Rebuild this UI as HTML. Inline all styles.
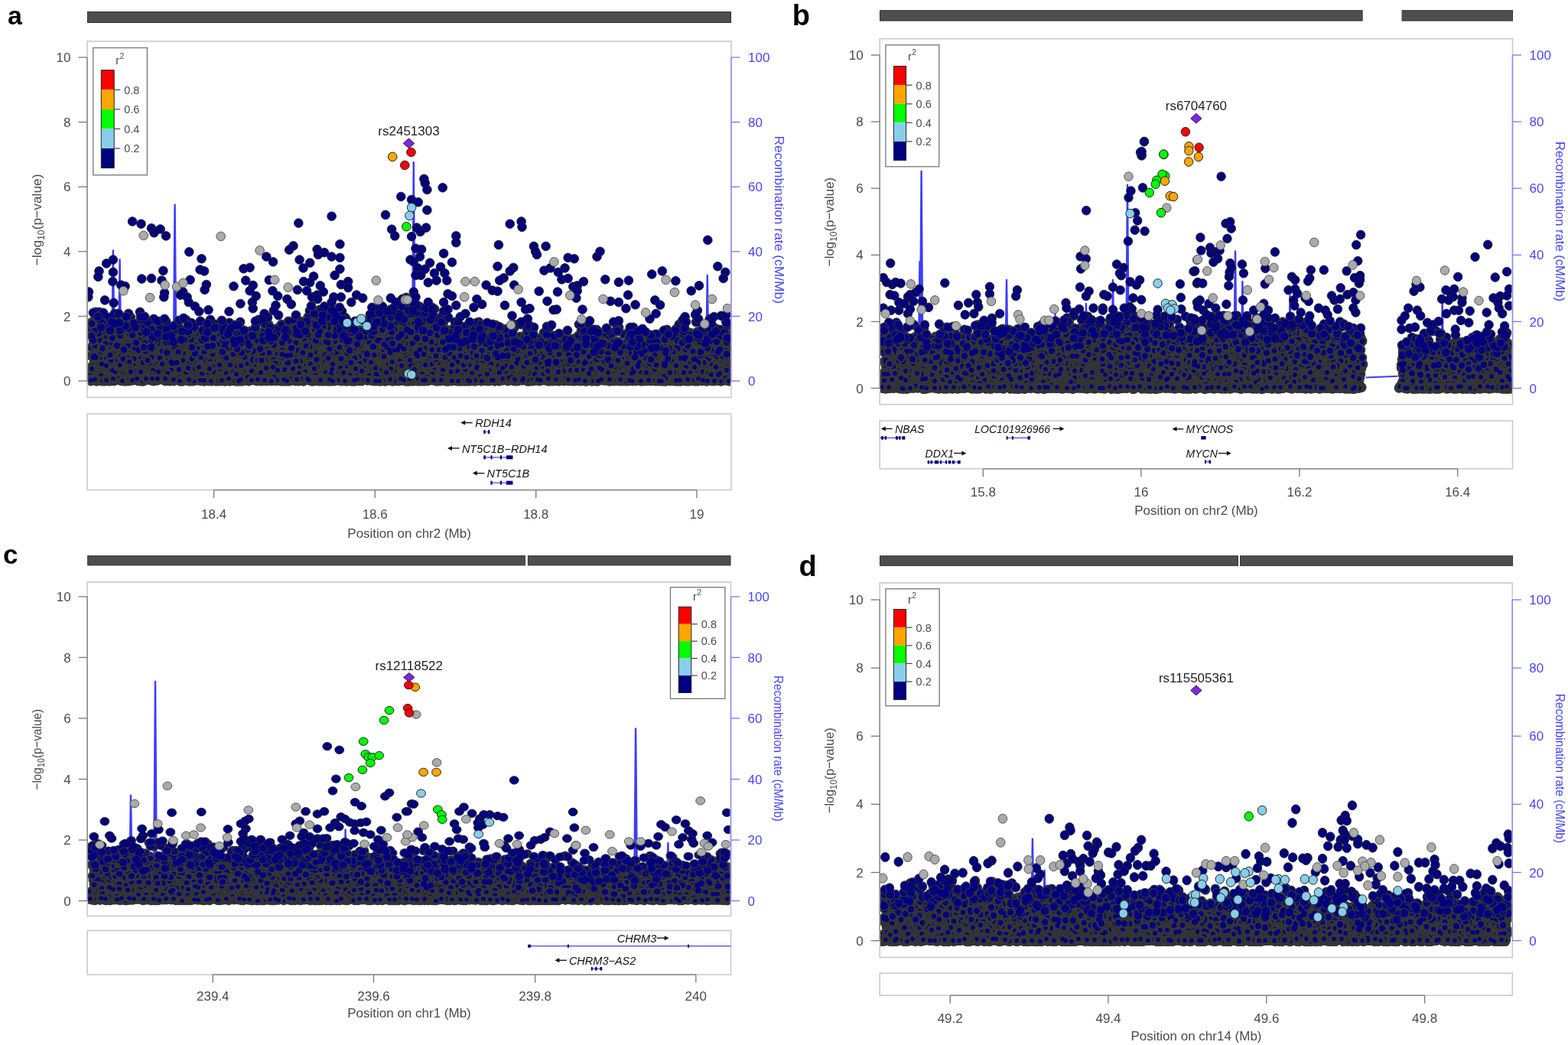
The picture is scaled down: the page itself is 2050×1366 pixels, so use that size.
<!DOCTYPE html><html><head><meta charset="utf-8"><title>Regional association plots</title><style>
html,body{margin:0;padding:0;background:#fff;width:2050px;height:1366px;overflow:hidden}
svg{display:block}
text{font-family:'Liberation Sans', Arial, Helvetica, sans-serif}
.tk{font-size:17px;fill:#4a4a4a}
.rt{font-size:17px;fill:#4646ff}
.gn{font-size:14.5px;fill:#111;font-style:italic}
.lg{font-size:14.5px;fill:#4a4a4a}
.pl{font-size:38px;font-weight:bold;fill:#000}
circle{r:5.6px}
</style></head><body>
<svg width="2050" height="1366" viewBox="0 0 2050 1366">
<rect width="2050" height="1366" fill="#fff"/><defs><path id="La0" d="M119 430h0m6-7h0m4 3h0m19 0h0m3 15h0m9-15h0m5-2h0m3 19h0m2-5h0m37 4h0m24-9h0m1 14h0m4-12h0m10 14h0m13-12h0m18-7h0m17 2h0m33 12h0m7 8h0m3 0h0m5-9h0m8 0h0m6 5h0m28-7h0m3-1h0m28-12h0m4 4h0m10 8h0m6-12h0m4 6h0m15 8h0m4 4h0m17-7h0m13-6h0m29 1h0m11-10h0m37 12h0m7-14h0m0 12h0m1-10h0m3 4h0m14 21h0m4-8h0m7 9h0m14-12h0m8 7h0m24 6h0m0-16h0m5 10h0m1 9h0m17-11h0m10-3h0m1 16h0m49 1h0m22-5h0m24 4h0m13-10h0m12 2h0m5-2h0m17 3h0m2 3h0m21 10h0m5-10h0m0-5h0m14-6h0m17 11h0m3-2h0m1-7h0m15 4h0m22-14h0m9 20h0m12-2h0"/><path id="La1" d="M129 467h0m10-4h0m6 2h0m7 3h0m14-20h0m14 6h0m14 10h0m16-11h0m3 18h0m9-12h0m56-6h0m13 22h0m3-11h0m5-3h0m1 0h0m10 9h0m3-6h0m9 7h0m4-5h0m2 4h0m7 4h0m2-14h0m2 12h0m29-18h0m17 9h0m1-15h0m28 3h0m4-6h0m5 18h0m27-8h0m7 6h0m6 1h0m27-5h0m12 12h0m1-3h0m32-12h0m24 0h0m14 16h0m51-4h0m9 3h0m15-10h0m8 4h0m10 0h0m1 6h0m0-11h0m1 11h0m2-8h0m1 13h0m19-11h0m0 14h0m6 0h0m2-3h0m1-10h0m5 7h0m3 7h0m22-3h0m7 2h0m0-12h0m9 0h0m3 4h0m22 8h0m6-7h0m0-2h0m4-6h0m10 9h0m3-4h0m47-1h0m2 11h0m4-9h0m33 0h0m13 8h0m5-16h0m8-4h0m1 14h0m1-9h0m1 9h0m1-15h0m15 21h0m14-9h0"/><path id="La2" d="M121 495h0m3-19h0m4 1h0m16 4h0m21-7h0m2 22h0m13-11h0m19-11h0m23 23h0m1-9h0m17 4h0m1-8h0m7 12h0m1-16h0m42 6h0m6-5h0m46 5h0m4-7h0m2 7h0m6 6h0m22 3h0m1-21h0m20 19h0m6-12h0m48-2h0m8 10h0m13-13h0m10 2h0m11 15h0m4-3h0m9-17h0m7 10h0m16 4h0m6-4h0m1 6h0m1-1h0m6-4h0m48 7h0m25-12h0m3 14h0m3-10h0m16 7h0m9-5h0m4 13h0m16-6h0m2-5h0m28 10h0m3 0h0m2-4h0m16-2h0m8-2h0m6 5h0m6 2h0m1-15h0m2 8h0m17 8h0m12-1h0m8 0h0m7-6h0m3 1h0m47-9h0m25 8h0m19 7h0m3-4h0m9-4h0m1-2h0m12 6h0"/><path id="La3" d="M122 496h0m4 2h0m18 0h0m10-3h0m7 2h0m5 1h0m14-1h0m6-2h0m11 2h0m10-1h0m14 2h0m6 0h0m12 0h0m12 0h0m5-3h0m14 2h0m8-1h0m14 0h0m8 2h0m14-1h0m8-2h0m7 0h0m10 2h0m14 0h0m3 0h0m13-1h0m9 1h0m11 1h0m8 0h0m14-2h0m10 1h0m3 1h0m15-2h0m14-1h0m6 0h0m14 3h0m11-1h0m2 0h0m9-2h0m19 2h0m4 0h0m10 0h0m6 0h0m15-1h0m12-1h0m9 1h0m7-1h0m10 2h0m13 0h0m9 1h0m6-1h0m10 0h0m18-1h0m3 1h0m12 0h0m14 1h0m5 0h0m10-2h0m14 0h0m6 0h0m14 0h0m9 2h0m11-1h0m8 0h0m9-1h0m14 1h0m6-2h0m12 0h0m6 1h0m18-1h0m7 2h0m11 0h0m7-2h0m7 1h0m14-1h0m13 1h0m8 1h0m8 1h0m7 0h0m14-2h0m8 2h0m11-3h0m11 1h0m8 1h0"/><path id="La4" d="M157 432h0m17 11h0m17 6h0m5-20h0m5 1h0m16 14h0m19-8h0m7 17h0m4 0h0m0-17h0m17-2h0m11 1h0m11 0h0m6 0h0m10 5h0m12 1h0m23 13h0m1-17h0m20 5h0m2-5h0m7 8h0m1-18h0m16 11h0m10 7h0m11-17h0m7-5h0m18 9h0m13-15h0m0 14h0m7-6h0m11 29h0m10-6h0m33-21h0m9 7h0m10-5h0m3-5h0m8-15h0m9 15h0m2 10h0m12-1h0m8 5h0m8-7h0m1 8h0m2 2h0m8-10h0m20 16h0m14 3h0m53 0h0m27 2h0m3 7h0m18-14h0m20 2h0m6 2h0m7-6h0m3 5h0m2-1h0m4 10h0m8-7h0m23-2h0m38 2h0m10 1h0m18-2h0m22-7h0m6 10h0m11-11h0m17 2h0m34 10h0m2-1h0m1-2h0"/><path id="La5" d="M125 446h0m20 8h0m10 7h0m6 9h0m21-2h0m2-14h0m2 4h0m3 14h0m11-15h0m4 9h0m17 2h0m6-14h0m29 8h0m18 10h0m8-1h0m15-17h0m2 9h0m12 0h0m14 8h0m1-15h0m12 9h0m4 4h0m7-5h0m3 1h0m12 8h0m1-19h0m7 11h0m12 3h0m2-15h0m3 2h0m9-4h0m3 10h0m1 9h0m41-25h0m1 11h0m19 9h0m10 2h0m28-2h0m16-7h0m11 3h0m12-14h0m8 20h0m16 1h0m10-20h0m21 17h0m1-3h0m37 7h0m1 0h0m26 2h0m6-10h0m5 7h0m16-4h0m10 11h0m18 3h0m3-5h0m8-9h0m6 9h0m4-11h0m16 4h0m17-3h0m22 15h0m9-5h0m20 4h0m20 3h0m8-16h0m18 12h0m13-8h0m4-2h0m1 12h0m11-4h0m4-12h0m4-5h0m3 6h0m19 0h0m7 8h0"/><path id="La6" d="M135 497h0m6-23h0m8 6h0m12 16h0m14 1h0m21-15h0m5 12h0m5 2h0m16-20h0m9 2h0m26 10h0m22-12h0m3 15h0m32-14h0m6 5h0m1-3h0m11 2h0m35-4h0m0 16h0m9-12h0m8 14h0m0-3h0m16-16h0m18 14h0m40-2h0m23-13h0m7 10h0m9-1h0m33-2h0m3 16h0m0-29h0m6 15h0m6-7h0m4 10h0m1 7h0m28-3h0m1-12h0m7-2h0m18 11h0m0 6h0m9 4h0m5-19h0m4 18h0m3-11h0m2-6h0m16 11h0m25-2h0m21 8h0m15-3h0m1 1h0m13-9h0m2 10h0m19-10h0m16-5h0m8-1h0m16 5h0m7-1h0m10 12h0m20-13h0m33 13h0m16-7h0m3 3h0m10-1h0m2-1h0m0-8h0m9 0h0m0 6h0m4-7h0m17 17h0m5-18h0m13-2h0m2 3h0m3 0h0m19-3h0"/><path id="La7" d="M122 495h0m11 3h0m1-1h0m14 0h0m9 0h0m13 0h0m10-2h0m10 1h0m12 0h0m4 1h0m16 0h0m9-1h0m12-1h0m4 1h0m13 0h0m7 2h0m13-3h0m14 1h0m4 1h0m13-2h0m5 3h0m9 0h0m18 0h0m2-2h0m10 0h0m16 2h0m8-1h0m14-1h0m4 2h0m9-1h0m9-2h0m17 2h0m9 0h0m5 1h0m16-2h0m4 1h0m14-1h0m14 2h0m10 0h0m6-1h0m10 1h0m7-2h0m9 2h0m13-3h0m6 3h0m14-2h0m14 0h0m3 2h0m11 0h0m10 0h0m11-1h0m15 0h0m7 0h0m13 1h0m6-3h0m14 2h0m7-1h0m11 0h0m4 1h0m19-2h0m4 0h0m8 2h0m17 1h0m1-3h0m12 1h0m17 2h0m8 0h0m7-1h0m15 1h0m11-2h0m5 1h0m8-1h0m12 0h0m6 2h0m19-3h0m7 3h0m8-1h0m15-1h0m4-1h0m10 3h0m10-2h0m13 0h0m11 2h0m7-2h0"/><path id="La8" d="M135 425h0m43 19h0m0-7h0m28 13h0m14-9h0m27 12h0m9-10h0m6-7h0m5 11h0m9-4h0m9-14h0m15 19h0m9-11h0m32 17h0m0-19h0m1 9h0m0 7h0m2-9h0m19-5h0m35-17h0m4 9h0m3-9h0m12 17h0m5-7h0m42 3h0m6 8h0m2-1h0m6 3h0m10-6h0m9-12h0m0 14h0m31-20h0m2-4h0m3-1h0m9 7h0m10 18h0m5-6h0m2 4h0m8-17h0m21 27h0m16-12h0m16 9h0m17-8h0m3 13h0m16 4h0m24 0h0m12-11h0m7 10h0m17-9h0m1 13h0m41-15h0m7 8h0m3 7h0m1-10h0m11-3h0m1 17h0m10 1h0m3-10h0m2-6h0m1 11h0m0-3h0m17 6h0m33-14h0m2 8h0m3 7h0m10-9h0m7 8h0m2-6h0m4 3h0m3-16h0m4 16h0m8-15h0m6-4h0m6-2h0m5 5h0m6 12h0m11-19h0m23 9h0m4-5h0"/><path id="La9" d="M122 451h0m2 1h0m2 2h0m4 15h0m20-19h0m5 19h0m5-20h0m5 8h0m12-1h0m4 15h0m3 0h0m11 1h0m4-20h0m21 16h0m2 6h0m8 2h0m10-19h0m8 10h0m5-12h0m15 15h0m2-15h0m7 9h0m4 6h0m8-4h0m10 6h0m26-15h0m12-1h0m6 6h0m17 11h0m6-19h0m17-5h0m8 20h0m25-21h0m33 17h0m4-11h0m23 18h0m8-3h0m17-11h0m22-16h0m17 15h0m25-12h0m0 19h0m5-4h0m3 6h0m19 2h0m38 5h0m35-1h0m10-10h0m7-1h0m6 15h0m4-5h0m1 6h0m3 2h0m1-3h0m1-4h0m29 2h0m2 5h0m3-9h0m3 2h0m9-5h0m4 10h0m1-8h0m12-7h0m5 7h0m4-1h0m30-4h0m4 0h0m7 11h0m7-5h0m11 8h0m18-4h0m17-12h0m0 13h0m11-5h0m1 8h0m2-3h0m3-15h0m6 5h0m16 12h0m0-11h0m18 9h0m9 0h0m1 1h0m19-6h0"/><path id="La10" d="M126 495h0m15 3h0m8-22h0m36 2h0m12 15h0m2-14h0m8-3h0m7 8h0m23 14h0m15-12h0m39 11h0m1-2h0m3 3h0m9-15h0m6-5h0m8 18h0m11-18h0m52-1h0m9 13h0m3 3h0m24-21h0m19 10h0m12 4h0m25 0h0m4-1h0m14 6h0m14-16h0m35 4h0m26 2h0m1-2h0m4-1h0m21 4h0m12 6h0m3 2h0m8-12h0m22 20h0m32-16h0m33 4h0m18 8h0m12 2h0m31-7h0m18-8h0m3 3h0m14 10h0m22-1h0m1-5h0m4 4h0m6-10h0m33 5h0m3-2h0m12 3h0m28-11h0m21 0h0m5 19h0m8-19h0"/><path id="La11" d="M119 497h0m8 1h0m10 0h0m10-1h0m12-1h0m10 2h0m10-1h0m8 1h0m10-1h0m15-2h0m11 0h0m1 2h0m16 0h0m7-1h0m10-1h0m11 2h0m12-1h0m13 1h0m2 1h0m14 0h0m13-2h0m8 0h0m5-1h0m17 2h0m3-1h0m18 2h0m8-1h0m8-1h0m15-1h0m9 1h0m2 1h0m17 0h0m3-1h0m14-1h0m12 3h0m4 0h0m12-2h0m13 0h0m13 2h0m10 0h0m1-1h0m20-1h0m6 0h0m9 0h0m6 0h0m18 0h0m2 1h0m18-1h0m8 2h0m9-3h0m11 0h0m12 1h0m1 1h0m12 0h0m8 0h0m14-1h0m9-1h0m13 3h0m6 0h0m18-1h0m4-1h0m9 1h0m10-1h0m17 1h0m5 0h0m15-1h0m6-1h0m12 1h0m6 1h0m14 1h0m12-3h0m9 1h0m8 1h0m8-2h0m14 2h0m2-1h0m11 2h0m12 0h0m16-2h0m10 0h0m5 0h0m6-1h0m17 3h0m11-3h0"/><path id="La12" d="M134 436h0m7-14h0m1 8h0m5-2h0m12 3h0m26 3h0m2 6h0m12-7h0m7 9h0m12-3h0m3 9h0m5-2h0m11 8h0m10-5h0m18-4h0m8 5h0m60-12h0m5 12h0m16-2h0m3-9h0m28 7h0m1-14h0m23 9h0m20-5h0m7-2h0m20 1h0m51 0h0m9-13h0m36-3h0m33 16h0m13 4h0m9 8h0m34-12h0m1 7h0m0 1h0m37 4h0m10-7h0m5 1h0m10 9h0m11 4h0m3-2h0m1-5h0m12 4h0m12-9h0m2 2h0m19 7h0m2 0h0m17 9h0m3 0h0m0-6h0m6-4h0m7 6h0m8-1h0m52 2h0m6-3h0m10-7h0m1 4h0m5-10h0m3 14h0m2-17h0m2 3h0m5 14h0m4-16h0m0 6h0m13-10h0m19 5h0"/><path id="La13" d="M141 472h0m14-11h0m23-7h0m3 17h0m0-9h0m13 11h0m5-17h0m13 19h0m6-13h0m7-4h0m8 3h0m6 1h0m36 12h0m2-10h0m30 10h0m10-6h0m19-12h0m2 9h0m4-10h0m59-3h0m8-9h0m22 21h0m13-15h0m3-2h0m5 9h0m2 14h0m6-8h0m12 6h0m18-17h0m12 13h0m26-12h0m14 14h0m18-18h0m4 16h0m4-6h0m2 0h0m1-8h0m19 19h0m2-12h0m2-2h0m5 17h0m6-4h0m13-2h0m7-6h0m2-3h0m19 8h0m5-4h0m4 9h0m40-7h0m28 5h0m20 3h0m4-5h0m13 4h0m46 9h0m6 0h0m5-8h0m34 9h0m20-10h0m7-4h0m1-3h0m8 10h0m4-8h0m6 10h0m8-7h0m10-1h0m12-11h0m3 8h0m4-1h0m12 2h0m3 10h0m1-20h0"/><path id="La14" d="M121 488h0m5-14h0m3 11h0m17-10h0m0 7h0m26 6h0m12-10h0m8-2h0m21 7h0m5 14h0m18-17h0m6 14h0m13-2h0m24-14h0m6 9h0m13-8h0m37-1h0m28 11h0m7-3h0m2-8h0m5 10h0m4-12h0m25 12h0m5-4h0m9-4h0m26-4h0m3 17h0m10-1h0m11-13h0m9 14h0m5-16h0m19 9h0m5-10h0m0 11h0m24-8h0m1 9h0m2-8h0m4-10h0m0 9h0m8 19h0m1-22h0m18-2h0m1 8h0m15-6h0m2 22h0m3-15h0m0 15h0m10-5h0m15-7h0m9 12h0m29-2h0m3-14h0m39 5h0m26 4h0m8-8h0m12 10h0m5-1h0m1-3h0m2 8h0m18-15h0m16 15h0m17-2h0m4-5h0m0-4h0m27-2h0m1 6h0m5-8h0m4 1h0m14 8h0m17 0h0m3-9h0m4 2h0m1 8h0m1-11h0m12 15h0m15-12h0m9 9h0m10 5h0m3-6h0m16-7h0m3 6h0"/><path id="La15" d="M120 495h0m9 1h0m6 1h0m14 1h0m14 0h0m1-1h0m19-2h0m3 1h0m9 0h0m13 0h0m11 1h0m14-1h0m5 2h0m14-1h0m10 0h0m5 1h0m8-3h0m15 2h0m9-2h0m6 1h0m18 0h0m5 0h0m13 1h0m6 0h0m13-1h0m7 2h0m13-3h0m11 1h0m8 1h0m12 0h0m4 0h0m17 0h0m2 0h0m13 1h0m11 0h0m6-3h0m16 2h0m7 0h0m11 1h0m9-3h0m8 1h0m16 1h0m9 0h0m13 0h0m10 0h0m1-1h0m20 2h0m6-2h0m11 2h0m8-2h0m10 0h0m14 1h0m9-2h0m5 3h0m12-2h0m5 2h0m11 0h0m15 0h0m10-1h0m14-2h0m3 3h0m14-2h0m11-1h0m10 3h0m8 0h0m8-1h0m7-1h0m11 0h0m9 0h0m13-1h0m13 1h0m4 0h0m17 0h0m12 1h0m1-2h0m15 3h0m11 0h0m10 0h0m11 0h0m5-1h0m8-1h0m10 0h0m11 1h0m17 1h0"/><path id="La16" d="M119 422h0m17 13h0m14-11h0m10 7h0m11 8h0m3-12h0m4 19h0m28-13h0m3 16h0m7-6h0m18 1h0m2 6h0m13-18h0m0 14h0m11-10h0m10 2h0m15 0h0m7 12h0m1-6h0m13-8h0m42 8h0m22-3h0m5 3h0m5 2h0m32-14h0m26 9h0m12 0h0m10 1h0m4-10h0m21 2h0m2 1h0m21-5h0m8 5h0m7-23h0m9-3h0m2 7h0m10 23h0m9-22h0m14 4h0m4-3h0m3 25h0m7-2h0m27 2h0m2 6h0m26-16h0m9 10h0m4 10h0m1-15h0m3 12h0m24 2h0m8-11h0m4 1h0m6 16h0m7-13h0m4 11h0m21-10h0m14 8h0m2-3h0m6 3h0m3 6h0m1-14h0m9-4h0m37 5h0m3 13h0m14-8h0m10-5h0m4 13h0m16-6h0m9 6h0m13-2h0m15-5h0m12-10h0m7 3h0m10-4h0m2 11h0m26 0h0"/><path id="La17" d="M119 454h0m6-3h0m50 9h0m6-8h0m0 13h0m17-14h0m27 8h0m52 9h0m3 5h0m0-15h0m6 5h0m24-4h0m10 8h0m4-9h0m0 4h0m16 3h0m11-2h0m2 11h0m35-11h0m3-10h0m4 18h0m6-17h0m1-2h0m7 12h0m1-7h0m12-12h0m38 12h0m4 0h0m5 3h0m33 8h0m7-19h0m42 3h0m3 11h0m4-11h0m11 9h0m3 5h0m21 0h0m15 6h0m21-10h0m19 13h0m1-1h0m29-2h0m22-6h0m24 1h0m5 6h0m17 3h0m4-13h0m2 11h0m11-3h0m6-7h0m0 5h0m5 6h0m4-6h0m2 2h0m18 5h0m2-1h0m3 5h0m16-16h0m1 5h0m10-3h0m16 7h0m5 5h0m1-8h0m14-7h0m5 1h0m10 8h0m11-7h0m7 7h0m24 0h0"/><path id="La18" d="M123 479h0m9 3h0m29 8h0m8 0h0m11-13h0m2 18h0m2-6h0m6-3h0m13 4h0m7 1h0m12-9h0m29 2h0m56 1h0m2 0h0m9 1h0m23-5h0m11 13h0m5-14h0m18 9h0m11-5h0m5 5h0m25-9h0m6-10h0m4 26h0m17-11h0m5 11h0m10-9h0m12 7h0m25-4h0m4-4h0m20-8h0m4-6h0m20 4h0m4 12h0m28 1h0m23-6h0m21 7h0m15 3h0m4-5h0m4 3h0m12-11h0m5-1h0m2 0h0m21 11h0m9 4h0m2-7h0m25 3h0m2-1h0m11 7h0m5-1h0m15-12h0m0 10h0m6-6h0m1 4h0m1 6h0m4-9h0m7-2h0m1-1h0m30 9h0m3-5h0m15 1h0m17-6h0m18 3h0m9-2h0m3 13h0m4-1h0m15-9h0m15 2h0m12-13h0m16 0h0m9 20h0m3-3h0m0-2h0"/><path id="La19" d="M120 496h0m10 0h0m7 1h0m14-1h0m4 0h0m19 0h0m7 0h0m7 0h0m13 2h0m13-2h0m4 0h0m8 0h0m9 2h0m16-2h0m5 1h0m17 1h0m7-1h0m9 1h0m7-2h0m16 2h0m12-2h0m8 1h0m6-2h0m12 1h0m9-1h0m11 3h0m14-2h0m2 2h0m13-2h0m9 2h0m6-1h0m14-1h0m7-1h0m13 1h0m14 1h0m11-1h0m11 1h0m2 0h0m18 0h0m10-1h0m9 1h0m8 1h0m8 0h0m11 0h0m7-1h0m8-1h0m18 0h0m3-1h0m14 2h0m11 0h0m9-1h0m6-1h0m9 1h0m12 2h0m12-2h0m8-1h0m16 0h0m8 3h0m7-1h0m10 0h0m14 1h0m9-1h0m7 0h0m9 1h0m13-1h0m14 0h0m3-1h0m8 0h0m14 2h0m9-2h0m6 2h0m18-3h0m11 2h0m8 1h0m5 0h0m14 0h0m12-3h0m3 1h0m11 0h0m16 2h0m7-1h0m5 1h0m17-2h0m5 1h0"/><path id="La20" d="M128 443h0m4-16h0m20 11h0m37 0h0m11 1h0m5-9h0m2 17h0m5 4h0m41-4h0m18-2h0m3 5h0m26 2h0m2-18h0m6 14h0m37-15h0m4 2h0m3 6h0m1 8h0m14-9h0m54-15h0m15 9h0m2-10h0m10 13h0m2 6h0m10 0h0m21-16h0m1 5h0m35-5h0m20 9h0m6-25h0m3 7h0m4 19h0m2-21h0m1 13h0m8 2h0m4-4h0m12 10h0m23 4h0m13 5h0m2 2h0m8-10h0m24 6h0m2 5h0m19-3h0m24-2h0m8 13h0m27 3h0m16-15h0m7-2h0m15 14h0m6 0h0m23-11h0m7 11h0m3 4h0m1-7h0m16 4h0m27 1h0m4 2h0m1-14h0m5 1h0m55 1h0m1 2h0m3 3h0m5-15h0m19-1h0m5-7h0m3 6h0"/><path id="La21" d="M134 458h0m21-9h0m1 8h0m4 7h0m0-13h0m11 11h0m2-6h0m1 2h0m0-7h0m5 7h0m5 12h0m27-10h0m49-7h0m13 6h0m1-6h0m20 6h0m6-3h0m3 15h0m7-13h0m9 16h0m15-16h0m2 5h0m19 6h0m17-8h0m20-1h0m0 12h0m1-24h0m5 15h0m2-13h0m6 1h0m7-5h0m5 23h0m3-5h0m12-2h0m0-13h0m18 5h0m4 3h0m22 14h0m1-1h0m38-18h0m14 7h0m14 8h0m18 0h0m22-3h0m16 4h0m2-7h0m7 15h0m1-15h0m0 12h0m0-5h0m4 4h0m6-17h0m3 14h0m29-9h0m1 6h0m5 6h0m11 5h0m17 0h0m17-12h0m7 3h0m2 10h0m15-9h0m32-3h0m1 3h0m1 6h0m16-10h0m3 7h0m31 2h0m5 0h0m19-2h0m21-7h0m33-4h0m27-6h0m4 15h0m3-1h0m5 2h0m13-11h0m4 3h0m4 8h0m0-3h0"/><path id="La22" d="M121 478h0m25 5h0m4 4h0m8 8h0m23-14h0m12-2h0m8-2h0m14 0h0m11 18h0m17-10h0m0-7h0m2 1h0m0 10h0m18 4h0m9-8h0m0-6h0m15 8h0m26 1h0m25-4h0m27-8h0m9 7h0m9-6h0m35 5h0m6 2h0m21-3h0m17-2h0m12 16h0m41-11h0m6 4h0m5-5h0m2 0h0m2 12h0m29-15h0m6 9h0m3-15h0m7 19h0m0-1h0m7-14h0m8 3h0m2 10h0m7-13h0m17 14h0m7-11h0m1-3h0m3 9h0m36-8h0m7 12h0m2 1h0m4-3h0m13 9h0m7-11h0m7 3h0m10 5h0m27-8h0m0-2h0m1 11h0m21-13h0m29 7h0m3 0h0m13 2h0m48-10h0m1 9h0m18-6h0m9 9h0m1-6h0m2 9h0m5-12h0m8 9h0m22-8h0m2-9h0m23 11h0"/><path id="La23" d="M117 497h0m10 0h0m13-1h0m10 0h0m8-1h0m16 1h0m6 1h0m8-1h0m11 1h0m13-1h0m5 0h0m9-1h0m14 2h0m14 0h0m6-2h0m14 2h0m9 1h0m3 0h0m11-2h0m16 0h0m9 1h0m3-1h0m11 2h0m13 0h0m12 0h0m5-2h0m12 2h0m14-1h0m5-2h0m14 2h0m12 0h0m6 1h0m5-2h0m19-1h0m10 1h0m1 2h0m11-2h0m17 1h0m6-1h0m13 1h0m10-1h0m9 0h0m5 0h0m10 2h0m9 0h0m17-2h0m8-1h0m13 1h0m12 1h0m9-1h0m7 2h0m9 0h0m6-1h0m12 1h0m8-3h0m10 2h0m18-1h0m5-1h0m12 2h0m8-2h0m16 2h0m1-2h0m15 2h0m12 0h0m12 1h0m0-3h0m15 2h0m10-1h0m13-1h0m7 3h0m11-3h0m5 2h0m16 1h0m10-2h0m4 0h0m14 1h0m5-1h0m11 2h0m18-3h0m1 1h0m18 2h0m9-2h0m5 1h0m11 0h0"/><path id="La24" d="M133 422h0m11 25h0m25-14h0m10-6h0m6 22h0m12-15h0m16 11h0m5 6h0m7-10h0m26-3h0m33 11h0m23-2h0m33-2h0m9-6h0m62-17h0m22-5h0m1 5h0m1 18h0m23-2h0m3 9h0m0-4h0m9 0h0m9 2h0m12-20h0m26-2h0m2 17h0m9-6h0m20 3h0m0-23h0m9 13h0m36 2h0m15 16h0m12-9h0m5 4h0m2 1h0m1 1h0m10 0h0m2-6h0m14 8h0m3 4h0m3 6h0m13-7h0m9 3h0m14 1h0m3-10h0m16 2h0m15 10h0m7 3h0m2 1h0m5-1h0m4 2h0m12-5h0m1-2h0m4 4h0m23-12h0m6 2h0m2 2h0m2 7h0m23 0h0m1 5h0m5 3h0m22-3h0m5-2h0m0-14h0m9 1h0m3 7h0m18-10h0m12 7h0m0-10h0m23 15h0m2-15h0m28 3h0m2-9h0"/><path id="La25" d="M119 465h0m13-5h0m46 12h0m47 2h0m8 0h0m4 1h0m10-5h0m9-1h0m0 0h0m0-4h0m33 2h0m2-3h0m3 8h0m36-1h0m1-2h0m17-9h0m15 3h0m22 0h0m2 9h0m1-20h0m12 1h0m19 15h0m1 2h0m0-23h0m25 14h0m18 0h0m3 1h0m43-1h0m4-15h0m14 5h0m10 15h0m1-19h0m3 17h0m17-18h0m7 15h0m0 0h0m17 10h0m19-15h0m11 5h0m1 16h0m13-11h0m0 5h0m16 5h0m14-13h0m13 4h0m8 4h0m4-6h0m4 9h0m7 1h0m3-14h0m5 7h0m3-3h0m1-1h0m2 10h0m2-10h0m1 12h0m6-6h0m12 9h0m12-6h0m9-6h0m14-4h0m2 12h0m2-2h0m1-2h0m24 5h0m20-11h0m5 12h0m4-2h0m1-4h0m4-5h0m14-1h0m12-1h0m1 2h0m2 4h0m18 7h0m12-17h0m33 11h0m16-17h0m19 0h0"/><path id="La26" d="M119 490h0m7-9h0m15-3h0m32 0h0m10 7h0m5 8h0m4-4h0m16 1h0m28 3h0m6-13h0m17 3h0m6 10h0m1-1h0m8 1h0m15 2h0m3-9h0m1-2h0m7 0h0m4 1h0m2-8h0m35 8h0m17-9h0m25 13h0m6-5h0m1 4h0m3 5h0m8-9h0m8 11h0m4-19h0m3 9h0m1-4h0m9 6h0m38 10h0m19-19h0m26 8h0m16 3h0m17-5h0m16-11h0m20 20h0m8-2h0m22-8h0m24 12h0m9-12h0m31 3h0m15 10h0m14-5h0m5 5h0m1-1h0m2 2h0m6-18h0m7 2h0m7 2h0m23 4h0m6 8h0m8 1h0m10-11h0m11 2h0m4 5h0m31 6h0m8-17h0m12 9h0m6-3h0m16 1h0m6 3h0m1 2h0m79-1h0"/><path id="La27" d="M120 497h0m5-1h0m16 0h0m3 2h0m13-1h0m11-1h0m16 2h0m5-2h0m10-1h0m7 2h0m11 0h0m8-1h0m18 0h0m8-1h0m6 2h0m12 0h0m11-1h0m14 1h0m3 0h0m15-2h0m2 3h0m17-2h0m4 1h0m12-1h0m9 0h0m11 2h0m12 0h0m12 0h0m12-3h0m9 0h0m12 0h0m7 3h0m12-1h0m10 1h0m7 0h0m5-1h0m9-1h0m14 2h0m14 0h0m10-1h0m10 1h0m6-1h0m13 1h0m8 0h0m10-3h0m14 3h0m7-1h0m7-1h0m8 0h0m13 0h0m14 2h0m10-1h0m9-1h0m9 1h0m7-1h0m17 0h0m2 1h0m15-2h0m12 1h0m2 1h0m11 1h0m15-2h0m12 0h0m1 0h0m14 2h0m9-1h0m11-1h0m13 1h0m3 0h0m16-2h0m13 2h0m10 0h0m2 0h0m18-1h0m10 0h0m7 2h0m8-3h0m14 2h0m6 1h0m9 0h0m15-1h0m4-1h0m12 1h0m7 0h0"/><path id="La28" d="M122 442h0m5 3h0m3-1h0m2-15h0m25-3h0m25 19h0m18-5h0m7 8h0m14-5h0m7-9h0m11 18h0m11-8h0m17-12h0m10 10h0m6-7h0m7 2h0m8-7h0m0 11h0m1-1h0m4 8h0m17-1h0m5-4h0m30-3h0m11 8h0m13-24h0m17 18h0m16 0h0m1-27h0m0 4h0m5 12h0m5 7h0m1-20h0m5 4h0m0 6h0m5 11h0m6-2h0m37-2h0m17 3h0m11-14h0m3 2h0m8 7h0m15-14h0m1 5h0m17 6h0m3-9h0m23-1h0m13 17h0m8 3h0m22 14h0m1-16h0m12 11h0m5-9h0m8-7h0m5 16h0m4-8h0m6-4h0m25 19h0m1-3h0m11 3h0m9-2h0m2-4h0m3-5h0m5-1h0m41-1h0m27 3h0m10 4h0m4 7h0m20 1h0m13-11h0m26 9h0m20-9h0m25 4h0m20-18h0m0 10h0m3 11h0m7-20h0m4 3h0m7 8h0m9 6h0"/><path id="La29" d="M141 470h0m9-6h0m21 2h0m2 0h0m6-15h0m2 14h0m10-2h0m17 11h0m5-17h0m21 3h0m17 7h0m16-9h0m8 15h0m14-3h0m7-2h0m52 0h0m4 2h0m14 3h0m2-5h0m5-3h0m2-7h0m3 1h0m29-14h0m30 10h0m25 10h0m2 7h0m0-13h0m1 2h0m5 14h0m6-14h0m17 3h0m9-6h0m20-7h0m48 12h0m3-4h0m33 18h0m10-18h0m21 4h0m1-7h0m14 15h0m1 3h0m4-2h0m8-3h0m22 2h0m12-1h0m23-6h0m72-1h0m3 16h0m6-7h0m19 8h0m2-17h0m16 17h0m1-13h0m7 11h0m0-10h0m43 1h0m15-11h0m5 11h0m9 5h0m16-6h0m12 0h0"/><path id="La30" d="M130 488h0m11 8h0m6-2h0m24-12h0m4-7h0m6 23h0m6 0h0m8-23h0m9 22h0m14-5h0m11-12h0m0 0h0m13 1h0m11-5h0m9 20h0m9-9h0m1 0h0m3 2h0m16 8h0m1-7h0m8 8h0m18-21h0m23 10h0m12-1h0m0-1h0m2-4h0m6-1h0m14-4h0m2-2h0m1 18h0m2-7h0m9 3h0m2-7h0m8 5h0m13 2h0m25-16h0m0 23h0m23-4h0m4-1h0m4-9h0m17-7h0m26 8h0m17-2h0m8 9h0m21-9h0m7-4h0m9-2h0m4 7h0m4 4h0m2 3h0m21 10h0m3-2h0m26-5h0m19 0h0m14-5h0m2-1h0m35 2h0m35 4h0m33 6h0m7-12h0m0 12h0m20 0h0m2-1h0m8 0h0m7 0h0m1-9h0m16 4h0m3 0h0m11 5h0m42-10h0m2-2h0m3-5h0m5 18h0m12-13h0m2-4h0m15 15h0m9-17h0m6 4h0"/><path id="La31" d="M120 496h0m9 0h0m14 1h0m10-1h0m4 1h0m15-1h0m12-1h0m1 1h0m13 0h0m6-1h0m11 1h0m13 0h0m11 2h0m10-2h0m8 0h0m7 1h0m12 0h0m10-1h0m12 1h0m14-2h0m3 1h0m19 1h0m7 1h0m6-1h0m10-1h0m11 1h0m10 0h0m11-1h0m12-1h0m8 3h0m13 0h0m6-1h0m8 0h0m10 0h0m11-2h0m13 3h0m10-1h0m9 0h0m13-1h0m3 2h0m16-2h0m10 2h0m3-1h0m18 0h0m10-2h0m7 1h0m11 0h0m7 2h0m17 0h0m5 0h0m9-2h0m12 0h0m6 0h0m15 0h0m9 0h0m7 0h0m15 0h0m10 2h0m9-2h0m11 1h0m6 0h0m13 0h0m11-2h0m11 2h0m11 0h0m3 0h0m8 1h0m14-1h0m8 1h0m12-1h0m9-2h0m14 2h0m10 0h0m5 0h0m16 0h0m11-1h0m4-1h0m12 2h0m5-1h0m15 1h0m7 0h0m14 1h0m12 0h0m7-1h0"/><path id="La32" d="M140 441h0m31-10h0m6-7h0m1 1h0m9 7h0m7 16h0m0-17h0m1-2h0m0 15h0m7 2h0m13 5h0m26-2h0m9-16h0m6 19h0m9-1h0m27-7h0m1 3h0m2 5h0m16-9h0m3-5h0m12 0h0m2 4h0m33 5h0m18-18h0m5 9h0m9-18h0m22 17h0m8-10h0m1 10h0m14 0h0m4 3h0m13-2h0m5-5h0m1 11h0m1-6h0m12 7h0m20-15h0m11 12h0m0-19h0m11 8h0m10-19h0m2 5h0m7 21h0m9-11h0m27 12h0m16 10h0m8-14h0m6 7h0m7-6h0m11 10h0m43 3h0m9-6h0m15 12h0m4-7h0m16 1h0m14-6h0m6 14h0m15-14h0m8 8h0m51 3h0m6 8h0m3-11h0m0-1h0m5 3h0m4-4h0m8-3h0m7 15h0m13-7h0m1-1h0m25-6h0m9 3h0m15-2h0m0-11h0m23 5h0"/><path id="La33" d="M140 471h0m0-3h0m5-11h0m7 3h0m1 11h0m3-20h0m6 15h0m6 2h0m30-1h0m16-6h0m7-4h0m4 0h0m14 14h0m20-15h0m8 6h0m11 1h0m27 2h0m9-7h0m15-3h0m8 6h0m10 0h0m3-4h0m5 11h0m13-11h0m1-3h0m3 7h0m15-13h0m3 10h0m21 2h0m9 7h0m4-23h0m16 21h0m11-5h0m7 10h0m0-15h0m5 0h0m6 11h0m19-6h0m25-17h0m42 12h0m22-1h0m1 11h0m1-11h0m7 16h0m0-16h0m4 6h0m18 3h0m2 7h0m21-9h0m19-4h0m13 16h0m4-13h0m8 15h0m2-6h0m14 8h0m20-9h0m1-1h0m10 10h0m8-16h0m7 17h0m53-11h0m1-4h0m8-1h0m11 2h0m4 6h0m29-4h0m10 4h0m8-4h0m11 9h0m15-15h0m6 16h0m27-19h0"/><path id="La34" d="M120 482h0m10-3h0m4-3h0m9-2h0m22 0h0m15 19h0m44-10h0m7 0h0m12 4h0m6 11h0m6-16h0m9 7h0m12-11h0m12 1h0m13 19h0m4-12h0m13 12h0m10-12h0m17-5h0m6 2h0m21 0h0m11 3h0m8 2h0m5 4h0m10-16h0m19-5h0m8 26h0m24-7h0m19-8h0m3 6h0m24 1h0m5 1h0m17-12h0m10 11h0m17 0h0m2 1h0m23-6h0m40 4h0m10 2h0m12 7h0m2 0h0m6-2h0m5-17h0m3 17h0m10-10h0m28-5h0m4 6h0m12 1h0m2 9h0m13-15h0m16 13h0m27-4h0m1 6h0m8-4h0m15 5h0m2-11h0m12 9h0m9-5h0m6 7h0m1-15h0m8 4h0m9 1h0m2 0h0m5-4h0m8 5h0m26-1h0m15 1h0m8-1h0m17-1h0m12-9h0m20 11h0m1 0h0"/><path id="La35" d="M119 498h0m14-1h0m4 1h0m17-3h0m4 0h0m6 3h0m18-3h0m3 2h0m15-1h0m6-1h0m12 2h0m10 0h0m12-2h0m14 2h0m5 0h0m8 1h0m17-1h0m10 1h0m7-2h0m4-1h0m11 1h0m11 1h0m16-2h0m11 1h0m2 0h0m18-1h0m1 3h0m10-2h0m11 2h0m15 0h0m7 0h0m13-2h0m6 2h0m17 0h0m10-3h0m6 1h0m8 0h0m10 0h0m13 1h0m7-2h0m11 1h0m14 2h0m10-3h0m8 0h0m9 1h0m10 2h0m5-1h0m11-1h0m9 0h0m13 0h0m9 2h0m16-1h0m4 0h0m14-2h0m10 1h0m7 1h0m12 0h0m13 1h0m10-1h0m4 0h0m14-1h0m10 2h0m6 0h0m16-2h0m1 0h0m13 2h0m11 0h0m15-1h0m2-2h0m10 2h0m16 0h0m9-1h0m8 2h0m10-3h0m8 2h0m18-1h0m9 2h0m3 0h0m14 0h0m13 0h0m6-2h0m6 0h0m17 1h0m5-1h0"/><path id="La36" d="M122 427h0m34 1h0m10-2h0m16 7h0m45 20h0m13-6h0m6-11h0m18-3h0m1 3h0m9-5h0m2 9h0m1-3h0m1 3h0m9 0h0m15-6h0m19-1h0m18 21h0m30-21h0m11-7h0m13 9h0m36 5h0m13-3h0m4 7h0m5-14h0m11 19h0m6-14h0m6-3h0m10 11h0m9 0h0m10-18h0m1 3h0m2 14h0m33-21h0m0 12h0m33 2h0m28 10h0m14 8h0m6-2h0m12 3h0m10-15h0m11 14h0m7-5h0m3-9h0m8 0h0m3 10h0m5 5h0m20-1h0m5-7h0m2-4h0m2 3h0m26-1h0m19 6h0m7 9h0m3-17h0m3 3h0m2 3h0m13 9h0m11 4h0m7-2h0m13-7h0m11 3h0m7 5h0m3-9h0m11-1h0m17-4h0m21-2h0m1-2h0m4-3h0m3 5h0m1 11h0m2 0h0m0-12h0m0-4h0m1 12h0m8-14h0m4 5h0m14 2h0m10 9h0m1-16h0m10 16h0m9-1h0"/><path id="La37" d="M124 451h0m14-2h0m4 13h0m3 9h0m1-23h0m21 4h0m5 0h0m3 17h0m6-9h0m4 8h0m5-8h0m2-7h0m30 3h0m9 15h0m17 4h0m18-14h0m22 0h0m14-6h0m13 21h0m5-6h0m10-10h0m2-2h0m9 4h0m28-4h0m30-13h0m9 9h0m6 16h0m20-16h0m1 9h0m3-17h0m2 14h0m6 9h0m43-5h0m38-15h0m4 6h0m1 11h0m5 2h0m3-26h0m4 17h0m26 11h0m7-13h0m22 10h0m32 4h0m49-12h0m9 6h0m7 12h0m1-3h0m9-11h0m4 4h0m33-4h0m2 3h0m1-6h0m2 10h0m2 9h0m24-15h0m6 6h0m7-4h0m3 6h0m9-1h0m19 7h0m0-3h0m4-6h0m5 5h0m4 0h0m25-5h0m2-3h0m10 10h0m19 0h0m19-17h0m23 3h0m5-3h0m1 4h0m2 3h0m11-8h0"/><path id="La38" d="M130 477h0m2 14h0m32 3h0m5-21h0m8 12h0m8 5h0m1-9h0m1 15h0m2-5h0m57-10h0m37 3h0m4-2h0m1 14h0m9 1h0m13-18h0m1-1h0m3 3h0m3 13h0m0-2h0m10 5h0m9-8h0m11 7h0m12-17h0m24 3h0m31 15h0m1-17h0m29 14h0m5-7h0m14-9h0m35 9h0m7 0h0m2 9h0m18 1h0m13-9h0m40-1h0m4 11h0m2-14h0m3 12h0m7-15h0m29 13h0m6-2h0m4 0h0m3 5h0m4-12h0m22-4h0m0 6h0m35-4h0m5 0h0m3 15h0m6-17h0m9-1h0m6 17h0m1-13h0m10 1h0m33 3h0m3-6h0m0 12h0m22-7h0m9 7h0m12 2h0m69-14h0m33 13h0m8-7h0"/><path id="La39" d="M122 495h0m4 1h0m10 1h0m10 0h0m17 0h0m1-1h0m16-1h0m10 2h0m14 0h0m8-2h0m11 3h0m2-2h0m13 1h0m8 1h0m15-1h0m10 0h0m6-2h0m15 3h0m4-1h0m13 1h0m6-2h0m10 2h0m17-2h0m4 1h0m13 0h0m9 0h0m12-1h0m4 0h0m17 0h0m9 0h0m6 2h0m11 0h0m7-3h0m10 1h0m19 0h0m11-1h0m9 0h0m7 2h0m11-2h0m10 2h0m6 0h0m13 1h0m5 0h0m18-2h0m4 0h0m14 2h0m5 0h0m11-2h0m15-1h0m11 0h0m4 2h0m14 0h0m9 1h0m5-2h0m9 1h0m18 0h0m5 0h0m9-1h0m11 0h0m11 0h0m10 0h0m9 1h0m17-2h0m6 3h0m12-1h0m5 0h0m13 1h0m14-1h0m10-1h0m3-1h0m12 3h0m12 0h0m10-2h0m12-1h0m2 1h0m19-1h0m7 2h0m6-2h0m15 0h0m12 2h0m1-1h0m14 0h0m9 0h0m16 0h0"/><path id="La40" d="M129 436h0m16 1h0m37-13h0m7 6h0m1 18h0m2-21h0m14 10h0m0-4h0m9-3h0m14 18h0m0 6h0m8-15h0m9-1h0m40 11h0m10 2h0m10-11h0m9 1h0m0 7h0m1-14h0m11-1h0m10 13h0m17 0h0m9-17h0m20 3h0m11 2h0m16-11h0m47 26h0m9-16h0m5-1h0m3 9h0m9 6h0m9-14h0m2 12h0m3 0h0m14-28h0m21 5h0m8-8h0m4 17h0m11-1h0m32 12h0m12 5h0m28 7h0m0-6h0m16 2h0m1-12h0m26 16h0m10 0h0m10-15h0m7 4h0m9 7h0m10 5h0m1-6h0m24-3h0m7 2h0m1 8h0m3-14h0m7 4h0m6-4h0m37 13h0m9 6h0m4-8h0m11-8h0m1 14h0m8-3h0m28 1h0m8-5h0m4 3h0m9-12h0m1 11h0m1 2h0m6-16h0m23 7h0"/><path id="La41" d="M150 458h0m8 8h0m18-11h0m2-4h0m1 2h0m2 5h0m6 16h0m3-5h0m19-1h0m8-11h0m16 3h0m18 9h0m6-6h0m6 4h0m13-11h0m12 18h0m34-15h0m0 16h0m3-18h0m12 14h0m6-9h0m9-1h0m6 9h0m45-20h0m2 3h0m20 11h0m2-21h0m3 3h0m2 15h0m32 7h0m38-2h0m27-6h0m5-10h0m10 12h0m2 3h0m3-8h0m5 6h0m11-6h0m21 5h0m8 5h0m4 6h0m20-6h0m0-6h0m12-3h0m1 8h0m22-5h0m7-4h0m3 6h0m15-3h0m22 4h0m2 1h0m13 8h0m1 4h0m1 0h0m1-5h0m14 1h0m13 0h0m4 3h0m14-16h0m7 6h0m14-1h0m8 0h0m5-2h0m2 15h0m9-7h0m30-7h0m18 0h0m21 7h0m3-11h0m20 16h0m26-18h0m4 0h0m15 8h0"/><path id="La42" d="M157 477h0m12 18h0m2-9h0m14 7h0m3 5h0m12-14h0m7 2h0m5-10h0m22 7h0m17 12h0m27-16h0m1 7h0m8-9h0m9 11h0m5-11h0m14 1h0m1 20h0m32-9h0m16-14h0m103 16h0m16 0h0m4-9h0m7 14h0m2-13h0m2 15h0m25-6h0m13-21h0m1 7h0m3 0h0m16-1h0m3 16h0m20-9h0m11 2h0m6-2h0m32 8h0m25-5h0m4-6h0m6-3h0m7 9h0m4 6h0m11-14h0m9 12h0m1-4h0m6-5h0m9 8h0m2-2h0m7 10h0m0-1h0m2-3h0m6-3h0m2 3h0m1-8h0m9 10h0m7-12h0m11 13h0m69-9h0m2-6h0m1-1h0m0 5h0m16 1h0m11-4h0m11 6h0m8 0h0m6-2h0m3-9h0m13 2h0m2 17h0m14-19h0m4 17h0m13-5h0m9 7h0m2-10h0m5-1h0"/><path id="La43" d="M115 496h0m11 2h0m8 0h0m12-1h0m9-2h0m18 1h0m2 0h0m11 2h0m15-3h0m11 1h0m4 2h0m10-1h0m17-1h0m5 2h0m15 0h0m10-2h0m9 2h0m9-1h0m5 0h0m11 1h0m10-2h0m12 0h0m9 1h0m13-2h0m4 1h0m17 1h0m8-2h0m6 1h0m8-1h0m13 3h0m13 0h0m12 0h0m10-1h0m12-1h0m7 2h0m8-2h0m7 0h0m11 0h0m14 1h0m11 1h0m4 0h0m11-1h0m12-2h0m8 0h0m12 3h0m7-1h0m9-1h0m15 1h0m13-1h0m9 2h0m9-1h0m12-1h0m8 0h0m5 0h0m12 1h0m13-2h0m13 1h0m5 1h0m8-2h0m8 1h0m11 1h0m11-2h0m7 1h0m17 0h0m12 1h0m4 1h0m7 0h0m16-3h0m6 3h0m11-1h0m11 1h0m11-2h0m8-1h0m16 2h0m6 1h0m8 0h0m14-1h0m9 1h0m10-3h0m8 2h0m12-2h0m5 2h0m18 1h0m1-1h0"/><path id="La44" d="M120 439h0m4-7h0m8-5h0m15 15h0m10-3h0m12-3h0m15-1h0m4-9h0m4 6h0m19-4h0m6 20h0m5-17h0m15 5h0m0 8h0m0-12h0m66 12h0m38 9h0m14-9h0m3 7h0m11-3h0m2-7h0m14-12h0m45-15h0m1 2h0m24 35h0m13-1h0m2 2h0m13-23h0m4 2h0m3-3h0m10 3h0m8-8h0m1 14h0m19-23h0m4 10h0m5-12h0m5 26h0m1-4h0m17 1h0m12 3h0m7 9h0m26-10h0m14 6h0m4 1h0m7-4h0m1 3h0m19 10h0m0-4h0m3 1h0m1-15h0m2 15h0m34-5h0m3 11h0m4-5h0m1 9h0m2-13h0m5 3h0m13-3h0m12 0h0m56 13h0m8-14h0m1 16h0m4-14h0m1 1h0m30 9h0m3 4h0m32-12h0m2 0h0m9-11h0m58 8h0m15-15h0m1 16h0"/><path id="La45" d="M122 467h0m1-2h0m1-13h0m1 15h0m9-11h0m0-1h0m10 9h0m8-10h0m2 1h0m7 14h0m32 2h0m19-12h0m12 14h0m1 2h0m6-1h0m36-14h0m38 3h0m15 4h0m22 4h0m18 4h0m9-12h0m6 2h0m5-1h0m16-3h0m4-9h0m6 12h0m20-17h0m3 1h0m0 20h0m2-12h0m13-2h0m10 8h0m5 12h0m43-24h0m4 4h0m1-10h0m2 7h0m0 4h0m1 6h0m2-18h0m4 14h0m4 0h0m3-5h0m5 4h0m2-16h0m9 9h0m3-3h0m22 1h0m6 18h0m4-8h0m8 10h0m20-2h0m8 2h0m13-2h0m35 0h0m4-6h0m1-1h0m7 3h0m1 1h0m3-1h0m0-3h0m15 16h0m4-12h0m26-1h0m10 16h0m2-14h0m13 12h0m10-7h0m1 4h0m65 3h0m7-7h0m2-3h0m5 14h0m1-6h0m10-5h0m13 9h0m32-9h0m5 1h0m1-12h0m0 10h0m11 3h0m4-2h0m2 6h0m11-16h0"/><path id="La46" d="M133 476h0m6 2h0m45 8h0m15 5h0m20-3h0m34 10h0m7-18h0m14 2h0m3 16h0m32-9h0m5 6h0m10-2h0m5-8h0m12 2h0m6 7h0m1-13h0m9-1h0m1 13h0m4 4h0m1-13h0m48-2h0m22 7h0m1-6h0m0 11h0m1-18h0m30 6h0m8 3h0m18-4h0m1 8h0m3 4h0m18-20h0m23 22h0m6-12h0m36 9h0m13-15h0m7 8h0m39 4h0m26 5h0m6-1h0m0-13h0m14 17h0m16-8h0m17-4h0m9 13h0m14-3h0m15-11h0m13 14h0m17-17h0m1 13h0m2-11h0m81 9h0m2 3h0m6-8h0m18 0h0m14-7h0m7 16h0m21-16h0m3 10h0m2-2h0m8 6h0m1-10h0m0 12h0"/><path id="La47" d="M119 497h0m5-1h0m15 1h0m9-2h0m12 3h0m13-1h0m6-2h0m12 0h0m8 0h0m7 0h0m10 0h0m11 1h0m8 2h0m12-2h0m15 1h0m5 0h0m9 1h0m14-1h0m9-2h0m13 3h0m3-2h0m14 1h0m8-1h0m9 1h0m9 1h0m16-2h0m4 2h0m13-2h0m14-1h0m2 2h0m15 0h0m12-1h0m4 2h0m16 0h0m12-1h0m4-1h0m14 1h0m10 1h0m5 0h0m14-2h0m14-1h0m4 2h0m8-2h0m17 2h0m3 0h0m11 0h0m10 0h0m14 1h0m8 0h0m13-1h0m2 1h0m16 0h0m13-1h0m2 0h0m12-2h0m16 1h0m10 1h0m1-2h0m19 1h0m4 1h0m10-2h0m10 1h0m16 0h0m9 1h0m5-1h0m8 2h0m17 0h0m4-2h0m11 0h0m14 0h0m12 1h0m4 1h0m11 0h0m10-1h0m14 1h0m3 0h0m19-1h0m5 0h0m10-1h0m14-1h0m6 2h0m6 1h0m9 0h0m19 0h0"/><path id="La48" d="M120 439h0m2-19h0m0 25h0m17-24h0m14 31h0m4-24h0m5 29h0m9-42h0m2 23h0m5 10h0m5-27h0m5 33h0m9 0h0m1-10h0m0 11h0m0-2h0m1-24h0m40 6h0m2 9h0m14 18h0m21-8h0m3-12h0m1-11h0m6-5h0m5 18h0m2 10h0m2-6h0m0 8h0m2-28h0m8 0h0m4 9h0m0 18h0m7 6h0m8-22h0m5-1h0m11 18h0m14-10h0m11-9h0m12-17h0m4 35h0m3-19h0m0-17h0m18 18h0m0-13h0m11 21h0m16-7h0m9 1h0m2-7h0m1-4h0m5 8h0m8-4h0m4 14h0m3-11h0m17 5h0m2-2h0m7-18h0m2 11h0m4-17h0m10 8h0m5-8h0m4 20h0m1 15h0m13-37h0m19 30h0m18-22h0m4-1h0m3 3h0m9 12h0m1-17h0m1 15h0m6 29h0m18-30h0m3 11h0m10-12h0m30 32h0m2-25h0m0 0h0m0 2h0m1 28h0m6-2h0m7 0h0m11-7h0m25 12h0m11-35h0m16 38h0m0 1h0m21-3h0m12-26h0m5-6h0m11 2h0m0 18h0m19 11h0m4-23h0m16-10h0m11 24h0m1 4h0m0-5h0m20-20h0m4 30h0m1-28h0m12 15h0m1-6h0m3-7h0m1 3h0m4 15h0m2-6h0m11-11h0m13 7h0m13-18h0m4 30h0m3-31h0m5 6h0m0 8h0m16-2h0m4-6h0m6-13h0m0 37h0"/><path id="La49" d="M120 423h0m20 6h0m28 1h0m13-2h0m13-5h0m7 14h0m6-13h0m11 37h0m16-33h0m13 1h0m0 0h0m4 25h0m3-24h0m10 15h0m7 8h0m7-1h0m12-23h0m1 31h0m2-20h0m4-11h0m13 27h0m14-8h0m2 4h0m20-28h0m0 20h0m5-20h0m10 6h0m1 7h0m6-13h0m1 7h0m8 3h0m26-20h0m3-5h0m10-2h0m0 31h0m2-5h0m16-20h0m13 15h0m10 30h0m6-29h0m4 21h0m13 13h0m6-24h0m2 14h0m5-31h0m18-7h0m10 26h0m4-4h0m3-38h0m0 24h0m4 8h0m5 3h0m12-19h0m3 6h0m4 22h0m6-8h0m1-22h0m1-2h0m7 7h0m6-4h0m3 7h0m0-4h0m2 40h0m5-3h0m6-9h0m0 9h0m5-19h0m22 18h0m17 15h0m4-14h0m31 2h0m12-3h0m5-19h0m8 2h0m11 15h0m13-7h0m9 4h0m4-10h0m12 33h0m8-7h0m2-25h0m5 3h0m5-10h0m9 19h0m16-15h0m5 3h0m0 13h0m11-3h0m15-8h0m2 3h0m6 23h0m2-8h0m7 3h0m4-4h0m5-18h0m3 1h0m7 13h0m5 1h0m6-11h0m0 33h0m0-1h0m1-15h0m0-20h0m1 17h0m2 11h0m11-39h0m8 18h0m24 12h0m8-33h0m1 28h0m1-29h0m2 20h0m7-17h0m2 18h0m2 13h0m2-3h0m1-17h0"/><path id="La50" d="M125 408h0m5 0h0m1 10h0m23 2h0m3 12h0m18-9h0m2 5h0m12 3h0m11-12h0m5 19h0m5-10h0m13 18h0m4-14h0m7-13h0m34 23h0m10-13h0m4-5h0m2 4h0m16-6h0m13 5h0m1-6h0m6 18h0m24 1h0m11-7h0m18-2h0m0 10h0m16-14h0m12-7h0m11-13h0m6-2h0m11 0h0m2 10h0m20 0h0m1 1h0m0 21h0m11-15h0m4-2h0m12 12h0m1-2h0m23-20h0m7 16h0m13-9h0m4 3h0m17-11h0m0-11h0m9 12h0m5 6h0m4-11h0m24 10h0m1 27h0m4-7h0m4-14h0m12 24h0m1-18h0m10 11h0m3-7h0m0-7h0m1 9h0m4-12h0m3 6h0m15-2h0m9 17h0m9-12h0m8-5h0m2 4h0m2 17h0m14-19h0m2 1h0m2 18h0m1-20h0m5 2h0m8 19h0m9 4h0m5-13h0m8 14h0m12-8h0m1 0h0m3 0h0m16-11h0m6-9h0m4 4h0m1 9h0m2 2h0m6-2h0m0 1h0m30-10h0m14 4h0m9 3h0m7 15h0m2-15h0m16 2h0m2 0h0m13-6h0m16-7h0m10 20h0m12-23h0m3 20h0m4-9h0m11-15h0m2 16h0m11-2h0"/><path id="La51" d="M122 409h0m13 0h0m0 2h0m8 4h0m7-5h0m18 0h0m22 15h0m8 6h0m3-14h0m5 24h0m1-21h0m11 14h0m0-7h0m9-1h0m20-4h0m4 1h0m11-3h0m13-2h0m14 8h0m3-1h0m0 8h0m18 9h0m6-7h0m89-29h0m8 5h0m1 14h0m3-17h0m10-5h0m12 3h0m4 17h0m2 9h0m1-1h0m1-24h0m1 26h0m10-4h0m6 3h0m7-14h0m28-4h0m3 9h0m8-18h0m6 1h0m7 5h0m5 6h0m3-22h0m0-6h0m6 21h0m10 10h0m0 8h0m9-19h0m2-7h0m6 0h0m1 0h0m6 26h0m9-21h0m30 28h0m2 8h0m11-21h0m2 2h0m2 15h0m9 9h0m3-6h0m9-17h0m6 3h0m22-4h0m14 1h0m7 13h0m18-1h0m10 2h0m15 16h0m17-31h0m4 7h0m3 9h0m7-3h0m7 7h0m0-13h0m2 0h0m3 3h0m16 2h0m3-2h0m5-4h0m17-2h0m4 0h0m5 25h0m1-17h0m2 7h0m15 1h0m7 3h0m10-15h0m15 3h0m9-15h0m2 13h0m17-12h0m0 15h0m3 2h0m8 11h0m3-6h0m6-8h0m1 2h0m9 0h0m3 2h0m3-4h0"/><path id="La52" d="M128 414h0m36 12h0m1-12h0m18-6h0m1 10h0m9 3h0m6 18h0m2 2h0m16-21h0m0 20h0m7-1h0m3 8h0m11-14h0m5-15h0m3 15h0m4-11h0m4 5h0m8-7h0m3 12h0m11-3h0m5-1h0m9-9h0m8 18h0m3-7h0m6-5h0m4 0h0m4 22h0m4-15h0m15-4h0m3-8h0m1-2h0m2 0h0m4 27h0m6-30h0m3 13h0m35 8h0m0-7h0m4 8h0m2-12h0m17-15h0m38 29h0m4-13h0m1 19h0m1 0h0m9-25h0m16 1h0m3 8h0m1-18h0m4-1h0m0 23h0m25-26h0m1-4h0m11-3h0m9 6h0m6-2h0m0-9h0m9 6h0m4 31h0m5-29h0m5 15h0m3-6h0m2-8h0m13 28h0m17 3h0m1-13h0m1 24h0m14-25h0m14 4h0m1 19h0m1-6h0m11 8h0m2-7h0m9-12h0m13 21h0m5-24h0m11 0h0m8 20h0m14 5h0m12-22h0m3 1h0m0 27h0m3-3h0m10-16h0m11-4h0m22 1h0m13 0h0m12 16h0m6-17h0m9 22h0m3-6h0m2 0h0m0-16h0m15 21h0m27-15h0m28 1h0m4-7h0m18 11h0m26-14h0m1-11h0m21 2h0m1 21h0"/><path id="La53" d="M132 428h0m12 4h0m2-11h0m3 2h0m6-13h0m1 12h0m28-8h0m5 0h0m2 20h0m15 2h0m9-19h0m22 27h0m3-28h0m6 9h0m25-2h0m0 11h0m35 11h0m1 4h0m7-5h0m16-5h0m4-19h0m17 14h0m0 8h0m7-1h0m6-29h0m23 0h0m6 12h0m6 9h0m8-33h0m14 20h0m1-8h0m12-6h0m2 1h0m1 13h0m3-7h0m4-11h0m4 16h0m1 3h0m4-2h0m17 21h0m4-22h0m14 9h0m5-6h0m3-19h0m0 7h0m6-3h0m24-15h0m8 0h0m5 5h0m6 3h0m21 4h0m11 18h0m10 22h0m9-4h0m0 4h0m3-12h0m4 17h0m6-2h0m9-3h0m1-5h0m8-8h0m10-8h0m7 2h0m1 15h0m25-4h0m3 12h0m6 2h0m26 2h0m16-26h0m5 27h0m15 1h0m2-3h0m3-5h0m9 9h0m4-31h0m7 27h0m0-7h0m7-10h0m3-2h0m1 29h0m4-7h0m1-18h0m5 14h0m6-20h0m14 4h0m18 4h0m2 10h0m7-14h0m6-3h0m4 4h0m8 21h0m6-1h0m16-17h0m19-19h0m2 11h0m18-12h0m17 6h0m1 14h0m5-4h0m14-11h0m1 20h0"/><path id="Lb0" d="M1161 456h0m17-16h0m3 2h0m2 15h0m18-2h0m2-3h0m3-8h0m7 11h0m10-14h0m36 9h0m5 13h0m14-10h0m2 1h0m3 9h0m35-20h0m0 20h0m28-11h0m1-8h0m16-4h0m1 5h0m11 7h0m4-14h0m24-5h0m10 1h0m8 19h0m11-23h0m4 8h0m28-4h0m22 2h0m12 9h0m7 0h0m10 1h0m3-8h0m14-3h0m9 2h0m12 8h0m1-7h0m3 2h0m17-9h0m4 2h0m8 12h0m6 8h0m14-9h0m3-4h0m2-10h0m6 12h0m1 13h0m40-8h0m14 5h0m16 4h0m3 1h0m6-24h0m3 14h0m6-13h0m12 22h0m13 2h0m16 0h0m2-11h0m5-3h0m11 4h0m0 1h0m1-6h0m7 4h0m66 21h0m2-8h0m0 1h0m16 2h0m3 2h0m6-6h0m3-1h0m4 0h0m12 0h0m17 0h0m2-2h0m47 7h0m4-6h0m2 6h0m5-15h0m12 3h0"/><path id="Lb1" d="M1158 477h0m5 2h0m38 0h0m29 0h0m13-12h0m16-1h0m3 8h0m0 9h0m13-10h0m27-2h0m0-4h0m5 8h0m18 1h0m24 3h0m0 4h0m19-16h0m3 5h0m7-3h0m27-3h0m4 12h0m19-16h0m1-1h0m14 11h0m27 8h0m7-6h0m13-7h0m7 3h0m3-6h0m6 16h0m1-14h0m2-7h0m57 22h0m4-24h0m9 14h0m0-4h0m13 7h0m42-9h0m5 14h0m21-16h0m12 19h0m33-22h0m7-1h0m20 23h0m6-7h0m10 4h0m15-12h0m3 8h0m5-11h0m7 19h0m55-3h0m3 9h0m12-7h0m13 2h0m1-9h0m1 2h0m0-1h0m21-5h0m5 2h0m27 10h0m3 0h0m6-7h0m23-3h0m6 6h0"/><path id="Lb2" d="M1156 491h0m1-5h0m23 17h0m35 2h0m2-16h0m3 2h0m17-3h0m4 8h0m4-9h0m1 1h0m3 3h0m4 2h0m4 4h0m5 4h0m5 2h0m14 2h0m0-14h0m16-4h0m9 18h0m8-6h0m25-11h0m27 18h0m3-16h0m7-5h0m39 8h0m3 9h0m23 3h0m1-11h0m11 14h0m3-23h0m1 22h0m2-15h0m29 5h0m5 9h0m7-10h0m19-4h0m18 14h0m21-3h0m17-3h0m13-2h0m14-1h0m19-5h0m4 13h0m4 2h0m2-10h0m9 2h0m28 0h0m3-4h0m8-2h0m2-4h0m2 3h0m39 12h0m26-14h0m87 15h0m9-7h0m11-7h0m53 2h0m4 14h0m8-3h0m12-9h0m13 1h0m15-2h0"/><path id="Lb3" d="M1155 507h0m14 0h0m6 0h0m11 1h0m14-3h0m5 0h0m14 1h0m5-1h0m7 2h0m9 0h0m20-1h0m2 1h0m17 0h0m5-2h0m6 0h0m16 2h0m10-1h0m11-1h0m6 3h0m17-2h0m5 1h0m11 1h0m7-3h0m11 2h0m9 0h0m9-2h0m14 2h0m11-1h0m3-1h0m10 1h0m19 2h0m8-2h0m5-1h0m9 1h0m15 1h0m7 1h0m8 0h0m14-2h0m15 0h0m9 1h0m9 0h0m3-1h0m15 0h0m11 1h0m6 0h0m12-2h0m13 1h0m4-1h0m16 3h0m11-3h0m7 2h0m12-2h0m10 2h0m4-1h0m13 1h0m6-1h0m13 2h0m13-1h0m10 0h0m11-1h0m10 1h0m2-2h0m15 0h0m61 0h0m4 1h0m9 2h0m13 0h0m13-3h0m9 2h0m10-2h0m8 2h0m14-1h0m12 1h0m7 1h0m6-3h0m14 1h0m4 0h0m11 2h0"/><path id="Lb4" d="M1163 455h0m7 3h0m26 3h0m18-11h0m7 12h0m1-4h0m9-6h0m4-4h0m10 0h0m3 4h0m5 8h0m0-8h0m5-7h0m59 15h0m20-12h0m10 6h0m4-15h0m2 10h0m17-10h0m13 13h0m3-6h0m3 7h0m2-21h0m1 7h0m1 4h0m8 12h0m11-25h0m3 20h0m7-16h0m0-6h0m5 20h0m2-19h0m1 17h0m30-3h0m5-13h0m27 0h0m15 17h0m17-13h0m6 3h0m1-4h0m1 13h0m7-1h0m12 4h0m15-2h0m6-13h0m27 4h0m8 16h0m7-21h0m14 21h0m63-10h0m16 3h0m1-7h0m5-1h0m9-5h0m20 26h0m4-20h0m1 20h0m2-12h0m30-6h0m55 15h0m13 10h0m9 5h0m7-4h0m33-3h0m3-4h0m3 6h0m1-15h0m5 6h0m19 10h0m3-13h0m20-4h0m15-2h0m4 11h0m1-8h0m2 7h0"/><path id="Lb5" d="M1183 463h0m13 19h0m7-11h0m2 8h0m21 3h0m2-4h0m4-5h0m2 9h0m3-3h0m17-6h0m5 1h0m5 9h0m2 1h0m19-19h0m1 5h0m18 11h0m24-9h0m10-2h0m9 3h0m5-12h0m26 7h0m26 13h0m5-16h0m8 2h0m14-8h0m0-3h0m6-2h0m17 18h0m1-7h0m10 4h0m19-13h0m3 22h0m24-8h0m5-12h0m19 8h0m1 15h0m10 0h0m3-22h0m2 12h0m11-15h0m1 20h0m77-19h0m24 10h0m17-2h0m6 4h0m32 7h0m12-17h0m8 15h0m2-11h0m7 20h0m10-20h0m20 4h0m56 18h0m10-3h0m11-4h0m31 3h0m10-5h0m2-1h0m12 0h0m4-3h0m33 1h0m12 11h0"/><path id="Lb6" d="M1159 501h0m3-5h0m14 1h0m2 8h0m7-12h0m1 6h0m4-5h0m18-2h0m15 7h0m11 1h0m2 6h0m20 0h0m38-15h0m8 15h0m8-2h0m17-9h0m2 8h0m4-7h0m18 0h0m3-6h0m5 11h0m4 3h0m23-12h0m10-8h0m1 9h0m21 8h0m5-13h0m2-1h0m10 0h0m4 2h0m4 1h0m1-5h0m22 12h0m3-7h0m14 6h0m33 7h0m47 5h0m5-1h0m15-7h0m31-14h0m8-1h0m15 8h0m32-3h0m30-2h0m6 17h0m13-20h0m10 2h0m2 17h0m27-6h0m1-5h0m6 12h0m13-16h0m1 5h0m2 12h0m53-5h0m16 4h0m14-5h0m20-7h0m1-1h0m5 13h0m8-4h0m12-1h0m8 4h0m17-9h0m3 12h0m6-18h0m17 6h0"/><path id="Lb7" d="M1154 507h0m6 0h0m17-1h0m9 1h0m9 0h0m6-1h0m13 0h0m13 2h0m7 0h0m9-1h0m10-1h0m12 0h0m8 0h0m15 0h0m10-1h0m4 2h0m9-1h0m10 2h0m17-3h0m10 0h0m5 1h0m15 0h0m7 1h0m11-1h0m12-1h0m3 2h0m13 0h0m15-1h0m10 1h0m7 0h0m12-2h0m5 3h0m11-3h0m8 3h0m14-2h0m9 1h0m14-1h0m11-1h0m2 1h0m14-1h0m8 3h0m11-3h0m10 2h0m6 0h0m12-1h0m9 1h0m15 0h0m8-2h0m14 2h0m11-1h0m10-1h0m3 0h0m17 1h0m5 1h0m12-2h0m6 2h0m17-1h0m9-1h0m8 1h0m11 0h0m6 0h0m8-1h0m18 1h0m54-1h0m6 0h0m9 0h0m15 0h0m10 2h0m7 0h0m14 0h0m9-1h0m4 1h0m11-2h0m9 2h0m14 0h0m8 0h0m15-1h0m6 2h0"/><path id="Lb8" d="M1158 438h0m10 21h0m5-13h0m1-2h0m8-1h0m6 6h0m9-8h0m13 7h0m12 0h0m5 12h0m42-5h0m5 2h0m4 1h0m9-4h0m21 8h0m48-3h0m30-2h0m4-18h0m8 16h0m3-20h0m6 16h0m17-9h0m5-2h0m2 7h0m27-10h0m2 14h0m8-1h0m17-19h0m43 20h0m19 4h0m35-4h0m9-8h0m3 7h0m3-17h0m12 7h0m45-1h0m3-1h0m19 10h0m20 1h0m9-16h0m24 20h0m4-1h0m25-4h0m11-3h0m6-5h0m2 14h0m56 16h0m12-2h0m1-2h0m23-10h0m7 4h0m35-2h0m17 7h0m0-11h0m6 11h0m10 3h0"/><path id="Lb9" d="M1175 478h0m10-9h0m2 3h0m2-1h0m3-2h0m2 13h0m16-18h0m30 20h0m8-14h0m3 1h0m1-6h0m5 5h0m4 6h0m16 9h0m7-9h0m3-7h0m8 16h0m9-9h0m1-7h0m1 15h0m1-3h0m8 2h0m8-6h0m55-7h0m3 2h0m8-7h0m16 2h0m12 3h0m15-1h0m23-2h0m6 6h0m14-11h0m4-6h0m4 1h0m7 10h0m2 9h0m5-10h0m10 10h0m2-3h0m25 4h0m5-2h0m21 7h0m2-16h0m8 5h0m14 1h0m3 0h0m1 2h0m37-5h0m8-3h0m21-2h0m36 14h0m1-7h0m5 6h0m17-17h0m10 14h0m2-2h0m21 4h0m28 6h0m65 0h0m1-3h0m4 5h0m11 4h0m34-11h0m7 8h0m11-13h0m34 5h0m7 5h0m16 6h0m9-3h0"/><path id="Lb10" d="M1167 492h0m28 9h0m3-10h0m1-3h0m1-1h0m9 11h0m23 2h0m0-2h0m4 7h0m34-15h0m14-3h0m25 5h0m15 8h0m3 5h0m10-15h0m2 10h0m35-13h0m9 18h0m13-12h0m5 13h0m1-4h0m1-7h0m3 0h0m18-2h0m1 10h0m4-10h0m6 12h0m10-17h0m2 4h0m8 2h0m13 2h0m2 9h0m15 0h0m3-15h0m17 16h0m3-4h0m9-16h0m1 18h0m18-18h0m11 22h0m1-13h0m19 9h0m2 1h0m5-7h0m2 10h0m17-25h0m20 15h0m1 0h0m5 2h0m5-18h0m3 6h0m39 9h0m15-14h0m5 10h0m1-7h0m11 16h0m10-4h0m4 5h0m1-4h0m55-10h0m8 2h0m63 14h0m2-5h0m1-2h0m7-6h0m8 2h0m16-5h0m25 3h0m1 5h0m15-4h0m3 11h0m2-5h0m8 6h0m4 0h0m0-11h0m2-4h0m3 14h0m9-11h0m6 9h0"/><path id="Lb11" d="M1153 507h0m9-2h0m15 1h0m7-1h0m12 1h0m11 2h0m9-1h0m12 0h0m10 1h0m2-1h0m13-1h0m15-1h0m11 1h0m3 1h0m14-1h0m12 1h0m6-1h0m16 2h0m5-3h0m12 0h0m6 1h0m14-1h0m13 2h0m2-1h0m15 1h0m5-2h0m12 0h0m6 2h0m18-2h0m8 0h0m14 1h0m10-1h0m6 0h0m6 2h0m10-2h0m15 1h0m9 1h0m8-2h0m8 1h0m17 1h0m2-1h0m19-1h0m3 2h0m15-2h0m6 1h0m12 1h0m6-1h0m18-1h0m3 2h0m16 1h0m8-3h0m11 0h0m9 2h0m10-1h0m9 0h0m4 1h0m17-2h0m9 0h0m11 1h0m9 0h0m5 1h0m17 1h0m2-2h0m61-1h0m15 0h0m7 1h0m12 0h0m12 1h0m5-2h0m13 1h0m8 0h0m9 2h0m7 0h0m12-2h0m14-1h0m12 1h0m3-1h0m15 3h0"/><path id="Lb12" d="M1155 459h0m3-19h0m1 18h0m5-4h0m24-3h0m2 4h0m13 0h0m10-6h0m8-4h0m45 2h0m2 11h0m24-2h0m16-9h0m26 15h0m10-20h0m12 4h0m1 6h0m8 2h0m33-20h0m25 5h0m0 13h0m18-2h0m8 1h0m8-9h0m16-13h0m39 2h0m3 3h0m0 4h0m8-6h0m3 7h0m5 4h0m9-6h0m8 12h0m49-17h0m1 23h0m23-19h0m33 10h0m8-3h0m15-8h0m16 6h0m5 4h0m21-4h0m3-1h0m30 18h0m4-2h0m6-9h0m17-5h0m1 4h0m62 15h0m28 8h0m27-17h0m1-2h0m4 4h0m39 10h0m7-8h0m22 4h0"/><path id="Lb13" d="M1161 476h0m10 8h0m11-19h0m9-3h0m5 22h0m14-3h0m27-5h0m2 4h0m4-16h0m19 7h0m8-7h0m7 14h0m4-4h0m6 7h0m3-15h0m17 1h0m19-3h0m3 11h0m9 2h0m6 0h0m5 5h0m2-17h0m5 0h0m18 13h0m7-19h0m7 22h0m0-21h0m2-3h0m19 4h0m14 6h0m0-5h0m2-1h0m1-5h0m26 3h0m12 14h0m18 0h0m1 0h0m40-15h0m16-1h0m3 19h0m14-2h0m1-12h0m30 15h0m2-7h0m21-7h0m12-4h0m6 15h0m17-2h0m4-14h0m1-1h0m19 9h0m11-3h0m16 13h0m6-12h0m3 3h0m13-6h0m7 13h0m13-11h0m30 11h0m14 3h0m50 4h0m7 1h0m34 7h0m29-4h0m25 2h0m5-13h0m2 0h0m3 13h0m19 1h0"/><path id="Lb14" d="M1158 508h0m1-4h0m25-19h0m28 20h0m9 1h0m5-9h0m1-4h0m3 12h0m11-12h0m1 6h0m9-1h0m30 8h0m6-2h0m5-17h0m32 0h0m2 14h0m24-10h0m0 9h0m3-9h0m4 12h0m34-13h0m10 10h0m21 4h0m2 0h0m21-10h0m23-2h0m2 3h0m2-7h0m4 17h0m8-15h0m11 8h0m13-4h0m6 13h0m49-8h0m3-6h0m4 6h0m8 5h0m0-20h0m19 10h0m0 13h0m9-17h0m1 15h0m2-7h0m5-3h0m19-1h0m5 12h0m13-22h0m11 17h0m7-11h0m4 18h0m1-6h0m20-10h0m31 4h0m4-9h0m27 2h0m2 15h0m22 2h0m58-4h0m2-8h0m13 13h0m2-3h0m2 3h0m0-11h0m3 2h0m1-5h0m10 10h0m5 5h0m1-9h0m2 3h0m3-12h0m0 11h0m25 6h0m12-12h0m13 8h0m0-9h0m1 0h0m14 6h0m16-2h0m5-9h0"/><path id="Lb15" d="M1157 507h0m11 0h0m9-2h0m8 3h0m6-2h0m11 0h0m8-1h0m13 2h0m11 0h0m14-1h0m6 0h0m14 1h0m10 0h0m8-1h0m8 2h0m16-1h0m2 1h0m12-1h0m15-2h0m11 1h0m4 1h0m16-2h0m6 2h0m8-2h0m13 1h0m6 2h0m10-3h0m15 2h0m11-1h0m9-1h0m12 2h0m7-2h0m6 0h0m15 1h0m12 1h0m1 0h0m10 1h0m13-1h0m14-1h0m7 1h0m6 1h0m16-3h0m11 2h0m11-2h0m1 2h0m16 0h0m5-2h0m11 3h0m14-2h0m12-1h0m11 2h0m11-2h0m8 2h0m7-1h0m10-1h0m7 1h0m17 1h0m8-1h0m7 1h0m13-1h0m4 0h0m11 0h0m12 0h0m60 0h0m7 0h0m17 0h0m2 1h0m10 1h0m13-3h0m10 2h0m11 1h0m5-2h0m15 2h0m6-2h0m14 1h0m11-2h0m4 0h0m11 0h0"/><path id="Lb16" d="M1155 444h0m18 13h0m2-6h0m2 5h0m10-1h0m4 1h0m7 4h0m27-13h0m24 7h0m29-9h0m0 18h0m5-7h0m15 4h0m5-15h0m22 10h0m17 5h0m23-8h0m17-10h0m12-4h0m1-2h0m3-4h0m13 4h0m0 5h0m8 11h0m2 1h0m18-7h0m23 4h0m3-20h0m3 0h0m11 16h0m10-14h0m12 10h0m5 4h0m7 10h0m4 0h0m9-17h0m19-3h0m15 0h0m2 4h0m3-7h0m7-3h0m15 22h0m5-18h0m14 6h0m16-8h0m2-2h0m55 12h0m3 13h0m20 0h0m15 2h0m3-6h0m10-14h0m2 12h0m18-11h0m25 1h0m0 2h0m2 4h0m58 15h0m30 11h0m30-5h0m8-15h0m6 16h0m12 1h0m2-7h0m6 0h0m1-3h0m19-6h0m22 2h0"/><path id="Lb17" d="M1165 465h0m10 7h0m5 1h0m23 10h0m17 1h0m9 0h0m10-16h0m10-2h0m15 0h0m14 10h0m1 7h0m25 1h0m20-14h0m6 8h0m6 7h0m12-12h0m2-12h0m29 0h0m6 7h0m46-6h0m9 11h0m4-8h0m8-1h0m3-7h0m6 20h0m1-1h0m3-18h0m8-4h0m1 11h0m2-3h0m15 11h0m18-14h0m9 23h0m11-18h0m0 18h0m25-22h0m4 20h0m13-3h0m12 4h0m5-6h0m3 3h0m3-11h0m38 1h0m5 5h0m6-9h0m5 12h0m14 6h0m4-19h0m2 9h0m13 10h0m8-19h0m2 5h0m10-5h0m36 17h0m10-6h0m1 2h0m2-12h0m3 7h0m88 6h0m24 10h0m9-10h0m18-6h0m1 4h0m13 2h0m7 10h0m7-13h0m4 15h0m11 0h0m17-5h0m13-13h0"/><path id="Lb18" d="M1157 497h0m5-10h0m3 4h0m23 6h0m1-8h0m7 13h0m15-10h0m30 11h0m4-15h0m13-1h0m2 3h0m37 10h0m27-11h0m19 0h0m23 15h0m2-6h0m6-13h0m15 23h0m7-15h0m8-4h0m11 11h0m5-9h0m17-1h0m20 0h0m16 0h0m34 17h0m5-13h0m8-10h0m22 11h0m23-6h0m17-5h0m7 20h0m7-6h0m1 4h0m8-12h0m19 13h0m7-19h0m23 9h0m0 1h0m5-11h0m1 9h0m16 13h0m3-11h0m16 8h0m35-4h0m21 9h0m0-11h0m7 1h0m19 8h0m2-16h0m64 16h0m16-9h0m2-5h0m16 1h0m24 1h0m15 13h0m0-3h0m18-5h0m6 6h0m4 2h0m1-9h0m7 10h0m8-7h0m5-9h0m2 16h0m0 1h0"/><path id="Lb19" d="M1157 506h0m3-1h0m16 0h0m11 2h0m5-2h0m17 1h0m3 0h0m16-1h0m5 2h0m10 0h0m16-2h0m1 0h0m16 3h0m6-2h0m18 0h0m6-1h0m11 0h0m13 2h0m1-1h0m12-1h0m10 1h0m15-1h0m3 2h0m14-1h0m15-1h0m8 0h0m7 0h0m7 0h0m13 0h0m9 2h0m9 1h0m15-1h0m11-1h0m1 0h0m20-1h0m8 1h0m2 2h0m16-1h0m9-1h0m11 1h0m10 1h0m7-3h0m11 1h0m12-1h0m12 2h0m6-1h0m8 1h0m11 1h0m12-2h0m6-1h0m18 0h0m6 1h0m12 1h0m6-2h0m10 0h0m9 2h0m15-1h0m3 1h0m20 0h0m2 0h0m11-1h0m13-1h0m12 0h0m59 0h0m8 1h0m12 0h0m10-1h0m5 1h0m8 0h0m10 1h0m12-1h0m15 2h0m9 0h0m5-3h0m15 1h0m11 0h0m7 1h0m12 0h0"/><path id="Lb20" d="M1163 441h0m3 13h0m18-3h0m33 10h0m3-9h0m13-9h0m16 5h0m25-3h0m8 12h0m13-4h0m16 1h0m7 4h0m7 3h0m0-18h0m3 12h0m4 1h0m8-15h0m14 17h0m3-4h0m7 0h0m22-22h0m17-1h0m28 4h0m4-4h0m16 17h0m16-1h0m24-14h0m14 10h0m3-12h0m3 17h0m3-1h0m6-4h0m6-1h0m14 12h0m7-14h0m11-4h0m29 5h0m4 14h0m20-20h0m10-5h0m4 0h0m7 9h0m11 12h0m4-2h0m17 3h0m20-11h0m3-7h0m8 2h0m44 23h0m6-17h0m18 10h0m5 8h0m7-8h0m3 4h0m89 4h0m1 0h0m18-10h0m3 9h0m2 4h0m3-13h0m14 5h0m8 6h0m12-2h0m3-4h0m13 11h0m6-4h0m12-6h0m0 1h0"/><path id="Lb21" d="M1156 473h0m2 5h0m22-15h0m11 13h0m28-10h0m1 5h0m10 14h0m20-21h0m1 19h0m10-16h0m19 13h0m25-13h0m1 19h0m10-21h0m1 3h0m7 2h0m11 8h0m2 2h0m29-16h0m4 15h0m24-11h0m8-2h0m1 12h0m0 2h0m5-14h0m7 13h0m4-8h0m13-14h0m7 15h0m5-14h0m2 18h0m7 2h0m13 0h0m21-11h0m11 7h0m34-14h0m24 14h0m5-14h0m13 6h0m2 11h0m7 2h0m1-3h0m5-1h0m3-8h0m4 2h0m1 8h0m14-3h0m3 3h0m60-17h0m4 0h0m26 3h0m7 18h0m32-3h0m3-7h0m1 9h0m11-7h0m12 10h0m2-14h0m60 12h0m6 5h0m22 0h0m9-14h0m23 15h0m9-7h0m16-9h0m29 14h0m20-10h0"/><path id="Lb22" d="M1162 485h0m23 6h0m8 3h0m13-3h0m0 16h0m5-19h0m5 13h0m30-3h0m52 2h0m7 1h0m18-1h0m1 4h0m18-16h0m9-2h0m28 2h0m7-5h0m11 9h0m14 13h0m7-2h0m21-13h0m19-6h0m19 12h0m3 9h0m12-5h0m10-4h0m4-8h0m9 12h0m8-13h0m10 17h0m4-15h0m2 9h0m12-6h0m7 0h0m6-4h0m3 13h0m4-8h0m31-8h0m1 13h0m7 0h0m20 9h0m24-14h0m9-2h0m24 2h0m2 7h0m4-4h0m2 7h0m12-5h0m12-1h0m1 0h0m7 7h0m15 4h0m22-2h0m6-3h0m72 3h0m6-8h0m2 9h0m31-2h0m18-14h0m1 8h0m6 3h0m8 2h0m16-4h0m2-8h0m7 8h0m13 6h0m10-12h0m2 2h0m5-2h0m3 7h0"/><path id="Lb23" d="M1160 507h0m0-1h0m14 1h0m15-2h0m9 0h0m2 2h0m11 1h0m9-3h0m15 1h0m9 0h0m8 0h0m13 0h0m7 0h0m10 1h0m12-2h0m15 1h0m1 0h0m15 0h0m7 1h0m10-1h0m13 1h0m13-1h0m3 1h0m11-2h0m18 1h0m3 1h0m15-1h0m10-1h0m8 0h0m12 0h0m9 0h0m9 2h0m9-2h0m13 0h0m5 1h0m12 1h0m6-1h0m9 0h0m10 1h0m19-1h0m8 1h0m7 0h0m10 1h0m12-1h0m9-1h0m12-1h0m7 0h0m15 2h0m10-2h0m3 1h0m10 0h0m11 2h0m7 0h0m15-2h0m9-1h0m13 2h0m6 0h0m14 0h0m7 0h0m16 0h0m4 0h0m13 0h0m4 1h0m58-1h0m14-1h0m8-1h0m17 0h0m0 0h0m13 2h0m9 0h0m9 0h0m14-1h0m11 1h0m11 0h0m12 0h0m11 0h0m6 1h0m6-3h0"/><path id="Lb24" d="M1155 455h0m1-5h0m12 0h0m0 11h0m2-12h0m0 7h0m10-16h0m0 16h0m2-17h0m8 5h0m15 2h0m1 12h0m6-8h0m2 7h0m5-14h0m18 14h0m6-9h0m16 13h0m1-19h0m13 4h0m19-1h0m8 11h0m42-10h0m7 13h0m1-14h0m23 10h0m14-11h0m15 5h0m8-12h0m12-3h0m0 18h0m2-8h0m18-15h0m17 21h0m15-9h0m19 11h0m19-20h0m41 15h0m12-3h0m0-4h0m11 11h0m17 1h0m1-13h0m3 14h0m3-4h0m28-17h0m36 21h0m9-3h0m6-5h0m0 5h0m7-5h0m12 11h0m66-3h0m14 7h0m76 12h0m5-1h0m8-9h0m6-4h0m4-2h0m12 10h0m14-4h0m26 5h0m1-1h0m8-6h0m4-9h0m5 11h0m12-1h0m14 6h0"/><path id="Lb25" d="M1172 483h0m11-3h0m9 5h0m0-17h0m2 7h0m13 3h0m2-1h0m44-6h0m1 11h0m1 1h0m2-6h0m29 7h0m16-19h0m8 13h0m14-2h0m4-12h0m51 14h0m4-17h0m10 14h0m41-17h0m14 3h0m1 6h0m0 5h0m38 6h0m29-20h0m5 9h0m10-3h0m45-1h0m20 13h0m2-10h0m12-1h0m9 1h0m23 10h0m7-20h0m0 5h0m5 10h0m9 7h0m13 2h0m0-19h0m4 9h0m11 13h0m11-6h0m1 0h0m15-6h0m2 11h0m11-20h0m8 18h0m4-7h0m8-10h0m21 21h0m8-2h0m55-6h0m10 4h0m2 2h0m22-3h0m7-4h0m7-4h0m2 10h0m10 6h0m7 1h0m7-2h0m4-7h0m6-3h0m7-5h0m14 14h0m16-14h0m11-2h0"/><path id="Lb26" d="M1163 507h0m2-7h0m10 0h0m3 4h0m17-3h0m9-7h0m2 3h0m2 11h0m11-18h0m14 6h0m3-5h0m4-2h0m12 15h0m7-14h0m13 16h0m7-12h0m18 13h0m3-15h0m1 12h0m6-2h0m9-1h0m8-3h0m11-3h0m5 11h0m24-10h0m4 9h0m0-19h0m3 13h0m3-14h0m3 4h0m1-5h0m26 20h0m5-16h0m2 14h0m2-18h0m4 20h0m2 1h0m30-8h0m1-7h0m2-7h0m2 6h0m11 11h0m6-6h0m6 12h0m52-10h0m6-11h0m1 5h0m12-3h0m32 20h0m21-18h0m3 10h0m13-5h0m51-6h0m28 7h0m1-5h0m10 17h0m15-6h0m32 0h0m15 6h0m1-20h0m63 14h0m6-4h0m50 1h0m9 6h0m12 0h0m17-7h0m11 9h0m3-16h0m2 8h0"/><path id="Lb27" d="M1155 507h0m14-1h0m6 0h0m12 0h0m12-1h0m8 3h0m9-2h0m5-1h0m13 1h0m11 2h0m7 0h0m15-2h0m12 1h0m10-2h0m7 0h0m8 1h0m7-1h0m12 0h0m17 2h0m8 0h0m8-2h0m9 3h0m14-1h0m3 0h0m15-1h0m5 2h0m13-2h0m10-1h0m7 0h0m9 2h0m13-2h0m9 1h0m10 1h0m10 1h0m16-1h0m8-2h0m6 3h0m14-2h0m7 0h0m7 1h0m15 0h0m10-2h0m12 1h0m7 0h0m7-1h0m9 2h0m15-2h0m11 1h0m12 0h0m4 2h0m14-1h0m8 0h0m5-1h0m19 2h0m9-1h0m7-1h0m11-1h0m12 2h0m10-2h0m3 1h0m15 0h0m7 2h0m7-3h0m63 1h0m10-1h0m14 2h0m3-2h0m10 0h0m11 3h0m17-3h0m9 2h0m8 0h0m13 1h0m2-1h0m13-2h0m13 0h0m4 1h0m12-1h0"/><path id="Lb28" d="M1161 445h0m14 5h0m22 10h0m3-14h0m4 10h0m22-8h0m9 7h0m2-8h0m31 2h0m4-4h0m15 18h0m7-15h0m16 7h0m14 6h0m1 0h0m12 1h0m9-11h0m3-9h0m9 10h0m10-2h0m9 6h0m2-6h0m34-15h0m13-3h0m14 17h0m16-9h0m12 0h0m3 1h0m6-2h0m5-11h0m3 17h0m4 2h0m33-10h0m6 14h0m21-18h0m11 16h0m1-7h0m7 2h0m21-4h0m10-1h0m6-1h0m6 2h0m12-1h0m11 16h0m6-3h0m24-7h0m3 12h0m9-21h0m5 19h0m9-19h0m17 13h0m14-11h0m1 9h0m12 6h0m17-5h0m0 3h0m30-5h0m55 25h0m11-4h0m23-10h0m23-3h0m37 0h0m7 11h0m12-14h0m9 3h0m1 10h0m11-16h0"/><path id="Lb29" d="M1158 473h0m0-2h0m9 8h0m15-17h0m41 4h0m1 15h0m12 1h0m7 1h0m6-19h0m11 6h0m37 10h0m1-2h0m12-12h0m11 19h0m20-20h0m9 16h0m4-20h0m14 8h0m17-4h0m22 13h0m35-8h0m1-10h0m0 7h0m30-8h0m30 20h0m25-8h0m8 0h0m0 10h0m25-17h0m27 2h0m6 10h0m1 2h0m26-8h0m7-11h0m6-2h0m0 0h0m3 4h0m0 1h0m38 2h0m1 12h0m19-7h0m21-1h0m39-7h0m97 20h0m24 3h0m12-1h0m2-2h0m3 7h0m11-14h0m11 0h0m8 4h0m30 0h0m16 0h0"/><path id="Lb30" d="M1187 503h0m2-9h0m9 10h0m10-10h0m1-5h0m15 7h0m15-5h0m5 16h0m1-6h0m6-5h0m3-8h0m4 3h0m5 14h0m5-3h0m3 6h0m8-6h0m7-12h0m1 1h0m20 15h0m3-9h0m4-10h0m9 8h0m15-5h0m51 14h0m5 0h0m6-14h0m3 13h0m3-21h0m3 15h0m31-9h0m7 12h0m2 4h0m4-4h0m15-14h0m5 7h0m6-5h0m3 3h0m9 10h0m1-11h0m1 7h0m23-3h0m4 8h0m5 1h0m9 4h0m1-23h0m26 1h0m10 21h0m7-21h0m20 6h0m9-1h0m14 5h0m1 3h0m3-9h0m10-2h0m16 11h0m25 9h0m17-13h0m9 3h0m11-2h0m7 9h0m12-12h0m5 11h0m12-3h0m8-4h0m20-1h0m60 8h0m8-3h0m0-9h0m7 5h0m28 0h0m1 6h0m9 4h0m2-5h0m10-5h0m4 7h0m5 4h0m1-8h0m1 9h0m10-7h0m12-10h0m9 12h0m13-4h0m1-10h0m2 4h0"/><path id="Lb31" d="M1153 505h0m13 0h0m9 2h0m10-2h0m15 1h0m7-1h0m10 1h0m4 0h0m19 0h0m0 0h0m18 1h0m6-1h0m6-1h0m18 2h0m2 0h0m13 0h0m14-1h0m8 0h0m5 2h0m15-3h0m6 1h0m13 2h0m9-1h0m8 0h0m11-1h0m9-1h0m11 2h0m16 0h0m5-1h0m13-1h0m14 1h0m1 2h0m13-2h0m7 2h0m18-3h0m6 3h0m12-1h0m6 0h0m15-2h0m11 1h0m3-1h0m17 0h0m6 1h0m9 1h0m13 1h0m11 0h0m3-3h0m17 0h0m11 0h0m5 2h0m7 1h0m13-2h0m11 0h0m6-1h0m12 0h0m10 0h0m8 2h0m14 1h0m13-1h0m8-1h0m13 2h0m5-1h0m6 0h0m67 0h0m3 1h0m10 0h0m9 0h0m9-1h0m16-1h0m5 0h0m12 2h0m12-1h0m12-2h0m5 1h0m16-1h0m11 0h0m11 2h0m4-1h0"/><path id="Lb32" d="M1183 445h0m82 10h0m7-7h0m9 13h0m21-11h0m10-6h0m12 5h0m8-4h0m6-5h0m7 4h0m1 17h0m13-25h0m25 5h0m16-8h0m5 1h0m5-2h0m48 8h0m5 0h0m3 13h0m15-1h0m19-10h0m4 3h0m6-14h0m0 2h0m2 16h0m4-8h0m3 0h0m4-7h0m6 18h0m8 1h0m9 2h0m11-7h0m3 0h0m1-2h0m2 2h0m1-8h0m3-10h0m8 24h0m7-17h0m65 11h0m9-13h0m12 21h0m7-14h0m12 11h0m5-4h0m15 5h0m0-14h0m46 6h0m6 9h0m78 8h0m4 1h0m21 7h0m1-4h0m13 2h0m7-8h0m12 0h0m1 7h0m5 1h0m14-2h0m22-2h0m19-11h0m7-5h0"/><path id="Lb33" d="M1188 485h0m10-14h0m19 2h0m30 10h0m23-8h0m1-11h0m0 9h0m38-7h0m3 17h0m6-5h0m48-5h0m12 0h0m19-16h0m11-2h0m43 24h0m15-11h0m8-1h0m13 11h0m9-21h0m25 14h0m1-8h0m0 12h0m1-7h0m0 13h0m4-14h0m31-1h0m10 14h0m4-6h0m2-17h0m2 19h0m1-6h0m4-6h0m1 6h0m32 6h0m12-5h0m1-6h0m14 14h0m13 0h0m2-14h0m1-2h0m13 5h0m19-3h0m26-1h0m1-4h0m1 15h0m29-11h0m7 8h0m12 8h0m12-7h0m2 7h0m69-3h0m10 6h0m5-1h0m6 5h0m26-4h0m45-1h0m1 5h0m9-1h0m7-1h0m1-6h0"/><path id="Lb34" d="M1168 493h0m10-2h0m1 10h0m22 2h0m2-13h0m2-1h0m1 7h0m4-1h0m28-4h0m12 15h0m9-12h0m2-6h0m3 0h0m8 12h0m9 1h0m6-5h0m16-9h0m7 20h0m11-18h0m13-3h0m5 22h0m18-21h0m9 1h0m3 10h0m4-9h0m12 13h0m2 4h0m11-9h0m6-11h0m1 18h0m4-11h0m22-5h0m12 12h0m7 0h0m9-2h0m0-4h0m5 2h0m1 8h0m63-4h0m10 7h0m12-22h0m2 9h0m3-2h0m0 1h0m5 11h0m32-15h0m16 13h0m9 1h0m5-20h0m19 10h0m1 12h0m5-6h0m2 9h0m9-3h0m4-1h0m32-20h0m12 9h0m8 3h0m20 0h0m1 1h0m3 9h0m0-10h0m2-12h0m9 19h0m20-11h0m2-7h0m63 5h0m0 8h0m20 10h0m7-7h0m2-3h0m7-4h0m1 6h0m39 2h0m4-12h0m11 4h0m2-5h0m12 4h0m11 10h0m5-3h0m8-3h0m2-3h0"/><path id="Lb35" d="M1154 505h0m8 2h0m15-1h0m4-1h0m16 1h0m7 0h0m13-1h0m13 1h0m10 0h0m4 1h0m11 0h0m10-2h0m9 0h0m15 3h0m2-1h0m14-1h0m10 0h0m11 2h0m6-1h0m13 0h0m8 0h0m8 0h0m17-1h0m6 1h0m14 0h0m4-2h0m11 1h0m14 1h0m4 1h0m19-2h0m7 1h0m12-1h0m10 0h0m4 1h0m16-2h0m5 1h0m10 0h0m11-1h0m11 3h0m11-1h0m10-2h0m9 0h0m5 0h0m10 1h0m10 0h0m12 0h0m9 0h0m11-1h0m14 2h0m3-2h0m16 1h0m13-1h0m5 2h0m15-2h0m7 2h0m11 1h0m6-2h0m17-1h0m8 1h0m9 1h0m6 0h0m12-2h0m13 0h0m58 2h0m11 1h0m10-1h0m9-2h0m10 1h0m3 2h0m12-2h0m15 0h0m11 1h0m4 0h0m13-1h0m5 1h0m13-2h0m13 0h0m10 0h0"/><path id="Lb36" d="M1156 447h0m1 9h0m1-18h0m49 17h0m14-6h0m1 1h0m1 9h0m3-5h0m29 8h0m6-12h0m3 3h0m24 10h0m6 0h0m24-5h0m15 2h0m12-3h0m2-15h0m3 14h0m7-4h0m13-6h0m5 12h0m40-8h0m0-13h0m3 6h0m2 1h0m10 1h0m12-2h0m8-6h0m14 12h0m2-18h0m2 14h0m7-16h0m13 25h0m15-9h0m7 4h0m12-16h0m15 3h0m2 15h0m6-4h0m9 2h0m9-14h0m5 9h0m4-11h0m6 21h0m10-15h0m6 6h0m36-9h0m4 8h0m5 8h0m26-10h0m9-5h0m10 10h0m23 10h0m25-19h0m15 19h0m3-2h0m9-14h0m7 0h0m15 6h0m53 14h0m6 5h0m3-1h0m15 3h0m11-7h0m3 6h0m13-13h0m1-4h0m1 18h0m10-5h0m5-7h0m35 4h0m14-3h0m12 4h0m3-11h0m7 2h0"/><path id="Lb37" d="M1168 480h0m21-14h0m1-3h0m18 11h0m40 9h0m4-11h0m4-7h0m0-1h0m29 2h0m6 12h0m8-2h0m1-2h0m16 0h0m5 7h0m5-4h0m7-2h0m3-4h0m2-2h0m20-5h0m6 16h0m11-20h0m11 16h0m56-8h0m0 9h0m13-13h0m14-9h0m24 2h0m24 15h0m66-14h0m4 24h0m2-13h0m6 11h0m14-11h0m9-11h0m7 13h0m18-8h0m3 12h0m4-1h0m2 2h0m6-4h0m4-1h0m0 11h0m12-25h0m13 3h0m6 13h0m13-9h0m41 16h0m1-2h0m2-15h0m32 13h0m54 2h0m28 2h0m2 5h0m12 0h0m4-8h0m9 1h0m44-6h0m12 13h0m6-7h0m3 4h0"/><path id="Lb38" d="M1165 501h0m2-1h0m11-11h0m18 4h0m52 13h0m2-8h0m31-11h0m12 20h0m16-1h0m2-3h0m8-12h0m3 5h0m11-2h0m3-1h0m1 11h0m15-17h0m1-1h0m4 22h0m26-23h0m2 9h0m4-11h0m12 15h0m5-9h0m13 2h0m2 17h0m7-21h0m13 17h0m1-18h0m2 19h0m2-9h0m15-1h0m6-4h0m14-2h0m85 16h0m6-23h0m2 6h0m3-4h0m2 22h0m0-8h0m4 7h0m4 3h0m10-5h0m41 4h0m0-15h0m3 11h0m1-4h0m2-7h0m1 3h0m11-6h0m1-3h0m6 8h0m6 9h0m1-4h0m13 6h0m11-22h0m19 4h0m139 12h0m20 7h0m2-5h0m3-10h0m15 17h0m10-14h0m22 0h0m16 2h0m2 4h0m10-7h0m9 3h0m4-3h0m7 3h0"/><path id="Lb39" d="M1155 505h0m10 2h0m14 0h0m7-2h0m8 1h0m13 0h0m9 0h0m8-1h0m15 1h0m9 1h0m10 0h0m3 0h0m9-2h0m10 2h0m11 0h0m12 0h0m11-2h0m7 2h0m10-2h0m18 1h0m10 0h0m9 1h0m6-2h0m12 1h0m7 0h0m16 1h0m8 0h0m6-1h0m15-1h0m6 3h0m7-2h0m11 0h0m12 1h0m10-2h0m9 3h0m15-3h0m8 2h0m7-1h0m10 1h0m9 0h0m9 0h0m9-1h0m16 1h0m13 0h0m3 0h0m10 0h0m17-1h0m10 1h0m1-1h0m19-1h0m9 0h0m8 0h0m9 2h0m6-2h0m9 0h0m13 0h0m9 0h0m12 0h0m10 2h0m12 0h0m6 0h0m12 0h0m12 0h0m60-2h0m4 0h0m9 0h0m18 3h0m2 0h0m15-1h0m5-1h0m19 1h0m5 0h0m11-1h0m9 1h0m15 0h0m5-2h0m12 0h0m9 2h0"/><path id="Lb40" d="M1160 441h0m25 19h0m7-1h0m18-1h0m3-7h0m6 9h0m1-12h0m8 8h0m5-7h0m12-5h0m2 16h0m4-5h0m2 5h0m12-8h0m1 1h0m4 7h0m6-3h0m1 3h0m29-5h0m4 5h0m17-3h0m0-1h0m5-9h0m3 15h0m61-12h0m9-7h0m4-7h0m14 12h0m8-11h0m8 0h0m44 17h0m11-10h0m6-13h0m24 25h0m6-18h0m10 10h0m17 2h0m1-2h0m10-15h0m3 4h0m16-1h0m15 18h0m6-24h0m4 21h0m3-19h0m1-3h0m1 10h0m8 12h0m2 3h0m1-17h0m1 16h0m6 1h0m6-1h0m16-20h0m13 2h0m7 13h0m3 9h0m5-19h0m4 9h0m14 4h0m5-15h0m11 12h0m34-3h0m3 6h0m3 6h0m3-13h0m1 10h0m10-2h0m70 14h0m5 3h0m7-10h0m1 0h0m5 10h0m53-8h0m6-5h0m15 12h0m26-8h0m1 4h0m8-9h0"/><path id="Lb41" d="M1199 464h0m10 5h0m14-1h0m0 15h0m3-16h0m40 11h0m4 6h0m10-3h0m11-17h0m8 21h0m5-14h0m9-6h0m15 19h0m3-21h0m37-3h0m0 14h0m20 0h0m2-6h0m33-4h0m18 6h0m83 12h0m3-22h0m5-1h0m8 17h0m19-17h0m8 16h0m3-4h0m4 9h0m8-20h0m10 20h0m12-2h0m3-7h0m20-6h0m0 12h0m10-9h0m2 10h0m1-10h0m17-8h0m4-2h0m6 12h0m1 11h0m37-8h0m4 0h0m5-4h0m9 14h0m17-17h0m19-1h0m16 16h0m63-2h0m4 3h0m58 3h0m13-10h0m0 0h0m3-3h0m5 12h0m2-14h0m3 10h0m3-8h0m15 6h0m0 3h0m1-9h0m5 3h0m1 4h0m16-10h0"/><path id="Lb42" d="M1156 498h0m1-4h0m9 2h0m4-8h0m12-2h0m16 5h0m24 7h0m23-11h0m7 6h0m4 3h0m24 12h0m4-19h0m12 19h0m31-4h0m15-3h0m1-14h0m9 6h0m6 11h0m6-5h0m9 6h0m13-13h0m19 2h0m30 13h0m18-12h0m6-5h0m19-6h0m0 14h0m13 5h0m39 3h0m2-13h0m2-2h0m10-4h0m20 16h0m13-1h0m39-3h0m3-12h0m7-4h0m15 8h0m11-5h0m9 8h0m9 9h0m19-10h0m8 5h0m23 8h0m14-12h0m8 4h0m1 4h0m16-17h0m7 20h0m88-7h0m13-7h0m3 6h0m9 5h0m22-1h0m14-4h0m4 9h0m2-12h0m15-1h0m3 14h0m8-5h0m0 6h0"/><path id="Lb43" d="M1160 505h0m1 2h0m17 1h0m7-3h0m8 2h0m16-2h0m8 1h0m11 1h0m7 0h0m6-1h0m14 0h0m12-1h0m6 1h0m13 0h0m11-1h0m11 1h0m4 1h0m12-2h0m7 0h0m9 3h0m20-1h0m9-1h0m11-1h0m5 0h0m9 1h0m11 1h0m14-1h0m8-1h0m12 1h0m4-1h0m8 0h0m17 2h0m4 0h0m9 1h0m18 0h0m2-1h0m11 0h0m16-2h0m2 2h0m15-2h0m8 2h0m15-2h0m8 3h0m5-2h0m12-1h0m12 0h0m8 0h0m7 2h0m13 0h0m14-2h0m4 0h0m14 1h0m5-1h0m14 0h0m8 0h0m14 0h0m13 0h0m2 1h0m12 1h0m12-1h0m12-1h0m12 3h0m8-1h0m53-2h0m12 1h0m15 1h0m6-1h0m14-1h0m4 1h0m9 0h0m10 0h0m17 0h0m7 1h0m4 1h0m17-2h0m11 1h0m2-2h0m11 0h0"/><path id="Lb44" d="M1155 441h0m4 18h0m6-20h0m6 2h0m3 9h0m11-8h0m29 8h0m20 8h0m6-3h0m6-12h0m2 1h0m13 18h0m15-1h0m7-13h0m9 1h0m2 14h0m3-19h0m10 8h0m1-5h0m2 13h0m7-3h0m0-1h0m1 0h0m5-3h0m3 2h0m4 1h0m1-1h0m7-10h0m4 9h0m6-4h0m3-5h0m16 6h0m4-11h0m23-2h0m1-3h0m9-5h0m10 18h0m39-9h0m6 12h0m21-1h0m29-18h0m18 23h0m1-6h0m19-1h0m19-8h0m25 5h0m20-13h0m15 12h0m18 0h0m4-3h0m1-5h0m3 8h0m8-2h0m23 13h0m25-20h0m1-1h0m19 2h0m2 16h0m2 7h0m10-7h0m30 3h0m70 5h0m6-3h0m13 10h0m3-3h0m9-3h0m33-4h0m12 0h0m12 3h0m22 8h0m0-6h0m9-2h0"/><path id="Lb45" d="M1163 476h0m0-13h0m16 2h0m2 8h0m13-3h0m4 15h0m11-14h0m13 10h0m16 3h0m3-16h0m9 14h0m77-6h0m1-8h0m15 12h0m6-8h0m12-11h0m1 19h0m4-17h0m18 16h0m2-8h0m21-15h0m0 1h0m9 2h0m34 5h0m3 4h0m23-12h0m8 15h0m0-9h0m4 1h0m4 5h0m4 2h0m2-6h0m20 12h0m3-14h0m4 11h0m7 2h0m7-10h0m16 0h0m6 12h0m1-4h0m3-14h0m1 20h0m6-23h0m22 3h0m2 22h0m7-14h0m4 7h0m20-9h0m11 15h0m6-6h0m22-15h0m58 21h0m6-18h0m4-2h0m9 20h0m114 9h0m27-16h0m15 4h0m0 3h0m2 1h0m19-5h0m17-4h0m11 4h0m8 7h0m5 4h0m6-18h0m5 7h0"/><path id="Lb46" d="M1156 489h0m5 0h0m17 5h0m6 3h0m0-12h0m13 19h0m2-16h0m43 11h0m100-8h0m1 15h0m6-18h0m0 8h0m18-13h0m7 20h0m6-12h0m5-2h0m2-6h0m13 16h0m5-14h0m1 17h0m18 5h0m17-22h0m4 5h0m7 5h0m20-7h0m6 7h0m2-7h0m28-5h0m9 10h0m1 11h0m3-17h0m4 9h0m2-1h0m5-6h0m7 6h0m9-5h0m46 12h0m7-13h0m6 0h0m9-4h0m7 2h0m11 17h0m5-16h0m5-3h0m39 15h0m9-1h0m1-9h0m24 7h0m18-10h0m112 11h0m2 6h0m9-5h0m19 2h0m12-8h0m3 13h0m3 0h0m11-3h0m14-10h0m3 12h0m3-13h0m20 10h0m4-10h0m14 6h0m7-6h0m3 4h0"/><path id="Lb47" d="M1153 506h0m9 0h0m17 1h0m2 1h0m9-1h0m15-1h0m6 1h0m11 0h0m15-1h0m10 0h0m13-1h0m1 1h0m13 0h0m7 1h0m11-2h0m15 1h0m6-1h0m16 0h0m7 1h0m12 1h0m11-1h0m7 0h0m4 0h0m12 0h0m13 1h0m9 0h0m6-2h0m17 0h0m11 2h0m4 0h0m16 0h0m7-2h0m9 0h0m8 1h0m8-1h0m13 1h0m15 1h0m8-2h0m8 2h0m14-1h0m4 1h0m10-1h0m16 1h0m6-1h0m9 0h0m9 2h0m12-3h0m13 0h0m8 0h0m15 3h0m6-2h0m10 0h0m8 0h0m13-1h0m12 1h0m9-1h0m5 1h0m14 1h0m3 0h0m17-1h0m12-1h0m10 3h0m2-2h0m66 1h0m3 0h0m12 0h0m7 0h0m19-1h0m2 0h0m17 1h0m10-2h0m3 0h0m12 2h0m13-2h0m10 0h0m6 1h0m13 0h0m6-1h0"/><path id="Lb48" d="M1155 439h0m1 22h0m2-20h0m14 2h0m11 7h0m4-4h0m6 24h0m38-32h0m6 22h0m4-8h0m2 18h0m0-8h0m18 4h0m6-24h0m4 20h0m4-2h0m11 1h0m4-30h0m15 31h0m3-22h0m0 18h0m2 4h0m0-6h0m0 12h0m13-3h0m1 7h0m6-10h0m1-4h0m9-19h0m5 31h0m1-23h0m2-1h0m10 8h0m4 14h0m15-37h0m13 1h0m8-5h0m8 19h0m5 5h0m6-21h0m17 1h0m1-9h0m5 16h0m9-9h0m6 3h0m8 14h0m0-20h0m4 21h0m1-18h0m6 16h0m8-14h0m3-3h0m3 27h0m10 4h0m10-24h0m11-8h0m1 24h0m3-13h0m5-8h0m6 22h0m7 8h0m0-24h0m0-5h0m12 14h0m19 20h0m12-26h0m3-17h0m8 16h0m4 3h0m16 5h0m1 3h0m16 9h0m11-36h0m1 37h0m12 3h0m6-25h0m9-8h0m4 16h0m8-16h0m5 3h0m19-4h0m0 4h0m3 1h0m6 22h0m13-3h0m10 7h0m6-15h0m21 17h0m13-3h0m53 19h0m2 7h0m1-8h0m4-16h0m3-1h0m4 29h0m11-8h0m0 10h0m10-45h0m5 9h0m17 7h0m6 9h0m9 1h0m7-23h0m1 16h0m14-7h0m6 3h0m1 22h0m7-5h0m13-14h0m10-3h0"/><path id="Lb49" d="M1157 445h0m4 15h0m1-19h0m16 27h0m0-23h0m2-4h0m15 11h0m10 9h0m0-17h0m0-1h0m5 16h0m12-6h0m14-3h0m5-2h0m8-8h0m10 10h0m15-8h0m44 33h0m5-24h0m8 6h0m3 11h0m5-28h0m2 35h0m2-29h0m15 6h0m4-1h0m0 15h0m13-7h0m7-20h0m2 8h0m2 2h0m6-17h0m5 23h0m1-34h0m8 33h0m5-5h0m1-4h0m1-12h0m0 20h0m4-31h0m8 15h0m10-8h0m7 24h0m16-22h0m4-2h0m4 4h0m5-7h0m13 1h0m13 39h0m3-9h0m27-30h0m2-2h0m3 31h0m9 2h0m2-27h0m27 8h0m2-8h0m1 17h0m26-4h0m11-4h0m6-12h0m3 29h0m0-19h0m1-10h0m3 11h0m14 19h0m7-32h0m3 5h0m0 9h0m4-11h0m5 5h0m1-10h0m1 27h0m8-8h0m0-5h0m11-16h0m5 3h0m14 40h0m1-38h0m5 0h0m2 27h0m9 13h0m9-8h0m7-12h0m19-5h0m5 20h0m11-2h0m5 8h0m12 0h0m62-3h0m4-14h0m8 28h0m1-3h0m0-12h0m8-21h0m1 8h0m10 27h0m6-1h0m2-32h0m10 7h0m15-3h0m3 29h0m6-25h0m1 5h0m2 25h0m16-28h0m14-9h0m6 8h0m5-10h0m6 8h0"/><path id="Lb50" d="M1154 447h0m7-18h0m1-6h0m2 20h0m3-13h0m2 5h0m3-12h0m6 9h0m12 11h0m14-1h0m4-11h0m3 16h0m1 7h0m15-2h0m16-11h0m18-9h0m17 4h0m0-10h0m3 0h0m2 4h0m7 14h0m11 9h0m8-18h0m10-3h0m10 5h0m10 20h0m1-5h0m3 4h0m3-1h0m2-19h0m15-11h0m6 17h0m4 1h0m2-13h0m2-5h0m3-4h0m2 14h0m6-10h0m7-8h0m11 14h0m13-4h0m9-2h0m23-5h0m1 2h0m1 12h0m6-2h0m15-11h0m18-2h0m30-4h0m2 9h0m15-5h0m6 23h0m2-7h0m8-4h0m2 13h0m7-19h0m19 11h0m17-18h0m14 17h0m22 8h0m4-10h0m2 1h0m10 6h0m2 2h0m2-7h0m18-9h0m13-5h0m1 0h0m1 8h0m42-4h0m1 8h0m4 0h0m9-4h0m3 8h0m7-9h0m2 15h0m76 9h0m1 13h0m12-23h0m4 25h0m10-25h0m1 9h0m17-17h0m4 20h0m9-12h0m19 8h0m1 2h0m14-10h0m4-2h0m16 15h0m2-10h0m1-4h0m9 21h0m9-8h0"/><path id="Lb51" d="M1156 429h0m6 20h0m12-23h0m5 6h0m16-6h0m32 19h0m7-13h0m3-3h0m6 21h0m9-10h0m23-13h0m10-4h0m4 6h0m7-3h0m6 8h0m0 10h0m2-6h0m2-1h0m13 2h0m3 18h0m9-26h0m0 12h0m2-9h0m1 4h0m9 5h0m19-7h0m3-8h0m31-6h0m16 21h0m3-23h0m0 14h0m7-19h0m10 18h0m6-9h0m11 7h0m11 7h0m37 0h0m2-9h0m2-8h0m22 6h0m4 9h0m5-20h0m11 18h0m19-2h0m9-5h0m20 6h0m1-9h0m2 1h0m4 0h0m2 11h0m1-8h0m6 3h0m5-12h0m1 21h0m1-23h0m3-3h0m11 34h0m1-14h0m3-12h0m9 5h0m30 8h0m5 1h0m11-21h0m11 8h0m5 3h0m5-4h0m7 15h0m11 3h0m1-10h0m7 11h0m12-13h0m6-6h0m7 19h0m7 8h0m3-19h0m7 26h0m63-8h0m12-4h0m3 9h0m2-8h0m0 12h0m6-7h0m0-13h0m6 10h0m16-10h0m3 14h0m32 3h0m14 4h0m1 9h0m13-24h0m2-5h0m3 13h0m12-9h0m6-6h0"/><path id="Lb52" d="M1156 434h0m15 5h0m12 3h0m3-13h0m3-2h0m12 5h0m34 9h0m7-11h0m7 0h0m2 11h0m13 13h0m1-21h0m23 5h0m23-7h0m6 1h0m8 2h0m26 15h0m6-21h0m2 16h0m3-18h0m10 19h0m1 5h0m32-15h0m1 3h0m10-2h0m4-17h0m8 14h0m3 6h0m13-2h0m15-23h0m7 14h0m7-14h0m11 1h0m1 14h0m1-11h0m13 2h0m13 8h0m0-14h0m30 15h0m5 6h0m3-20h0m6 5h0m1 0h0m0 5h0m4 9h0m12-4h0m10-5h0m1-10h0m2 4h0m14 16h0m0-21h0m1 2h0m2 6h0m1 17h0m8-1h0m4-12h0m11 5h0m4-10h0m12-4h0m6 10h0m2-9h0m5 1h0m1 23h0m0-19h0m4 4h0m2 7h0m12-1h0m2 5h0m10-12h0m11-7h0m33 19h0m8-17h0m18 4h0m8 8h0m13 4h0m1-7h0m77 14h0m11 15h0m1-8h0m3-18h0m1 1h0m4 20h0m6-17h0m2 14h0m19-12h0m17 18h0m4-4h0m6-13h0m7 18h0m16-5h0m5 2h0m6-20h0m2 9h0m3-5h0"/><path id="Lb53" d="M1156 433h0m16 12h0m5-2h0m0-3h0m32-14h0m2 12h0m17-13h0m1 13h0m10-9h0m0 21h0m7-22h0m32 9h0m22-3h0m5 21h0m2-17h0m2-6h0m3 4h0m4-4h0m3 28h0m9-6h0m5-14h0m2 0h0m5-11h0m14 16h0m3 1h0m2-16h0m0 4h0m6-1h0m3-8h0m5 0h0m1 18h0m7-5h0m10-18h0m13-6h0m0 29h0m10-24h0m38-2h0m4 1h0m3-3h0m2 11h0m2-9h0m1-2h0m18 3h0m15 30h0m15-10h0m5-10h0m8 11h0m9 1h0m10-4h0m10-5h0m3-14h0m4 1h0m4 29h0m6-2h0m16-27h0m4 9h0m3-13h0m7 6h0m3-2h0m3-1h0m9 9h0m4 1h0m5-7h0m2 3h0m4 4h0m12 5h0m1-8h0m8 9h0m5 12h0m1-28h0m21 24h0m7-14h0m25-6h0m4 6h0m48 1h0m12 11h0m67 24h0m13-13h0m0-1h0m2-5h0m4 8h0m3 7h0m6-25h0m18 15h0m2 12h0m28-15h0m8-2h0m3 0h0m2 6h0m0-11h0m6 2h0m2 7h0m5-13h0m18 14h0"/><path id="Lc0" d="M129 1123h0m2 2h0m5 6h0m3-9h0m21 3h0m34-9h0m1 11h0m34-6h0m13 12h0m45-2h0m6-10h0m4-7h0m42-3h0m11-2h0m1 8h0m8-4h0m17 16h0m11-15h0m14 11h0m15-17h0m21 17h0m9-3h0m32-1h0m10-7h0m3 9h0m1-5h0m3-2h0m13 2h0m36 18h0m10-3h0m18 1h0m3-8h0m1-3h0m36 9h0m2-11h0m0 18h0m37-8h0m56 12h0m2-11h0m23 7h0m1-2h0m11 8h0m17-7h0m16 7h0m2-11h0m1 14h0m16-8h0m9-4h0m1 6h0m31 0h0m11-5h0m6 0h0m36 7h0m23-1h0m7-16h0m2 14h0m7-3h0m2 4h0m0-1h0m6 1h0m15-5h0"/><path id="Lc1" d="M127 1146h0m4 10h0m15-5h0m4-1h0m19-12h0m15 15h0m29-20h0m6 7h0m1 4h0m25-6h0m18 14h0m21-12h0m14 1h0m8-1h0m5 6h0m21-13h0m4 17h0m5 3h0m9-17h0m7 18h0m17-22h0m4 9h0m2-8h0m4 20h0m5-15h0m16 2h0m10 6h0m30 2h0m6-11h0m8 12h0m30-7h0m6 6h0m5-2h0m25 5h0m6-6h0m30 10h0m3-14h0m19 6h0m17 9h0m6-6h0m16 1h0m12 6h0m3-7h0m12-10h0m1 9h0m23 9h0m7-14h0m9 8h0m12 2h0m5 2h0m26 0h0m9 5h0m2-3h0m4 3h0m12 0h0m1-3h0m37-1h0m3-4h0m23 5h0m5-1h0m2-9h0m0 0h0m4 7h0m38 2h0m20 2h0m15-11h0m14-4h0m9 13h0m4 3h0m12-7h0m3-10h0"/><path id="Lc2" d="M127 1174h0m19-18h0m2 15h0m2-3h0m15-11h0m4 12h0m1 0h0m7-1h0m65-8h0m2 0h0m6 16h0m7-11h0m7-4h0m1 1h0m19 5h0m7 3h0m3 4h0m2-2h0m16-14h0m11 13h0m1-4h0m41 2h0m2 4h0m32-13h0m24 5h0m3-1h0m2 3h0m7-2h0m1-9h0m17 1h0m38 16h0m2-4h0m1-4h0m7 4h0m36-1h0m1-8h0m3 13h0m8-7h0m5 4h0m11 8h0m20-19h0m2 16h0m24-16h0m6 3h0m31 6h0m2-5h0m18 2h0m28 4h0m2-7h0m2 16h0m2-2h0m0-5h0m3-5h0m11 8h0m0 2h0m15-8h0m27 3h0m8 0h0m9 3h0m1 2h0m1-9h0m3 8h0m15-6h0m1 9h0m10-15h0m7 3h0m4 1h0m10 8h0m13-9h0m9 1h0m1 2h0m30 0h0m7 5h0m4-3h0m18-5h0m0 9h0m1-11h0m6 0h0m14 13h0m0-2h0m0-13h0m8 6h0m6-5h0m5 2h0m0-5h0m1 18h0"/><path id="Lc3" d="M118 1175h0m7 0h0m16 2h0m5-1h0m17 0h0m2 0h0m14-2h0m10 3h0m7-1h0m15 1h0m12-2h0m3-1h0m16 3h0m7 0h0m13 0h0m11-2h0m9 0h0m4 0h0m17 1h0m9 1h0m3-2h0m10 2h0m16 1h0m5-1h0m18-2h0m7 1h0m4 0h0m10 2h0m12-3h0m17 0h0m3 3h0m10-3h0m14 0h0m11 0h0m2 0h0m14 2h0m8-2h0m16 0h0m6 2h0m8-2h0m17 0h0m6 3h0m11-3h0m13 2h0m1 0h0m12-1h0m13 0h0m11 0h0m5 2h0m11 0h0m16-1h0m6-1h0m7-1h0m10 3h0m12 0h0m13 0h0m9-1h0m14 1h0m7-1h0m8 1h0m15-2h0m8 0h0m7-1h0m7 1h0m15 0h0m7-2h0m16 3h0m6 0h0m6-3h0m13 1h0m9 2h0m16-2h0m3 0h0m18-1h0m7 1h0m10 2h0m6-3h0m16 2h0m8-1h0m12 2h0m3 0h0m13 0h0m9 0h0m12 1h0"/><path id="Lc4" d="M121 1126h0m4 5h0m4-16h0m2-3h0m1 14h0m5-1h0m38 1h0m10 0h0m4 7h0m5-14h0m7 6h0m13-13h0m30 19h0m12-6h0m13 8h0m1-1h0m4-4h0m4-1h0m1 4h0m1-7h0m46 6h0m2-3h0m6-9h0m6 1h0m6 9h0m12-16h0m21 11h0m5 7h0m14-18h0m36 5h0m11 2h0m13-5h0m1 14h0m21-3h0m2 1h0m3-12h0m3 8h0m7 7h0m42 1h0m13-3h0m12 1h0m14-2h0m6-2h0m1-2h0m25 8h0m4-9h0m8 17h0m17-1h0m23-2h0m12-7h0m16 10h0m16-4h0m13 7h0m6-2h0m4 4h0m1-2h0m5-8h0m32 0h0m30 2h0m4 7h0m8-7h0m5-1h0m12 1h0m25-2h0m3 5h0m8 3h0m22-8h0m10 9h0m16-14h0m5-1h0m24 3h0m6-6h0m3 7h0"/><path id="Lc5" d="M123 1151h0m6-8h0m3 5h0m3-13h0m2 1h0m6 2h0m42 17h0m12-1h0m15 1h0m10-10h0m14-5h0m36 10h0m11-15h0m5 2h0m21 1h0m4 2h0m48 15h0m2-5h0m12-3h0m6 5h0m6-3h0m31-12h0m2-4h0m29 22h0m4-15h0m1 2h0m1-9h0m17 3h0m6 2h0m4 1h0m43-2h0m10 18h0m9-8h0m6 4h0m3-10h0m19 12h0m23 0h0m3 1h0m28-9h0m8-3h0m7 14h0m3-13h0m17 5h0m9-4h0m44 15h0m2-1h0m6-12h0m14 7h0m5-1h0m22 2h0m7-3h0m12 4h0m22 6h0m19-6h0m3-3h0m26-1h0m10 10h0m17-8h0m5 6h0m15-6h0m4-7h0m5-1h0m4-1h0m0 11h0m6-6h0m6 9h0m14 0h0m1-5h0m4 3h0m2-9h0"/><path id="Lc6" d="M128 1167h0m33 10h0m12-14h0m5 8h0m34 0h0m12 3h0m10-6h0m1-9h0m0 5h0m2 10h0m5-6h0m2 7h0m1-19h0m2 7h0m2 7h0m5-11h0m10 12h0m3 2h0m1-12h0m12-3h0m5 8h0m4 9h0m28-7h0m43 0h0m8-7h0m4-1h0m7 17h0m32-17h0m51-4h0m20 12h0m10-1h0m0 9h0m6-7h0m10-1h0m24 2h0m3-9h0m2 3h0m0 5h0m12-2h0m1-5h0m2 8h0m2-7h0m3 1h0m1 5h0m5 6h0m14 1h0m24 1h0m9-11h0m26 0h0m42-5h0m2 2h0m2 0h0m2-1h0m1 3h0m14 1h0m35 10h0m1-12h0m22 4h0m4 1h0m16-3h0m17-2h0m30 0h0m2 8h0m11 0h0m34 0h0m9-6h0m13 10h0m3-11h0m5 8h0m14-10h0m10 1h0m1 7h0m2 3h0m1-13h0m1 9h0"/><path id="Lc7" d="M116 1175h0m15 2h0m8 1h0m12-3h0m11 1h0m7 1h0m9-1h0m15 0h0m11 1h0m3 0h0m16-2h0m10 0h0m4 1h0m12 2h0m11-1h0m4-2h0m11 0h0m14 0h0m12 0h0m4 0h0m18 1h0m6 1h0m6 0h0m16 0h0m5-2h0m14 0h0m9 1h0m6 0h0m18 1h0m6 0h0m10-1h0m5 0h0m18-1h0m12 0h0m7 1h0m11 0h0m9 2h0m6-1h0m8 0h0m18 1h0m9-3h0m5 0h0m16 1h0m4-2h0m13 4h0m5-4h0m10 3h0m14-1h0m6 1h0m12 0h0m13-1h0m9 2h0m7 0h0m12-3h0m6 0h0m15 2h0m11 0h0m13-2h0m6 1h0m7 1h0m11-1h0m15 0h0m7-2h0m7 3h0m15-1h0m5 0h0m9-1h0m13 0h0m12 2h0m9 1h0m6 0h0m11-3h0m11 1h0m16 1h0m4-2h0m12 1h0m13 1h0m10-3h0m8 3h0m11-2h0m12 1h0m11 1h0m7 0h0m7 0h0"/><path id="Lc8" d="M123 1131h0m10 0h0m1-7h0m13 4h0m7-14h0m7 12h0m2-8h0m32-7h0m15 15h0m8-1h0m2-14h0m12 0h0m33 5h0m0-4h0m5 8h0m9-2h0m5 10h0m14-6h0m11 12h0m12-13h0m27 7h0m5-18h0m8 2h0m25 3h0m0-6h0m2 11h0m2 0h0m4-5h0m8-8h0m17 23h0m7-5h0m5 5h0m6-1h0m17 1h0m11-8h0m2-8h0m17 19h0m2-10h0m7-9h0m8 12h0m2-3h0m4-4h0m9 10h0m7-3h0m30-7h0m0 19h0m1-15h0m6 12h0m0 1h0m5 0h0m13-16h0m4 9h0m5 6h0m9-3h0m18 6h0m2-2h0m11-7h0m8-1h0m14 11h0m3-17h0m7-1h0m5 19h0m1-15h0m3 0h0m18 6h0m7 11h0m7-5h0m1-1h0m19-2h0m15 11h0m8-3h0m18-1h0m2 1h0m11-4h0m14 4h0m23-2h0m1 5h0m31-1h0m63-8h0m7-8h0m11 0h0m9 8h0m15-8h0"/><path id="Lc9" d="M123 1137h0m14 15h0m2 2h0m22-9h0m8-9h0m34 14h0m28-9h0m11-6h0m11 1h0m1 10h0m17-2h0m29-3h0m1 9h0m13-14h0m23 14h0m19-3h0m55 6h0m17-12h0m7-1h0m0 8h0m16 2h0m18-11h0m23 6h0m15 3h0m15 7h0m9-14h0m4 9h0m21-3h0m9 0h0m30-4h0m32 12h0m9-9h0m36 0h0m22 0h0m17 10h0m3 3h0m3-5h0m5-1h0m7-2h0m10 5h0m4-3h0m21-4h0m15 1h0m1 11h0m25-13h0m2 0h0m13 2h0m4 8h0m0-2h0m1 5h0m3-10h0m4-4h0m5 0h0m14 6h0m29 5h0m0-10h0m31 4h0m9 5h0m4-5h0m7-7h0m3 2h0m10-1h0m3 4h0m3 6h0"/><path id="Lc10" d="M137 1156h0m4 21h0m6-3h0m9-3h0m10 7h0m0-4h0m5-9h0m8-2h0m2 4h0m23 4h0m7-9h0m3 11h0m33-12h0m1 3h0m7-1h0m0-2h0m21-5h0m42 22h0m1-7h0m8-8h0m25 14h0m7-21h0m7 10h0m3-6h0m6 12h0m6-15h0m2-1h0m1 1h0m7 14h0m0-14h0m15 14h0m0 7h0m3-3h0m27-18h0m1 8h0m9 1h0m22 7h0m21-14h0m10 6h0m11-6h0m17 17h0m4-2h0m1-5h0m5 8h0m1-2h0m6-8h0m16-1h0m49 7h0m0 5h0m14-3h0m1-12h0m28 10h0m4-5h0m32 1h0m31 1h0m3 2h0m3 5h0m20-10h0m1 0h0m2-1h0m11 7h0m4-2h0m8 2h0m39-7h0m5 11h0m17-4h0m24-5h0m14 9h0m23-11h0m5 1h0m26 11h0"/><path id="Lc11" d="M118 1176h0m15 0h0m2 0h0m11 1h0m18 1h0m7-1h0m3 0h0m19 0h0m5-2h0m14-1h0m2 3h0m16 1h0m10-1h0m6 1h0m17-1h0m7-2h0m10 0h0m5 3h0m9-2h0m14 0h0m9 1h0m13 1h0m6 0h0m15-1h0m6 1h0m11-2h0m10 0h0m14 0h0m9-1h0m7-1h0m15 1h0m9 3h0m11-3h0m11 3h0m7-3h0m7 0h0m14 1h0m5-1h0m9 0h0m17 1h0m6 1h0m14-1h0m8-1h0m9 2h0m11-2h0m8-1h0m8 2h0m8 2h0m13-3h0m7 1h0m17 1h0m5-1h0m9 2h0m16-2h0m7-1h0m8 2h0m10-1h0m14 1h0m9 0h0m5-3h0m19 2h0m1 2h0m9-2h0m17 1h0m5 1h0m14-1h0m9 0h0m12-2h0m12 0h0m5 1h0m6 1h0m11-2h0m18 2h0m9-2h0m4 2h0m11-3h0m15 2h0m3 0h0m17 0h0m5 1h0m11-2h0m14 2h0m8-2h0m6 1h0"/><path id="Lc12" d="M129 1119h0m22 14h0m8-12h0m9-4h0m28-2h0m23 15h0m1 1h0m16-8h0m1 2h0m29-13h0m21 9h0m6-5h0m4 6h0m21-8h0m16 16h0m1-5h0m0-14h0m5 1h0m5 7h0m1 2h0m3-12h0m9 5h0m16-3h0m10 4h0m10-4h0m2 19h0m18-10h0m1 5h0m11 4h0m6-13h0m3 1h0m33-3h0m11 3h0m2 7h0m5 2h0m6 8h0m6-19h0m48 22h0m3-11h0m7 0h0m7 5h0m7-10h0m20 7h0m10-5h0m2 12h0m1-2h0m19-6h0m1 7h0m1-5h0m22 8h0m5-13h0m28 15h0m1-4h0m1 6h0m5-2h0m21-4h0m21 8h0m2 1h0m9-9h0m41 7h0m5-5h0m9-3h0m3 5h0m28 0h0m7-6h0m1 12h0m2-6h0m2-9h0m2 6h0m17 8h0m1-1h0m4-5h0m32-7h0m29 7h0m5-1h0m21-9h0m0 2h0"/><path id="Lc13" d="M199 1145h0m22-9h0m5 4h0m21-1h0m1 6h0m9-10h0m12 6h0m0 6h0m17 4h0m7-10h0m7-5h0m19 16h0m19-17h0m1 1h0m2 19h0m11-2h0m8-1h0m6-10h0m9 8h0m12-17h0m21 5h0m28 8h0m16 2h0m2-11h0m10 12h0m23 2h0m28-12h0m4 8h0m9 0h0m6 0h0m6 9h0m9-7h0m5 4h0m2-13h0m23 11h0m6-12h0m5 9h0m3-1h0m6 8h0m14-4h0m4-3h0m1-2h0m16-5h0m69 7h0m2 8h0m8-1h0m2-5h0m5 10h0m10-1h0m11-5h0m5 6h0m1 1h0m12-9h0m14 10h0m5-11h0m55 7h0m13-6h0m8-6h0m2 2h0m5 10h0m5-6h0m1 5h0m26-12h0m13 9h0m11-3h0m2-5h0m18 9h0m9 3h0"/><path id="Lc14" d="M118 1164h0m9-2h0m23 7h0m7 6h0m3-2h0m5-7h0m9-5h0m11-5h0m3 2h0m14 6h0m1-6h0m31 10h0m3 7h0m5-18h0m2 16h0m36-1h0m9 4h0m35-15h0m21 3h0m23 3h0m9-5h0m23 4h0m4 8h0m8 3h0m16-4h0m10-9h0m1-8h0m2 10h0m17 0h0m1-5h0m20-3h0m3 19h0m6-10h0m3 1h0m3 10h0m7-1h0m2-17h0m10 13h0m4-14h0m13 6h0m2 6h0m1-5h0m5-7h0m37 9h0m34 4h0m23-4h0m14 9h0m9-15h0m42 7h0m6 0h0m3 8h0m11-3h0m4-4h0m19-1h0m5-4h0m7 9h0m26 1h0m2-11h0m6 13h0m28-4h0m10-6h0m12 4h0m3 0h0m25 4h0m34 2h0m1-11h0m5-4h0m7 7h0m4-8h0m4 6h0m20 4h0m1-8h0m6 5h0"/><path id="Lc15" d="M124 1178h0m7-3h0m11 1h0m7-1h0m8 0h0m12 1h0m5-2h0m16 2h0m8 2h0m16-4h0m10 3h0m6 0h0m13 1h0m9-3h0m3 1h0m12 2h0m7 0h0m17-1h0m7-1h0m12-2h0m6 2h0m10 0h0m17 0h0m5 0h0m11 0h0m9 0h0m7-1h0m18 0h0m3 1h0m15 0h0m6 0h0m14 1h0m8-1h0m14 1h0m5-1h0m15 0h0m3-1h0m13 2h0m6-2h0m15 1h0m9 2h0m10 0h0m15-4h0m0 2h0m11-2h0m10 3h0m15-1h0m7 0h0m16 1h0m2-2h0m13 1h0m15 1h0m5-2h0m8 1h0m10-2h0m11 2h0m14 1h0m11-2h0m3 1h0m19-2h0m6 0h0m11 2h0m9 1h0m8 0h0m10 0h0m11 0h0m14-2h0m8 3h0m10-1h0m8 1h0m6-3h0m15 0h0m12 1h0m7-1h0m14 0h0m4 2h0m11-2h0m11 0h0m8 1h0m10-1h0m11 2h0m16 0h0m7 0h0m12-3h0"/><path id="Lc16" d="M125 1121h0m16 11h0m8 0h0m6 1h0m2-10h0m14-10h0m3 9h0m46 1h0m4-4h0m17-3h0m27 8h0m37-9h0m3 2h0m5 3h0m2 9h0m15-13h0m22-3h0m2 11h0m2 3h0m7 3h0m5-20h0m7 3h0m7-2h0m2 5h0m4 12h0m12-6h0m4-1h0m2-5h0m3-6h0m1 13h0m9-13h0m6 10h0m2 2h0m17-9h0m19 10h0m1-1h0m32-2h0m9 2h0m8-3h0m11 17h0m9-9h0m3-4h0m42 1h0m18 0h0m35 13h0m8-7h0m10 0h0m8-7h0m2 1h0m20 15h0m6-5h0m3 9h0m9-5h0m13 5h0m9-9h0m10 11h0m3-8h0m11-2h0m39 9h0m11-5h0m8-5h0m3 5h0m4-1h0m13 5h0m4-12h0m26 3h0m2 1h0m7-6h0m12 9h0m6-5h0m28 2h0m2-7h0m3 5h0m2 7h0m23-10h0m2-5h0m0 2h0m5 11h0m5-9h0"/><path id="Lc17" d="M122 1147h0m2-4h0m11 1h0m34 4h0m2 3h0m34-5h0m0-7h0m13 10h0m27-9h0m56 7h0m65-3h0m25 8h0m2-2h0m10 2h0m16-4h0m19 2h0m12-15h0m4 14h0m9-15h0m15 9h0m1 11h0m5-18h0m11 14h0m7-2h0m4 7h0m11-13h0m8 8h0m8-10h0m1 9h0m1-5h0m63-2h0m31 6h0m12 10h0m20-14h0m22 10h0m0-5h0m19 10h0m22 0h0m4-7h0m1-3h0m24 14h0m3-7h0m45-6h0m3 5h0m5-8h0m12 5h0m5 9h0m2-5h0m16-2h0m14 6h0m3-9h0m11 5h0m13-7h0m7 6h0m3-4h0m11 2h0m32 1h0m2-7h0m11-2h0"/><path id="Lc18" d="M144 1178h0m16-15h0m16 4h0m25-5h0m4 16h0m10-3h0m0-17h0m2 9h0m18 6h0m0 5h0m12-8h0m15-1h0m2-7h0m2 16h0m14-6h0m15 4h0m0-19h0m9 2h0m2 0h0m3 17h0m13-20h0m21 19h0m4-10h0m5-7h0m3 3h0m1 7h0m13-10h0m1 16h0m11-16h0m4 12h0m2 4h0m6-15h0m2-3h0m60 1h0m25 3h0m3 12h0m4-9h0m1-2h0m6 2h0m6 14h0m34 0h0m1-8h0m12-5h0m8 3h0m30-8h0m21 5h0m6 12h0m2-8h0m22 4h0m3-11h0m2 16h0m4-15h0m10 12h0m4 3h0m2-7h0m12 7h0m2-5h0m9-5h0m8 6h0m12-9h0m8 4h0m4 10h0m4-10h0m25 6h0m24-3h0m64 4h0m3-2h0m0-4h0m7 7h0m17-14h0m3 16h0m17-14h0m14 11h0m7-10h0m12-4h0m2 12h0m6-1h0m1-6h0m24-2h0m3 1h0"/><path id="Lc19" d="M123 1175h0m7-1h0m8 4h0m15-3h0m5 0h0m9 0h0m10 0h0m13 2h0m13-3h0m1 1h0m14 2h0m11-1h0m11 1h0m10-2h0m10 1h0m8 0h0m12 0h0m10-1h0m9 2h0m7-2h0m14 2h0m7 0h0m7 0h0m12-1h0m17 1h0m10-2h0m4 2h0m14 0h0m6 0h0m10-2h0m12 1h0m5-1h0m20 3h0m8 0h0m9-3h0m7 3h0m10-3h0m13 0h0m9 3h0m10-1h0m14-1h0m4 2h0m11-2h0m10 1h0m10-1h0m14-2h0m9 1h0m10 1h0m2 1h0m10-1h0m13 0h0m9-1h0m17 1h0m6 0h0m7 1h0m9-2h0m17 2h0m10 1h0m10-2h0m11 0h0m4-2h0m8 1h0m16 0h0m11 1h0m10 1h0m2 1h0m14-1h0m7-1h0m14 0h0m15 1h0m7 0h0m7 0h0m9-1h0m10 0h0m12-2h0m7 4h0m9-1h0m14 1h0m14-2h0m8-1h0m9 1h0m11 0h0m6 0h0m12 0h0"/><path id="Lc20" d="M133 1127h0m9 1h0m4-4h0m3-1h0m16 9h0m4-13h0m2-1h0m5-7h0m2 7h0m9-7h0m4 10h0m24 8h0m5-2h0m6-16h0m10 9h0m16-5h0m9 10h0m24 1h0m7-10h0m3 7h0m18-10h0m1 3h0m39-4h0m20 18h0m2-3h0m5-1h0m5-18h0m13 6h0m2-3h0m6 2h0m33-4h0m5 10h0m0 1h0m19 6h0m10-11h0m15 1h0m15 3h0m2 10h0m6-7h0m1 13h0m21-17h0m14 18h0m5-17h0m4 2h0m0 9h0m17 1h0m20-6h0m2 6h0m11-1h0m4-2h0m23-7h0m1 9h0m12-4h0m5 1h0m30-2h0m1 1h0m15 13h0m2-1h0m7 1h0m9 1h0m8 3h0m12-1h0m0-9h0m11 4h0m9 7h0m19-8h0m11-1h0m4 9h0m0-7h0m3 5h0m10-2h0m14 5h0m18-11h0m2 8h0m1 0h0m6-1h0m8 1h0m11-10h0m0 9h0m0-9h0m27 11h0m11-14h0m5 11h0m4-4h0m11-5h0m0-4h0m1 6h0m27-3h0"/><path id="Lc21" d="M129 1140h0m5 12h0m39-3h0m34-6h0m6 1h0m3-1h0m6-8h0m29 11h0m61-1h0m1-3h0m2-7h0m9 11h0m5 9h0m1-14h0m5-1h0m7-5h0m2 15h0m2-11h0m2-4h0m6 14h0m2-14h0m12 19h0m18-7h0m17-1h0m8 6h0m17-4h0m12-9h0m2 2h0m7 0h0m30 10h0m6-8h0m4 1h0m8-4h0m3 2h0m32 2h0m22 13h0m16 0h0m1-3h0m15 3h0m6-12h0m2 10h0m0-12h0m14 0h0m10-2h0m7 13h0m105-5h0m33 2h0m13 3h0m7 2h0m8 5h0m12-7h0m6 5h0m10-6h0m17 3h0m3 1h0m3-8h0m9 8h0m3 0h0m13 4h0m3-8h0m48 1h0m2-5h0m8 11h0"/><path id="Lc22" d="M125 1164h0m6 13h0m54-14h0m16 3h0m21 0h0m13-7h0m38 7h0m5 4h0m49 4h0m26-11h0m13 6h0m18 4h0m10-6h0m14 2h0m3 0h0m8 1h0m10 0h0m15 5h0m4 1h0m15-6h0m4-8h0m2-1h0m7 9h0m4 5h0m4-12h0m3 8h0m2-9h0m14-1h0m7 17h0m10-10h0m5 0h0m2-3h0m13 3h0m11-2h0m24-6h0m3 5h0m1 11h0m11-10h0m1-3h0m33 6h0m15 4h0m11-10h0m13 12h0m4-11h0m19 1h0m11 5h0m6-8h0m20 10h0m30-7h0m15 2h0m15 3h0m20 2h0m6 6h0m2-7h0m11-9h0m4 2h0m7 1h0m2 8h0m1-3h0m6 8h0m12-13h0m3 3h0m9 0h0m30-6h0m3 4h0m34-3h0m14 1h0"/><path id="Lc23" d="M116 1175h0m15 2h0m5-1h0m13 1h0m8 1h0m15-4h0m9 2h0m10 0h0m6 1h0m7-2h0m18 0h0m11 1h0m8-1h0m3 1h0m13-1h0m16-1h0m5 1h0m11-1h0m8 2h0m13-1h0m10-1h0m6 2h0m11 2h0m8 0h0m18-4h0m5 2h0m16-1h0m9 3h0m5-2h0m11-1h0m7 3h0m9-1h0m10-1h0m16-1h0m8 1h0m9-1h0m6-1h0m20 0h0m5 2h0m14-2h0m3 4h0m15-1h0m5-1h0m13 1h0m13-3h0m4 2h0m18-1h0m8 0h0m9 0h0m10 1h0m10 1h0m11-1h0m8 0h0m9 1h0m15 0h0m10-1h0m8 0h0m8 0h0m9-2h0m10 1h0m12 3h0m7-3h0m12 0h0m9 2h0m10-1h0m5 1h0m12-2h0m8 0h0m10 3h0m19-2h0m6 1h0m14 0h0m8-1h0m9 1h0m4 0h0m12-2h0m16 2h0m9 0h0m9 0h0m7-2h0m15 1h0m7-1h0m11 2h0m5 1h0"/><path id="Lc24" d="M136 1124h0m10 2h0m14-4h0m33 9h0m12-4h0m1 3h0m7-3h0m1 0h0m16-5h0m1 6h0m3-15h0m9 5h0m32 11h0m20-5h0m6 0h0m16 9h0m4-17h0m5 6h0m10 6h0m9-4h0m11 1h0m0-11h0m50 0h0m12 8h0m17 3h0m21 7h0m0-8h0m1 7h0m4-10h0m3 2h0m17 5h0m4-8h0m2-3h0m15 14h0m12-10h0m14 9h0m6 4h0m36-7h0m10 5h0m1-10h0m4 10h0m2-8h0m17 10h0m3-6h0m7-1h0m9-1h0m7-4h0m6 17h0m10-7h0m11 7h0m13 1h0m7-10h0m15 5h0m63 4h0m1 0h0m10 5h0m28-10h0m5 12h0m27-12h0m5 12h0m7-10h0m7-4h0m13 4h0m5 4h0m1-11h0m2 7h0m23-5h0m9 12h0m33-15h0m9-2h0"/><path id="Lc25" d="M124 1145h0m4 1h0m0 8h0m7-6h0m5 7h0m6-7h0m14-1h0m2 6h0m1-5h0m0-8h0m5-1h0m3-5h0m7 16h0m9-11h0m12 9h0m41-1h0m5 1h0m4-11h0m16 6h0m26 9h0m16-13h0m10 9h0m6 6h0m35-20h0m8-3h0m5 13h0m13 6h0m2-19h0m3 11h0m16 4h0m9-3h0m7-9h0m12 15h0m12 2h0m9-2h0m2-5h0m10 5h0m4-7h0m9 10h0m8-17h0m7 12h0m2 6h0m3 1h0m3-9h0m3 10h0m13 1h0m3-9h0m14 10h0m3-13h0m3 9h0m1-10h0m10 10h0m2-8h0m12 10h0m1-6h0m20-5h0m15-2h0m2-1h0m20 7h0m6 8h0m4-16h0m19 5h0m7 6h0m4 4h0m13-12h0m11 2h0m5 0h0m14 4h0m8 2h0m8 5h0m7 2h0m2-2h0m2-3h0m21 3h0m0 3h0m48-7h0m7 6h0m8-4h0m5 2h0m6 6h0m6-15h0m1 8h0m60-5h0m3 2h0m5-4h0m10 3h0m3 1h0"/><path id="Lc26" d="M126 1159h0m6-3h0m25 15h0m5-6h0m3 8h0m4-11h0m25 13h0m38-17h0m32 0h0m2 17h0m1-9h0m1 8h0m4-5h0m14 0h0m21 3h0m3-12h0m0 6h0m8-7h0m8 12h0m2 3h0m1 0h0m20-7h0m18-12h0m29 4h0m14 15h0m8-5h0m2-8h0m3 2h0m8-1h0m9 5h0m12-6h0m19 5h0m22-9h0m18 3h0m0 14h0m35 2h0m21-5h0m17 6h0m10-11h0m1 4h0m16 5h0m8-11h0m7 5h0m11-6h0m19 12h0m7-8h0m0-4h0m3 6h0m6-3h0m23 7h0m3-5h0m11 6h0m6-10h0m42 10h0m2-7h0m44 6h0m26 2h0m5 1h0m51-1h0m34 2h0m9-14h0"/><path id="Lc27" d="M117 1174h0m14 3h0m8-2h0m6 0h0m16 1h0m10 1h0m12-1h0m4 2h0m11-2h0m13-1h0m13 1h0m6 0h0m11 0h0m11 1h0m7-2h0m13 2h0m10-2h0m10 0h0m4 1h0m16-1h0m4 3h0m13 0h0m15-4h0m6 1h0m12 0h0m3-1h0m16 0h0m9 1h0m9-1h0m13 4h0m8 0h0m10-1h0m13 0h0m9 0h0m12 1h0m6-1h0m4-3h0m19 1h0m2 0h0m19 0h0m7-1h0m10 2h0m11 1h0m11-1h0m3 1h0m12 0h0m10-3h0m8 1h0m16 1h0m4 0h0m18 0h0m7-2h0m5 4h0m11-1h0m13-1h0m13 0h0m6 0h0m5 2h0m10-2h0m14 0h0m16 0h0m3 0h0m12 0h0m14-2h0m5 2h0m15 2h0m8-1h0m7-2h0m7 1h0m10 0h0m12-1h0m15 3h0m4-2h0m13 1h0m9-2h0m6 0h0m13 1h0m15 2h0m9-3h0m7-1h0m15 3h0m8-1h0m11-2h0m12 1h0"/><path id="Lc28" d="M127 1113h0m4 3h0m2 1h0m17 1h0m17 10h0m7 0h0m11-15h0m4 2h0m1-3h0m21 10h0m5-7h0m5-1h0m11 3h0m21 16h0m29-19h0m17 10h0m1 3h0m1 2h0m5-6h0m15-4h0m0 8h0m2-11h0m3 1h0m14 2h0m21 4h0m2 1h0m7-14h0m58 6h0m1-1h0m7 4h0m6-9h0m13 8h0m2 8h0m20-1h0m11-8h0m10-2h0m10 3h0m0 4h0m3-2h0m2-1h0m25 10h0m7 7h0m29-3h0m9-6h0m11 1h0m16 4h0m21 7h0m9 1h0m21-10h0m2-4h0m6 8h0m1 5h0m14-7h0m9-1h0m19-1h0m10 14h0m9-10h0m3 10h0m3-11h0m1 4h0m5-3h0m5 0h0m0 7h0m4 2h0m6 1h0m1 4h0m1-8h0m5-5h0m1 6h0m6-4h0m14 1h0m15 6h0m9 1h0m45-11h0m10-5h0m19 3h0m13-3h0m6 7h0m26 2h0m0-1h0"/><path id="Lc29" d="M136 1138h0m1 4h0m13-1h0m9 12h0m12-4h0m8-7h0m5 10h0m3-3h0m23 1h0m14-6h0m10-2h0m14 12h0m22-1h0m8-4h0m33 6h0m13-18h0m3 18h0m8-2h0m21-10h0m14-1h0m6 8h0m6 1h0m5-11h0m49-1h0m2 7h0m13-12h0m5 9h0m40 6h0m26-10h0m8 7h0m7 2h0m5-8h0m7 10h0m11 7h0m1-16h0m0 12h0m12-10h0m0-2h0m13 11h0m18 4h0m5 2h0m3-6h0m7 3h0m4-10h0m1 12h0m8-10h0m9 4h0m13 4h0m1-1h0m18 4h0m20-3h0m18 6h0m42-2h0m6 2h0m6-11h0m1 9h0m14 2h0m44-1h0m31-7h0m1 3h0m13-11h0m10 3h0m4 13h0m4-6h0m7-8h0m10 10h0m17-5h0m6-5h0m13 6h0"/><path id="Lc30" d="M134 1157h0m11 13h0m14-2h0m2-7h0m6 4h0m10 10h0m6-14h0m24-5h0m30 16h0m9-15h0m25 18h0m1-12h0m6 4h0m0-1h0m21 7h0m8 3h0m4-20h0m11 0h0m6 3h0m15 8h0m9-2h0m25 2h0m3 10h0m8-9h0m5-7h0m20 15h0m8 1h0m27 0h0m3-4h0m11 1h0m21-6h0m32-11h0m7 17h0m0-12h0m20 15h0m19-12h0m14 9h0m4-12h0m12 8h0m8-4h0m4 11h0m9-14h0m7 13h0m3-5h0m28-11h0m11 1h0m20 16h0m1-16h0m20 3h0m1 14h0m29-13h0m16 9h0m16 3h0m9-6h0m22 4h0m7 2h0m5-4h0m0-2h0m8-3h0m19 9h0m21-10h0m17-1h0m12 1h0m13 2h0m17-3h0m6-5h0m19 12h0m8-4h0m4 3h0"/><path id="Lc31" d="M116 1176h0m13 0h0m12-1h0m8 0h0m8 2h0m14-2h0m10 1h0m6-2h0m11 4h0m8 0h0m14-3h0m8 1h0m7-1h0m16 1h0m6-1h0m12 0h0m14-1h0m5 4h0m16-2h0m8-1h0m8 0h0m7-1h0m8 2h0m16 0h0m4 2h0m14-3h0m13 1h0m6 1h0m10-2h0m13 0h0m9 1h0m5 0h0m9 2h0m20-2h0m5 0h0m14 1h0m6-3h0m13 3h0m4-2h0m14 0h0m5 0h0m19 0h0m8 1h0m6-1h0m16 0h0m5 3h0m13-1h0m10-1h0m2 2h0m10-3h0m16 2h0m12 0h0m9 0h0m4 1h0m18-1h0m4 0h0m7-2h0m17 1h0m10 1h0m4-1h0m15-1h0m9 2h0m10 0h0m12-1h0m9-1h0m6 0h0m16 3h0m8-1h0m7-2h0m16 1h0m4-1h0m15 0h0m9 2h0m9-1h0m13-1h0m5 1h0m12 0h0m6 1h0m9-2h0m10 0h0m17 0h0m10 2h0m11-1h0m1 1h0"/><path id="Lc32" d="M128 1116h0m12 11h0m16-9h0m23-5h0m12 0h0m54 5h0m6-1h0m6 4h0m3 10h0m9-2h0m7-4h0m7-6h0m0-1h0m4 8h0m9-11h0m3 6h0m2-7h0m2 20h0m0-3h0m5-11h0m21 0h0m18-11h0m24 2h0m6 5h0m2-3h0m11 5h0m27-9h0m35 6h0m2 2h0m2-1h0m19-1h0m2 16h0m5-18h0m16 18h0m7-12h0m32-1h0m1 1h0m14 18h0m27 0h0m10-7h0m6 8h0m5-6h0m3-3h0m2 4h0m11-9h0m9-4h0m13 4h0m3-3h0m3 18h0m45 2h0m8-7h0m9 2h0m40 7h0m7-3h0m19 0h0m23-7h0m2 0h0m5 13h0m15-2h0m11-2h0m10-12h0m5 16h0m16-12h0m15-5h0m8 15h0m7-16h0m21 2h0m5-3h0m2 0h0m13 12h0m21-12h0"/><path id="Lc33" d="M124 1155h0m4-19h0m5 1h0m32 18h0m3-4h0m11-10h0m7 7h0m7-6h0m17-4h0m31 11h0m5-2h0m1-5h0m11 7h0m32 5h0m6-20h0m1 3h0m29 18h0m3-10h0m13 10h0m4-12h0m8-7h0m0 17h0m23 0h0m2-20h0m2 16h0m15-11h0m4 9h0m9-12h0m1 12h0m28-9h0m2-5h0m3 10h0m9-9h0m8 12h0m2-8h0m2-3h0m11 1h0m5 2h0m17 11h0m26 4h0m6-8h0m5 6h0m7 2h0m26-3h0m5-1h0m2 0h0m19 9h0m7-7h0m0 5h0m32-16h0m3 16h0m2-1h0m14 3h0m1 0h0m1-1h0m17-4h0m15-6h0m5-3h0m5 12h0m32-7h0m4-1h0m16 7h0m10 5h0m13-3h0m3 4h0m9-13h0m4 5h0m4 2h0m37 3h0m1 0h0m28-2h0m15-2h0m12 1h0m15 3h0m6-3h0m23-2h0"/><path id="Lc34" d="M133 1159h0m14 5h0m2 10h0m3-13h0m6 4h0m18 3h0m5-2h0m23-4h0m2 11h0m20 3h0m1-6h0m13 3h0m6-4h0m19-13h0m2 11h0m5-10h0m7 11h0m11 5h0m14-3h0m12 0h0m9-10h0m37 14h0m14-7h0m3-6h0m19 10h0m14 1h0m10 1h0m1-10h0m8-4h0m11 1h0m10 12h0m6-7h0m3 2h0m9-8h0m3 8h0m1-3h0m9 14h0m22-19h0m2 4h0m8 15h0m4-6h0m27-9h0m23 15h0m35-3h0m17-3h0m18-8h0m8-2h0m26 15h0m3-8h0m17-6h0m9 9h0m8-3h0m1 8h0m20-8h0m33-1h0m1 8h0m0-7h0m7 1h0m4 1h0m1-1h0m1 2h0m11 0h0m6-9h0m6 7h0m14-2h0m10 0h0m16 3h0m22 0h0m12 0h0m22-3h0m52 5h0"/><path id="Lc35" d="M121 1177h0m9 0h0m10-1h0m10 0h0m4 0h0m19-2h0m8 2h0m12-1h0m10 0h0m3 2h0m12-1h0m14 1h0m4-3h0m15 2h0m6 0h0m11-2h0m14 2h0m11 1h0m5-1h0m6-2h0m20 3h0m1-2h0m19 3h0m0-3h0m18 2h0m8-1h0m13-1h0m6 0h0m6-1h0m9 3h0m12 0h0m16 0h0m7 0h0m11-1h0m8-1h0m8 1h0m15-2h0m4 2h0m9-1h0m14 2h0m10-1h0m9 1h0m15-2h0m8 3h0m5 0h0m16-1h0m9 0h0m11-1h0m9 1h0m9-1h0m5 1h0m17 0h0m13 1h0m3-2h0m7 1h0m20-1h0m2 0h0m10 0h0m12 0h0m14 1h0m3-1h0m10 0h0m18-1h0m3-1h0m12 2h0m7 2h0m9-2h0m15-1h0m10 2h0m5 1h0m16-3h0m6 1h0m11 1h0m13-2h0m7 0h0m13 0h0m9 0h0m6 0h0m15 1h0m4-1h0m13 2h0m7-2h0m13 2h0m15-2h0"/><path id="Lc36" d="M121 1123h0m32-12h0m11 18h0m24-13h0m9 13h0m20-16h0m10 18h0m47-7h0m14-10h0m17 7h0m4-3h0m10 8h0m5 2h0m4-6h0m3-5h0m31 11h0m30-15h0m4 13h0m1-9h0m0-10h0m14 4h0m7-4h0m10 1h0m3 8h0m11-6h0m54 24h0m6 1h0m6-10h0m13 2h0m3-3h0m5-2h0m10 1h0m6 14h0m3-18h0m1 10h0m24 3h0m9-1h0m8 4h0m3 1h0m1-12h0m39 13h0m12-16h0m5 8h0m9-5h0m7 12h0m16 5h0m5-10h0m6 10h0m3-11h0m7 1h0m11 3h0m9 11h0m10-14h0m12 4h0m4-2h0m22 5h0m10-5h0m5 2h0m1 12h0m1-4h0m11-6h0m1-1h0m5 11h0m25-15h0m1 2h0m5-2h0m4 0h0m14-3h0m20 12h0m12-7h0m15 6h0m7-7h0m0 0h0"/><path id="Lc37" d="M123 1154h0m11-19h0m9 12h0m15-7h0m6 4h0m38 6h0m2-7h0m17-4h0m5 12h0m7-15h0m5 1h0m16 13h0m52-4h0m15-9h0m4 17h0m1-12h0m22 8h0m2 5h0m32-14h0m1-5h0m9 14h0m5 3h0m4-14h0m3 6h0m4-9h0m7-6h0m31 22h0m5-10h0m4 6h0m9-2h0m18 3h0m1-4h0m1-10h0m30 5h0m55 5h0m20 13h0m4-9h0m6 7h0m45-15h0m14 2h0m6 16h0m3-17h0m0 7h0m11 1h0m1 1h0m42 3h0m10 7h0m13-4h0m7-3h0m1 8h0m2 0h0m0-7h0m20 2h0m18-7h0m15 8h0m1 3h0m3-10h0m12-3h0m18 13h0m2-11h0m8-1h0m4 2h0m1 2h0m0 0h0m18 2h0m0-3h0m18-6h0m4 13h0m18-4h0m11-6h0m14 2h0m7-7h0"/><path id="Lc38" d="M120 1177h0m25-14h0m23 11h0m4-12h0m30 16h0m6-1h0m10-14h0m1-3h0m10 0h0m5 16h0m4-17h0m20 13h0m3-2h0m4-12h0m12 4h0m13-5h0m9 4h0m5 11h0m6-13h0m6 8h0m6-11h0m6 15h0m3-13h0m13-1h0m4 14h0m13-15h0m10 16h0m1-14h0m14 8h0m0 11h0m1-8h0m16-6h0m6 13h0m0 0h0m24-21h0m7 11h0m40-6h0m9 7h0m23 7h0m0-7h0m4-7h0m23 2h0m41-2h0m7 7h0m15 7h0m1-12h0m0 15h0m29 1h0m5-16h0m4 10h0m11 1h0m6 3h0m14-12h0m17 8h0m1 1h0m0-8h0m1 3h0m24 9h0m11-4h0m2-7h0m0-2h0m35 0h0m21 0h0m1 1h0m1 9h0m4 3h0m37-5h0m23 5h0m39-3h0m20-13h0m3 14h0m8-6h0m32-5h0"/><path id="Lc39" d="M118 1176h0m10-1h0m13 2h0m11 0h0m11 0h0m11 0h0m5-1h0m14-1h0m5 2h0m9-1h0m13 0h0m14 0h0m1 0h0m14-1h0m8 2h0m14-2h0m11 1h0m7-1h0m7 0h0m10 2h0m13-1h0m11 2h0m7-1h0m9 0h0m13 1h0m6-1h0m17-2h0m8 2h0m12-2h0m10 3h0m12-1h0m9-1h0m9 1h0m6-2h0m9 2h0m14-1h0m5 1h0m17 0h0m6 0h0m7 0h0m15 1h0m12-3h0m8 2h0m6 1h0m12-1h0m11-1h0m7 0h0m11 2h0m11-4h0m8 3h0m11 0h0m10-1h0m10-2h0m7 3h0m12-1h0m9 1h0m18-3h0m3 1h0m8-1h0m11 2h0m14-1h0m5 2h0m14 0h0m15-2h0m7 0h0m5-1h0m16 1h0m7 1h0m14 0h0m10-1h0m5 3h0m6-3h0m19 1h0m11 2h0m10-2h0m5 2h0m11-3h0m7-1h0m9 2h0m13-2h0m9 2h0m11 0h0m13 0h0m9 2h0"/><path id="Lc40" d="M162 1129h0m14 2h0m4-20h0m16 1h0m7 4h0m3 3h0m8-5h0m1 12h0m7-2h0m14 7h0m12-5h0m13-11h0m6 7h0m0-7h0m16 3h0m8-1h0m6 1h0m4-4h0m14 15h0m13-7h0m31 1h0m6-4h0m16-11h0m1 21h0m6-7h0m6-8h0m13 3h0m3-4h0m11 15h0m6-7h0m4 7h0m0-18h0m1 14h0m16-6h0m4-2h0m9 13h0m8-6h0m18-10h0m1 18h0m47-6h0m5 5h0m14 2h0m3-7h0m10-2h0m8-4h0m73 14h0m19-10h0m22 12h0m11 8h0m1-9h0m10 11h0m20-8h0m2 9h0m1-10h0m2-3h0m31 6h0m1-1h0m51 7h0m11-14h0m38 10h0m2-8h0m8-4h0m9 12h0m20-2h0m15 0h0m6-4h0m5-2h0m4 8h0m13-12h0"/><path id="Lc41" d="M121 1141h0m19-3h0m6 5h0m26 7h0m16-8h0m6 9h0m20 1h0m0-6h0m13-8h0m33 2h0m4 8h0m28-3h0m9 10h0m8-6h0m1-13h0m29 12h0m13-10h0m0-2h0m3-3h0m3-1h0m14 13h0m19-1h0m16-7h0m1 14h0m26 1h0m1-1h0m9-10h0m0 10h0m3-17h0m7 15h0m6-10h0m20-4h0m1 9h0m34-5h0m8 9h0m37-6h0m3 11h0m4-7h0m5 10h0m3-11h0m25-1h0m4 4h0m2 7h0m13-15h0m3 10h0m9-4h0m1 12h0m30-2h0m2-9h0m9 3h0m0 6h0m3-11h0m3 1h0m4 4h0m6-3h0m5 7h0m11 7h0m10-6h0m22 1h0m6 2h0m4 3h0m32-10h0m10 4h0m6 5h0m24-2h0m1-8h0m10 7h0m8 0h0m0 2h0m8-3h0m3-1h0m21-9h0m12 1h0m18 12h0m18-13h0"/><path id="Lc42" d="M124 1172h0m10-5h0m33-5h0m3 13h0m4 0h0m14-1h0m3-5h0m12 5h0m21-5h0m1-12h0m6 2h0m4 8h0m11-6h0m6 12h0m3-17h0m2 12h0m2-10h0m4 7h0m8 12h0m5-17h0m8 17h0m26-18h0m18 12h0m14 6h0m7-11h0m1-6h0m12 7h0m17-2h0m2 13h0m4-6h0m20-5h0m8 6h0m2 2h0m11-5h0m37-8h0m7-5h0m2 3h0m9 5h0m8 5h0m4-13h0m20 3h0m2 8h0m9 3h0m14 2h0m24-4h0m20 4h0m2-2h0m6-2h0m42 2h0m15-2h0m8 8h0m9-9h0m21 3h0m7-7h0m3 2h0m18 10h0m2-10h0m3 5h0m22 0h0m5 3h0m17-10h0m4 9h0m7 0h0m12-7h0m20 2h0m2 9h0m44-10h0m2 7h0m16-6h0m13-3h0m7 4h0m31 5h0m7-7h0m24 9h0"/><path id="Lc43" d="M123 1175h0m8 0h0m4 0h0m18 0h0m11 3h0m1-4h0m17 1h0m11 1h0m6 0h0m8 1h0m16-2h0m2 1h0m13 1h0m13 0h0m11-3h0m10 1h0m3 1h0m14 0h0m10 2h0m14-2h0m6-1h0m8 0h0m7 0h0m14 2h0m12-1h0m11 2h0m10-3h0m13 1h0m5 1h0m14 0h0m3-2h0m11 3h0m14-3h0m8 2h0m9-2h0m10 2h0m11-2h0m6 3h0m10-1h0m12-2h0m14-1h0m7 2h0m16-1h0m2 0h0m13 1h0m13 1h0m12-2h0m3 0h0m16 1h0m4 1h0m7 0h0m18-2h0m11 1h0m10 0h0m9-1h0m4 1h0m13 0h0m12 2h0m12-2h0m1 1h0m13-2h0m13 3h0m10-3h0m9 2h0m10-2h0m9 1h0m11 1h0m9-2h0m10 2h0m10-3h0m10 2h0m11 0h0m6-1h0m10 0h0m15 2h0m6-1h0m13 1h0m8-2h0m11 0h0m12-1h0m8 1h0m8 3h0m11-1h0m17-3h0"/><path id="Lc44" d="M131 1118h0m50-4h0m16 1h0m8 11h0m23-1h0m34-4h0m6-7h0m1 17h0m10-11h0m27 9h0m12-13h0m13-3h0m17 3h0m7 15h0m20-6h0m4-1h0m41 1h0m12-8h0m1-7h0m11 21h0m12-10h0m16 11h0m0-12h0m7 0h0m14-3h0m9 14h0m10 0h0m15-9h0m2 11h0m3-2h0m0-11h0m12-2h0m9 19h0m44-12h0m28 13h0m11-14h0m50 9h0m23 3h0m1-7h0m15 16h0m2-3h0m2-10h0m9 11h0m1-10h0m2 3h0m5 3h0m8 5h0m1-8h0m10 8h0m1 3h0m5 0h0m15-11h0m1 1h0m27-4h0m10 1h0m25 7h0m8-9h0m4 6h0m2 3h0m3 2h0m5-7h0m25-5h0m9 2h0m1 2h0m6 4h0m22-4h0m0-3h0m2-5h0"/><path id="Lc45" d="M151 1142h0m5 11h0m14-10h0m7-9h0m5 16h0m24 2h0m16-3h0m22 2h0m18-2h0m10 4h0m5-10h0m6 1h0m1 4h0m11-6h0m0 8h0m12-2h0m34 0h0m8 4h0m28-14h0m3 8h0m12-10h0m16-4h0m1-2h0m3 3h0m8-1h0m0 0h0m7 7h0m19 11h0m23 3h0m4-15h0m7 16h0m0-9h0m11 10h0m4-19h0m18 6h0m32 13h0m14 0h0m0-8h0m13-2h0m4 13h0m5-10h0m2 3h0m0-11h0m30 2h0m22 1h0m30 7h0m1-4h0m14-1h0m20 14h0m3-10h0m3 6h0m14 3h0m14-9h0m58 14h0m11-6h0m36 3h0m4-9h0m9-2h0m22 10h0m1-8h0m7-3h0m3 7h0m5-4h0m6-7h0m4 14h0m26-9h0m2 3h0m17-7h0"/><path id="Lc46" d="M142 1172h0m1-14h0m5 3h0m5 10h0m3-11h0m4 11h0m5 2h0m16-4h0m32 0h0m2 7h0m8-12h0m3 6h0m0-8h0m8 6h0m32-3h0m10-7h0m27 1h0m8-2h0m1 18h0m4-4h0m5 3h0m14-16h0m22 10h0m1-5h0m11-1h0m13 1h0m6 12h0m1-21h0m21 21h0m82-13h0m1 13h0m6-12h0m7 7h0m2 1h0m8-2h0m25 9h0m14-7h0m10-8h0m3 12h0m9-12h0m10 3h0m22 8h0m3-9h0m2 4h0m10-5h0m2 6h0m0-8h0m10 3h0m25 8h0m2 4h0m20-4h0m12 5h0m18 0h0m11-4h0m3 4h0m3 0h0m10-7h0m3-6h0m5 9h0m1-8h0m4 6h0m23 3h0m2-2h0m11-6h0m4 8h0m5 2h0m10-2h0m7-4h0m1 6h0m7-10h0m21 1h0m3-3h0m17 9h0m4 2h0m7-11h0m32 8h0m8 2h0m3-11h0m5 1h0m9 3h0m5 0h0m1 0h0"/><path id="Lc47" d="M118 1175h0m14-1h0m6 1h0m15 1h0m6-2h0m10 0h0m6 1h0m13 0h0m13 0h0m7 2h0m9-2h0m10 0h0m11 3h0m16-2h0m5 1h0m11-1h0m4-1h0m11 2h0m11-2h0m17 0h0m6 1h0m7 0h0m11 2h0m16-2h0m7-1h0m4 2h0m14-3h0m6 1h0m13 1h0m9-1h0m9 0h0m14 0h0m11 3h0m6-3h0m16 2h0m8-2h0m9 0h0m11 2h0m7-1h0m12 0h0m7 0h0m15-1h0m8 0h0m6 1h0m10-1h0m15 3h0m7-3h0m14 1h0m11 0h0m8 0h0m13 1h0m9-2h0m9 1h0m9 1h0m7-2h0m7 2h0m19 0h0m6-1h0m9-1h0m7 2h0m18-1h0m4 0h0m10-1h0m13 2h0m10-1h0m12 2h0m3-2h0m18-1h0m8 1h0m8 1h0m14-1h0m3 1h0m18 0h0m7-2h0m8 1h0m8 2h0m17-3h0m4 3h0m6-4h0m15 4h0m9-1h0m7-1h0m13 1h0m13-2h0"/><path id="Lc48" d="M132 1108h0m6 23h0m15-24h0m3 31h0m5-32h0m5 13h0m6 22h0m13-10h0m2 4h0m5-3h0m9-34h0m20 10h0m2 35h0m5-30h0m15-11h0m10 22h0m2-20h0m6 36h0m3-27h0m10-12h0m2 14h0m12 29h0m2-16h0m3 16h0m11-22h0m7-8h0m6-2h0m2 29h0m4 5h0m14-11h0m2-27h0m5 32h0m8-40h0m28 27h0m10 1h0m2-3h0m8-1h0m0-2h0m5 5h0m4-12h0m2 12h0m8-31h0m24 11h0m4-4h0m5 8h0m1 31h0m1-34h0m18 42h0m16-30h0m5 7h0m9 13h0m18-10h0m11-2h0m23 25h0m1-25h0m1 17h0m0-1h0m2-12h0m0 26h0m5-3h0m7-28h0m7 16h0m19-22h0m6-1h0m1 8h0m11-2h0m10-1h0m19 2h0m9 10h0m27 13h0m2-19h0m7-2h0m2 7h0m10 6h0m0-19h0m0 2h0m4 36h0m9-44h0m2 9h0m4 38h0m6-37h0m3 12h0m15 1h0m10-6h0m3 24h0m5-27h0m6 1h0m5 8h0m2 19h0m6-20h0m11 26h0m2-35h0m5-3h0m5 41h0m4-33h0m16-6h0m4 17h0m4-16h0m8 5h0m1 29h0m9-13h0m3 1h0m3-9h0m2 13h0m5-3h0m14 4h0m12-31h0m4 29h0m0-21h0m9 3h0m11 17h0m2-21h0m26-15h0m0-1h0m8 12h0m3 12h0m1 16h0"/><path id="Lc49" d="M125 1131h0m7-16h0m11-1h0m1 1h0m43 2h0m1 1h0m2-11h0m25 13h0m0 22h0m13-37h0m23 23h0m15-4h0m8 19h0m17 7h0m13-47h0m3 21h0m0-1h0m4 15h0m5-16h0m2-4h0m6 9h0m32-23h0m3 5h0m15-3h0m5 6h0m4 1h0m3 25h0m5-5h0m1-27h0m8 33h0m3-24h0m10 6h0m6-10h0m1 8h0m5-5h0m2 16h0m4-35h0m7 37h0m7-20h0m16 6h0m1 7h0m2-16h0m3 30h0m3-18h0m9 6h0m14-8h0m6 14h0m8 19h0m12-10h0m10-22h0m7 28h0m3-22h0m7-4h0m44-5h0m14 33h0m5-24h0m0 10h0m1-19h0m2-8h0m2 14h0m20 27h0m6 0h0m2-35h0m7 2h0m9 26h0m2-27h0m0 29h0m0-23h0m4 12h0m3-15h0m1 16h0m10 0h0m0 23h0m16-36h0m2 41h0m7-16h0m10 0h0m17 5h0m1-17h0m5 14h0m17 9h0m3 5h0m21-3h0m29-26h0m2-7h0m3 28h0m7 5h0m0-32h0m10 21h0m1 7h0m1-12h0m12 21h0m2-27h0m8 17h0m2-29h0m1 1h0m0 3h0m1 22h0m1-8h0m1 2h0m1 18h0m0-35h0m3 12h0m18-20h0m3-1h0m2 39h0m21-20h0m2-8h0m4 24h0m1 8h0m3-30h0m1 19h0m5-25h0m3 2h0m1-8h0m4-4h0m9 39h0"/><path id="Lc50" d="M126 1092h0m4 10h0m5 18h0m26 1h0m7-21h0m27-8h0m13 19h0m6 3h0m0-16h0m12-7h0m11 23h0m10-2h0m4-16h0m4 27h0m8-23h0m4 2h0m4-9h0m1 13h0m11 9h0m16 1h0m1-3h0m3-7h0m11 10h0m3-6h0m3-9h0m1 17h0m4 6h0m10 1h0m3-13h0m8-16h0m1 14h0m1 13h0m0-22h0m8-2h0m0 5h0m2 15h0m7 9h0m2-29h0m4 4h0m5-9h0m6 6h0m4 14h0m11 7h0m4-17h0m3-5h0m28 18h0m4-22h0m8 10h0m1 16h0m7-4h0m4-20h0m53 26h0m17 6h0m3-22h0m4 14h0m3-5h0m18-12h0m9 18h0m1 12h0m13-22h0m4 12h0m1 8h0m24-25h0m10 7h0m22 7h0m1 5h0m0 10h0m35-20h0m1 13h0m14-21h0m5 18h0m24 8h0m21-23h0m4 21h0m16 10h0m1 4h0m4 2h0m5-4h0m1-27h0m5 7h0m1 26h0m24-10h0m24-15h0m2 18h0m5-25h0m18 15h0m1-22h0m8 6h0m1 19h0m1-17h0m8 6h0m12-2h0m20-11h0m11 12h0m1 6h0m2-20h0m10 2h0m12 29h0m6-33h0m0 7h0m4 10h0"/><path id="Lc51" d="M119 1103h0m1 10h0m3-8h0m2 4h0m0-1h0m3-15h0m14 11h0m9 8h0m14-18h0m14 6h0m6 7h0m12-10h0m19 34h0m5-31h0m11 22h0m3-1h0m3-9h0m6-19h0m4 4h0m2 13h0m4 1h0m2-10h0m0 12h0m13-20h0m21 7h0m2-1h0m17 4h0m2 10h0m7-17h0m8-1h0m1 23h0m1-21h0m2 3h0m3-6h0m7 7h0m4 15h0m1 0h0m19-1h0m2-12h0m4 13h0m8-15h0m2 22h0m5-1h0m23-29h0m24 9h0m29 17h0m10-15h0m1 10h0m4-10h0m14 8h0m4-7h0m16-2h0m3 4h0m6 26h0m3-5h0m4 6h0m7 4h0m2-15h0m19-5h0m3-1h0m3-10h0m0 12h0m32-15h0m7 14h0m1 7h0m3-15h0m21 27h0m40-14h0m38-8h0m8-5h0m9 3h0m17-1h0m12 9h0m4 3h0m0 15h0m2-10h0m2-2h0m17 11h0m5-11h0m5 22h0m0-29h0m10 26h0m14-24h0m11-7h0m2 15h0m6-6h0m4-6h0m10 9h0m10-9h0m2 13h0m1-18h0m3 24h0m8-1h0m15-23h0m5 18h0m0-11h0m11 7h0m20 10h0m6-25h0m12 16h0m16-19h0"/><path id="Lc52" d="M121 1096h0m12 10h0m0-10h0m22 6h0m7-8h0m1 14h0m10-6h0m3 25h0m5-16h0m2-6h0m27-9h0m21 26h0m7-5h0m14-6h0m7-19h0m5 6h0m5-4h0m7 7h0m3-3h0m14 16h0m4 0h0m14-10h0m2 5h0m0-2h0m18 3h0m6-11h0m1-3h0m2 14h0m10 4h0m5 4h0m10 0h0m8-16h0m4 20h0m0 1h0m13-14h0m9-5h0m0-4h0m11 9h0m14-2h0m3-22h0m10 18h0m1 19h0m2 6h0m1-26h0m4 22h0m8-32h0m1 27h0m25 10h0m6 5h0m8-19h0m4 10h0m8-20h0m1 10h0m8 1h0m21 10h0m6-20h0m26 18h0m0-14h0m11-9h0m2 11h0m2 6h0m5-14h0m5 28h0m7-12h0m15-22h0m2 2h0m0 31h0m1-5h0m18-2h0m2-8h0m9 1h0m8 12h0m11-14h0m16-3h0m6-3h0m3 29h0m3-7h0m5-19h0m13 23h0m8-24h0m7 6h0m4 26h0m2-16h0m1 7h0m9-21h0m8 10h0m11 13h0m18 0h0m12-11h0m1-10h0m11 32h0m15-29h0m2 0h0m5 4h0m5 26h0m63-23h0m23-14h0m3 12h0m6 10h0m19-27h0m3 9h0"/><path id="Lc53" d="M124 1125h0m1-26h0m16 17h0m8-13h0m13 2h0m16 12h0m3 7h0m16-33h0m11 0h0m8 39h0m2-26h0m20-4h0m5-6h0m5 16h0m1 15h0m0-28h0m9-3h0m5-4h0m5 0h0m5 31h0m1 4h0m5-19h0m5-5h0m0 9h0m4-7h0m1 9h0m19 0h0m4 4h0m13-23h0m9 12h0m10 12h0m0-17h0m9-9h0m7 26h0m2-4h0m4-3h0m14-2h0m6-8h0m9 25h0m5-22h0m2-2h0m25-2h0m19 13h0m2 13h0m2-24h0m24 4h0m4 19h0m3-1h0m14-5h0m1-15h0m8 1h0m2 9h0m14 8h0m7 10h0m2-6h0m0-18h0m5 3h0m2 24h0m7-30h0m3 13h0m13 8h0m2-19h0m11 31h0m18-17h0m9-7h0m3 6h0m6-7h0m41 0h0m21-5h0m5 11h0m2 4h0m1-5h0m1 25h0m2-33h0m5 0h0m25 13h0m1 3h0m11 17h0m9-29h0m24 17h0m8-12h0m27 15h0m10-12h0m9-9h0m3-1h0m1 19h0m20 0h0m8-16h0m9 8h0m1 9h0m0-12h0m6 27h0m4-27h0m9 19h0m6-27h0m9 11h0m11 4h0m11-3h0m11-3h0m28-14h0m2 1h0"/><path id="Ld0" d="M1266 1179h0m22 1h0m5-9h0m1 13h0m15 5h0m17-8h0m5 9h0m1-7h0m19 9h0m2-12h0m1 12h0m1-13h0m23 11h0m23 3h0m13-12h0m7 6h0m8 0h0m1-8h0m15 14h0m25-7h0m16-1h0m5 11h0m11-12h0m2 14h0m6-12h0m1 5h0m2-9h0m5 12h0m4-3h0m10 5h0m3-15h0m5 16h0m9-12h0m35 8h0m38-8h0m5 9h0m5-10h0m9 0h0m6 14h0m25-17h0m19 13h0m16-8h0m22-4h0m0 6h0m2 9h0m7-10h0m6-2h0m0 3h0m6 2h0m30-2h0m3 5h0m6 4h0m5 0h0m1-9h0m37 10h0m2-7h0m3-5h0m6 9h0m1-8h0m8 8h0m2 0h0m8-7h0m4 10h0m5-13h0m4 7h0m4 3h0m2 0h0m6-4h0m0 1h0m33-4h0m3-4h0m19 6h0m28 3h0"/><path id="Ld1" d="M1172 1204h0m28-6h0m1 6h0m11 7h0m15-21h0m2 7h0m15-5h0m6 14h0m4-4h0m10-11h0m18 7h0m2-6h0m3 8h0m12-1h0m0-3h0m6-2h0m1-2h0m2 7h0m5 6h0m2-8h0m9 10h0m7-6h0m12 3h0m12-8h0m35 3h0m0-1h0m8 2h0m4-4h0m15 1h0m20 3h0m5-1h0m0 12h0m2-13h0m7 1h0m1 9h0m6-11h0m2 14h0m3 0h0m5-2h0m16 4h0m35-6h0m7-5h0m21 6h0m10-2h0m13-6h0m5 2h0m25 10h0m12-8h0m3-6h0m25 7h0m66 5h0m3-2h0m10-9h0m13 0h0m4 15h0m36-6h0m7 2h0m9-2h0m32-4h0m16-1h0m0-2h0m8 5h0m25 2h0m20 4h0m11-12h0m5 8h0m10 5h0m13-13h0m3 8h0"/><path id="Ld2" d="M1154 1222h0m7-1h0m2-5h0m5 3h0m2-7h0m13 17h0m31-8h0m15-4h0m18 5h0m35 7h0m2-9h0m11-1h0m24 2h0m30-8h0m11 6h0m36 9h0m24-12h0m15 3h0m0-3h0m27 6h0m9-1h0m10-2h0m7 9h0m5-6h0m15-5h0m28 12h0m4-4h0m2-11h0m6 0h0m10 9h0m4 0h0m17-4h0m6 5h0m6-1h0m4 3h0m6-1h0m8-10h0m0 1h0m27 10h0m1 4h0m11-15h0m2 12h0m1-7h0m9 3h0m11 1h0m52-1h0m4 1h0m22-6h0m28-2h0m3-1h0m5 11h0m11-4h0m2 0h0m5-1h0m20-1h0m3-4h0m17 7h0m6 7h0m11-3h0m8-6h0m19-4h0m10 13h0m1-7h0m13 5h0m1-9h0m3 8h0m14-8h0m3 5h0m8-8h0m2 12h0m11-13h0m8 4h0m12-1h0"/><path id="Ld3" d="M1155 1230h0m9 0h0m8 0h0m12-1h0m6-1h0m10-1h0m17 2h0m13-1h0m10 2h0m0-1h0m19-1h0m7 0h0m11 1h0m10 1h0m5-2h0m14-1h0m11 0h0m10 0h0m9 0h0m7 0h0m9 3h0m11-3h0m13 3h0m13-1h0m3-1h0m16 1h0m5 0h0m12 1h0m14-2h0m8 1h0m5-1h0m8 0h0m17 0h0m7 1h0m7 1h0m19-1h0m2 1h0m11-1h0m12 0h0m10 0h0m12-1h0m12-1h0m6 0h0m14 3h0m8-3h0m6 1h0m17 2h0m8-3h0m6 3h0m13-3h0m11 1h0m3 1h0m16 0h0m6-1h0m16-1h0m7 3h0m14-3h0m4 1h0m8 0h0m9 2h0m12-2h0m17 1h0m8-2h0m5 2h0m9-1h0m14-1h0m8 2h0m12 0h0m7-1h0m11 1h0m10-1h0m10 1h0m8-1h0m13 1h0m5-2h0m12 2h0m17 0h0m8-1h0m11 1h0m5 1h0m10-3h0m10 3h0"/><path id="Ld4" d="M1154 1175h0m13 7h0m7 1h0m3 9h0m19-7h0m27 4h0m4-18h0m7-2h0m10-1h0m20 11h0m14 5h0m11-12h0m0 3h0m26 12h0m24-10h0m38 1h0m20 16h0m26-9h0m24 8h0m3-13h0m2 8h0m12 7h0m9-9h0m14 4h0m7 7h0m3-4h0m2 1h0m3-2h0m14-5h0m1 3h0m8-7h0m19-2h0m31 11h0m16-8h0m9 8h0m6-5h0m2 2h0m2 4h0m2-5h0m5 2h0m1-5h0m59 6h0m1-2h0m14 4h0m24-7h0m7 9h0m11-6h0m4 7h0m18-5h0m7 5h0m7-3h0m15 6h0m6 0h0m1-6h0m8-4h0m1 0h0m7 9h0m7 0h0m1-9h0m6 1h0m8 2h0m2 7h0m0-8h0m3-5h0m8 13h0m29 0h0m19-1h0m2-11h0m16 2h0m23 6h0m7-8h0m27-2h0m0 10h0"/><path id="Ld5" d="M1175 1210h0m3-13h0m8 0h0m8 13h0m3-3h0m22 3h0m16-16h0m5 9h0m16 0h0m27 2h0m18-9h0m10-1h0m9-1h0m3 9h0m10-10h0m3 3h0m4 13h0m37-8h0m22-3h0m42 7h0m9-6h0m31 3h0m1 10h0m3-2h0m35-7h0m24 6h0m15-2h0m7-7h0m40-3h0m2 12h0m11 2h0m11-10h0m10 5h0m8 3h0m12-9h0m8 8h0m1-2h0m5 0h0m1-7h0m5 2h0m6-4h0m9 13h0m4-11h0m2 13h0m21-13h0m1 8h0m8 5h0m11-13h0m16 6h0m20 5h0m5-7h0m1 1h0m0 9h0m5-3h0m6 4h0m9-9h0m28 2h0m5-5h0m0 7h0m1 4h0m18-3h0m0 4h0m24-7h0m2-1h0m1 7h0m15-3h0m5-8h0m2 4h0m9 3h0m19 1h0m9-2h0"/><path id="Ld6" d="M1160 1219h0m32-3h0m43 14h0m10-11h0m11 1h0m9 0h0m7 8h0m5-11h0m1 13h0m25-17h0m6 9h0m5 5h0m0-9h0m6 7h0m25-12h0m21 9h0m23 4h0m1-2h0m9-6h0m2 0h0m14-5h0m1 6h0m4 10h0m1-6h0m7-1h0m20-8h0m2 16h0m18-16h0m6 1h0m0 1h0m13 1h0m0 12h0m0-7h0m1-3h0m9-3h0m12 2h0m23 6h0m15-9h0m7 7h0m1 6h0m5 0h0m1-12h0m24 13h0m55-11h0m10 7h0m7 2h0m1-2h0m3-2h0m36-8h0m10 1h0m0 6h0m3 7h0m2-13h0m7 11h0m14-6h0m3 2h0m8 5h0m4-13h0m12 12h0m10-1h0m1-4h0m6 0h0m16 7h0m26-12h0m22 6h0m1-6h0m15 1h0m17 2h0m22-2h0m22 9h0m12 0h0"/><path id="Ld7" d="M1151 1229h0m18-1h0m7 0h0m10-1h0m9 1h0m8 0h0m9 0h0m11-1h0m12 1h0m6-1h0m12 0h0m15 3h0m11-3h0m3 0h0m9 2h0m16 0h0m7 0h0m11-1h0m10 1h0m6 1h0m14-2h0m13-1h0m2 3h0m20-1h0m9 0h0m2-1h0m14 1h0m14 1h0m4-3h0m10 1h0m8 0h0m17 1h0m10-1h0m7 2h0m13-1h0m2-2h0m13 1h0m8-1h0m18 0h0m2 0h0m13 2h0m6-1h0m13-1h0m12 1h0m15-1h0m7 2h0m12-1h0m2-1h0m11 2h0m11-2h0m14 2h0m4-2h0m9 1h0m12 1h0m14 0h0m10 0h0m14 1h0m9-2h0m5 1h0m10-1h0m14 1h0m5 0h0m8-1h0m9 1h0m18-2h0m3 2h0m11 1h0m10-1h0m14 0h0m13-2h0m8 1h0m13 1h0m1 1h0m12-2h0m11 1h0m9-2h0m14 2h0m6-1h0m16 0h0m11 1h0m9 0h0m5-1h0"/><path id="Ld8" d="M1161 1187h0m20-11h0m12 16h0m28-13h0m0 7h0m0-5h0m5 8h0m21-4h0m53-11h0m6 16h0m22-9h0m19 6h0m12 5h0m1 1h0m21-12h0m3 2h0m1 3h0m12 9h0m3-10h0m4 0h0m9 4h0m16 0h0m7-9h0m0 2h0m5 10h0m4-2h0m14 4h0m19-12h0m14 5h0m22 1h0m14 5h0m6-3h0m13 5h0m21-2h0m1 1h0m1 1h0m10 0h0m18-15h0m1 15h0m3-2h0m1 1h0m13-11h0m2 9h0m1-8h0m13-2h0m3 15h0m48-13h0m12-1h0m2-4h0m18 12h0m1-9h0m12 0h0m4 10h0m34 1h0m4-4h0m10 3h0m7 5h0m6-4h0m0 2h0m20 3h0m9-3h0m10-6h0m1 11h0m20-11h0m13 5h0m17 0h0m1 3h0m13-6h0m8-6h0m39-1h0m1 6h0m11 4h0m2-6h0m5-4h0m4-2h0m5 12h0"/><path id="Ld9" d="M1159 1200h0m7 9h0m28-15h0m2 16h0m5-9h0m30 7h0m59-10h0m8-4h0m11 13h0m29 2h0m20-11h0m3-1h0m5 3h0m7-3h0m24 7h0m10-2h0m1 7h0m2 0h0m11-2h0m1-6h0m2 6h0m5-1h0m4-2h0m3 1h0m17-4h0m2 4h0m4 5h0m4-9h0m8 4h0m14 5h0m3-10h0m2 6h0m0-7h0m1 11h0m7-11h0m24 3h0m15 7h0m4-5h0m2-3h0m34-5h0m28 11h0m6 4h0m3-10h0m5-2h0m22 0h0m30 6h0m4-8h0m6 2h0m45 0h0m11 14h0m2-8h0m5 5h0m5 3h0m23-7h0m13 1h0m4 7h0m6-12h0m7 4h0m3 4h0m1-5h0m16 3h0m7-5h0m11 9h0m6-4h0m15-4h0m37 5h0m17 2h0m1-11h0m55-3h0"/><path id="Ld10" d="M1174 1214h0m10 11h0m4-6h0m1 3h0m5-7h0m0 6h0m5-1h0m8-1h0m5 6h0m7-1h0m14-8h0m8-2h0m13 10h0m5-3h0m1-9h0m12 16h0m34-14h0m27 10h0m10-7h0m14 12h0m7-9h0m33 5h0m1-4h0m30-6h0m2 8h0m2 4h0m4-8h0m42 3h0m18 5h0m7-2h0m4-2h0m5 4h0m6-11h0m19 1h0m1 9h0m3-7h0m3 8h0m12 1h0m5-9h0m8-2h0m12 7h0m27 6h0m4-15h0m9 13h0m8 0h0m2-3h0m20-8h0m21 8h0m8-3h0m50 7h0m20-11h0m10 2h0m15 10h0m6-6h0m14-4h0m7-2h0m2 11h0m0-8h0m13 5h0m5-10h0m13 13h0m23-3h0m5-4h0m2-3h0m1 7h0m10-5h0m17-3h0m2 1h0m46 6h0m3-6h0"/><path id="Ld11" d="M1151 1228h0m17 2h0m4-2h0m10-1h0m16 2h0m3 0h0m14 0h0m5-1h0m16 2h0m9-2h0m11 1h0m7 0h0m13 0h0m8-2h0m14 2h0m5 0h0m12-1h0m12-1h0m11 2h0m8 0h0m12-1h0m9-1h0m11 1h0m10 1h0m7-1h0m5 2h0m14-2h0m12 1h0m8 1h0m13 0h0m12-3h0m11 3h0m7-2h0m12 1h0m8 0h0m11-1h0m2 0h0m15-1h0m12 2h0m5-2h0m12 0h0m11 1h0m11 1h0m8 0h0m15 0h0m8 0h0m4-1h0m13 0h0m6 0h0m17 2h0m5-3h0m8 1h0m17 0h0m5 0h0m11 1h0m17 1h0m2-2h0m14 0h0m13-1h0m2 1h0m13-1h0m9 0h0m13 1h0m6 2h0m9-1h0m18-1h0m3 2h0m10-1h0m14 0h0m5-1h0m18 2h0m8-2h0m5 0h0m17 2h0m1-2h0m13-1h0m9 0h0m9 2h0m15-1h0m12 0h0m9 1h0m6-1h0"/><path id="Ld12" d="M1158 1184h0m12-6h0m2 2h0m1 1h0m4 12h0m0-4h0m21 2h0m3-3h0m17-13h0m1 15h0m4-11h0m2-4h0m14-4h0m2 0h0m19 9h0m7-5h0m44 7h0m2-6h0m1-3h0m6 8h0m7-3h0m3-2h0m0 2h0m3 14h0m6-14h0m2 10h0m6 6h0m3-8h0m10 0h0m35-7h0m22 11h0m33-5h0m26 9h0m2-5h0m10 2h0m5-7h0m10 3h0m20-5h0m10 11h0m21-10h0m0 2h0m6-4h0m14 5h0m3 5h0m4-6h0m10 9h0m27-6h0m15 0h0m1-2h0m5 9h0m19 1h0m13-9h0m1 7h0m12-5h0m30 0h0m6-5h0m13-2h0m3 10h0m46 8h0m16-2h0m3 2h0m0-2h0m1-9h0m1 1h0m15 2h0m21 7h0m13-7h0m1 0h0m17-2h0m14-4h0m11 5h0m31-4h0m1 6h0m11-9h0m4 0h0m1 5h0m8-5h0m9 3h0m13-1h0"/><path id="Ld13" d="M1165 1211h0m2-17h0m24 3h0m19 7h0m15-4h0m3-5h0m6-6h0m11 8h0m7-7h0m6 12h0m3 4h0m5-5h0m14-4h0m7 3h0m10-5h0m21 9h0m34-6h0m0-3h0m12 6h0m16 7h0m25-8h0m16 2h0m29-4h0m2 3h0m11 4h0m11-2h0m2 7h0m19 3h0m21-7h0m8-3h0m12 5h0m38 3h0m2-9h0m3 0h0m13-2h0m30-3h0m23 16h0m35-6h0m29 3h0m16-11h0m4 13h0m9-9h0m14 10h0m35 2h0m4-1h0m16-1h0m20 1h0m5-12h0m11 13h0m2-11h0m11 9h0m22-4h0m32-7h0m25 5h0m1 5h0m4-6h0m20 6h0m0-2h0m1-4h0"/><path id="Ld14" d="M1165 1212h0m3 11h0m37 0h0m18-5h0m12-3h0m1 9h0m13-15h0m3 20h0m14-4h0m10-15h0m3 4h0m6 10h0m20-1h0m1-11h0m8-1h0m6 6h0m2 7h0m8-9h0m8 0h0m10 12h0m2-5h0m4-5h0m2 9h0m1-1h0m3-1h0m29-5h0m2 4h0m45-1h0m13-2h0m12-5h0m9 1h0m6 11h0m3-2h0m28 0h0m5-2h0m3 7h0m7-2h0m6-7h0m3 5h0m3-7h0m16-4h0m9 6h0m30-1h0m8 6h0m6-1h0m7-4h0m11-2h0m2 5h0m9-4h0m7-2h0m14 0h0m3 11h0m12-6h0m18 7h0m10-10h0m10 4h0m23 2h0m3-10h0m11 5h0m24 2h0m34-3h0m1-1h0m3 8h0m11 3h0m12-4h0m23 2h0m7 0h0m1-1h0m24-11h0m16 4h0m6-5h0m25 2h0m6-2h0m1 1h0m8-1h0m9 5h0m17 0h0"/><path id="Ld15" d="M1152 1229h0m10 0h0m14 0h0m11-1h0m10 2h0m10-3h0m12 0h0m6 3h0m11 0h0m5-3h0m18 1h0m8 1h0m10-2h0m5 1h0m13 1h0m10 0h0m13-2h0m5 0h0m13 0h0m10 3h0m12-3h0m3 0h0m17 2h0m5 0h0m13 1h0m14-1h0m2 0h0m15 0h0m10-1h0m10-1h0m8 1h0m8 1h0m14-1h0m11 2h0m6 0h0m16-3h0m2 2h0m16 1h0m11-3h0m8 3h0m8 0h0m14 0h0m5 0h0m14-1h0m5 0h0m7 1h0m18 0h0m7 0h0m6-2h0m11-1h0m12 2h0m13 0h0m9 1h0m12-1h0m10-2h0m6 1h0m6 2h0m11-3h0m17 1h0m7 0h0m10 1h0m7-2h0m18 0h0m1 0h0m19 1h0m2 0h0m10 0h0m8 1h0m13-1h0m12 1h0m7-1h0m12 0h0m11 0h0m13-1h0m7 1h0m6 0h0m13 0h0m12 1h0m10 0h0m10 0h0m6-1h0m14-1h0"/><path id="Ld16" d="M1156 1188h0m3-5h0m0-7h0m19 2h0m15 12h0m10-1h0m2-2h0m6 3h0m18-6h0m1 2h0m9-17h0m32 1h0m5 7h0m9 12h0m10-8h0m0-5h0m6 3h0m37 12h0m8-7h0m6 1h0m4-3h0m3 1h0m7 6h0m4-11h0m38 5h0m7 12h0m0 0h0m6-11h0m15 9h0m3-11h0m7 7h0m13 5h0m24-3h0m2 4h0m0-8h0m4 7h0m26 2h0m2-5h0m15 6h0m2-2h0m5-11h0m16 2h0m14 2h0m21 4h0m12 3h0m11-13h0m11 9h0m17 0h0m13-4h0m17 9h0m28-7h0m12 0h0m2-9h0m20 14h0m6-7h0m2 7h0m29-7h0m3 2h0m7-3h0m14 13h0m1-5h0m11 0h0m3-4h0m0 1h0m6-4h0m37 13h0m6-3h0m3-11h0m18 11h0m10-5h0m12 6h0m9-5h0m0-2h0m24-7h0m20 10h0m2-1h0m10-11h0m7 12h0"/><path id="Ld17" d="M1157 1207h0m4-3h0m2 0h0m11 5h0m2 0h0m28-11h0m7 13h0m29-12h0m20 3h0m0 3h0m13 0h0m8 1h0m8 2h0m8-6h0m8-1h0m0-10h0m5 2h0m8 13h0m18 0h0m23-4h0m2 3h0m3-3h0m13 8h0m0-12h0m17 7h0m12-5h0m5 8h0m2 2h0m25 1h0m1-7h0m9 3h0m5-4h0m9 3h0m3-3h0m34 1h0m1 3h0m30-10h0m2 7h0m9-3h0m18-4h0m0 7h0m14-6h0m13 9h0m0 3h0m15-6h0m2 0h0m4 2h0m7-5h0m4 11h0m3-4h0m8-7h0m2 11h0m8-3h0m2 0h0m10-5h0m13-6h0m2 1h0m9 9h0m1-3h0m5 7h0m10-10h0m47 7h0m0-8h0m0 7h0m31 3h0m7-5h0m2 2h0m15 0h0m3 2h0m5 5h0m5-13h0m24-1h0m24 12h0m12-12h0m11 6h0m24 3h0m26-6h0m35-2h0m1 2h0"/><path id="Ld18" d="M1173 1216h0m11 4h0m1-2h0m5 11h0m9-12h0m29 6h0m1 6h0m6 1h0m28-1h0m7-9h0m6-1h0m51 0h0m2 11h0m9-4h0m2-9h0m12 3h0m13 3h0m9-10h0m14 9h0m12-3h0m4-1h0m6-4h0m9 14h0m15-7h0m32-3h0m2-2h0m8 13h0m39 0h0m15-1h0m8-2h0m4 1h0m12-11h0m2 1h0m4 8h0m3 2h0m9-12h0m24 0h0m3 13h0m4-12h0m16-2h0m5 10h0m38 1h0m64-3h0m38-2h0m10 1h0m9 3h0m6-1h0m56 7h0m4-8h0m6-4h0m11 5h0m17-8h0m29 6h0m10 0h0m11 3h0m6 3h0m10-9h0m19 2h0"/><path id="Ld19" d="M1155 1227h0m9 0h0m6 2h0m12 1h0m11-3h0m14 0h0m6 0h0m10 0h0m17 3h0m5-3h0m9 2h0m14 0h0m7-1h0m7-1h0m13 2h0m13 1h0m2-3h0m19 0h0m8 2h0m9-2h0m9 3h0m13-1h0m4-1h0m17 2h0m10-1h0m7 1h0m12-2h0m9 0h0m7 1h0m13 0h0m9 0h0m13 0h0m6-1h0m9 0h0m11-1h0m14 1h0m7 1h0m9 0h0m10 0h0m7 0h0m16-1h0m8 2h0m12-1h0m6 0h0m12-1h0m10 2h0m5-2h0m14-1h0m13 0h0m11 2h0m3 0h0m13 0h0m11 1h0m9-1h0m10-1h0m13 1h0m11-1h0m2 1h0m18 0h0m5-2h0m12 2h0m12 1h0m4-1h0m10-1h0m15 0h0m11 1h0m6-1h0m14-1h0m10 3h0m8-2h0m9 1h0m11-2h0m8 2h0m15-2h0m10 2h0m6 0h0m12 1h0m8-1h0m10-1h0m11 2h0m11-1h0m9-2h0"/><path id="Ld20" d="M1175 1179h0m4-1h0m7 8h0m14-5h0m18-3h0m8 12h0m5-7h0m19-8h0m19 3h0m1-7h0m5 11h0m3-11h0m21 14h0m2-2h0m3-5h0m5 2h0m1 10h0m1-10h0m1-7h0m8 1h0m2 15h0m14 2h0m27-5h0m14 0h0m3 5h0m9-4h0m21-2h0m2 6h0m7-9h0m10 2h0m24 11h0m11 1h0m5-13h0m3 11h0m13-1h0m2-3h0m33-7h0m12 12h0m10-9h0m1 10h0m5-4h0m10-10h0m3 2h0m82 4h0m1-5h0m3 10h0m20-1h0m29-2h0m7-2h0m17-3h0m6-2h0m3-2h0m43 9h0m19 8h0m3-12h0m1 3h0m9 5h0m11 3h0m13-2h0m3-2h0m1 2h0m2 4h0m8-2h0m1-3h0m2-5h0m1 1h0m10 0h0m7 2h0m4-1h0m21 2h0m15-4h0m5 9h0m22-9h0m43-4h0"/><path id="Ld21" d="M1157 1200h0m13 8h0m1 2h0m28-10h0m19 10h0m15-8h0m6-9h0m4-1h0m6 10h0m17-4h0m19 8h0m3 3h0m13-16h0m1 9h0m23 7h0m1-9h0m4 0h0m19 5h0m1-10h0m9 5h0m11-1h0m3 12h0m24-4h0m16-2h0m71 1h0m4 2h0m47 3h0m19-9h0m4 4h0m1 6h0m8-9h0m27-2h0m2-3h0m12 2h0m17 2h0m3-3h0m11 14h0m1-3h0m5 1h0m2 1h0m17 0h0m1-6h0m2-4h0m12 6h0m9 4h0m14-2h0m4-7h0m10 6h0m14-6h0m0 8h0m27 2h0m8-6h0m1-6h0m18 6h0m5-2h0m20 8h0m10-10h0m14 11h0m21-9h0m9 7h0m1-3h0m1-9h0m5 11h0m2-10h0m9-1h0m46 9h0m18-2h0m12 0h0m14-5h0"/><path id="Ld22" d="M1167 1223h0m12-10h0m2 2h0m7-3h0m6 4h0m20-5h0m0 4h0m27 3h0m11-3h0m5-4h0m0 11h0m14-8h0m21-4h0m8 9h0m60-5h0m0 7h0m2 6h0m21-13h0m1 5h0m3-1h0m2 12h0m1-9h0m27 3h0m23 2h0m24-4h0m1 2h0m18 2h0m9-6h0m6-1h0m6 2h0m4 4h0m12-9h0m6 6h0m6 1h0m17-6h0m14 4h0m36 3h0m0-2h0m5 1h0m6 6h0m21-3h0m2-1h0m0-3h0m11 4h0m2 2h0m1-10h0m2 8h0m13-6h0m9-5h0m6 14h0m49 1h0m10-8h0m11-6h0m2 3h0m8 1h0m1 6h0m52-2h0m17 6h0m7-8h0m15-3h0m32 0h0m9 4h0m0 5h0m5-5h0m13-2h0m6-5h0m2 3h0m16 10h0m20-11h0m7 9h0m1-3h0m3 3h0"/><path id="Ld23" d="M1151 1230h0m15-1h0m9-1h0m7 0h0m16 1h0m8 0h0m13-1h0m2 0h0m17 2h0m9-3h0m4 2h0m14 1h0m5-1h0m15-2h0m9 1h0m12 2h0m5-1h0m9 1h0m19-1h0m6 1h0m9-1h0m6-1h0m17 1h0m11 0h0m6 0h0m7 1h0m12-3h0m11 1h0m11 0h0m5 2h0m13-2h0m17-1h0m4 1h0m9 0h0m12-1h0m14 0h0m10 3h0m4-2h0m7 0h0m19-1h0m8 3h0m4-2h0m13 0h0m14 2h0m4-2h0m9 0h0m11 0h0m12 2h0m9-3h0m9 0h0m11 1h0m14 2h0m4-2h0m13 0h0m13 0h0m12 1h0m11 1h0m7-2h0m10-1h0m9 2h0m10 1h0m11-2h0m8 1h0m10-2h0m12 3h0m12-1h0m4 0h0m13 0h0m12 0h0m6 0h0m7-1h0m10 1h0m11-1h0m9 0h0m16 1h0m7 1h0m10-3h0m8 3h0m12 0h0m7-3h0m19 1h0m8 1h0"/><path id="Ld24" d="M1160 1186h0m32-2h0m26-9h0m4 1h0m1 1h0m1 8h0m5-5h0m24 6h0m3-9h0m9 11h0m22-1h0m2-10h0m1 6h0m12 3h0m7-4h0m1-6h0m1 9h0m49 1h0m6 4h0m6-11h0m3 6h0m15 3h0m28 6h0m14-12h0m28 6h0m0 2h0m26 2h0m6 2h0m1-6h0m13 8h0m13-12h0m4 13h0m11-15h0m46 8h0m1 2h0m4 2h0m5-3h0m12-9h0m20 5h0m24 9h0m1-4h0m2 0h0m39-9h0m3 2h0m16-2h0m22 8h0m15-1h0m23-2h0m0 9h0m4-7h0m22-1h0m8 9h0m3-5h0m4 2h0m1 1h0m17-5h0m10-1h0m33 7h0m25-3h0m14 4h0m11-1h0m38-12h0m8-2h0"/><path id="Ld25" d="M1164 1209h0m52-10h0m20 3h0m3-10h0m21-2h0m3 18h0m10-8h0m6-5h0m6-3h0m6 0h0m4 16h0m3-7h0m8 4h0m15-6h0m10-5h0m29 16h0m1-5h0m4 0h0m2-4h0m20-4h0m11 15h0m3-2h0m2 0h0m16-7h0m13 3h0m14 6h0m14 1h0m5-5h0m17-4h0m14 3h0m3-8h0m9 14h0m16-1h0m47-1h0m1-2h0m8-7h0m3 1h0m7 0h0m4 9h0m5-15h0m8 2h0m0 8h0m15-5h0m5 3h0m3-3h0m4-1h0m14 13h0m0 0h0m34-8h0m5 3h0m35 1h0m8-8h0m2-3h0m4 10h0m6-1h0m4-2h0m5-1h0m28 9h0m1-13h0m12 14h0m15-6h0m8 3h0m16 1h0m19 2h0m3 0h0m8-7h0m18-1h0m11-2h0m0 6h0m2-11h0m52 6h0m2-2h0m19-6h0m1 8h0m3-6h0"/><path id="Ld26" d="M1168 1226h0m17-9h0m0 10h0m4 2h0m1-2h0m5 0h0m3 1h0m15-4h0m12-9h0m1 5h0m1-6h0m3 0h0m13 6h0m11-3h0m10 5h0m10-1h0m7-10h0m1 10h0m8-3h0m16 2h0m6 1h0m8 3h0m26-6h0m0-4h0m29 4h0m5 12h0m3-6h0m15 3h0m4-12h0m4 4h0m2 4h0m9 4h0m19-10h0m23-4h0m76 7h0m14 6h0m2 0h0m1 1h0m29-4h0m14-4h0m17 0h0m16-3h0m4 11h0m33-12h0m9 12h0m7-12h0m6 13h0m35-8h0m6-6h0m1 5h0m1-2h0m1 4h0m13-7h0m2 10h0m1-6h0m0 4h0m8 2h0m32 3h0m1 2h0m9-7h0m7-3h0m5 9h0m20-8h0m3 2h0m4 4h0m0-2h0m0 3h0m39-2h0m4-4h0m3 5h0m20 4h0m2-10h0m11 5h0m3-8h0m31 7h0m14-5h0m4-5h0"/><path id="Ld27" d="M1154 1229h0m12-2h0m12 0h0m7 0h0m6 1h0m13-1h0m9 0h0m15 1h0m10-1h0m11 2h0m4 0h0m11-1h0m15-1h0m2 1h0m16 0h0m9 0h0m13-1h0m10 2h0m10-2h0m8 1h0m10 0h0m9 0h0m8 0h0m12-1h0m7 0h0m11 0h0m10 1h0m15 1h0m11 0h0m7-2h0m9 1h0m7 2h0m16 0h0m3-2h0m18 1h0m3 0h0m16-1h0m1 1h0m11-2h0m18 0h0m6 2h0m8-1h0m16 0h0m8 2h0m10-2h0m6 2h0m10-3h0m16 1h0m1 1h0m17 0h0m10-2h0m7 1h0m9 1h0m11 0h0m15 1h0m10-1h0m5 0h0m11-2h0m10 0h0m8 0h0m9 1h0m10 0h0m8 1h0m14 0h0m10-2h0m15 3h0m8-1h0m11 0h0m12-2h0m8 3h0m9 0h0m9-1h0m12-1h0m9 1h0m10-1h0m12 1h0m7-2h0m7 2h0m9-2h0m17 0h0m5 2h0m6 0h0"/><path id="Ld28" d="M1155 1182h0m26-5h0m4 11h0m37-1h0m4-8h0m17-8h0m24 6h0m1 6h0m15-8h0m3 2h0m16 10h0m2 0h0m32 1h0m14-10h0m8 6h0m2 6h0m15-11h0m4 13h0m25-9h0m8 11h0m2-4h0m10-7h0m7 4h0m3 3h0m6 5h0m19-5h0m7-1h0m21 4h0m2 0h0m13 3h0m2 0h0m11-10h0m0 8h0m31 0h0m20 2h0m5-15h0m2 6h0m10-4h0m4 7h0m34 5h0m56 0h0m1-4h0m13-3h0m20 6h0m6-11h0m0 0h0m19 3h0m11-2h0m0 13h0m12-3h0m7 5h0m2-5h0m3-1h0m2-3h0m7-2h0m10 11h0m11-4h0m22 5h0m6-6h0m49 0h0m32-8h0m17 12h0m12-10h0m16 2h0"/><path id="Ld29" d="M1159 1197h0m6 6h0m75-2h0m2 4h0m1-16h0m10 18h0m4-7h0m13-7h0m13-4h0m43 7h0m1 2h0m7 11h0m15 0h0m1-3h0m2-9h0m31 4h0m24 1h0m24 1h0m13 1h0m12 0h0m7-4h0m6 13h0m12-2h0m19-7h0m5-3h0m2 3h0m2 4h0m38-2h0m6 1h0m1 3h0m12-4h0m25 5h0m5 2h0m8-5h0m5 2h0m1-10h0m16 1h0m15 12h0m3-2h0m9-7h0m21 3h0m15-11h0m14 15h0m6-7h0m0 4h0m9-3h0m11 7h0m0-2h0m13 0h0m9-10h0m1 5h0m8-3h0m19 10h0m12-1h0m12-10h0m44 10h0m4 2h0m15-3h0m7-5h0m28-6h0m29 13h0m0-2h0m1-2h0m3-8h0m18-1h0m1 15h0m4-3h0m10 2h0"/><path id="Ld30" d="M1169 1229h0m1-12h0m9-4h0m2 16h0m25-11h0m3 11h0m9-12h0m9-3h0m26-1h0m1 9h0m0-5h0m3-2h0m15 2h0m3-4h0m15 16h0m10-9h0m6-7h0m14-2h0m1 17h0m5-7h0m4 9h0m4-1h0m22-15h0m9-1h0m16 15h0m7-8h0m1 1h0m0-8h0m30 3h0m3 12h0m3-2h0m1-2h0m7-1h0m3 3h0m4-10h0m4 3h0m25-1h0m1-4h0m25 2h0m12-1h0m2 12h0m9-7h0m12-4h0m8 3h0m1 6h0m48-9h0m2-1h0m31 2h0m3 3h0m7 1h0m4-1h0m6 3h0m7 3h0m7-12h0m12 11h0m16-2h0m5-9h0m10 8h0m9-2h0m6-7h0m14 3h0m6 0h0m9 8h0m0 5h0m12-1h0m14-3h0m0 1h0m1-3h0m20-1h0m34 3h0m15-7h0m8 1h0m8 7h0m28-9h0m6 1h0m24 11h0m29-8h0m2-3h0m6 1h0m1 3h0m4 0h0m6 7h0m12-12h0"/><path id="Ld31" d="M1152 1227h0m12 0h0m13 1h0m6-1h0m12 0h0m7 0h0m11 1h0m13-1h0m10 0h0m11 3h0m7-3h0m7 2h0m15-1h0m10 0h0m7 2h0m17-3h0m7 2h0m10 0h0m11-2h0m4 2h0m12 1h0m14-3h0m4 2h0m17-2h0m3 2h0m14-1h0m13-1h0m3 2h0m9 0h0m13 0h0m10-1h0m15 0h0m7-1h0m5 3h0m16-1h0m10 0h0m8 0h0m9-2h0m9 1h0m9-1h0m12 1h0m13-1h0m4 3h0m18-1h0m5-1h0m10 0h0m10 0h0m10 1h0m13-1h0m6-1h0m9 1h0m17 1h0m4-1h0m8 1h0m13-1h0m16-1h0m8 0h0m4 1h0m17 0h0m3 1h0m17-2h0m7 2h0m5 0h0m12 1h0m13-1h0m12-2h0m7 0h0m7 3h0m15-3h0m10 0h0m13 0h0m4 1h0m14-1h0m6 1h0m15 0h0m8 2h0m8-1h0m6 0h0m11-2h0m15 1h0m11 2h0m7-1h0"/><path id="Ld32" d="M1160 1187h0m29 1h0m7-2h0m0-1h0m8-1h0m19 2h0m1-15h0m5 18h0m2-10h0m2 6h0m1-12h0m4-3h0m1 1h0m4 0h0m10 3h0m12 1h0m12 13h0m1-15h0m9-3h0m38 16h0m12-7h0m11 8h0m2 0h0m5 2h0m3-1h0m23-7h0m7-2h0m10 1h0m17-1h0m1 8h0m17-4h0m13 1h0m1 1h0m3 7h0m1-6h0m5-2h0m3 3h0m4 9h0m6-2h0m22 3h0m6-10h0m9-5h0m14 13h0m11-9h0m13-1h0m20 0h0m11-1h0m5 4h0m9 6h0m5-3h0m4-11h0m0 12h0m13 4h0m4-12h0m14 12h0m11-3h0m18-1h0m7-11h0m4 4h0m14-4h0m10 10h0m6-7h0m11 12h0m0-6h0m9-7h0m3 4h0m9 3h0m7-2h0m16 4h0m32-2h0m20 9h0m2 0h0m39-8h0m0 9h0m17-12h0m3 8h0m24-2h0m5-4h0m9-2h0m15-5h0m7 2h0m9 8h0m13 2h0m0-5h0m4-4h0m6-2h0m6-1h0m5-1h0"/><path id="Ld33" d="M1174 1197h0m3 7h0m11 0h0m10 7h0m29-11h0m0-7h0m29 2h0m9 8h0m35 2h0m7 4h0m19-3h0m33 4h0m10-10h0m7 5h0m20-10h0m4 7h0m12 7h0m10-4h0m2-1h0m8-4h0m11-1h0m1 4h0m2-1h0m8 11h0m59-12h0m6 10h0m22-6h0m5 5h0m3 1h0m19-9h0m74 4h0m3 6h0m2-1h0m9-2h0m5-1h0m5-1h0m1-5h0m0 9h0m11-14h0m6 0h0m7 3h0m6 4h0m6 3h0m12-7h0m2 2h0m5 7h0m1-12h0m5 1h0m10 7h0m14-5h0m8 10h0m4-5h0m11 3h0m23-7h0m5 1h0m7 5h0m7 4h0m10 2h0m35-7h0m55 5h0m4 3h0m22-3h0m11-6h0m0 4h0m6-7h0m0 2h0m4 7h0"/><path id="Ld34" d="M1166 1225h0m27 4h0m79-16h0m28 5h0m22 9h0m26-5h0m6-2h0m3 1h0m1-5h0m9 13h0m31-2h0m12 2h0m9 1h0m9-17h0m0 7h0m3-4h0m5-2h0m15 13h0m16-12h0m5 0h0m8 13h0m5-11h0m6 10h0m17-10h0m13 0h0m2 4h0m20 4h0m11-8h0m21 13h0m37-13h0m49 3h0m14 7h0m1-6h0m9-7h0m3 6h0m15 6h0m14-12h0m2 8h0m4 4h0m9-12h0m0 3h0m20 3h0m32 5h0m0-9h0m35 8h0m17 2h0m9-7h0m12 5h0m6 4h0m6 1h0m1-7h0m16 2h0m10-6h0m12 2h0m7-2h0m6 2h0m10 8h0m3-8h0m15-5h0m18 9h0"/><path id="Ld35" d="M1153 1227h0m16 1h0m6 0h0m9-1h0m15 1h0m8 1h0m5-1h0m9-1h0m13 3h0m16-2h0m4 0h0m15 0h0m7 0h0m10 1h0m11-2h0m4 1h0m19 1h0m1-1h0m15-1h0m6 1h0m16 0h0m4 0h0m14 1h0m11-2h0m7 3h0m13-3h0m7 1h0m10 0h0m16 2h0m3 0h0m11-2h0m16-1h0m7 0h0m6 1h0m9 0h0m12 0h0m11 1h0m12-1h0m6-1h0m12 1h0m13 0h0m3 0h0m17 0h0m6 0h0m15-1h0m3 3h0m13-1h0m11 0h0m14 1h0m2-3h0m15 0h0m12 1h0m1 1h0m16-2h0m14 1h0m9-1h0m5 2h0m9-1h0m9 0h0m10-1h0m13 1h0m5 1h0m13 0h0m10-2h0m11 1h0m8 2h0m9-3h0m15 3h0m11-3h0m11 0h0m5 2h0m13 1h0m10-1h0m13 0h0m9-1h0m5 1h0m15 1h0m2-3h0m14 1h0m15 0h0m4 1h0m15 1h0"/><path id="Ld36" d="M1184 1182h0m1-7h0m6 5h0m12 2h0m5 2h0m6-11h0m26-5h0m2 9h0m10-11h0m7 6h0m20 4h0m21-5h0m7 18h0m75-2h0m3 7h0m9-10h0m8-5h0m16 1h0m10 1h0m7-1h0m18 13h0m14 1h0m35 2h0m18-13h0m24 13h0m12-13h0m10 0h0m2 8h0m28 3h0m13-10h0m15 10h0m8-13h0m18 5h0m7 5h0m12-7h0m26-1h0m9 9h0m21 5h0m3-8h0m70-1h0m15 3h0m34-1h0m4 8h0m24-4h0m12 4h0m38 0h0m20-13h0m1 11h0"/><path id="Ld37" d="M1161 1203h0m1 0h0m15 8h0m8-15h0m1 11h0m6-12h0m27 4h0m2 0h0m26 6h0m3-11h0m12-5h0m4 12h0m2-10h0m1 3h0m8 11h0m13-9h0m22 7h0m19-8h0m4 9h0m5 2h0m3-9h0m3 11h0m2-10h0m1 7h0m32 3h0m6 0h0m19 2h0m22-3h0m25-5h0m3 7h0m10-9h0m11 6h0m20-3h0m4 2h0m12 5h0m9 0h0m19-5h0m6-7h0m13 6h0m13 6h0m2-8h0m2 6h0m6 1h0m38-9h0m4 1h0m1 0h0m1-1h0m10 2h0m1 4h0m20-2h0m7 2h0m1-5h0m5 5h0m0-3h0m7 3h0m8-2h0m11 0h0m10-3h0m16-3h0m0 0h0m47 15h0m12-5h0m15-3h0m6 1h0m1 8h0m16-1h0m5-9h0m8 8h0m5-7h0m3 6h0m24 1h0m8 2h0m1-14h0m4 3h0m2-2h0m9 5h0m1 3h0m15 0h0m4 0h0m12-8h0m8 12h0m3-11h0m4 1h0m18-4h0m6 1h0m3 9h0"/><path id="Ld38" d="M1172 1219h0m2-1h0m3-3h0m12-2h0m2 9h0m1-5h0m9 8h0m1-12h0m26 9h0m3 4h0m5-1h0m5-12h0m13 10h0m51-11h0m2 15h0m4-15h0m16 5h0m10 10h0m6-1h0m6 3h0m15-1h0m8-6h0m66-6h0m1-1h0m11 1h0m7 14h0m10-5h0m1 0h0m1-10h0m42 6h0m11 7h0m2-7h0m1 9h0m7-5h0m16 4h0m5-7h0m7 4h0m6-8h0m6-1h0m5 9h0m3-3h0m2-10h0m2 10h0m22 3h0m12-3h0m2-1h0m9 2h0m14-4h0m1-3h0m17 11h0m3 0h0m0-8h0m10-4h0m0 5h0m6-3h0m8 0h0m16-5h0m8 13h0m9-3h0m17-8h0m3 4h0m2 10h0m5-3h0m20-1h0m2 3h0m10-5h0m32-2h0m26-4h0m2 5h0m17 7h0m7-1h0m11-11h0m27 2h0m13 5h0m1 2h0m3 4h0m19-5h0m8-9h0m6 12h0m9 1h0m5-4h0"/><path id="Ld39" d="M1157 1229h0m11-1h0m3-1h0m10 1h0m12 1h0m14 0h0m10 0h0m6 0h0m8-2h0m17 2h0m4-2h0m10 1h0m11 1h0m10-2h0m12 1h0m7 1h0m14-1h0m10 1h0m10-2h0m11 0h0m6 2h0m12-2h0m14 2h0m10 1h0m6 0h0m14-1h0m7-2h0m10 1h0m9-1h0m10 2h0m10-1h0m14 0h0m1 1h0m15-1h0m9 1h0m13-2h0m10 2h0m8 1h0m8 0h0m15 0h0m7-3h0m6 1h0m16 1h0m6-2h0m8 2h0m10-1h0m13 1h0m10-1h0m8 0h0m17 1h0m8 0h0m9-1h0m7 2h0m14 0h0m3-3h0m20 1h0m4 0h0m13 1h0m10 1h0m9 0h0m10-3h0m13 3h0m5-2h0m12-1h0m11 2h0m11-2h0m5 0h0m13 1h0m9 0h0m6 1h0m10-1h0m12 0h0m12 1h0m6-2h0m11 0h0m14 3h0m14-2h0m3 2h0m8-1h0m18 0h0m6 0h0m13 0h0"/><path id="Ld40" d="M1168 1191h0m11-2h0m3 0h0m21-8h0m9 9h0m6-7h0m6-2h0m12 1h0m4-13h0m4 1h0m14-3h0m20 19h0m4-12h0m37 4h0m18-2h0m2 9h0m1 2h0m0-8h0m12 12h0m30-7h0m3-2h0m6-1h0m8 1h0m29 7h0m28 1h0m1 3h0m17-5h0m5 8h0m7-4h0m7-6h0m60 2h0m10-6h0m2-2h0m12 5h0m5 0h0m7 5h0m3-9h0m1 9h0m23 0h0m28-5h0m9 10h0m1-5h0m5-2h0m7-6h0m5 5h0m4 2h0m2-9h0m4 5h0m27 4h0m1-7h0m37 7h0m12 8h0m3-10h0m8 1h0m9 7h0m5 5h0m1-8h0m5 1h0m10-1h0m12-2h0m1 3h0m35-7h0m23 0h0m41 12h0m16 0h0m6-13h0m2 10h0m13 0h0m24-3h0"/><path id="Ld41" d="M1159 1201h0m26 9h0m17-12h0m6 9h0m12-10h0m59-1h0m0 0h0m20 0h0m7 14h0m25-7h0m9 1h0m12 6h0m46-6h0m15-6h0m29 3h0m17 1h0m3-4h0m13 8h0m3 3h0m2-3h0m10-5h0m25 0h0m0 8h0m33-5h0m4-6h0m7 9h0m6-7h0m4 1h0m10 11h0m3 0h0m26-4h0m14-10h0m1 7h0m2-7h0m3 1h0m27 6h0m11-1h0m5-1h0m9 2h0m4 5h0m8-14h0m25 9h0m12 1h0m12-2h0m5 10h0m2 0h0m19-9h0m11 6h0m7 2h0m9-5h0m4 1h0m15-3h0m8-1h0m43-3h0m19 11h0m25-6h0m6-2h0m7-4h0m2 2h0m2-3h0m29 2h0m6 9h0m1-11h0m4 0h0"/><path id="Ld42" d="M1164 1222h0m26-2h0m15 1h0m7 7h0m20-5h0m7-4h0m4-6h0m11 3h0m30 0h0m10-3h0m8 10h0m18-11h0m4 13h0m11-11h0m6 7h0m18 9h0m15-16h0m13-1h0m2 2h0m11 11h0m28 1h0m4 2h0m1-8h0m3 1h0m4 4h0m1-4h0m2 7h0m2-10h0m14 5h0m5 1h0m4-10h0m67 7h0m7 7h0m0-12h0m12 8h0m18 0h0m2-8h0m5 0h0m5 5h0m4-1h0m3-4h0m10 0h0m6 0h0m6 2h0m2-4h0m2 5h0m2-6h0m0 0h0m1 5h0m8 2h0m3 2h0m13 7h0m9-4h0m6-12h0m22 13h0m23-4h0m15-4h0m9 10h0m3-9h0m24 9h0m20-5h0m1 1h0m3 4h0m7-1h0m1-8h0m6-2h0m8 0h0m0 3h0m10-1h0m35 8h0m2 0h0m3 0h0m18-3h0m1 5h0m7-15h0m5 3h0m1 6h0m1-5h0m19 6h0m59-4h0m5-1h0m0 0h0"/><path id="Ld43" d="M1157 1229h0m13 0h0m7-1h0m8-1h0m7 0h0m14 2h0m8-2h0m13 2h0m10 1h0m4-1h0m14-2h0m9 3h0m13-1h0m7 0h0m10 1h0m10-1h0m15 1h0m6-1h0m7 0h0m14-2h0m12 0h0m4 3h0m17-2h0m6 0h0m5 1h0m20-1h0m9 1h0m3-1h0m12-1h0m6 1h0m12 2h0m15-2h0m7-1h0m10 1h0m15 1h0m7-1h0m11 1h0m7 0h0m9-2h0m15 1h0m8 0h0m10 1h0m5-2h0m12 2h0m15 0h0m5 0h0m15 0h0m3-1h0m14-1h0m14 3h0m10-3h0m3 1h0m11 0h0m9-1h0m14 3h0m5-2h0m13 2h0m7-1h0m12 0h0m11-2h0m7 1h0m11 2h0m12-2h0m11-1h0m7 2h0m11-2h0m7 0h0m13 2h0m14 1h0m4-2h0m15 0h0m8 0h0m13 0h0m13 0h0m3 1h0m14-2h0m12 2h0m6 0h0m13 1h0m6-1h0m7-1h0m11 2h0"/><path id="Ld44" d="M1171 1177h0m3 2h0m11 10h0m28-13h0m26-6h0m13 2h0m9 13h0m1-5h0m5-12h0m25 4h0m2 14h0m6-1h0m1 2h0m29 5h0m4-17h0m0 15h0m11-13h0m3 7h0m8 2h0m5-7h0m72 0h0m4 17h0m8-1h0m0-15h0m11 11h0m27-2h0m6 8h0m3-13h0m7 6h0m13 3h0m9-9h0m6 8h0m1 2h0m1-4h0m10 7h0m31-1h0m24-1h0m23-8h0m6-1h0m1 8h0m9-12h0m8 3h0m10 7h0m2-1h0m15 4h0m12-14h0m7 2h0m20 9h0m18-8h0m2 12h0m12-2h0m4 4h0m65-7h0m15-4h0m2 1h0m10 3h0m11 4h0m8-9h0m18 4h0m32 1h0m2-7h0m2 11h0m7-6h0m7 1h0m3 1h0m14-5h0m5 7h0m6-8h0m14 11h0m1-10h0"/><path id="Ld45" d="M1158 1204h0m5-4h0m3 7h0m1-11h0m11 7h0m12-7h0m16 11h0m15-8h0m7 4h0m13-6h0m10-8h0m8 5h0m11 9h0m10-14h0m2 8h0m13 4h0m13 6h0m18-5h0m1-9h0m21 9h0m7-2h0m9 8h0m14-5h0m4 0h0m1 7h0m2-6h0m0 7h0m11-16h0m7 6h0m5 11h0m9-5h0m9 3h0m10-1h0m7-11h0m15 10h0m2-11h0m1 1h0m3 5h0m13 5h0m17-10h0m1 14h0m3 0h0m10-10h0m1-1h0m13 4h0m5-4h0m5-2h0m3 12h0m2-7h0m7-7h0m2 13h0m36 1h0m31-6h0m23 8h0m17-11h0m5 9h0m12-8h0m7-5h0m14 2h0m11 9h0m8-1h0m2 2h0m0-10h0m34 1h0m11 10h0m13-9h0m8 1h0m1 10h0m14-6h0m44 1h0m7-2h0m27-2h0m3-2h0m15 11h0m19-7h0m4 5h0m10-2h0m11-6h0m5 8h0m6-12h0m7 2h0m6 2h0m5-2h0"/><path id="Ld46" d="M1171 1218h0m11-5h0m1 0h0m4 8h0m17 9h0m11-3h0m3-11h0m45 12h0m15-1h0m4-17h0m9 7h0m1 9h0m15-6h0m8 1h0m17 1h0m6-2h0m0-1h0m10-1h0m19-5h0m12 15h0m12-15h0m34 16h0m8-11h0m35 11h0m42-9h0m7-4h0m9 0h0m5 9h0m6-6h0m5-1h0m11 11h0m8-2h0m13-3h0m12-3h0m27 0h0m17 4h0m1-7h0m6 10h0m24-8h0m7 0h0m3-2h0m14-3h0m16 9h0m27 1h0m11-4h0m13-3h0m2 6h0m2 4h0m2-1h0m1-7h0m29 6h0m0 3h0m39-10h0m19-2h0m28-2h0m45 10h0m0-10h0m6 4h0m6 0h0m4-4h0m0 9h0m15 1h0"/><path id="Ld47" d="M1158 1228h0m12 1h0m2-2h0m14 3h0m7-3h0m14 1h0m9 1h0m6 0h0m13-1h0m11 1h0m8 0h0m7-2h0m16 0h0m9 2h0m12-2h0m4 0h0m12 1h0m15 1h0m10 1h0m10-1h0m11 1h0m8-3h0m10 2h0m11-2h0m4 2h0m8 1h0m9-3h0m11 1h0m10 0h0m13 1h0m14-2h0m9 1h0m7 0h0m10 0h0m7-1h0m10 2h0m13-1h0m14 0h0m3 1h0m18 0h0m9 0h0m10 0h0m3 0h0m17-1h0m6-1h0m12 1h0m14 1h0m0 1h0m12-3h0m14 2h0m8 0h0m12 0h0m13 0h0m1-1h0m15-1h0m13 0h0m11 0h0m1 2h0m11-2h0m13 0h0m10 0h0m16 1h0m2 1h0m9 0h0m17-2h0m7 2h0m15 0h0m3-1h0m14 1h0m10 1h0m9-2h0m10 1h0m12 0h0m3-1h0m12 0h0m9 1h0m15 0h0m11 0h0m6-2h0m15 1h0m5 2h0m9-2h0"/><path id="Ld48" d="M1156 1171h0m0 30h0m0-29h0m1 18h0m2 12h0m3-19h0m12 11h0m1-19h0m9 2h0m0 19h0m2-28h0m5 19h0m6 16h0m6-29h0m20-5h0m1 9h0m10-10h0m3 29h0m23-23h0m1-4h0m13-6h0m3-1h0m1 1h0m3 11h0m5-2h0m7-3h0m5-6h0m1 34h0m10-5h0m6 4h0m9 0h0m5-9h0m5 11h0m6-25h0m8 5h0m7-7h0m14 18h0m14-13h0m14 14h0m1-19h0m5 32h0m1-33h0m3 4h0m21 11h0m4 24h0m3 3h0m3-35h0m21 21h0m3-3h0m2-20h0m5 21h0m8-15h0m12 9h0m5 3h0m13 2h0m14 7h0m20-20h0m2 3h0m2 0h0m8 16h0m9-28h0m9 6h0m4 4h0m6 0h0m5 2h0m7-1h0m6 25h0m1-9h0m10-20h0m12 1h0m6 7h0m1-10h0m3 25h0m5-13h0m8 2h0m0 18h0m9 2h0m2-31h0m3-1h0m2 0h0m7 18h0m9-5h0m15 20h0m3-6h0m7-33h0m1 21h0m12 3h0m4-3h0m3-15h0m9 10h0m17 5h0m16 1h0m7 4h0m9-1h0m27 14h0m15-31h0m8 26h0m15-19h0m0-2h0m5-1h0m4 19h0m11-23h0m3 16h0m2-19h0m28 4h0m2-2h0m0 0h0m14 2h0m6 21h0m2-13h0m16 20h0m8-32h0m8 15h0m4-20h0m5 26h0"/><path id="Ld49" d="M1167 1199h0m2-19h0m10 5h0m4-1h0m5-15h0m3 21h0m3-16h0m39 1h0m7-14h0m8 17h0m29 14h0m5-14h0m7-6h0m0 6h0m7 10h0m2-23h0m7 15h0m10-8h0m1-5h0m3 4h0m2 23h0m1-15h0m14-3h0m9-2h0m9 29h0m4-19h0m8 22h0m7-18h0m5 0h0m11-14h0m1 15h0m2-3h0m1 18h0m4-31h0m15 3h0m3 4h0m22 23h0m1-6h0m2 11h0m5-20h0m17 19h0m1-30h0m7 31h0m12-27h0m4 17h0m1 7h0m3-22h0m9-5h0m0-1h0m0 22h0m1-22h0m1 23h0m2-20h0m4 30h0m12-9h0m32-11h0m4-13h0m7 29h0m3-4h0m31-14h0m0-11h0m12 28h0m13-9h0m5 6h0m8-6h0m6-5h0m1-4h0m2 1h0m12 7h0m2-13h0m19 15h0m2-5h0m7 14h0m4-19h0m10 14h0m2-12h0m2 19h0m1-20h0m1 8h0m21 4h0m11 0h0m1-25h0m14 34h0m0-22h0m7 3h0m2 7h0m3-7h0m2 4h0m9 13h0m2 8h0m3-6h0m9 5h0m1-8h0m8-26h0m4-5h0m1 10h0m12 10h0m22-10h0m19 21h0m5-5h0m15-20h0m3 10h0m2 2h0m23 18h0m8-12h0m3-7h0m1 13h0m10-13h0m10 17h0m6-30h0m9-3h0m8 4h0m2-2h0m1 4h0m3 28h0"/><path id="Ld50" d="M1182 1178h0m7 2h0m10-20h0m18 19h0m3-17h0m1 18h0m6-18h0m0-2h0m1 3h0m15-4h0m39 12h0m11 5h0m3-13h0m1-7h0m11 7h0m15-5h0m17 20h0m0-9h0m12-4h0m3 20h0m2 2h0m6-18h0m2 4h0m1 16h0m4-20h0m5-4h0m17 4h0m16-4h0m2 18h0m1-13h0m17 18h0m1-13h0m31-10h0m2 8h0m13 16h0m9-3h0m32-20h0m3 3h0m4 25h0m4-21h0m2-1h0m1-3h0m5 8h0m1-7h0m4-4h0m11 26h0m4 6h0m12-36h0m6 2h0m3 2h0m13-1h0m16 12h0m7 14h0m4-4h0m4-10h0m8-7h0m9 5h0m2 16h0m12-17h0m2 26h0m1-27h0m8 8h0m0 7h0m1-15h0m2 4h0m2 2h0m14-15h0m2 4h0m3 26h0m12-19h0m7-8h0m3 8h0m0 10h0m26-10h0m2-3h0m16 3h0m1-7h0m2 23h0m5 3h0m17 2h0m5-9h0m28-15h0m5 1h0m12 22h0m5-11h0m6-13h0m0 19h0m3-20h0m6 13h0m6 0h0m13-8h0m6 2h0m26 1h0m42-2h0m1-7h0m2 24h0m15-13h0m11 6h0m2 9h0"/><path id="Ld51" d="M1171 1186h0m11-17h0m8-11h0m3 7h0m10 0h0m3 10h0m11 12h0m10-12h0m13-3h0m1-17h0m4 0h0m7 11h0m0 16h0m23-27h0m12 20h0m4-11h0m4-8h0m9 2h0m4 15h0m14 10h0m13 12h0m24-25h0m1 0h0m3 5h0m4 17h0m19-19h0m9-6h0m4-1h0m6-2h0m11 7h0m5 12h0m1 9h0m22-22h0m1 17h0m18-8h0m25 16h0m0 3h0m3-26h0m6 1h0m9-4h0m3-3h0m5 4h0m2 5h0m1-8h0m6 27h0m17-28h0m2 13h0m4-4h0m45-5h0m0 4h0m8 1h0m2-7h0m2 18h0m3-1h0m2-4h0m8-8h0m9-2h0m1 3h0m3 5h0m5 0h0m8 17h0m3-4h0m4-12h0m6 11h0m21-14h0m12-10h0m11 2h0m20 11h0m7 20h0m15-13h0m12-6h0m5-15h0m27 34h0m15-24h0m21 16h0m2-17h0m6 22h0m2-20h0m11 0h0m8 9h0m2 4h0m10 5h0m10-20h0m6 4h0m3-7h0m16-1h0m0 4h0m13 9h0m5-4h0m4 18h0m7-17h0m9 14h0m2-7h0m4 7h0m8-27h0m8 20h0m1-10h0m1 17h0m10-10h0"/><path id="Ld52" d="M1157 1166h0m0 20h0m14-14h0m22-15h0m19 17h0m4-3h0m45-7h0m2-2h0m10 16h0m20-8h0m12-12h0m2 1h0m1 10h0m3-9h0m4 1h0m13 22h0m0-20h0m5 31h0m1-3h0m7-11h0m0-3h0m3-12h0m1 11h0m13-10h0m3 7h0m6-1h0m3-6h0m15 13h0m6 9h0m3-22h0m3 18h0m4 0h0m1-22h0m15 18h0m3 0h0m7 15h0m29-31h0m2 0h0m14 8h0m0 1h0m20 16h0m28 5h0m4-18h0m6 15h0m11-24h0m18 27h0m4-11h0m13 2h0m3 1h0m25-4h0m12 15h0m7-12h0m2 8h0m9-14h0m10-3h0m7 1h0m3 9h0m2 6h0m1 2h0m6-23h0m0 8h0m10-1h0m21-2h0m1 0h0m12 3h0m17 4h0m1-3h0m5-8h0m4-3h0m0 15h0m2-8h0m11-1h0m1 5h0m3-4h0m6 0h0m14-4h0m1 25h0m2-21h0m1 5h0m4 6h0m2 9h0m14-22h0m8 22h0m2-25h0m8 14h0m3-7h0m4 12h0m6 13h0m10-8h0m47-3h0m9 0h0m3-24h0m0 10h0m19 21h0m29-19h0m6-12h0m2 15h0m14 9h0m7-25h0"/><path id="Ld53" d="M1156 1186h0m7-22h0m1 8h0m11 11h0m8-22h0m2 2h0m6 7h0m15-8h0m14 6h0m3-2h0m7 4h0m5-15h0m1 17h0m3-8h0m0-8h0m1-3h0m28 17h0m5-7h0m1-7h0m22 11h0m21-6h0m2-1h0m47 32h0m2-24h0m10 19h0m2-15h0m6-7h0m5 9h0m2 15h0m11-10h0m6-5h0m5-7h0m4 7h0m20 17h0m2-20h0m6 16h0m6-13h0m7 16h0m3-22h0m20 5h0m7 12h0m7-15h0m5 24h0m6-24h0m4 23h0m1-9h0m25-19h0m3 25h0m5-11h0m4 10h0m8-5h0m2 12h0m7-12h0m8-19h0m8 19h0m17-14h0m13 1h0m8-5h0m3 3h0m5 24h0m9-22h0m16 27h0m0 2h0m1-8h0m0 1h0m7-11h0m8-9h0m4 3h0m6-11h0m9 8h0m16 8h0m3-6h0m30-6h0m10 24h0m19 4h0m2-25h0m39 24h0m4-20h0m2 2h0m3 5h0m10-1h0m42-9h0m4 3h0m11 1h0m3 6h0m6-16h0m1 15h0m11-10h0m0 19h0m5-1h0m19-20h0m2 4h0m13 4h0m1 18h0m2-17h0m10 12h0m6-4h0m2 1h0m7-13h0"/><pattern id="bandpat" width="41" height="29" patternUnits="userSpaceOnUse">
<rect width="41" height="29" fill="#363636"/>
<g fill="#10107a" opacity="0.75">
<ellipse cx="4" cy="5" rx="2.6" ry="3.4"/><ellipse cx="15" cy="11" rx="3" ry="2.4"/><ellipse cx="27" cy="4" rx="2.2" ry="3"/>
<ellipse cx="36" cy="14" rx="2.8" ry="2.6"/><ellipse cx="9" cy="20" rx="2.4" ry="2.8"/><ellipse cx="22" cy="23" rx="3.1" ry="2.3"/>
<ellipse cx="33" cy="25" rx="2" ry="2.6"/><ellipse cx="19" cy="1" rx="1.8" ry="1.6"/><ellipse cx="2" cy="13" rx="1.6" ry="2"/>
<ellipse cx="28" cy="16" rx="1.5" ry="1.8"/><ellipse cx="40" cy="3" rx="1.6" ry="1.6"/>
</g></pattern></defs>
<clipPath id="cla"><rect x="114.8" y="54.8" width="840.4" height="463.9"/></clipPath>
<g clip-path="url(#cla)">
<polyline points="145.9,498 147.9,327.4 149.9,498" fill="#3c3cff" stroke="#3c3cff" stroke-width="2.4" stroke-linejoin="round"/>
<polyline points="154.6,498 156.6,339.5 158.6,498" fill="#3c3cff" stroke="#3c3cff" stroke-width="2.4" stroke-linejoin="round"/>
<polyline points="226.6,498 228.6,267.8 230.6,498" fill="#3c3cff" stroke="#3c3cff" stroke-width="2.4" stroke-linejoin="round"/>
<polyline points="538.8,498 540.8,212.3 542.8,498" fill="#3c3cff" stroke="#3c3cff" stroke-width="2.4" stroke-linejoin="round"/>
<polyline points="922.8,498 924.8,359.9 926.8,498" fill="#3c3cff" stroke="#3c3cff" stroke-width="2.4" stroke-linejoin="round"/>
<polygon points="117,421.6 123,422.7 129,423.9 135,425.0 141,426.0 147,426.3 153,426.5 159,426.8 165,427.0 171,427.2 177,427.5 183,427.7 189,428.0 195,429.0 201,430.2 207,431.4 213,432.6 219,433.8 225,435.0 231,435.9 237,435.4 243,435.0 249,434.5 255,434.0 261,433.5 267,433.0 273,432.6 279,432.1 285,432.6 291,433.4 297,434.1 303,434.9 309,435.6 315,436.4 321,437.0 327,437.0 333,437.0 339,437.0 345,437.0 351,435.3 357,433.6 363,431.9 369,430.1 375,428.4 381,426.7 387,424.9 393,423.1 399,421.3 405,419.5 411,418.0 417,418.0 423,418.0 429,418.0 435,418.0 441,418.9 447,424.6 453,430.4 459,436.1 465,435.3 471,433.3 477,431.3 483,429.3 489,427.3 495,425.0 501,422.6 507,420.2 513,417.8 519,415.4 525,413.0 531,411.2 537,412.2 543,413.2 549,414.2 555,415.2 561,416.5 567,419.7 573,422.8 579,426.0 585,429.1 591,432.3 597,435.4 603,437.0 609,437.0 615,437.0 621,437.0 627,437.0 633,437.0 639,437.0 645,437.0 651,437.0 657,437.0 663,437.6 669,438.8 675,440.0 681,441.2 687,442.4 693,443.6 699,444.8 705,445.0 711,445.0 717,445.0 723,445.0 729,445.0 735,445.0 741,445.0 747,445.0 753,445.0 759,445.0 765,445.4 771,445.8 777,446.3 783,446.7 789,447.2 795,447.6 801,448.0 807,448.0 813,448.0 819,448.0 825,448.0 831,448.0 837,448.0 843,448.0 849,448.0 855,446.8 861,445.4 867,444.0 873,442.6 879,441.2 885,440.3 891,439.5 897,438.7 903,437.9 909,437.1 915,436.7 921,436.3 927,435.9 933,435.5 939,435.1 945,434.7 951,434.3 953,434.2 953,500 117,500" fill="#363636"/>
<g fill="none" stroke-linecap="round"><use href="#La0" stroke="#343434" stroke-width="12.8"/><use href="#La0" stroke="#000080" stroke-width="7.4"/></g>
<g fill="none" stroke-linecap="round"><use href="#La1" stroke="#343434" stroke-width="12.8"/><use href="#La1" stroke="#000080" stroke-width="6.7"/></g>
<g fill="none" stroke-linecap="round"><use href="#La2" stroke="#343434" stroke-width="12.8"/><use href="#La2" stroke="#000080" stroke-width="6.0"/></g>
<g fill="none" stroke-linecap="round"><use href="#La3" stroke="#343434" stroke-width="12.8"/><use href="#La3" stroke="#000080" stroke-width="5.6"/></g>
<g fill="none" stroke-linecap="round"><use href="#La4" stroke="#343434" stroke-width="12.8"/><use href="#La4" stroke="#000080" stroke-width="7.4"/></g>
<g fill="none" stroke-linecap="round"><use href="#La5" stroke="#343434" stroke-width="12.8"/><use href="#La5" stroke="#000080" stroke-width="6.7"/></g>
<g fill="none" stroke-linecap="round"><use href="#La6" stroke="#343434" stroke-width="12.8"/><use href="#La6" stroke="#000080" stroke-width="6.0"/></g>
<g fill="none" stroke-linecap="round"><use href="#La7" stroke="#343434" stroke-width="12.8"/><use href="#La7" stroke="#000080" stroke-width="5.6"/></g>
<g fill="none" stroke-linecap="round"><use href="#La8" stroke="#343434" stroke-width="12.8"/><use href="#La8" stroke="#000080" stroke-width="7.4"/></g>
<g fill="none" stroke-linecap="round"><use href="#La9" stroke="#343434" stroke-width="12.8"/><use href="#La9" stroke="#000080" stroke-width="6.7"/></g>
<g fill="none" stroke-linecap="round"><use href="#La10" stroke="#343434" stroke-width="12.8"/><use href="#La10" stroke="#000080" stroke-width="6.0"/></g>
<g fill="none" stroke-linecap="round"><use href="#La11" stroke="#343434" stroke-width="12.8"/><use href="#La11" stroke="#000080" stroke-width="5.6"/></g>
<g fill="none" stroke-linecap="round"><use href="#La12" stroke="#343434" stroke-width="12.8"/><use href="#La12" stroke="#000080" stroke-width="7.4"/></g>
<g fill="none" stroke-linecap="round"><use href="#La13" stroke="#343434" stroke-width="12.8"/><use href="#La13" stroke="#000080" stroke-width="6.7"/></g>
<g fill="none" stroke-linecap="round"><use href="#La14" stroke="#343434" stroke-width="12.8"/><use href="#La14" stroke="#000080" stroke-width="6.0"/></g>
<g fill="none" stroke-linecap="round"><use href="#La15" stroke="#343434" stroke-width="12.8"/><use href="#La15" stroke="#000080" stroke-width="5.6"/></g>
<g fill="none" stroke-linecap="round"><use href="#La16" stroke="#343434" stroke-width="12.8"/><use href="#La16" stroke="#000080" stroke-width="7.4"/></g>
<g fill="none" stroke-linecap="round"><use href="#La17" stroke="#343434" stroke-width="12.8"/><use href="#La17" stroke="#000080" stroke-width="6.7"/></g>
<g fill="none" stroke-linecap="round"><use href="#La18" stroke="#343434" stroke-width="12.8"/><use href="#La18" stroke="#000080" stroke-width="6.0"/></g>
<g fill="none" stroke-linecap="round"><use href="#La19" stroke="#343434" stroke-width="12.8"/><use href="#La19" stroke="#000080" stroke-width="5.6"/></g>
<g fill="none" stroke-linecap="round"><use href="#La20" stroke="#343434" stroke-width="12.8"/><use href="#La20" stroke="#000080" stroke-width="7.4"/></g>
<g fill="none" stroke-linecap="round"><use href="#La21" stroke="#343434" stroke-width="12.8"/><use href="#La21" stroke="#000080" stroke-width="6.7"/></g>
<g fill="none" stroke-linecap="round"><use href="#La22" stroke="#343434" stroke-width="12.8"/><use href="#La22" stroke="#000080" stroke-width="6.0"/></g>
<g fill="none" stroke-linecap="round"><use href="#La23" stroke="#343434" stroke-width="12.8"/><use href="#La23" stroke="#000080" stroke-width="5.6"/></g>
<g fill="none" stroke-linecap="round"><use href="#La24" stroke="#343434" stroke-width="12.8"/><use href="#La24" stroke="#000080" stroke-width="7.4"/></g>
<g fill="none" stroke-linecap="round"><use href="#La25" stroke="#343434" stroke-width="12.8"/><use href="#La25" stroke="#000080" stroke-width="6.7"/></g>
<g fill="none" stroke-linecap="round"><use href="#La26" stroke="#343434" stroke-width="12.8"/><use href="#La26" stroke="#000080" stroke-width="6.0"/></g>
<g fill="none" stroke-linecap="round"><use href="#La27" stroke="#343434" stroke-width="12.8"/><use href="#La27" stroke="#000080" stroke-width="5.6"/></g>
<g fill="none" stroke-linecap="round"><use href="#La28" stroke="#343434" stroke-width="12.8"/><use href="#La28" stroke="#000080" stroke-width="7.4"/></g>
<g fill="none" stroke-linecap="round"><use href="#La29" stroke="#343434" stroke-width="12.8"/><use href="#La29" stroke="#000080" stroke-width="6.7"/></g>
<g fill="none" stroke-linecap="round"><use href="#La30" stroke="#343434" stroke-width="12.8"/><use href="#La30" stroke="#000080" stroke-width="6.0"/></g>
<g fill="none" stroke-linecap="round"><use href="#La31" stroke="#343434" stroke-width="12.8"/><use href="#La31" stroke="#000080" stroke-width="5.6"/></g>
<g fill="none" stroke-linecap="round"><use href="#La32" stroke="#343434" stroke-width="12.8"/><use href="#La32" stroke="#000080" stroke-width="7.4"/></g>
<g fill="none" stroke-linecap="round"><use href="#La33" stroke="#343434" stroke-width="12.8"/><use href="#La33" stroke="#000080" stroke-width="6.7"/></g>
<g fill="none" stroke-linecap="round"><use href="#La34" stroke="#343434" stroke-width="12.8"/><use href="#La34" stroke="#000080" stroke-width="6.0"/></g>
<g fill="none" stroke-linecap="round"><use href="#La35" stroke="#343434" stroke-width="12.8"/><use href="#La35" stroke="#000080" stroke-width="5.6"/></g>
<g fill="none" stroke-linecap="round"><use href="#La36" stroke="#343434" stroke-width="12.8"/><use href="#La36" stroke="#000080" stroke-width="7.4"/></g>
<g fill="none" stroke-linecap="round"><use href="#La37" stroke="#343434" stroke-width="12.8"/><use href="#La37" stroke="#000080" stroke-width="6.7"/></g>
<g fill="none" stroke-linecap="round"><use href="#La38" stroke="#343434" stroke-width="12.8"/><use href="#La38" stroke="#000080" stroke-width="6.0"/></g>
<g fill="none" stroke-linecap="round"><use href="#La39" stroke="#343434" stroke-width="12.8"/><use href="#La39" stroke="#000080" stroke-width="5.6"/></g>
<g fill="none" stroke-linecap="round"><use href="#La40" stroke="#343434" stroke-width="12.8"/><use href="#La40" stroke="#000080" stroke-width="7.4"/></g>
<g fill="none" stroke-linecap="round"><use href="#La41" stroke="#343434" stroke-width="12.8"/><use href="#La41" stroke="#000080" stroke-width="6.7"/></g>
<g fill="none" stroke-linecap="round"><use href="#La42" stroke="#343434" stroke-width="12.8"/><use href="#La42" stroke="#000080" stroke-width="6.0"/></g>
<g fill="none" stroke-linecap="round"><use href="#La43" stroke="#343434" stroke-width="12.8"/><use href="#La43" stroke="#000080" stroke-width="5.6"/></g>
<g fill="none" stroke-linecap="round"><use href="#La44" stroke="#343434" stroke-width="12.8"/><use href="#La44" stroke="#000080" stroke-width="7.4"/></g>
<g fill="none" stroke-linecap="round"><use href="#La45" stroke="#343434" stroke-width="12.8"/><use href="#La45" stroke="#000080" stroke-width="6.7"/></g>
<g fill="none" stroke-linecap="round"><use href="#La46" stroke="#343434" stroke-width="12.8"/><use href="#La46" stroke="#000080" stroke-width="6.0"/></g>
<g fill="none" stroke-linecap="round"><use href="#La47" stroke="#343434" stroke-width="12.8"/><use href="#La47" stroke="#000080" stroke-width="5.6"/></g>
<g fill="none" stroke-linecap="round"><use href="#La48" stroke="#343434" stroke-width="12.8"/><use href="#La48" stroke="#000080" stroke-width="8.4"/></g>
<g fill="none" stroke-linecap="round"><use href="#La49" stroke="#343434" stroke-width="12.8"/><use href="#La49" stroke="#000080" stroke-width="8.4"/></g>
<g fill="none" stroke-linecap="round"><use href="#La50" stroke="#343434" stroke-width="12.8"/><use href="#La50" stroke="#000080" stroke-width="10.6"/></g>
<g fill="none" stroke-linecap="round"><use href="#La51" stroke="#343434" stroke-width="12.8"/><use href="#La51" stroke="#000080" stroke-width="10.6"/></g>
<g fill="none" stroke-linecap="round"><use href="#La52" stroke="#343434" stroke-width="12.8"/><use href="#La52" stroke="#000080" stroke-width="10.6"/></g>
<g fill="none" stroke-linecap="round"><use href="#La53" stroke="#343434" stroke-width="12.8"/><use href="#La53" stroke="#000080" stroke-width="10.6"/></g>
<g fill="#000080" stroke="#222" stroke-width="1">
<ellipse cx="173.1" cy="289.5" rx="5.8" ry="5.8"/><ellipse cx="184.5" cy="292.7" rx="5.8" ry="5.8"/><ellipse cx="198.0" cy="298.4" rx="5.8" ry="5.8"/><ellipse cx="201.5" cy="304.3" rx="5.8" ry="5.8"/><ellipse cx="209.6" cy="299.5" rx="5.8" ry="5.8"/><ellipse cx="217.0" cy="308.4" rx="5.8" ry="5.8"/><ellipse cx="247.3" cy="329.3" rx="5.8" ry="5.8"/><ellipse cx="263.5" cy="338.2" rx="5.8" ry="5.8"/><ellipse cx="261.6" cy="352.5" rx="5.8" ry="5.8"/><ellipse cx="267.1" cy="354.4" rx="5.8" ry="5.8"/><ellipse cx="269.8" cy="372.0" rx="5.8" ry="5.8"/><ellipse cx="267.6" cy="378.8" rx="5.8" ry="5.8"/><ellipse cx="147.9" cy="339.5" rx="5.8" ry="5.8"/><ellipse cx="139.2" cy="344.4" rx="5.8" ry="5.8"/><ellipse cx="129.5" cy="354.4" rx="5.8" ry="5.8"/><ellipse cx="128.4" cy="361.8" rx="5.8" ry="5.8"/><ellipse cx="147.9" cy="355.8" rx="5.8" ry="5.8"/><ellipse cx="147.4" cy="368.0" rx="5.8" ry="5.8"/><ellipse cx="185.3" cy="364.5" rx="5.8" ry="5.8"/><ellipse cx="198.0" cy="363.9" rx="5.8" ry="5.8"/><ellipse cx="213.4" cy="353.9" rx="5.8" ry="5.8"/><ellipse cx="211.5" cy="366.6" rx="5.8" ry="5.8"/><ellipse cx="163.6" cy="374.2" rx="5.8" ry="5.8"/><ellipse cx="158.2" cy="372.6" rx="5.8" ry="5.8"/><ellipse cx="215.1" cy="382.9" rx="5.8" ry="5.8"/><ellipse cx="214.3" cy="388.3" rx="5.8" ry="5.8"/><ellipse cx="248.6" cy="365.8" rx="5.8" ry="5.8"/><ellipse cx="239.2" cy="381.5" rx="5.8" ry="5.8"/><ellipse cx="235.9" cy="385.6" rx="5.8" ry="5.8"/><ellipse cx="244.6" cy="388.3" rx="5.8" ry="5.8"/><ellipse cx="246.7" cy="395.1" rx="5.8" ry="5.8"/><ellipse cx="254.9" cy="400.5" rx="5.8" ry="5.8"/><ellipse cx="260.3" cy="407.2" rx="5.8" ry="5.8"/><ellipse cx="272.5" cy="405.1" rx="5.8" ry="5.8"/><ellipse cx="137.1" cy="392.4" rx="5.8" ry="5.8"/><ellipse cx="148.7" cy="395.9" rx="5.8" ry="5.8"/><ellipse cx="116.0" cy="381.5" rx="5.8" ry="5.8"/><ellipse cx="115.4" cy="388.3" rx="5.8" ry="5.8"/><ellipse cx="390.3" cy="291.6" rx="5.8" ry="5.8"/><ellipse cx="433.6" cy="282.7" rx="5.8" ry="5.8"/><ellipse cx="444.4" cy="319.2" rx="5.8" ry="5.8"/><ellipse cx="383.5" cy="321.4" rx="5.8" ry="5.8"/><ellipse cx="378.1" cy="326.6" rx="5.8" ry="5.8"/><ellipse cx="414.6" cy="326.0" rx="5.8" ry="5.8"/><ellipse cx="416.0" cy="332.8" rx="5.8" ry="5.8"/><ellipse cx="424.1" cy="330.1" rx="5.8" ry="5.8"/><ellipse cx="433.6" cy="335.5" rx="5.8" ry="5.8"/><ellipse cx="444.4" cy="336.8" rx="5.8" ry="5.8"/><ellipse cx="444.4" cy="351.7" rx="5.8" ry="5.8"/><ellipse cx="348.3" cy="335.5" rx="5.8" ry="5.8"/><ellipse cx="357.0" cy="342.3" rx="5.8" ry="5.8"/><ellipse cx="391.6" cy="339.5" rx="5.8" ry="5.8"/><ellipse cx="396.5" cy="350.4" rx="5.8" ry="5.8"/><ellipse cx="405.2" cy="343.6" rx="5.8" ry="5.8"/><ellipse cx="410.0" cy="361.2" rx="5.8" ry="5.8"/><ellipse cx="437.6" cy="359.9" rx="5.8" ry="5.8"/><ellipse cx="318.5" cy="351.2" rx="5.8" ry="5.8"/><ellipse cx="326.6" cy="349.8" rx="5.8" ry="5.8"/><ellipse cx="321.2" cy="366.6" rx="5.8" ry="5.8"/><ellipse cx="330.7" cy="372.9" rx="5.8" ry="5.8"/><ellipse cx="326.6" cy="380.2" rx="5.8" ry="5.8"/><ellipse cx="334.7" cy="386.9" rx="5.8" ry="5.8"/><ellipse cx="329.9" cy="395.1" rx="5.8" ry="5.8"/><ellipse cx="330.7" cy="403.2" rx="5.8" ry="5.8"/><ellipse cx="305.5" cy="374.2" rx="5.8" ry="5.8"/><ellipse cx="351.8" cy="366.1" rx="5.8" ry="5.8"/><ellipse cx="356.4" cy="380.2" rx="5.8" ry="5.8"/><ellipse cx="363.2" cy="386.9" rx="5.8" ry="5.8"/><ellipse cx="360.5" cy="399.1" rx="5.8" ry="5.8"/><ellipse cx="357.8" cy="405.9" rx="5.8" ry="5.8"/><ellipse cx="375.4" cy="391.0" rx="5.8" ry="5.8"/><ellipse cx="380.8" cy="397.8" rx="5.8" ry="5.8"/><ellipse cx="388.9" cy="378.8" rx="5.8" ry="5.8"/><ellipse cx="397.0" cy="368.0" rx="5.8" ry="5.8"/><ellipse cx="405.2" cy="369.3" rx="5.8" ry="5.8"/><ellipse cx="401.1" cy="380.2" rx="5.8" ry="5.8"/><ellipse cx="407.9" cy="388.3" rx="5.8" ry="5.8"/><ellipse cx="414.6" cy="385.6" rx="5.8" ry="5.8"/><ellipse cx="422.8" cy="381.5" rx="5.8" ry="5.8"/><ellipse cx="418.7" cy="373.4" rx="5.8" ry="5.8"/><ellipse cx="415.2" cy="391.0" rx="5.8" ry="5.8"/><ellipse cx="424.1" cy="400.5" rx="5.8" ry="5.8"/><ellipse cx="433.6" cy="395.1" rx="5.8" ry="5.8"/><ellipse cx="436.3" cy="388.3" rx="5.8" ry="5.8"/><ellipse cx="445.8" cy="388.3" rx="5.8" ry="5.8"/><ellipse cx="445.8" cy="372.0" rx="5.8" ry="5.8"/><ellipse cx="455.2" cy="368.0" rx="5.8" ry="5.8"/><ellipse cx="455.2" cy="376.1" rx="5.8" ry="5.8"/><ellipse cx="466.1" cy="385.6" rx="5.8" ry="5.8"/><ellipse cx="474.2" cy="389.6" rx="5.8" ry="5.8"/><ellipse cx="459.3" cy="395.1" rx="5.8" ry="5.8"/><ellipse cx="504.0" cy="280.8" rx="5.8" ry="5.8"/><ellipse cx="524.3" cy="257.0" rx="5.8" ry="5.8"/><ellipse cx="512.1" cy="299.7" rx="5.8" ry="5.8"/><ellipse cx="516.2" cy="308.4" rx="5.8" ry="5.8"/><ellipse cx="536.5" cy="339.5" rx="5.8" ry="5.8"/><ellipse cx="510.8" cy="389.6" rx="5.8" ry="5.8"/><ellipse cx="517.5" cy="395.1" rx="5.8" ry="5.8"/><ellipse cx="486.4" cy="401.8" rx="5.8" ry="5.8"/><ellipse cx="499.9" cy="400.5" rx="5.8" ry="5.8"/><ellipse cx="506.7" cy="407.2" rx="5.8" ry="5.8"/><ellipse cx="521.6" cy="414.0" rx="5.8" ry="5.8"/><ellipse cx="314.4" cy="397.0" rx="5.8" ry="5.8"/><ellipse cx="299.5" cy="407.2" rx="5.8" ry="5.8"/><ellipse cx="345.6" cy="410.0" rx="5.8" ry="5.8"/><ellipse cx="342.9" cy="416.7" rx="5.8" ry="5.8"/><ellipse cx="554.4" cy="233.9" rx="5.8" ry="5.8"/><ellipse cx="555.7" cy="239.4" rx="5.8" ry="5.8"/><ellipse cx="558.4" cy="248.0" rx="5.8" ry="5.8"/><ellipse cx="578.7" cy="245.3" rx="5.8" ry="5.8"/><ellipse cx="538.1" cy="261.0" rx="5.8" ry="5.8"/><ellipse cx="546.8" cy="264.3" rx="5.8" ry="5.8"/><ellipse cx="558.4" cy="274.6" rx="5.8" ry="5.8"/><ellipse cx="544.9" cy="297.6" rx="5.8" ry="5.8"/><ellipse cx="557.1" cy="297.6" rx="5.8" ry="5.8"/><ellipse cx="549.5" cy="303.0" rx="5.8" ry="5.8"/><ellipse cx="538.1" cy="309.2" rx="5.8" ry="5.8"/><ellipse cx="596.3" cy="308.4" rx="5.8" ry="5.8"/><ellipse cx="596.3" cy="317.1" rx="5.8" ry="5.8"/><ellipse cx="666.7" cy="292.7" rx="5.8" ry="5.8"/><ellipse cx="681.6" cy="289.5" rx="5.8" ry="5.8"/><ellipse cx="682.5" cy="296.8" rx="5.8" ry="5.8"/><ellipse cx="651.9" cy="320.1" rx="5.8" ry="5.8"/><ellipse cx="697.9" cy="321.9" rx="5.8" ry="5.8"/><ellipse cx="700.1" cy="328.7" rx="5.8" ry="5.8"/><ellipse cx="701.9" cy="332.8" rx="5.8" ry="5.8"/><ellipse cx="713.6" cy="321.9" rx="5.8" ry="5.8"/><ellipse cx="543.5" cy="324.7" rx="5.8" ry="5.8"/><ellipse cx="551.1" cy="326.0" rx="5.8" ry="5.8"/><ellipse cx="549.0" cy="335.5" rx="5.8" ry="5.8"/><ellipse cx="580.1" cy="331.4" rx="5.8" ry="5.8"/><ellipse cx="590.9" cy="342.8" rx="5.8" ry="5.8"/><ellipse cx="540.8" cy="342.3" rx="5.8" ry="5.8"/><ellipse cx="562.0" cy="343.6" rx="5.8" ry="5.8"/><ellipse cx="546.2" cy="350.4" rx="5.8" ry="5.8"/><ellipse cx="555.7" cy="351.7" rx="5.8" ry="5.8"/><ellipse cx="576.0" cy="349.0" rx="5.8" ry="5.8"/><ellipse cx="581.4" cy="357.1" rx="5.8" ry="5.8"/><ellipse cx="567.9" cy="357.1" rx="5.8" ry="5.8"/><ellipse cx="543.5" cy="359.9" rx="5.8" ry="5.8"/><ellipse cx="550.3" cy="359.9" rx="5.8" ry="5.8"/><ellipse cx="584.2" cy="366.6" rx="5.8" ry="5.8"/><ellipse cx="570.6" cy="366.6" rx="5.8" ry="5.8"/><ellipse cx="559.8" cy="369.3" rx="5.8" ry="5.8"/><ellipse cx="780.5" cy="335.5" rx="5.8" ry="5.8"/><ellipse cx="784.5" cy="328.7" rx="5.8" ry="5.8"/><ellipse cx="742.6" cy="336.8" rx="5.8" ry="5.8"/><ellipse cx="750.7" cy="338.2" rx="5.8" ry="5.8"/><ellipse cx="650.5" cy="348.2" rx="5.8" ry="5.8"/><ellipse cx="671.3" cy="349.8" rx="5.8" ry="5.8"/><ellipse cx="666.7" cy="354.4" rx="5.8" ry="5.8"/><ellipse cx="658.6" cy="363.4" rx="5.8" ry="5.8"/><ellipse cx="653.2" cy="366.6" rx="5.8" ry="5.8"/><ellipse cx="672.2" cy="372.6" rx="5.8" ry="5.8"/><ellipse cx="711.4" cy="353.6" rx="5.8" ry="5.8"/><ellipse cx="719.5" cy="350.4" rx="5.8" ry="5.8"/><ellipse cx="729.8" cy="355.8" rx="5.8" ry="5.8"/><ellipse cx="738.5" cy="350.4" rx="5.8" ry="5.8"/><ellipse cx="734.4" cy="365.3" rx="5.8" ry="5.8"/><ellipse cx="742.6" cy="363.9" rx="5.8" ry="5.8"/><ellipse cx="925.3" cy="313.8" rx="5.8" ry="5.8"/><ellipse cx="938.3" cy="348.2" rx="5.8" ry="5.8"/><ellipse cx="948.4" cy="355.8" rx="5.8" ry="5.8"/><ellipse cx="945.7" cy="363.9" rx="5.8" ry="5.8"/><ellipse cx="791.3" cy="365.3" rx="5.8" ry="5.8"/><ellipse cx="808.9" cy="368.8" rx="5.8" ry="5.8"/><ellipse cx="821.9" cy="366.6" rx="5.8" ry="5.8"/><ellipse cx="762.9" cy="368.0" rx="5.8" ry="5.8"/><ellipse cx="754.7" cy="373.4" rx="5.8" ry="5.8"/><ellipse cx="749.3" cy="374.7" rx="5.8" ry="5.8"/><ellipse cx="754.7" cy="380.2" rx="5.8" ry="5.8"/><ellipse cx="753.4" cy="389.6" rx="5.8" ry="5.8"/><ellipse cx="704.7" cy="380.7" rx="5.8" ry="5.8"/><ellipse cx="729.0" cy="381.5" rx="5.8" ry="5.8"/><ellipse cx="715.5" cy="393.7" rx="5.8" ry="5.8"/><ellipse cx="723.6" cy="405.1" rx="5.8" ry="5.8"/><ellipse cx="727.7" cy="404.5" rx="5.8" ry="5.8"/><ellipse cx="852.2" cy="358.5" rx="5.8" ry="5.8"/><ellipse cx="865.8" cy="354.4" rx="5.8" ry="5.8"/><ellipse cx="883.4" cy="367.2" rx="5.8" ry="5.8"/><ellipse cx="903.7" cy="380.2" rx="5.8" ry="5.8"/><ellipse cx="914.0" cy="373.4" rx="5.8" ry="5.8"/><ellipse cx="821.1" cy="385.6" rx="5.8" ry="5.8"/><ellipse cx="830.6" cy="398.3" rx="5.8" ry="5.8"/><ellipse cx="818.4" cy="403.2" rx="5.8" ry="5.8"/><ellipse cx="798.1" cy="393.7" rx="5.8" ry="5.8"/><ellipse cx="808.9" cy="395.1" rx="5.8" ry="5.8"/><ellipse cx="856.3" cy="392.4" rx="5.8" ry="5.8"/><ellipse cx="863.1" cy="398.6" rx="5.8" ry="5.8"/><ellipse cx="857.6" cy="410.0" rx="5.8" ry="5.8"/><ellipse cx="849.5" cy="416.7" rx="5.8" ry="5.8"/><ellipse cx="635.6" cy="372.6" rx="5.8" ry="5.8"/><ellipse cx="643.7" cy="379.6" rx="5.8" ry="5.8"/><ellipse cx="650.5" cy="380.7" rx="5.8" ry="5.8"/><ellipse cx="623.4" cy="391.0" rx="5.8" ry="5.8"/><ellipse cx="630.2" cy="397.8" rx="5.8" ry="5.8"/><ellipse cx="619.4" cy="401.8" rx="5.8" ry="5.8"/><ellipse cx="660.0" cy="399.1" rx="5.8" ry="5.8"/><ellipse cx="681.6" cy="395.1" rx="5.8" ry="5.8"/><ellipse cx="692.5" cy="403.2" rx="5.8" ry="5.8"/><ellipse cx="687.1" cy="404.5" rx="5.8" ry="5.8"/><ellipse cx="540.8" cy="381.5" rx="5.8" ry="5.8"/><ellipse cx="543.5" cy="388.3" rx="5.8" ry="5.8"/><ellipse cx="539.5" cy="405.9" rx="5.8" ry="5.8"/><ellipse cx="559.8" cy="395.1" rx="5.8" ry="5.8"/><ellipse cx="565.2" cy="404.5" rx="5.8" ry="5.8"/><ellipse cx="585.5" cy="384.2" rx="5.8" ry="5.8"/><ellipse cx="590.9" cy="386.9" rx="5.8" ry="5.8"/><ellipse cx="596.3" cy="399.1" rx="5.8" ry="5.8"/><ellipse cx="580.1" cy="395.1" rx="5.8" ry="5.8"/><ellipse cx="585.5" cy="404.5" rx="5.8" ry="5.8"/><ellipse cx="761.5" cy="404.5" rx="5.8" ry="5.8"/><ellipse cx="771.0" cy="419.4" rx="5.8" ry="5.8"/><ellipse cx="808.9" cy="419.4" rx="5.8" ry="5.8"/><ellipse cx="802.1" cy="420.8" rx="5.8" ry="5.8"/><ellipse cx="608.5" cy="410.0" rx="5.8" ry="5.8"/><ellipse cx="601.8" cy="414.0" rx="5.8" ry="5.8"/><ellipse cx="669.5" cy="412.7" rx="5.8" ry="5.8"/><ellipse cx="689.8" cy="416.7" rx="5.8" ry="5.8"/><ellipse cx="681.6" cy="420.8" rx="5.8" ry="5.8"/><ellipse cx="895.6" cy="414.0" rx="5.8" ry="5.8"/><ellipse cx="896.9" cy="420.8" rx="5.8" ry="5.8"/><ellipse cx="911.8" cy="405.9" rx="5.8" ry="5.8"/><ellipse cx="909.1" cy="411.3" rx="5.8" ry="5.8"/><ellipse cx="933.5" cy="414.0" rx="5.8" ry="5.8"/><ellipse cx="942.9" cy="412.7" rx="5.8" ry="5.8"/><ellipse cx="949.7" cy="411.3" rx="5.8" ry="5.8"/>
</g>
<g fill="#aaaaaa" stroke="#555" stroke-width="1">
<ellipse cx="187.7" cy="307.9" rx="5.8" ry="5.8"/><ellipse cx="288.7" cy="308.9" rx="5.8" ry="5.8"/><ellipse cx="339.6" cy="327.4" rx="5.8" ry="5.8"/><ellipse cx="359.1" cy="365.8" rx="5.8" ry="5.8"/><ellipse cx="376.7" cy="375.6" rx="5.8" ry="5.8"/><ellipse cx="491.8" cy="366.6" rx="5.8" ry="5.8"/><ellipse cx="494.5" cy="392.4" rx="5.8" ry="5.8"/><ellipse cx="529.7" cy="391.8" rx="5.8" ry="5.8"/><ellipse cx="196.1" cy="389.1" rx="5.8" ry="5.8"/><ellipse cx="231.0" cy="374.7" rx="5.8" ry="5.8"/><ellipse cx="239.4" cy="369.9" rx="5.8" ry="5.8"/><ellipse cx="215.6" cy="372.6" rx="5.8" ry="5.8"/><ellipse cx="161.4" cy="380.2" rx="5.8" ry="5.8"/><ellipse cx="608.5" cy="368.0" rx="5.8" ry="5.8"/><ellipse cx="620.7" cy="368.0" rx="5.8" ry="5.8"/><ellipse cx="607.2" cy="388.3" rx="5.8" ry="5.8"/><ellipse cx="677.6" cy="378.3" rx="5.8" ry="5.8"/><ellipse cx="724.4" cy="342.3" rx="5.8" ry="5.8"/><ellipse cx="745.3" cy="386.1" rx="5.8" ry="5.8"/><ellipse cx="788.6" cy="391.0" rx="5.8" ry="5.8"/><ellipse cx="870.6" cy="365.8" rx="5.8" ry="5.8"/><ellipse cx="882.0" cy="382.1" rx="5.8" ry="5.8"/><ellipse cx="930.8" cy="391.0" rx="5.8" ry="5.8"/><ellipse cx="909.1" cy="398.6" rx="5.8" ry="5.8"/><ellipse cx="844.1" cy="408.6" rx="5.8" ry="5.8"/><ellipse cx="760.2" cy="417.5" rx="5.8" ry="5.8"/><ellipse cx="921.3" cy="423.5" rx="5.8" ry="5.8"/><ellipse cx="668.1" cy="424.8" rx="5.8" ry="5.8"/><ellipse cx="532.7" cy="391.8" rx="5.8" ry="5.8"/><ellipse cx="951.1" cy="403.2" rx="5.8" ry="5.8"/>
</g>
<g fill="#87ceeb" stroke="#222" stroke-width="1">
<ellipse cx="453.9" cy="422.1" rx="5.8" ry="5.8"/><ellipse cx="467.4" cy="420.8" rx="5.8" ry="5.8"/><ellipse cx="472.3" cy="416.7" rx="5.8" ry="5.8"/><ellipse cx="479.6" cy="426.2" rx="5.8" ry="5.8"/><ellipse cx="538.1" cy="271.3" rx="5.8" ry="5.8"/><ellipse cx="535.4" cy="281.9" rx="5.8" ry="5.8"/><ellipse cx="534.1" cy="488.5" rx="5.8" ry="5.8"/><ellipse cx="538.1" cy="489.8" rx="5.8" ry="5.8"/>
</g>
<g fill="#00ff00" stroke="#222" stroke-width="1">
<ellipse cx="531.4" cy="296.2" rx="5.8" ry="5.8"/>
</g>
<g fill="#ffa500" stroke="#222" stroke-width="1">
<ellipse cx="513.2" cy="204.9" rx="5.8" ry="5.8"/>
</g>
<g fill="#ff0000" stroke="#222" stroke-width="1">
<ellipse cx="537.5" cy="199.0" rx="5.8" ry="5.8"/><ellipse cx="529.3" cy="216.0" rx="5.8" ry="5.8"/>
</g>
<polygon points="527.3,187.3 534.5,180.9 541.7,187.3 534.5,193.70000000000002" fill="#8224e3" stroke="#222" stroke-width="1"/>
</g>
<text x="534.5" y="176.5" text-anchor="middle" font-size="17" fill="#222">rs2451303</text>
<clipPath id="clb"><rect x="1151.0" y="51.5" width="825.6999999999999" height="476.40000000000003"/></clipPath>
<g clip-path="url(#clb)">
<polyline points="1200.5,507.5 1202.5,342 1204.5,507.5" fill="#3c3cff" stroke="#3c3cff" stroke-width="2.4" stroke-linejoin="round"/>
<polyline points="1202.6,507.5 1204.6,224 1206.6,507.5" fill="#3c3cff" stroke="#3c3cff" stroke-width="2.4" stroke-linejoin="round"/>
<polyline points="1314,507.5 1316,366 1318,507.5" fill="#3c3cff" stroke="#3c3cff" stroke-width="2.4" stroke-linejoin="round"/>
<polyline points="1377.5,507.5 1379.5,410 1381.5,507.5" fill="#3c3cff" stroke="#3c3cff" stroke-width="2.4" stroke-linejoin="round"/>
<polyline points="1418,507.5 1420,397 1422,507.5" fill="#3c3cff" stroke="#3c3cff" stroke-width="2.4" stroke-linejoin="round"/>
<polyline points="1453,507.5 1455,366 1457,507.5" fill="#3c3cff" stroke="#3c3cff" stroke-width="2.4" stroke-linejoin="round"/>
<polyline points="1472,507.5 1474,241.6 1476,507.5" fill="#3c3cff" stroke="#3c3cff" stroke-width="2.4" stroke-linejoin="round"/>
<polyline points="1613,507.5 1615,328.5 1617,507.5" fill="#3c3cff" stroke="#3c3cff" stroke-width="2.4" stroke-linejoin="round"/>
<polyline points="1622.4,507.5 1624.4,368 1626.4,507.5" fill="#3c3cff" stroke="#3c3cff" stroke-width="2.4" stroke-linejoin="round"/>
<polyline points="1684.5,507.5 1686.5,386.5 1688.5,507.5" fill="#3c3cff" stroke="#3c3cff" stroke-width="2.4" stroke-linejoin="round"/>
<polyline points="1883.7,507.5 1885.7,395 1887.7,507.5" fill="#3c3cff" stroke="#3c3cff" stroke-width="2.4" stroke-linejoin="round"/>
<line x1="1785.5" y1="493.6" x2="1827.4" y2="491.7" stroke="#3c3cff" stroke-width="2"/>
<polygon points="1153,440.1 1159,440.4 1165,440.6 1171,440.8 1177,441.1 1183,441.3 1189,441.6 1195,441.8 1201,442.0 1207,442.2 1213,442.4 1219,442.6 1225,442.8 1231,443.0 1237,443.2 1243,443.4 1249,443.6 1255,443.8 1261,444.0 1267,444.0 1273,444.0 1279,444.0 1285,444.0 1291,444.0 1297,444.0 1303,444.0 1309,444.0 1315,444.0 1321,444.0 1327,444.0 1333,443.4 1339,442.2 1345,441.0 1351,439.8 1357,438.6 1363,437.4 1369,436.2 1375,435.4 1381,434.7 1387,434.0 1393,433.2 1399,432.5 1405,431.8 1411,431.1 1417,430.4 1423,430.0 1429,430.0 1435,430.0 1441,430.0 1447,430.0 1453,430.0 1459,430.0 1465,430.0 1471,430.0 1477,430.0 1483,430.2 1489,430.7 1495,431.2 1501,431.7 1507,432.2 1513,432.6 1519,433.1 1525,433.6 1531,433.9 1537,433.6 1543,433.4 1549,433.1 1555,432.8 1561,432.4 1567,432.1 1573,432.0 1579,432.0 1585,432.0 1591,432.0 1597,432.0 1603,432.0 1609,432.0 1615,432.0 1621,432.0 1627,432.2 1633,432.4 1639,432.6 1645,432.8 1651,433.0 1657,433.2 1663,433.4 1669,433.6 1675,433.8 1681,434.1 1687,434.4 1693,434.6 1699,434.9 1705,435.2 1711,435.6 1717,435.9 1723,436.4 1729,437.2 1735,438.0 1741,438.8 1747,439.6 1753,440.2 1759,440.5 1765,440.8 1771,441.2 1777,441.5 1783,441.8 1783,441.8 1783,509.5 1153,509.5" fill="#363636"/>
<polygon points="1831,458.0 1837,458.0 1843,458.0 1849,458.0 1855,458.0 1861,457.7 1867,455.9 1873,454.1 1879,452.3 1885,452.2 1891,452.4 1897,452.7 1903,452.9 1909,453.2 1915,453.4 1921,453.6 1927,453.9 1933,453.8 1939,453.2 1945,452.8 1951,452.2 1957,451.8 1963,451.2 1969,450.8 1975,450.2 1975,450.2 1975,509.5 1831,509.5" fill="#363636"/>
<g fill="none" stroke-linecap="round" transform="matrix(1 0 0 1.018 0 -8.90)"><use href="#Lb0" stroke="#343434" stroke-width="12.6"/><use href="#Lb0" stroke="#000080" stroke-width="7.2"/></g>
<g fill="none" stroke-linecap="round" transform="matrix(1 0 0 1.018 0 -8.90)"><use href="#Lb1" stroke="#343434" stroke-width="12.6"/><use href="#Lb1" stroke="#000080" stroke-width="6.5"/></g>
<g fill="none" stroke-linecap="round" transform="matrix(1 0 0 1.018 0 -8.90)"><use href="#Lb2" stroke="#343434" stroke-width="12.6"/><use href="#Lb2" stroke="#000080" stroke-width="5.8"/></g>
<g fill="none" stroke-linecap="round" transform="matrix(1 0 0 1.018 0 -8.90)"><use href="#Lb3" stroke="#343434" stroke-width="12.6"/><use href="#Lb3" stroke="#000080" stroke-width="5.4"/></g>
<g fill="none" stroke-linecap="round" transform="matrix(1 0 0 1.018 0 -8.90)"><use href="#Lb4" stroke="#343434" stroke-width="12.6"/><use href="#Lb4" stroke="#000080" stroke-width="7.2"/></g>
<g fill="none" stroke-linecap="round" transform="matrix(1 0 0 1.018 0 -8.90)"><use href="#Lb5" stroke="#343434" stroke-width="12.6"/><use href="#Lb5" stroke="#000080" stroke-width="6.5"/></g>
<g fill="none" stroke-linecap="round" transform="matrix(1 0 0 1.018 0 -8.90)"><use href="#Lb6" stroke="#343434" stroke-width="12.6"/><use href="#Lb6" stroke="#000080" stroke-width="5.8"/></g>
<g fill="none" stroke-linecap="round" transform="matrix(1 0 0 1.018 0 -8.90)"><use href="#Lb7" stroke="#343434" stroke-width="12.6"/><use href="#Lb7" stroke="#000080" stroke-width="5.4"/></g>
<g fill="none" stroke-linecap="round" transform="matrix(1 0 0 1.018 0 -8.90)"><use href="#Lb8" stroke="#343434" stroke-width="12.6"/><use href="#Lb8" stroke="#000080" stroke-width="7.2"/></g>
<g fill="none" stroke-linecap="round" transform="matrix(1 0 0 1.018 0 -8.90)"><use href="#Lb9" stroke="#343434" stroke-width="12.6"/><use href="#Lb9" stroke="#000080" stroke-width="6.5"/></g>
<g fill="none" stroke-linecap="round" transform="matrix(1 0 0 1.018 0 -8.90)"><use href="#Lb10" stroke="#343434" stroke-width="12.6"/><use href="#Lb10" stroke="#000080" stroke-width="5.8"/></g>
<g fill="none" stroke-linecap="round" transform="matrix(1 0 0 1.018 0 -8.90)"><use href="#Lb11" stroke="#343434" stroke-width="12.6"/><use href="#Lb11" stroke="#000080" stroke-width="5.4"/></g>
<g fill="none" stroke-linecap="round" transform="matrix(1 0 0 1.018 0 -8.90)"><use href="#Lb12" stroke="#343434" stroke-width="12.6"/><use href="#Lb12" stroke="#000080" stroke-width="7.2"/></g>
<g fill="none" stroke-linecap="round" transform="matrix(1 0 0 1.018 0 -8.90)"><use href="#Lb13" stroke="#343434" stroke-width="12.6"/><use href="#Lb13" stroke="#000080" stroke-width="6.5"/></g>
<g fill="none" stroke-linecap="round" transform="matrix(1 0 0 1.018 0 -8.90)"><use href="#Lb14" stroke="#343434" stroke-width="12.6"/><use href="#Lb14" stroke="#000080" stroke-width="5.8"/></g>
<g fill="none" stroke-linecap="round" transform="matrix(1 0 0 1.018 0 -8.90)"><use href="#Lb15" stroke="#343434" stroke-width="12.6"/><use href="#Lb15" stroke="#000080" stroke-width="5.4"/></g>
<g fill="none" stroke-linecap="round" transform="matrix(1 0 0 1.018 0 -8.90)"><use href="#Lb16" stroke="#343434" stroke-width="12.6"/><use href="#Lb16" stroke="#000080" stroke-width="7.2"/></g>
<g fill="none" stroke-linecap="round" transform="matrix(1 0 0 1.018 0 -8.90)"><use href="#Lb17" stroke="#343434" stroke-width="12.6"/><use href="#Lb17" stroke="#000080" stroke-width="6.5"/></g>
<g fill="none" stroke-linecap="round" transform="matrix(1 0 0 1.018 0 -8.90)"><use href="#Lb18" stroke="#343434" stroke-width="12.6"/><use href="#Lb18" stroke="#000080" stroke-width="5.8"/></g>
<g fill="none" stroke-linecap="round" transform="matrix(1 0 0 1.018 0 -8.90)"><use href="#Lb19" stroke="#343434" stroke-width="12.6"/><use href="#Lb19" stroke="#000080" stroke-width="5.4"/></g>
<g fill="none" stroke-linecap="round" transform="matrix(1 0 0 1.018 0 -8.90)"><use href="#Lb20" stroke="#343434" stroke-width="12.6"/><use href="#Lb20" stroke="#000080" stroke-width="7.2"/></g>
<g fill="none" stroke-linecap="round" transform="matrix(1 0 0 1.018 0 -8.90)"><use href="#Lb21" stroke="#343434" stroke-width="12.6"/><use href="#Lb21" stroke="#000080" stroke-width="6.5"/></g>
<g fill="none" stroke-linecap="round" transform="matrix(1 0 0 1.018 0 -8.90)"><use href="#Lb22" stroke="#343434" stroke-width="12.6"/><use href="#Lb22" stroke="#000080" stroke-width="5.8"/></g>
<g fill="none" stroke-linecap="round" transform="matrix(1 0 0 1.018 0 -8.90)"><use href="#Lb23" stroke="#343434" stroke-width="12.6"/><use href="#Lb23" stroke="#000080" stroke-width="5.4"/></g>
<g fill="none" stroke-linecap="round" transform="matrix(1 0 0 1.018 0 -8.90)"><use href="#Lb24" stroke="#343434" stroke-width="12.6"/><use href="#Lb24" stroke="#000080" stroke-width="7.2"/></g>
<g fill="none" stroke-linecap="round" transform="matrix(1 0 0 1.018 0 -8.90)"><use href="#Lb25" stroke="#343434" stroke-width="12.6"/><use href="#Lb25" stroke="#000080" stroke-width="6.5"/></g>
<g fill="none" stroke-linecap="round" transform="matrix(1 0 0 1.018 0 -8.90)"><use href="#Lb26" stroke="#343434" stroke-width="12.6"/><use href="#Lb26" stroke="#000080" stroke-width="5.8"/></g>
<g fill="none" stroke-linecap="round" transform="matrix(1 0 0 1.018 0 -8.90)"><use href="#Lb27" stroke="#343434" stroke-width="12.6"/><use href="#Lb27" stroke="#000080" stroke-width="5.4"/></g>
<g fill="none" stroke-linecap="round" transform="matrix(1 0 0 1.018 0 -8.90)"><use href="#Lb28" stroke="#343434" stroke-width="12.6"/><use href="#Lb28" stroke="#000080" stroke-width="7.2"/></g>
<g fill="none" stroke-linecap="round" transform="matrix(1 0 0 1.018 0 -8.90)"><use href="#Lb29" stroke="#343434" stroke-width="12.6"/><use href="#Lb29" stroke="#000080" stroke-width="6.5"/></g>
<g fill="none" stroke-linecap="round" transform="matrix(1 0 0 1.018 0 -8.90)"><use href="#Lb30" stroke="#343434" stroke-width="12.6"/><use href="#Lb30" stroke="#000080" stroke-width="5.8"/></g>
<g fill="none" stroke-linecap="round" transform="matrix(1 0 0 1.018 0 -8.90)"><use href="#Lb31" stroke="#343434" stroke-width="12.6"/><use href="#Lb31" stroke="#000080" stroke-width="5.4"/></g>
<g fill="none" stroke-linecap="round" transform="matrix(1 0 0 1.018 0 -8.90)"><use href="#Lb32" stroke="#343434" stroke-width="12.6"/><use href="#Lb32" stroke="#000080" stroke-width="7.2"/></g>
<g fill="none" stroke-linecap="round" transform="matrix(1 0 0 1.018 0 -8.90)"><use href="#Lb33" stroke="#343434" stroke-width="12.6"/><use href="#Lb33" stroke="#000080" stroke-width="6.5"/></g>
<g fill="none" stroke-linecap="round" transform="matrix(1 0 0 1.018 0 -8.90)"><use href="#Lb34" stroke="#343434" stroke-width="12.6"/><use href="#Lb34" stroke="#000080" stroke-width="5.8"/></g>
<g fill="none" stroke-linecap="round" transform="matrix(1 0 0 1.018 0 -8.90)"><use href="#Lb35" stroke="#343434" stroke-width="12.6"/><use href="#Lb35" stroke="#000080" stroke-width="5.4"/></g>
<g fill="none" stroke-linecap="round" transform="matrix(1 0 0 1.018 0 -8.90)"><use href="#Lb36" stroke="#343434" stroke-width="12.6"/><use href="#Lb36" stroke="#000080" stroke-width="7.2"/></g>
<g fill="none" stroke-linecap="round" transform="matrix(1 0 0 1.018 0 -8.90)"><use href="#Lb37" stroke="#343434" stroke-width="12.6"/><use href="#Lb37" stroke="#000080" stroke-width="6.5"/></g>
<g fill="none" stroke-linecap="round" transform="matrix(1 0 0 1.018 0 -8.90)"><use href="#Lb38" stroke="#343434" stroke-width="12.6"/><use href="#Lb38" stroke="#000080" stroke-width="5.8"/></g>
<g fill="none" stroke-linecap="round" transform="matrix(1 0 0 1.018 0 -8.90)"><use href="#Lb39" stroke="#343434" stroke-width="12.6"/><use href="#Lb39" stroke="#000080" stroke-width="5.4"/></g>
<g fill="none" stroke-linecap="round" transform="matrix(1 0 0 1.018 0 -8.90)"><use href="#Lb40" stroke="#343434" stroke-width="12.6"/><use href="#Lb40" stroke="#000080" stroke-width="7.2"/></g>
<g fill="none" stroke-linecap="round" transform="matrix(1 0 0 1.018 0 -8.90)"><use href="#Lb41" stroke="#343434" stroke-width="12.6"/><use href="#Lb41" stroke="#000080" stroke-width="6.5"/></g>
<g fill="none" stroke-linecap="round" transform="matrix(1 0 0 1.018 0 -8.90)"><use href="#Lb42" stroke="#343434" stroke-width="12.6"/><use href="#Lb42" stroke="#000080" stroke-width="5.8"/></g>
<g fill="none" stroke-linecap="round" transform="matrix(1 0 0 1.018 0 -8.90)"><use href="#Lb43" stroke="#343434" stroke-width="12.6"/><use href="#Lb43" stroke="#000080" stroke-width="5.4"/></g>
<g fill="none" stroke-linecap="round" transform="matrix(1 0 0 1.018 0 -8.90)"><use href="#Lb44" stroke="#343434" stroke-width="12.6"/><use href="#Lb44" stroke="#000080" stroke-width="7.2"/></g>
<g fill="none" stroke-linecap="round" transform="matrix(1 0 0 1.018 0 -8.90)"><use href="#Lb45" stroke="#343434" stroke-width="12.6"/><use href="#Lb45" stroke="#000080" stroke-width="6.5"/></g>
<g fill="none" stroke-linecap="round" transform="matrix(1 0 0 1.018 0 -8.90)"><use href="#Lb46" stroke="#343434" stroke-width="12.6"/><use href="#Lb46" stroke="#000080" stroke-width="5.8"/></g>
<g fill="none" stroke-linecap="round" transform="matrix(1 0 0 1.018 0 -8.90)"><use href="#Lb47" stroke="#343434" stroke-width="12.6"/><use href="#Lb47" stroke="#000080" stroke-width="5.4"/></g>
<g fill="none" stroke-linecap="round" transform="matrix(1 0 0 1.018 0 -8.90)"><use href="#Lb48" stroke="#343434" stroke-width="12.6"/><use href="#Lb48" stroke="#000080" stroke-width="8.2"/></g>
<g fill="none" stroke-linecap="round" transform="matrix(1 0 0 1.018 0 -8.90)"><use href="#Lb49" stroke="#343434" stroke-width="12.6"/><use href="#Lb49" stroke="#000080" stroke-width="8.2"/></g>
<g fill="none" stroke-linecap="round" transform="matrix(1 0 0 1.018 0 -8.90)"><use href="#Lb50" stroke="#343434" stroke-width="12.6"/><use href="#Lb50" stroke="#000080" stroke-width="10.4"/></g>
<g fill="none" stroke-linecap="round" transform="matrix(1 0 0 1.018 0 -8.90)"><use href="#Lb51" stroke="#343434" stroke-width="12.6"/><use href="#Lb51" stroke="#000080" stroke-width="10.4"/></g>
<g fill="none" stroke-linecap="round" transform="matrix(1 0 0 1.018 0 -8.90)"><use href="#Lb52" stroke="#343434" stroke-width="12.6"/><use href="#Lb52" stroke="#000080" stroke-width="10.4"/></g>
<g fill="none" stroke-linecap="round" transform="matrix(1 0 0 1.018 0 -8.90)"><use href="#Lb53" stroke="#343434" stroke-width="12.6"/><use href="#Lb53" stroke="#000080" stroke-width="10.4"/></g>
<g fill="#000080" stroke="#222" stroke-width="1">
<ellipse cx="1164.2" cy="344.1" rx="5.7" ry="5.8"/><ellipse cx="1154.8" cy="363.1" rx="5.7" ry="5.8"/><ellipse cx="1159.2" cy="369.0" rx="5.7" ry="5.8"/><ellipse cx="1166.5" cy="371.9" rx="5.7" ry="5.8"/><ellipse cx="1170.9" cy="369.0" rx="5.7" ry="5.8"/><ellipse cx="1177.6" cy="370.4" rx="5.7" ry="5.8"/><ellipse cx="1163.6" cy="385.1" rx="5.7" ry="5.8"/><ellipse cx="1169.4" cy="386.5" rx="5.7" ry="5.8"/><ellipse cx="1187.0" cy="388.0" rx="5.7" ry="5.8"/><ellipse cx="1189.9" cy="385.1" rx="5.7" ry="5.8"/><ellipse cx="1197.3" cy="382.2" rx="5.7" ry="5.8"/><ellipse cx="1201.7" cy="377.8" rx="5.7" ry="5.8"/><ellipse cx="1175.3" cy="395.3" rx="5.7" ry="5.8"/><ellipse cx="1182.6" cy="396.8" rx="5.7" ry="5.8"/><ellipse cx="1194.3" cy="393.9" rx="5.7" ry="5.8"/><ellipse cx="1206.0" cy="393.9" rx="5.7" ry="5.8"/><ellipse cx="1154.8" cy="402.7" rx="5.7" ry="5.8"/><ellipse cx="1165.0" cy="405.6" rx="5.7" ry="5.8"/><ellipse cx="1175.3" cy="405.6" rx="5.7" ry="5.8"/><ellipse cx="1187.0" cy="410.0" rx="5.7" ry="5.8"/><ellipse cx="1189.9" cy="404.1" rx="5.7" ry="5.8"/><ellipse cx="1214.0" cy="401.8" rx="5.7" ry="5.8"/><ellipse cx="1235.3" cy="369.9" rx="5.7" ry="5.8"/><ellipse cx="1252.9" cy="399.1" rx="5.7" ry="5.8"/><ellipse cx="1266.1" cy="395.9" rx="5.7" ry="5.8"/><ellipse cx="1261.7" cy="411.4" rx="5.7" ry="5.8"/><ellipse cx="1273.4" cy="410.0" rx="5.7" ry="5.8"/><ellipse cx="1276.3" cy="385.1" rx="5.7" ry="5.8"/><ellipse cx="1277.8" cy="395.3" rx="5.7" ry="5.8"/><ellipse cx="1279.3" cy="401.2" rx="5.7" ry="5.8"/><ellipse cx="1293.9" cy="374.8" rx="5.7" ry="5.8"/><ellipse cx="1293.9" cy="384.2" rx="5.7" ry="5.8"/><ellipse cx="1286.6" cy="418.8" rx="5.7" ry="5.8"/><ellipse cx="1296.8" cy="415.8" rx="5.7" ry="5.8"/><ellipse cx="1296.8" cy="421.7" rx="5.7" ry="5.8"/><ellipse cx="1307.1" cy="410.0" rx="5.7" ry="5.8"/><ellipse cx="1282.2" cy="426.1" rx="5.7" ry="5.8"/><ellipse cx="1329.9" cy="379.2" rx="5.7" ry="5.8"/><ellipse cx="1328.2" cy="387.1" rx="5.7" ry="5.8"/><ellipse cx="1496.0" cy="185.0" rx="5.7" ry="5.8"/><ellipse cx="1491.0" cy="199.1" rx="5.7" ry="5.8"/><ellipse cx="1492.5" cy="203.5" rx="5.7" ry="5.8"/><ellipse cx="1420.2" cy="275.2" rx="5.7" ry="5.8"/><ellipse cx="1494.0" cy="245.4" rx="5.7" ry="5.8"/><ellipse cx="1478.5" cy="249.5" rx="5.7" ry="5.8"/><ellipse cx="1475.5" cy="258.3" rx="5.7" ry="5.8"/><ellipse cx="1484.3" cy="278.2" rx="5.7" ry="5.8"/><ellipse cx="1487.2" cy="288.4" rx="5.7" ry="5.8"/><ellipse cx="1483.7" cy="300.7" rx="5.7" ry="5.8"/><ellipse cx="1496.6" cy="302.2" rx="5.7" ry="5.8"/><ellipse cx="1474.9" cy="315.4" rx="5.7" ry="5.8"/><ellipse cx="1412.5" cy="335.3" rx="5.7" ry="5.8"/><ellipse cx="1419.9" cy="338.2" rx="5.7" ry="5.8"/><ellipse cx="1413.1" cy="351.4" rx="5.7" ry="5.8"/><ellipse cx="1412.0" cy="375.4" rx="5.7" ry="5.8"/><ellipse cx="1423.7" cy="380.7" rx="5.7" ry="5.8"/><ellipse cx="1419.9" cy="387.1" rx="5.7" ry="5.8"/><ellipse cx="1460.0" cy="345.5" rx="5.7" ry="5.8"/><ellipse cx="1468.8" cy="349.9" rx="5.7" ry="5.8"/><ellipse cx="1465.9" cy="360.2" rx="5.7" ry="5.8"/><ellipse cx="1463.8" cy="357.3" rx="5.7" ry="5.8"/><ellipse cx="1455.0" cy="375.4" rx="5.7" ry="5.8"/><ellipse cx="1464.7" cy="379.2" rx="5.7" ry="5.8"/><ellipse cx="1443.3" cy="385.1" rx="5.7" ry="5.8"/><ellipse cx="1447.7" cy="387.1" rx="5.7" ry="5.8"/><ellipse cx="1477.6" cy="368.4" rx="5.7" ry="5.8"/><ellipse cx="1485.8" cy="372.5" rx="5.7" ry="5.8"/><ellipse cx="1490.2" cy="366.0" rx="5.7" ry="5.8"/><ellipse cx="1481.4" cy="389.5" rx="5.7" ry="5.8"/><ellipse cx="1492.2" cy="391.8" rx="5.7" ry="5.8"/><ellipse cx="1455.0" cy="404.7" rx="5.7" ry="5.8"/><ellipse cx="1441.8" cy="402.7" rx="5.7" ry="5.8"/><ellipse cx="1441.8" cy="405.6" rx="5.7" ry="5.8"/><ellipse cx="1429.5" cy="402.7" rx="5.7" ry="5.8"/><ellipse cx="1438.9" cy="418.8" rx="5.7" ry="5.8"/><ellipse cx="1427.2" cy="418.2" rx="5.7" ry="5.8"/><ellipse cx="1456.5" cy="420.2" rx="5.7" ry="5.8"/><ellipse cx="1393.5" cy="395.9" rx="5.7" ry="5.8"/><ellipse cx="1394.4" cy="402.7" rx="5.7" ry="5.8"/><ellipse cx="1403.8" cy="408.5" rx="5.7" ry="5.8"/><ellipse cx="1411.1" cy="404.1" rx="5.7" ry="5.8"/><ellipse cx="1416.9" cy="412.9" rx="5.7" ry="5.8"/><ellipse cx="1542.9" cy="371.3" rx="5.7" ry="5.8"/><ellipse cx="1543.8" cy="388.9" rx="5.7" ry="5.8"/><ellipse cx="1560.5" cy="354.9" rx="5.7" ry="5.8"/><ellipse cx="1564.9" cy="370.4" rx="5.7" ry="5.8"/><ellipse cx="1513.6" cy="404.7" rx="5.7" ry="5.8"/><ellipse cx="1544.4" cy="404.1" rx="5.7" ry="5.8"/><ellipse cx="1564.9" cy="395.3" rx="5.7" ry="5.8"/><ellipse cx="1477.0" cy="401.2" rx="5.7" ry="5.8"/><ellipse cx="1479.9" cy="404.1" rx="5.7" ry="5.8"/><ellipse cx="1469.7" cy="402.7" rx="5.7" ry="5.8"/><ellipse cx="1491.6" cy="415.8" rx="5.7" ry="5.8"/><ellipse cx="1494.6" cy="427.6" rx="5.7" ry="5.8"/><ellipse cx="1515.1" cy="420.2" rx="5.7" ry="5.8"/><ellipse cx="1510.7" cy="423.2" rx="5.7" ry="5.8"/><ellipse cx="1375.9" cy="424.6" rx="5.7" ry="5.8"/><ellipse cx="1389.1" cy="427.6" rx="5.7" ry="5.8"/><ellipse cx="1495.9" cy="185.2" rx="5.7" ry="5.8"/><ellipse cx="1492.6" cy="202.7" rx="5.7" ry="5.8"/><ellipse cx="1492.6" cy="198.0" rx="5.7" ry="5.8"/><ellipse cx="1596.6" cy="230.7" rx="5.7" ry="5.8"/><ellipse cx="1602.5" cy="292.2" rx="5.7" ry="5.8"/><ellipse cx="1608.3" cy="289.9" rx="5.7" ry="5.8"/><ellipse cx="1609.8" cy="298.7" rx="5.7" ry="5.8"/><ellipse cx="1604.5" cy="311.9" rx="5.7" ry="5.8"/><ellipse cx="1569.4" cy="310.4" rx="5.7" ry="5.8"/><ellipse cx="1570.3" cy="327.4" rx="5.7" ry="5.8"/><ellipse cx="1582.0" cy="323.6" rx="5.7" ry="5.8"/><ellipse cx="1583.4" cy="330.9" rx="5.7" ry="5.8"/><ellipse cx="1589.3" cy="329.4" rx="5.7" ry="5.8"/><ellipse cx="1594.6" cy="327.4" rx="5.7" ry="5.8"/><ellipse cx="1592.2" cy="338.2" rx="5.7" ry="5.8"/><ellipse cx="1586.4" cy="342.6" rx="5.7" ry="5.8"/><ellipse cx="1562.3" cy="354.3" rx="5.7" ry="5.8"/><ellipse cx="1565.9" cy="369.0" rx="5.7" ry="5.8"/><ellipse cx="1572.3" cy="370.4" rx="5.7" ry="5.8"/><ellipse cx="1608.3" cy="344.1" rx="5.7" ry="5.8"/><ellipse cx="1609.8" cy="349.9" rx="5.7" ry="5.8"/><ellipse cx="1607.5" cy="355.8" rx="5.7" ry="5.8"/><ellipse cx="1606.9" cy="361.7" rx="5.7" ry="5.8"/><ellipse cx="1606.3" cy="373.4" rx="5.7" ry="5.8"/><ellipse cx="1623.9" cy="345.5" rx="5.7" ry="5.8"/><ellipse cx="1625.9" cy="357.3" rx="5.7" ry="5.8"/><ellipse cx="1625.0" cy="392.4" rx="5.7" ry="5.8"/><ellipse cx="1603.4" cy="397.7" rx="5.7" ry="5.8"/><ellipse cx="1666.9" cy="329.4" rx="5.7" ry="5.8"/><ellipse cx="1654.3" cy="350.8" rx="5.7" ry="5.8"/><ellipse cx="1653.7" cy="371.3" rx="5.7" ry="5.8"/><ellipse cx="1652.3" cy="396.8" rx="5.7" ry="5.8"/><ellipse cx="1639.1" cy="405.6" rx="5.7" ry="5.8"/><ellipse cx="1658.1" cy="405.6" rx="5.7" ry="5.8"/><ellipse cx="1652.3" cy="411.4" rx="5.7" ry="5.8"/><ellipse cx="1666.9" cy="415.8" rx="5.7" ry="5.8"/><ellipse cx="1665.4" cy="429.0" rx="5.7" ry="5.8"/><ellipse cx="1646.4" cy="426.1" rx="5.7" ry="5.8"/><ellipse cx="1630.3" cy="412.9" rx="5.7" ry="5.8"/><ellipse cx="1614.2" cy="412.9" rx="5.7" ry="5.8"/><ellipse cx="1688.9" cy="361.7" rx="5.7" ry="5.8"/><ellipse cx="1693.3" cy="366.0" rx="5.7" ry="5.8"/><ellipse cx="1684.5" cy="379.2" rx="5.7" ry="5.8"/><ellipse cx="1693.3" cy="377.8" rx="5.7" ry="5.8"/><ellipse cx="1696.2" cy="383.6" rx="5.7" ry="5.8"/><ellipse cx="1691.2" cy="392.4" rx="5.7" ry="5.8"/><ellipse cx="1692.4" cy="399.7" rx="5.7" ry="5.8"/><ellipse cx="1706.5" cy="389.5" rx="5.7" ry="5.8"/><ellipse cx="1710.8" cy="393.9" rx="5.7" ry="5.8"/><ellipse cx="1713.8" cy="352.9" rx="5.7" ry="5.8"/><ellipse cx="1712.3" cy="363.7" rx="5.7" ry="5.8"/><ellipse cx="1710.0" cy="367.5" rx="5.7" ry="5.8"/><ellipse cx="1730.8" cy="352.9" rx="5.7" ry="5.8"/><ellipse cx="1760.6" cy="354.3" rx="5.7" ry="5.8"/><ellipse cx="1773.2" cy="320.1" rx="5.7" ry="5.8"/><ellipse cx="1779.1" cy="306.9" rx="5.7" ry="5.8"/><ellipse cx="1775.3" cy="341.1" rx="5.7" ry="5.8"/><ellipse cx="1778.2" cy="360.2" rx="5.7" ry="5.8"/><ellipse cx="1778.2" cy="366.0" rx="5.7" ry="5.8"/><ellipse cx="1776.8" cy="370.4" rx="5.7" ry="5.8"/><ellipse cx="1770.9" cy="363.1" rx="5.7" ry="5.8"/><ellipse cx="1752.7" cy="376.3" rx="5.7" ry="5.8"/><ellipse cx="1761.5" cy="385.1" rx="5.7" ry="5.8"/><ellipse cx="1769.4" cy="382.2" rx="5.7" ry="5.8"/><ellipse cx="1741.0" cy="386.5" rx="5.7" ry="5.8"/><ellipse cx="1744.5" cy="392.4" rx="5.7" ry="5.8"/><ellipse cx="1751.9" cy="390.9" rx="5.7" ry="5.8"/><ellipse cx="1772.4" cy="392.4" rx="5.7" ry="5.8"/><ellipse cx="1769.4" cy="402.7" rx="5.7" ry="5.8"/><ellipse cx="1772.4" cy="408.5" rx="5.7" ry="5.8"/><ellipse cx="1748.9" cy="404.1" rx="5.7" ry="5.8"/><ellipse cx="1724.0" cy="402.7" rx="5.7" ry="5.8"/><ellipse cx="1732.8" cy="405.6" rx="5.7" ry="5.8"/><ellipse cx="1735.7" cy="411.4" rx="5.7" ry="5.8"/><ellipse cx="1712.3" cy="412.9" rx="5.7" ry="5.8"/><ellipse cx="1700.6" cy="408.5" rx="5.7" ry="5.8"/><ellipse cx="1688.9" cy="424.6" rx="5.7" ry="5.8"/><ellipse cx="1680.1" cy="423.2" rx="5.7" ry="5.8"/><ellipse cx="1666.9" cy="442.2" rx="5.7" ry="5.8"/><ellipse cx="1568.8" cy="392.4" rx="5.7" ry="5.8"/><ellipse cx="1580.5" cy="396.8" rx="5.7" ry="5.8"/><ellipse cx="1589.3" cy="402.7" rx="5.7" ry="5.8"/><ellipse cx="1565.9" cy="401.2" rx="5.7" ry="5.8"/><ellipse cx="1573.2" cy="405.6" rx="5.7" ry="5.8"/><ellipse cx="1577.6" cy="411.4" rx="5.7" ry="5.8"/><ellipse cx="1571.7" cy="418.8" rx="5.7" ry="5.8"/><ellipse cx="1562.9" cy="418.8" rx="5.7" ry="5.8"/><ellipse cx="1583.4" cy="415.8" rx="5.7" ry="5.8"/><ellipse cx="1589.3" cy="427.6" rx="5.7" ry="5.8"/><ellipse cx="1596.6" cy="436.3" rx="5.7" ry="5.8"/><ellipse cx="1571.7" cy="442.2" rx="5.7" ry="5.8"/><ellipse cx="1945.2" cy="319.8" rx="5.7" ry="5.8"/><ellipse cx="1928.5" cy="335.9" rx="5.7" ry="5.8"/><ellipse cx="1906.2" cy="361.9" rx="5.7" ry="5.8"/><ellipse cx="1954.8" cy="362.5" rx="5.7" ry="5.8"/><ellipse cx="1970.1" cy="355.2" rx="5.7" ry="5.8"/><ellipse cx="1848.5" cy="380.7" rx="5.7" ry="5.8"/><ellipse cx="1856.4" cy="375.4" rx="5.7" ry="5.8"/><ellipse cx="1851.4" cy="371.9" rx="5.7" ry="5.8"/><ellipse cx="1890.4" cy="379.2" rx="5.7" ry="5.8"/><ellipse cx="1896.8" cy="383.6" rx="5.7" ry="5.8"/><ellipse cx="1901.2" cy="377.8" rx="5.7" ry="5.8"/><ellipse cx="1899.8" cy="388.0" rx="5.7" ry="5.8"/><ellipse cx="1885.1" cy="390.9" rx="5.7" ry="5.8"/><ellipse cx="1893.9" cy="392.4" rx="5.7" ry="5.8"/><ellipse cx="1911.5" cy="389.5" rx="5.7" ry="5.8"/><ellipse cx="1911.5" cy="395.3" rx="5.7" ry="5.8"/><ellipse cx="1921.7" cy="406.5" rx="5.7" ry="5.8"/><ellipse cx="1943.7" cy="408.5" rx="5.7" ry="5.8"/><ellipse cx="1952.5" cy="389.5" rx="5.7" ry="5.8"/><ellipse cx="1961.3" cy="387.1" rx="5.7" ry="5.8"/><ellipse cx="1958.4" cy="395.3" rx="5.7" ry="5.8"/><ellipse cx="1973.0" cy="377.8" rx="5.7" ry="5.8"/><ellipse cx="1970.1" cy="386.5" rx="5.7" ry="5.8"/><ellipse cx="1973.0" cy="399.7" rx="5.7" ry="5.8"/><ellipse cx="1959.8" cy="402.7" rx="5.7" ry="5.8"/><ellipse cx="1964.2" cy="410.0" rx="5.7" ry="5.8"/><ellipse cx="1841.2" cy="402.7" rx="5.7" ry="5.8"/><ellipse cx="1852.9" cy="405.6" rx="5.7" ry="5.8"/><ellipse cx="1857.3" cy="412.9" rx="5.7" ry="5.8"/><ellipse cx="1836.8" cy="412.9" rx="5.7" ry="5.8"/><ellipse cx="1832.4" cy="418.8" rx="5.7" ry="5.8"/><ellipse cx="1832.4" cy="430.5" rx="5.7" ry="5.8"/><ellipse cx="1842.7" cy="429.0" rx="5.7" ry="5.8"/><ellipse cx="1850.0" cy="427.6" rx="5.7" ry="5.8"/><ellipse cx="1866.1" cy="421.7" rx="5.7" ry="5.8"/><ellipse cx="1873.4" cy="424.6" rx="5.7" ry="5.8"/><ellipse cx="1880.7" cy="420.2" rx="5.7" ry="5.8"/><ellipse cx="1891.0" cy="410.0" rx="5.7" ry="5.8"/><ellipse cx="1901.2" cy="405.6" rx="5.7" ry="5.8"/><ellipse cx="1907.1" cy="405.6" rx="5.7" ry="5.8"/><ellipse cx="1920.3" cy="421.7" rx="5.7" ry="5.8"/><ellipse cx="1910.0" cy="418.8" rx="5.7" ry="5.8"/><ellipse cx="1902.7" cy="430.5" rx="5.7" ry="5.8"/><ellipse cx="1967.1" cy="426.1" rx="5.7" ry="5.8"/><ellipse cx="1946.6" cy="424.6" rx="5.7" ry="5.8"/>
</g>
<g fill="#aaaaaa" stroke="#555" stroke-width="1">
<ellipse cx="1190.8" cy="371.3" rx="5.7" ry="5.8"/><ellipse cx="1222.2" cy="392.4" rx="5.7" ry="5.8"/><ellipse cx="1204.6" cy="404.7" rx="5.7" ry="5.8"/><ellipse cx="1157.7" cy="410.0" rx="5.7" ry="5.8"/><ellipse cx="1189.9" cy="419.4" rx="5.7" ry="5.8"/><ellipse cx="1250.0" cy="426.1" rx="5.7" ry="5.8"/><ellipse cx="1296.0" cy="393.9" rx="5.7" ry="5.8"/><ellipse cx="1331.1" cy="411.4" rx="5.7" ry="5.8"/><ellipse cx="1333.5" cy="417.3" rx="5.7" ry="5.8"/><ellipse cx="1365.7" cy="418.8" rx="5.7" ry="5.8"/><ellipse cx="1371.5" cy="418.8" rx="5.7" ry="5.8"/><ellipse cx="1378.3" cy="404.1" rx="5.7" ry="5.8"/><ellipse cx="1418.4" cy="327.4" rx="5.7" ry="5.8"/><ellipse cx="1418.4" cy="347.0" rx="5.7" ry="5.8"/><ellipse cx="1475.5" cy="230.7" rx="5.7" ry="5.8"/><ellipse cx="1525.3" cy="271.7" rx="5.7" ry="5.8"/><ellipse cx="1492.2" cy="410.0" rx="5.7" ry="5.8"/><ellipse cx="1501.9" cy="412.9" rx="5.7" ry="5.8"/><ellipse cx="1564.9" cy="339.7" rx="5.7" ry="5.8"/><ellipse cx="1565.9" cy="339.1" rx="5.7" ry="5.8"/><ellipse cx="1578.2" cy="354.3" rx="5.7" ry="5.8"/><ellipse cx="1595.7" cy="320.6" rx="5.7" ry="5.8"/><ellipse cx="1585.8" cy="389.5" rx="5.7" ry="5.8"/><ellipse cx="1605.4" cy="412.9" rx="5.7" ry="5.8"/><ellipse cx="1571.1" cy="432.0" rx="5.7" ry="5.8"/><ellipse cx="1633.8" cy="433.4" rx="5.7" ry="5.8"/><ellipse cx="1630.9" cy="379.2" rx="5.7" ry="5.8"/><ellipse cx="1653.7" cy="342.0" rx="5.7" ry="5.8"/><ellipse cx="1665.4" cy="349.9" rx="5.7" ry="5.8"/><ellipse cx="1659.0" cy="365.5" rx="5.7" ry="5.8"/><ellipse cx="1647.9" cy="401.2" rx="5.7" ry="5.8"/><ellipse cx="1643.5" cy="417.3" rx="5.7" ry="5.8"/><ellipse cx="1718.2" cy="316.8" rx="5.7" ry="5.8"/><ellipse cx="1768.6" cy="346.4" rx="5.7" ry="5.8"/><ellipse cx="1778.2" cy="386.5" rx="5.7" ry="5.8"/><ellipse cx="1707.9" cy="386.5" rx="5.7" ry="5.8"/><ellipse cx="1888.9" cy="353.5" rx="5.7" ry="5.8"/><ellipse cx="1852.0" cy="366.9" rx="5.7" ry="5.8"/><ellipse cx="1913.0" cy="381.6" rx="5.7" ry="5.8"/><ellipse cx="1933.5" cy="393.0" rx="5.7" ry="5.8"/>
</g>
<g fill="#87ceeb" stroke="#222" stroke-width="1">
<ellipse cx="1477.6" cy="279.1" rx="5.7" ry="5.8"/><ellipse cx="1513.6" cy="370.4" rx="5.7" ry="5.8"/><ellipse cx="1523.9" cy="396.8" rx="5.7" ry="5.8"/><ellipse cx="1532.6" cy="398.3" rx="5.7" ry="5.8"/><ellipse cx="1526.8" cy="402.7" rx="5.7" ry="5.8"/><ellipse cx="1535.6" cy="403.5" rx="5.7" ry="5.8"/><ellipse cx="1530.3" cy="405.6" rx="5.7" ry="5.8"/>
</g>
<g fill="#00ff00" stroke="#222" stroke-width="1">
<ellipse cx="1521.5" cy="202.0" rx="5.7" ry="5.8"/><ellipse cx="1523.3" cy="229.8" rx="5.7" ry="5.8"/><ellipse cx="1519.5" cy="227.8" rx="5.7" ry="5.8"/><ellipse cx="1512.1" cy="235.7" rx="5.7" ry="5.8"/><ellipse cx="1510.7" cy="240.7" rx="5.7" ry="5.8"/><ellipse cx="1502.8" cy="251.8" rx="5.7" ry="5.8"/><ellipse cx="1518.0" cy="278.2" rx="5.7" ry="5.8"/><ellipse cx="1521.3" cy="201.6" rx="5.7" ry="5.8"/>
</g>
<g fill="#ffa500" stroke="#222" stroke-width="1">
<ellipse cx="1523.0" cy="236.6" rx="5.7" ry="5.8"/><ellipse cx="1529.7" cy="256.2" rx="5.7" ry="5.8"/><ellipse cx="1534.1" cy="257.1" rx="5.7" ry="5.8"/><ellipse cx="1554.4" cy="191.4" rx="5.7" ry="5.8"/><ellipse cx="1554.4" cy="197.2" rx="5.7" ry="5.8"/><ellipse cx="1566.9" cy="204.9" rx="5.7" ry="5.8"/><ellipse cx="1554.1" cy="211.5" rx="5.7" ry="5.8"/>
</g>
<g fill="#ff0000" stroke="#222" stroke-width="1">
<ellipse cx="1549.9" cy="172.3" rx="5.7" ry="5.8"/><ellipse cx="1567.6" cy="192.8" rx="5.7" ry="5.8"/>
</g>
<polygon points="1556.7,154.8 1563.9,148.4 1571.1000000000001,154.8 1563.9,161.20000000000002" fill="#8224e3" stroke="#222" stroke-width="1"/>
</g>
<text x="1563.9" y="143.8" text-anchor="middle" font-size="17" fill="#222">rs6704760</text>
<clipPath id="clc"><rect x="115.0" y="761.5999999999999" width="839.6999999999999" height="435.1"/></clipPath>
<g clip-path="url(#clc)">
<polyline points="169,1177.6 171,1039.6 173,1177.6" fill="#3c3cff" stroke="#3c3cff" stroke-width="2.4" stroke-linejoin="round"/>
<polyline points="201,1177.6 203,891 205,1177.6" fill="#3c3cff" stroke="#3c3cff" stroke-width="2.4" stroke-linejoin="round"/>
<polyline points="449.6,1177.6 451.6,1084.5 453.6,1177.6" fill="#3c3cff" stroke="#3c3cff" stroke-width="2.4" stroke-linejoin="round"/>
<polyline points="829.1,1177.6 831.1,952.5 833.1,1177.6" fill="#3c3cff" stroke="#3c3cff" stroke-width="2.4" stroke-linejoin="round"/>
<polyline points="871.4,1177.6 873.4,1102 875.4,1177.6" fill="#3c3cff" stroke="#3c3cff" stroke-width="2.4" stroke-linejoin="round"/>
<polygon points="117,1123.9 123,1123.8 129,1123.7 135,1123.5 141,1123.4 147,1123.2 153,1123.1 159,1123.0 165,1122.8 171,1122.7 177,1122.5 183,1122.4 189,1122.3 195,1122.1 201,1122.0 207,1122.1 213,1122.3 219,1122.4 225,1122.5 231,1122.6 237,1122.7 243,1122.9 249,1123.0 255,1123.1 261,1123.2 267,1123.3 273,1123.5 279,1123.6 285,1123.7 291,1123.8 297,1123.9 303,1123.8 309,1123.4 315,1123.0 321,1122.6 327,1122.2 333,1121.8 339,1121.4 345,1121.0 351,1120.6 357,1120.2 363,1119.9 369,1119.7 375,1119.5 381,1119.3 387,1119.1 393,1118.9 399,1118.7 405,1118.5 411,1118.3 417,1118.1 423,1118.3 429,1118.9 435,1119.5 441,1120.1 447,1120.7 453,1121.3 459,1121.9 465,1122.4 471,1122.9 477,1123.5 483,1124.0 489,1124.5 495,1125.0 501,1125.5 507,1126.0 513,1126.5 519,1127.1 525,1127.6 531,1128.0 537,1128.2 543,1128.4 549,1128.5 555,1128.7 561,1128.9 567,1129.1 573,1129.2 579,1129.4 585,1129.6 591,1129.7 597,1129.9 603,1130.1 609,1130.3 615,1130.5 621,1130.7 627,1130.9 633,1131.1 639,1131.3 645,1131.5 651,1131.7 657,1131.9 663,1132.5 669,1133.3 675,1134.2 681,1135.2 687,1136.0 693,1137.0 699,1137.8 705,1138.3 711,1138.7 717,1139.1 723,1139.5 729,1139.9 735,1140.3 741,1140.7 747,1141.1 753,1141.5 759,1141.9 765,1142.0 771,1142.0 777,1142.0 783,1142.0 789,1142.0 795,1142.0 801,1141.9 807,1141.5 813,1141.1 819,1140.7 825,1140.3 831,1139.9 837,1139.5 843,1139.1 849,1138.7 855,1138.3 861,1138.0 867,1137.7 873,1137.5 879,1137.2 885,1137.0 891,1136.7 897,1136.5 903,1136.2 909,1136.0 915,1135.7 921,1135.5 927,1135.2 933,1135.0 939,1134.7 945,1134.5 951,1134.2 953,1134.1 953,1179.6 117,1179.6" fill="#363636"/>
<g fill="none" stroke-linecap="round" transform="matrix(1 0 0 0.881 0 139.72)"><use href="#Lc0" stroke="#343434" stroke-width="13.0"/><use href="#Lc0" stroke="#000080" stroke-width="7.6"/></g>
<g fill="none" stroke-linecap="round" transform="matrix(1 0 0 0.881 0 139.72)"><use href="#Lc1" stroke="#343434" stroke-width="13.0"/><use href="#Lc1" stroke="#000080" stroke-width="6.9"/></g>
<g fill="none" stroke-linecap="round" transform="matrix(1 0 0 0.881 0 139.72)"><use href="#Lc2" stroke="#343434" stroke-width="13.0"/><use href="#Lc2" stroke="#000080" stroke-width="6.2"/></g>
<g fill="none" stroke-linecap="round" transform="matrix(1 0 0 0.881 0 139.72)"><use href="#Lc3" stroke="#343434" stroke-width="13.0"/><use href="#Lc3" stroke="#000080" stroke-width="5.8"/></g>
<g fill="none" stroke-linecap="round" transform="matrix(1 0 0 0.881 0 139.72)"><use href="#Lc4" stroke="#343434" stroke-width="13.0"/><use href="#Lc4" stroke="#000080" stroke-width="7.6"/></g>
<g fill="none" stroke-linecap="round" transform="matrix(1 0 0 0.881 0 139.72)"><use href="#Lc5" stroke="#343434" stroke-width="13.0"/><use href="#Lc5" stroke="#000080" stroke-width="6.9"/></g>
<g fill="none" stroke-linecap="round" transform="matrix(1 0 0 0.881 0 139.72)"><use href="#Lc6" stroke="#343434" stroke-width="13.0"/><use href="#Lc6" stroke="#000080" stroke-width="6.2"/></g>
<g fill="none" stroke-linecap="round" transform="matrix(1 0 0 0.881 0 139.72)"><use href="#Lc7" stroke="#343434" stroke-width="13.0"/><use href="#Lc7" stroke="#000080" stroke-width="5.8"/></g>
<g fill="none" stroke-linecap="round" transform="matrix(1 0 0 0.881 0 139.72)"><use href="#Lc8" stroke="#343434" stroke-width="13.0"/><use href="#Lc8" stroke="#000080" stroke-width="7.6"/></g>
<g fill="none" stroke-linecap="round" transform="matrix(1 0 0 0.881 0 139.72)"><use href="#Lc9" stroke="#343434" stroke-width="13.0"/><use href="#Lc9" stroke="#000080" stroke-width="6.9"/></g>
<g fill="none" stroke-linecap="round" transform="matrix(1 0 0 0.881 0 139.72)"><use href="#Lc10" stroke="#343434" stroke-width="13.0"/><use href="#Lc10" stroke="#000080" stroke-width="6.2"/></g>
<g fill="none" stroke-linecap="round" transform="matrix(1 0 0 0.881 0 139.72)"><use href="#Lc11" stroke="#343434" stroke-width="13.0"/><use href="#Lc11" stroke="#000080" stroke-width="5.8"/></g>
<g fill="none" stroke-linecap="round" transform="matrix(1 0 0 0.881 0 139.72)"><use href="#Lc12" stroke="#343434" stroke-width="13.0"/><use href="#Lc12" stroke="#000080" stroke-width="7.6"/></g>
<g fill="none" stroke-linecap="round" transform="matrix(1 0 0 0.881 0 139.72)"><use href="#Lc13" stroke="#343434" stroke-width="13.0"/><use href="#Lc13" stroke="#000080" stroke-width="6.9"/></g>
<g fill="none" stroke-linecap="round" transform="matrix(1 0 0 0.881 0 139.72)"><use href="#Lc14" stroke="#343434" stroke-width="13.0"/><use href="#Lc14" stroke="#000080" stroke-width="6.2"/></g>
<g fill="none" stroke-linecap="round" transform="matrix(1 0 0 0.881 0 139.72)"><use href="#Lc15" stroke="#343434" stroke-width="13.0"/><use href="#Lc15" stroke="#000080" stroke-width="5.8"/></g>
<g fill="none" stroke-linecap="round" transform="matrix(1 0 0 0.881 0 139.72)"><use href="#Lc16" stroke="#343434" stroke-width="13.0"/><use href="#Lc16" stroke="#000080" stroke-width="7.6"/></g>
<g fill="none" stroke-linecap="round" transform="matrix(1 0 0 0.881 0 139.72)"><use href="#Lc17" stroke="#343434" stroke-width="13.0"/><use href="#Lc17" stroke="#000080" stroke-width="6.9"/></g>
<g fill="none" stroke-linecap="round" transform="matrix(1 0 0 0.881 0 139.72)"><use href="#Lc18" stroke="#343434" stroke-width="13.0"/><use href="#Lc18" stroke="#000080" stroke-width="6.2"/></g>
<g fill="none" stroke-linecap="round" transform="matrix(1 0 0 0.881 0 139.72)"><use href="#Lc19" stroke="#343434" stroke-width="13.0"/><use href="#Lc19" stroke="#000080" stroke-width="5.8"/></g>
<g fill="none" stroke-linecap="round" transform="matrix(1 0 0 0.881 0 139.72)"><use href="#Lc20" stroke="#343434" stroke-width="13.0"/><use href="#Lc20" stroke="#000080" stroke-width="7.6"/></g>
<g fill="none" stroke-linecap="round" transform="matrix(1 0 0 0.881 0 139.72)"><use href="#Lc21" stroke="#343434" stroke-width="13.0"/><use href="#Lc21" stroke="#000080" stroke-width="6.9"/></g>
<g fill="none" stroke-linecap="round" transform="matrix(1 0 0 0.881 0 139.72)"><use href="#Lc22" stroke="#343434" stroke-width="13.0"/><use href="#Lc22" stroke="#000080" stroke-width="6.2"/></g>
<g fill="none" stroke-linecap="round" transform="matrix(1 0 0 0.881 0 139.72)"><use href="#Lc23" stroke="#343434" stroke-width="13.0"/><use href="#Lc23" stroke="#000080" stroke-width="5.8"/></g>
<g fill="none" stroke-linecap="round" transform="matrix(1 0 0 0.881 0 139.72)"><use href="#Lc24" stroke="#343434" stroke-width="13.0"/><use href="#Lc24" stroke="#000080" stroke-width="7.6"/></g>
<g fill="none" stroke-linecap="round" transform="matrix(1 0 0 0.881 0 139.72)"><use href="#Lc25" stroke="#343434" stroke-width="13.0"/><use href="#Lc25" stroke="#000080" stroke-width="6.9"/></g>
<g fill="none" stroke-linecap="round" transform="matrix(1 0 0 0.881 0 139.72)"><use href="#Lc26" stroke="#343434" stroke-width="13.0"/><use href="#Lc26" stroke="#000080" stroke-width="6.2"/></g>
<g fill="none" stroke-linecap="round" transform="matrix(1 0 0 0.881 0 139.72)"><use href="#Lc27" stroke="#343434" stroke-width="13.0"/><use href="#Lc27" stroke="#000080" stroke-width="5.8"/></g>
<g fill="none" stroke-linecap="round" transform="matrix(1 0 0 0.881 0 139.72)"><use href="#Lc28" stroke="#343434" stroke-width="13.0"/><use href="#Lc28" stroke="#000080" stroke-width="7.6"/></g>
<g fill="none" stroke-linecap="round" transform="matrix(1 0 0 0.881 0 139.72)"><use href="#Lc29" stroke="#343434" stroke-width="13.0"/><use href="#Lc29" stroke="#000080" stroke-width="6.9"/></g>
<g fill="none" stroke-linecap="round" transform="matrix(1 0 0 0.881 0 139.72)"><use href="#Lc30" stroke="#343434" stroke-width="13.0"/><use href="#Lc30" stroke="#000080" stroke-width="6.2"/></g>
<g fill="none" stroke-linecap="round" transform="matrix(1 0 0 0.881 0 139.72)"><use href="#Lc31" stroke="#343434" stroke-width="13.0"/><use href="#Lc31" stroke="#000080" stroke-width="5.8"/></g>
<g fill="none" stroke-linecap="round" transform="matrix(1 0 0 0.881 0 139.72)"><use href="#Lc32" stroke="#343434" stroke-width="13.0"/><use href="#Lc32" stroke="#000080" stroke-width="7.6"/></g>
<g fill="none" stroke-linecap="round" transform="matrix(1 0 0 0.881 0 139.72)"><use href="#Lc33" stroke="#343434" stroke-width="13.0"/><use href="#Lc33" stroke="#000080" stroke-width="6.9"/></g>
<g fill="none" stroke-linecap="round" transform="matrix(1 0 0 0.881 0 139.72)"><use href="#Lc34" stroke="#343434" stroke-width="13.0"/><use href="#Lc34" stroke="#000080" stroke-width="6.2"/></g>
<g fill="none" stroke-linecap="round" transform="matrix(1 0 0 0.881 0 139.72)"><use href="#Lc35" stroke="#343434" stroke-width="13.0"/><use href="#Lc35" stroke="#000080" stroke-width="5.8"/></g>
<g fill="none" stroke-linecap="round" transform="matrix(1 0 0 0.881 0 139.72)"><use href="#Lc36" stroke="#343434" stroke-width="13.0"/><use href="#Lc36" stroke="#000080" stroke-width="7.6"/></g>
<g fill="none" stroke-linecap="round" transform="matrix(1 0 0 0.881 0 139.72)"><use href="#Lc37" stroke="#343434" stroke-width="13.0"/><use href="#Lc37" stroke="#000080" stroke-width="6.9"/></g>
<g fill="none" stroke-linecap="round" transform="matrix(1 0 0 0.881 0 139.72)"><use href="#Lc38" stroke="#343434" stroke-width="13.0"/><use href="#Lc38" stroke="#000080" stroke-width="6.2"/></g>
<g fill="none" stroke-linecap="round" transform="matrix(1 0 0 0.881 0 139.72)"><use href="#Lc39" stroke="#343434" stroke-width="13.0"/><use href="#Lc39" stroke="#000080" stroke-width="5.8"/></g>
<g fill="none" stroke-linecap="round" transform="matrix(1 0 0 0.881 0 139.72)"><use href="#Lc40" stroke="#343434" stroke-width="13.0"/><use href="#Lc40" stroke="#000080" stroke-width="7.6"/></g>
<g fill="none" stroke-linecap="round" transform="matrix(1 0 0 0.881 0 139.72)"><use href="#Lc41" stroke="#343434" stroke-width="13.0"/><use href="#Lc41" stroke="#000080" stroke-width="6.9"/></g>
<g fill="none" stroke-linecap="round" transform="matrix(1 0 0 0.881 0 139.72)"><use href="#Lc42" stroke="#343434" stroke-width="13.0"/><use href="#Lc42" stroke="#000080" stroke-width="6.2"/></g>
<g fill="none" stroke-linecap="round" transform="matrix(1 0 0 0.881 0 139.72)"><use href="#Lc43" stroke="#343434" stroke-width="13.0"/><use href="#Lc43" stroke="#000080" stroke-width="5.8"/></g>
<g fill="none" stroke-linecap="round" transform="matrix(1 0 0 0.881 0 139.72)"><use href="#Lc44" stroke="#343434" stroke-width="13.0"/><use href="#Lc44" stroke="#000080" stroke-width="7.6"/></g>
<g fill="none" stroke-linecap="round" transform="matrix(1 0 0 0.881 0 139.72)"><use href="#Lc45" stroke="#343434" stroke-width="13.0"/><use href="#Lc45" stroke="#000080" stroke-width="6.9"/></g>
<g fill="none" stroke-linecap="round" transform="matrix(1 0 0 0.881 0 139.72)"><use href="#Lc46" stroke="#343434" stroke-width="13.0"/><use href="#Lc46" stroke="#000080" stroke-width="6.2"/></g>
<g fill="none" stroke-linecap="round" transform="matrix(1 0 0 0.881 0 139.72)"><use href="#Lc47" stroke="#343434" stroke-width="13.0"/><use href="#Lc47" stroke="#000080" stroke-width="5.8"/></g>
<g fill="none" stroke-linecap="round" transform="matrix(1 0 0 0.881 0 139.72)"><use href="#Lc48" stroke="#343434" stroke-width="13.0"/><use href="#Lc48" stroke="#000080" stroke-width="8.6"/></g>
<g fill="none" stroke-linecap="round" transform="matrix(1 0 0 0.881 0 139.72)"><use href="#Lc49" stroke="#343434" stroke-width="13.0"/><use href="#Lc49" stroke="#000080" stroke-width="8.6"/></g>
<g fill="none" stroke-linecap="round" transform="matrix(1 0 0 0.881 0 139.72)"><use href="#Lc50" stroke="#343434" stroke-width="13.0"/><use href="#Lc50" stroke="#000080" stroke-width="10.8"/></g>
<g fill="none" stroke-linecap="round" transform="matrix(1 0 0 0.881 0 139.72)"><use href="#Lc51" stroke="#343434" stroke-width="13.0"/><use href="#Lc51" stroke="#000080" stroke-width="10.8"/></g>
<g fill="none" stroke-linecap="round" transform="matrix(1 0 0 0.881 0 139.72)"><use href="#Lc52" stroke="#343434" stroke-width="13.0"/><use href="#Lc52" stroke="#000080" stroke-width="10.8"/></g>
<g fill="none" stroke-linecap="round" transform="matrix(1 0 0 0.881 0 139.72)"><use href="#Lc53" stroke="#343434" stroke-width="13.0"/><use href="#Lc53" stroke="#000080" stroke-width="10.8"/></g>
<g fill="#000080" stroke="#222" stroke-width="1">
<ellipse cx="136.9" cy="1073.7" rx="5.9" ry="5.2"/><ellipse cx="122.8" cy="1093.5" rx="5.9" ry="5.2"/><ellipse cx="143.3" cy="1092.2" rx="5.9" ry="5.2"/><ellipse cx="145.9" cy="1096.0" rx="5.9" ry="5.2"/><ellipse cx="185.6" cy="1083.2" rx="5.9" ry="5.2"/><ellipse cx="186.9" cy="1092.2" rx="5.9" ry="5.2"/><ellipse cx="184.3" cy="1096.5" rx="5.9" ry="5.2"/><ellipse cx="198.4" cy="1089.6" rx="5.9" ry="5.2"/><ellipse cx="207.4" cy="1084.5" rx="5.9" ry="5.2"/><ellipse cx="224.6" cy="1062.2" rx="5.9" ry="5.2"/><ellipse cx="222.8" cy="1087.8" rx="5.9" ry="5.2"/><ellipse cx="263.3" cy="1061.4" rx="5.9" ry="5.2"/><ellipse cx="267.6" cy="1101.2" rx="5.9" ry="5.2"/><ellipse cx="297.9" cy="1083.7" rx="5.9" ry="5.2"/><ellipse cx="298.4" cy="1101.2" rx="5.9" ry="5.2"/><ellipse cx="212.5" cy="1099.1" rx="5.9" ry="5.2"/><ellipse cx="225.3" cy="1103.7" rx="5.9" ry="5.2"/><ellipse cx="171.5" cy="1098.6" rx="5.9" ry="5.2"/><ellipse cx="163.8" cy="1102.4" rx="5.9" ry="5.2"/><ellipse cx="174.1" cy="1106.3" rx="5.9" ry="5.2"/><ellipse cx="325.3" cy="1070.4" rx="5.9" ry="5.2"/><ellipse cx="320.7" cy="1073.0" rx="5.9" ry="5.2"/><ellipse cx="315.0" cy="1076.8" rx="5.9" ry="5.2"/><ellipse cx="321.4" cy="1083.2" rx="5.9" ry="5.2"/><ellipse cx="317.6" cy="1089.6" rx="5.9" ry="5.2"/><ellipse cx="318.9" cy="1096.0" rx="5.9" ry="5.2"/><ellipse cx="315.0" cy="1099.9" rx="5.9" ry="5.2"/><ellipse cx="329.1" cy="1097.3" rx="5.9" ry="5.2"/><ellipse cx="340.7" cy="1097.3" rx="5.9" ry="5.2"/><ellipse cx="333.0" cy="1106.3" rx="5.9" ry="5.2"/><ellipse cx="350.9" cy="1102.4" rx="5.9" ry="5.2"/><ellipse cx="368.8" cy="1097.3" rx="5.9" ry="5.2"/><ellipse cx="379.1" cy="1092.2" rx="5.9" ry="5.2"/><ellipse cx="391.9" cy="1073.0" rx="5.9" ry="5.2"/><ellipse cx="386.8" cy="1076.8" rx="5.9" ry="5.2"/><ellipse cx="397.0" cy="1088.3" rx="5.9" ry="5.2"/><ellipse cx="394.5" cy="1093.5" rx="5.9" ry="5.2"/><ellipse cx="404.7" cy="1093.5" rx="5.9" ry="5.2"/><ellipse cx="399.6" cy="1060.7" rx="5.9" ry="5.2"/><ellipse cx="415.0" cy="1064.0" rx="5.9" ry="5.2"/><ellipse cx="423.9" cy="1060.7" rx="5.9" ry="5.2"/><ellipse cx="415.0" cy="1083.2" rx="5.9" ry="5.2"/><ellipse cx="415.0" cy="1096.0" rx="5.9" ry="5.2"/><ellipse cx="422.7" cy="1096.0" rx="5.9" ry="5.2"/><ellipse cx="427.8" cy="975.6" rx="5.9" ry="5.2"/><ellipse cx="443.7" cy="980.2" rx="5.9" ry="5.2"/><ellipse cx="439.3" cy="1018.1" rx="5.9" ry="5.2"/><ellipse cx="435.0" cy="1033.8" rx="5.9" ry="5.2"/><ellipse cx="503.4" cy="1040.9" rx="5.9" ry="5.2"/><ellipse cx="509.0" cy="1036.3" rx="5.9" ry="5.2"/><ellipse cx="464.2" cy="1048.6" rx="5.9" ry="5.2"/><ellipse cx="472.6" cy="1053.7" rx="5.9" ry="5.2"/><ellipse cx="518.8" cy="1068.3" rx="5.9" ry="5.2"/><ellipse cx="531.1" cy="1060.7" rx="5.9" ry="5.2"/><ellipse cx="538.0" cy="1050.7" rx="5.9" ry="5.2"/><ellipse cx="431.6" cy="1081.9" rx="5.9" ry="5.2"/><ellipse cx="438.0" cy="1075.5" rx="5.9" ry="5.2"/><ellipse cx="445.7" cy="1067.8" rx="5.9" ry="5.2"/><ellipse cx="450.9" cy="1070.4" rx="5.9" ry="5.2"/><ellipse cx="443.2" cy="1080.7" rx="5.9" ry="5.2"/><ellipse cx="457.3" cy="1075.0" rx="5.9" ry="5.2"/><ellipse cx="463.7" cy="1076.8" rx="5.9" ry="5.2"/><ellipse cx="471.4" cy="1075.5" rx="5.9" ry="5.2"/><ellipse cx="479.0" cy="1074.2" rx="5.9" ry="5.2"/><ellipse cx="463.7" cy="1085.8" rx="5.9" ry="5.2"/><ellipse cx="475.2" cy="1088.3" rx="5.9" ry="5.2"/><ellipse cx="484.2" cy="1090.9" rx="5.9" ry="5.2"/><ellipse cx="498.3" cy="1085.3" rx="5.9" ry="5.2"/><ellipse cx="494.4" cy="1097.3" rx="5.9" ry="5.2"/><ellipse cx="500.8" cy="1103.7" rx="5.9" ry="5.2"/><ellipse cx="489.3" cy="1106.3" rx="5.9" ry="5.2"/><ellipse cx="462.4" cy="1102.4" rx="5.9" ry="5.2"/><ellipse cx="450.9" cy="1100.6" rx="5.9" ry="5.2"/><ellipse cx="440.6" cy="1103.7" rx="5.9" ry="5.2"/><ellipse cx="427.8" cy="1106.3" rx="5.9" ry="5.2"/><ellipse cx="379.1" cy="1106.3" rx="5.9" ry="5.2"/><ellipse cx="391.9" cy="1105.0" rx="5.9" ry="5.2"/><ellipse cx="398.3" cy="1102.4" rx="5.9" ry="5.2"/><ellipse cx="389.3" cy="1114.0" rx="5.9" ry="5.2"/><ellipse cx="371.4" cy="1108.8" rx="5.9" ry="5.2"/><ellipse cx="356.0" cy="1110.1" rx="5.9" ry="5.2"/><ellipse cx="672.2" cy="1019.9" rx="5.9" ry="5.2"/><ellipse cx="540.8" cy="1051.2" rx="5.9" ry="5.2"/><ellipse cx="532.6" cy="1060.7" rx="5.9" ry="5.2"/><ellipse cx="606.4" cy="1055.0" rx="5.9" ry="5.2"/><ellipse cx="600.5" cy="1060.7" rx="5.9" ry="5.2"/><ellipse cx="617.1" cy="1063.2" rx="5.9" ry="5.2"/><ellipse cx="627.4" cy="1069.9" rx="5.9" ry="5.2"/><ellipse cx="632.5" cy="1064.8" rx="5.9" ry="5.2"/><ellipse cx="640.2" cy="1064.8" rx="5.9" ry="5.2"/><ellipse cx="650.5" cy="1066.6" rx="5.9" ry="5.2"/><ellipse cx="658.1" cy="1068.3" rx="5.9" ry="5.2"/><ellipse cx="624.8" cy="1075.5" rx="5.9" ry="5.2"/><ellipse cx="631.2" cy="1078.1" rx="5.9" ry="5.2"/><ellipse cx="594.1" cy="1076.8" rx="5.9" ry="5.2"/><ellipse cx="597.1" cy="1084.5" rx="5.9" ry="5.2"/><ellipse cx="546.7" cy="1087.1" rx="5.9" ry="5.2"/><ellipse cx="551.8" cy="1094.7" rx="5.9" ry="5.2"/><ellipse cx="625.3" cy="1081.9" rx="5.9" ry="5.2"/><ellipse cx="749.1" cy="1061.4" rx="5.9" ry="5.2"/><ellipse cx="750.9" cy="1081.9" rx="5.9" ry="5.2"/><ellipse cx="719.1" cy="1087.1" rx="5.9" ry="5.2"/><ellipse cx="678.6" cy="1092.2" rx="5.9" ry="5.2"/><ellipse cx="664.5" cy="1096.0" rx="5.9" ry="5.2"/><ellipse cx="884.2" cy="1071.7" rx="5.9" ry="5.2"/><ellipse cx="896.0" cy="1076.8" rx="5.9" ry="5.2"/><ellipse cx="864.4" cy="1077.6" rx="5.9" ry="5.2"/><ellipse cx="869.6" cy="1081.4" rx="5.9" ry="5.2"/><ellipse cx="900.3" cy="1085.8" rx="5.9" ry="5.2"/><ellipse cx="905.4" cy="1089.6" rx="5.9" ry="5.2"/><ellipse cx="924.7" cy="1092.2" rx="5.9" ry="5.2"/><ellipse cx="931.1" cy="1101.2" rx="5.9" ry="5.2"/><ellipse cx="860.6" cy="1093.5" rx="5.9" ry="5.2"/><ellipse cx="892.6" cy="1094.7" rx="5.9" ry="5.2"/><ellipse cx="904.2" cy="1097.3" rx="5.9" ry="5.2"/><ellipse cx="906.7" cy="1102.4" rx="5.9" ry="5.2"/><ellipse cx="887.5" cy="1103.7" rx="5.9" ry="5.2"/><ellipse cx="858.0" cy="1105.0" rx="5.9" ry="5.2"/><ellipse cx="847.8" cy="1102.4" rx="5.9" ry="5.2"/><ellipse cx="837.5" cy="1106.3" rx="5.9" ry="5.2"/><ellipse cx="824.7" cy="1105.0" rx="5.9" ry="5.2"/><ellipse cx="950.3" cy="1062.2" rx="5.9" ry="5.2"/><ellipse cx="952.3" cy="1084.5" rx="5.9" ry="5.2"/><ellipse cx="951.6" cy="1117.8" rx="5.9" ry="5.2"/><ellipse cx="776.0" cy="1107.6" rx="5.9" ry="5.2"/><ellipse cx="764.5" cy="1115.2" rx="5.9" ry="5.2"/><ellipse cx="749.1" cy="1111.4" rx="5.9" ry="5.2"/><ellipse cx="741.4" cy="1096.0" rx="5.9" ry="5.2"/><ellipse cx="753.0" cy="1105.0" rx="5.9" ry="5.2"/><ellipse cx="712.0" cy="1094.7" rx="5.9" ry="5.2"/><ellipse cx="706.8" cy="1097.3" rx="5.9" ry="5.2"/><ellipse cx="699.1" cy="1098.6" rx="5.9" ry="5.2"/><ellipse cx="694.0" cy="1105.0" rx="5.9" ry="5.2"/><ellipse cx="678.6" cy="1110.1" rx="5.9" ry="5.2"/><ellipse cx="659.4" cy="1105.0" rx="5.9" ry="5.2"/><ellipse cx="662.0" cy="1108.8" rx="5.9" ry="5.2"/><ellipse cx="632.5" cy="1102.4" rx="5.9" ry="5.2"/><ellipse cx="633.8" cy="1107.6" rx="5.9" ry="5.2"/><ellipse cx="605.6" cy="1097.3" rx="5.9" ry="5.2"/><ellipse cx="599.2" cy="1096.0" rx="5.9" ry="5.2"/><ellipse cx="587.7" cy="1099.9" rx="5.9" ry="5.2"/><ellipse cx="555.6" cy="1107.6" rx="5.9" ry="5.2"/><ellipse cx="568.4" cy="1106.3" rx="5.9" ry="5.2"/><ellipse cx="537.7" cy="1110.1" rx="5.9" ry="5.2"/>
</g>
<g fill="#aaaaaa" stroke="#555" stroke-width="1">
<ellipse cx="218.9" cy="1027.3" rx="5.9" ry="5.2"/><ellipse cx="175.9" cy="1050.4" rx="5.9" ry="5.2"/><ellipse cx="206.1" cy="1076.8" rx="5.9" ry="5.2"/><ellipse cx="262.5" cy="1081.9" rx="5.9" ry="5.2"/><ellipse cx="243.3" cy="1092.2" rx="5.9" ry="5.2"/><ellipse cx="253.5" cy="1090.9" rx="5.9" ry="5.2"/><ellipse cx="226.6" cy="1098.6" rx="5.9" ry="5.2"/><ellipse cx="297.1" cy="1094.7" rx="5.9" ry="5.2"/><ellipse cx="286.8" cy="1105.8" rx="5.9" ry="5.2"/><ellipse cx="130.5" cy="1104.2" rx="5.9" ry="5.2"/><ellipse cx="324.8" cy="1058.9" rx="5.9" ry="5.2"/><ellipse cx="386.8" cy="1055.0" rx="5.9" ry="5.2"/><ellipse cx="404.7" cy="1078.1" rx="5.9" ry="5.2"/><ellipse cx="388.1" cy="1081.9" rx="5.9" ry="5.2"/><ellipse cx="464.9" cy="1028.6" rx="5.9" ry="5.2"/><ellipse cx="520.0" cy="1081.9" rx="5.9" ry="5.2"/><ellipse cx="506.0" cy="1094.7" rx="5.9" ry="5.2"/><ellipse cx="532.9" cy="1092.2" rx="5.9" ry="5.2"/><ellipse cx="530.3" cy="1099.9" rx="5.9" ry="5.2"/><ellipse cx="476.5" cy="1103.2" rx="5.9" ry="5.2"/><ellipse cx="571.0" cy="996.8" rx="5.9" ry="5.2"/><ellipse cx="544.1" cy="934.1" rx="5.9" ry="5.2"/><ellipse cx="554.3" cy="1078.9" rx="5.9" ry="5.2"/><ellipse cx="609.4" cy="1070.9" rx="5.9" ry="5.2"/><ellipse cx="765.8" cy="1085.3" rx="5.9" ry="5.2"/><ellipse cx="797.3" cy="1090.9" rx="5.9" ry="5.2"/><ellipse cx="915.7" cy="1046.8" rx="5.9" ry="5.2"/><ellipse cx="878.5" cy="1087.1" rx="5.9" ry="5.2"/><ellipse cx="800.4" cy="1112.7" rx="5.9" ry="5.2"/><ellipse cx="822.2" cy="1099.9" rx="5.9" ry="5.2"/><ellipse cx="837.5" cy="1099.9" rx="5.9" ry="5.2"/><ellipse cx="724.8" cy="1089.6" rx="5.9" ry="5.2"/><ellipse cx="753.0" cy="1105.0" rx="5.9" ry="5.2"/><ellipse cx="676.1" cy="1103.7" rx="5.9" ry="5.2"/><ellipse cx="653.0" cy="1102.4" rx="5.9" ry="5.2"/><ellipse cx="539.0" cy="1094.7" rx="5.9" ry="5.2"/><ellipse cx="532.6" cy="1090.9" rx="5.9" ry="5.2"/><ellipse cx="920.8" cy="1102.4" rx="5.9" ry="5.2"/><ellipse cx="926.0" cy="1106.3" rx="5.9" ry="5.2"/><ellipse cx="949.0" cy="1103.7" rx="5.9" ry="5.2"/><ellipse cx="917.0" cy="1114.0" rx="5.9" ry="5.2"/>
</g>
<g fill="#87ceeb" stroke="#222" stroke-width="1">
<ellipse cx="550.5" cy="1037.1" rx="5.9" ry="5.2"/><ellipse cx="639.7" cy="1075.0" rx="5.9" ry="5.2"/><ellipse cx="625.6" cy="1090.4" rx="5.9" ry="5.2"/>
</g>
<g fill="#00ff00" stroke="#222" stroke-width="1">
<ellipse cx="509.0" cy="928.7" rx="5.9" ry="5.2"/><ellipse cx="502.1" cy="941.5" rx="5.9" ry="5.2"/><ellipse cx="475.2" cy="969.2" rx="5.9" ry="5.2"/><ellipse cx="477.8" cy="985.8" rx="5.9" ry="5.2"/><ellipse cx="481.6" cy="989.7" rx="5.9" ry="5.2"/><ellipse cx="486.7" cy="989.7" rx="5.9" ry="5.2"/><ellipse cx="495.7" cy="987.6" rx="5.9" ry="5.2"/><ellipse cx="484.2" cy="997.4" rx="5.9" ry="5.2"/><ellipse cx="473.9" cy="1006.3" rx="5.9" ry="5.2"/><ellipse cx="456.0" cy="1016.6" rx="5.9" ry="5.2"/><ellipse cx="572.3" cy="1058.1" rx="5.9" ry="5.2"/><ellipse cx="577.4" cy="1064.8" rx="5.9" ry="5.2"/><ellipse cx="578.2" cy="1071.2" rx="5.9" ry="5.2"/>
</g>
<g fill="#ffa500" stroke="#222" stroke-width="1">
<ellipse cx="542.8" cy="898.2" rx="5.9" ry="5.2"/><ellipse cx="553.6" cy="1009.4" rx="5.9" ry="5.2"/><ellipse cx="570.5" cy="1009.4" rx="5.9" ry="5.2"/>
</g>
<g fill="#ff0000" stroke="#222" stroke-width="1">
<ellipse cx="534.4" cy="895.6" rx="5.9" ry="5.2"/><ellipse cx="533.1" cy="925.6" rx="5.9" ry="5.2"/><ellipse cx="535.1" cy="932.0" rx="5.9" ry="5.2"/>
</g>
<polygon points="527.55,885.4 534.75,879.6 541.95,885.4 534.75,891.1999999999999" fill="#8224e3" stroke="#222" stroke-width="1"/>
</g>
<text x="534.75" y="875.9" text-anchor="middle" font-size="17" fill="#222">rs12118522</text>
<clipPath id="cld"><rect x="1151.0" y="762.8" width="825.4999999999999" height="487.9"/></clipPath>
<g clip-path="url(#cld)">
<polyline points="1347.9,1229.6 1349.9,1096.8 1351.9,1229.6" fill="#3c3cff" stroke="#3c3cff" stroke-width="2.4" stroke-linejoin="round"/>
<polyline points="1363.6,1229.6 1365.6,1137.8 1367.6,1229.6" fill="#3c3cff" stroke="#3c3cff" stroke-width="2.4" stroke-linejoin="round"/>
<polygon points="1153,1174.1 1159,1174.4 1165,1174.6 1171,1174.8 1177,1175.1 1183,1175.3 1189,1175.6 1195,1175.8 1201,1175.8 1207,1174.6 1213,1173.4 1219,1172.2 1225,1171.0 1231,1169.8 1237,1168.6 1243,1167.4 1249,1166.2 1255,1166.5 1261,1167.1 1267,1167.7 1273,1168.3 1279,1168.9 1285,1169.5 1291,1170.1 1297,1170.7 1303,1171.4 1309,1172.3 1315,1173.1 1321,1173.9 1327,1174.8 1333,1175.6 1339,1176.5 1345,1177.3 1351,1178.0 1357,1178.1 1363,1178.3 1369,1178.4 1375,1178.5 1381,1178.6 1387,1178.7 1393,1178.9 1399,1179.0 1405,1179.2 1411,1179.4 1417,1179.7 1423,1179.9 1429,1180.2 1435,1180.4 1441,1180.6 1447,1180.9 1453,1181.2 1459,1181.5 1465,1181.9 1471,1182.3 1477,1182.6 1483,1183.0 1489,1183.3 1495,1183.7 1501,1184.0 1507,1183.7 1513,1183.3 1519,1183.0 1525,1182.8 1531,1182.5 1537,1182.2 1543,1181.8 1549,1181.5 1555,1181.2 1561,1181.0 1567,1181.0 1573,1181.0 1579,1181.0 1585,1181.0 1591,1181.0 1597,1181.0 1603,1181.2 1609,1181.5 1615,1181.9 1621,1182.3 1627,1182.6 1633,1183.0 1639,1183.3 1645,1183.7 1651,1183.9 1657,1183.3 1663,1182.7 1669,1182.1 1675,1181.5 1681,1180.9 1687,1180.3 1693,1179.7 1699,1179.1 1705,1179.6 1711,1180.3 1717,1181.0 1723,1181.7 1729,1182.4 1735,1183.1 1741,1183.8 1747,1184.5 1753,1185.2 1759,1185.9 1765,1186.2 1771,1186.4 1777,1186.6 1783,1186.8 1789,1187.0 1795,1187.2 1801,1187.4 1807,1187.6 1813,1187.8 1819,1188.0 1825,1187.8 1831,1187.6 1837,1187.4 1843,1187.2 1849,1187.0 1855,1186.8 1861,1186.6 1867,1186.4 1873,1186.2 1879,1186.0 1885,1185.8 1891,1185.6 1897,1185.3 1903,1185.1 1909,1184.8 1915,1184.6 1921,1184.4 1927,1184.1 1933,1183.8 1939,1183.4 1945,1183.1 1951,1182.7 1957,1182.3 1963,1181.9 1969,1181.6 1975,1181.2 1975,1181.2 1975,1231.6 1153,1231.6" fill="#363636"/>
<g fill="none" stroke-linecap="round" transform="matrix(1 0 0 1.053 0 -64.72)"><use href="#Ld0" stroke="#343434" stroke-width="12.6"/><use href="#Ld0" stroke="#000080" stroke-width="7.2"/></g>
<g fill="none" stroke-linecap="round" transform="matrix(1 0 0 1.053 0 -64.72)"><use href="#Ld1" stroke="#343434" stroke-width="12.6"/><use href="#Ld1" stroke="#000080" stroke-width="6.5"/></g>
<g fill="none" stroke-linecap="round" transform="matrix(1 0 0 1.053 0 -64.72)"><use href="#Ld2" stroke="#343434" stroke-width="12.6"/><use href="#Ld2" stroke="#000080" stroke-width="5.8"/></g>
<g fill="none" stroke-linecap="round" transform="matrix(1 0 0 1.053 0 -64.72)"><use href="#Ld3" stroke="#343434" stroke-width="12.6"/><use href="#Ld3" stroke="#000080" stroke-width="5.4"/></g>
<g fill="none" stroke-linecap="round" transform="matrix(1 0 0 1.053 0 -64.72)"><use href="#Ld4" stroke="#343434" stroke-width="12.6"/><use href="#Ld4" stroke="#000080" stroke-width="7.2"/></g>
<g fill="none" stroke-linecap="round" transform="matrix(1 0 0 1.053 0 -64.72)"><use href="#Ld5" stroke="#343434" stroke-width="12.6"/><use href="#Ld5" stroke="#000080" stroke-width="6.5"/></g>
<g fill="none" stroke-linecap="round" transform="matrix(1 0 0 1.053 0 -64.72)"><use href="#Ld6" stroke="#343434" stroke-width="12.6"/><use href="#Ld6" stroke="#000080" stroke-width="5.8"/></g>
<g fill="none" stroke-linecap="round" transform="matrix(1 0 0 1.053 0 -64.72)"><use href="#Ld7" stroke="#343434" stroke-width="12.6"/><use href="#Ld7" stroke="#000080" stroke-width="5.4"/></g>
<g fill="none" stroke-linecap="round" transform="matrix(1 0 0 1.053 0 -64.72)"><use href="#Ld8" stroke="#343434" stroke-width="12.6"/><use href="#Ld8" stroke="#000080" stroke-width="7.2"/></g>
<g fill="none" stroke-linecap="round" transform="matrix(1 0 0 1.053 0 -64.72)"><use href="#Ld9" stroke="#343434" stroke-width="12.6"/><use href="#Ld9" stroke="#000080" stroke-width="6.5"/></g>
<g fill="none" stroke-linecap="round" transform="matrix(1 0 0 1.053 0 -64.72)"><use href="#Ld10" stroke="#343434" stroke-width="12.6"/><use href="#Ld10" stroke="#000080" stroke-width="5.8"/></g>
<g fill="none" stroke-linecap="round" transform="matrix(1 0 0 1.053 0 -64.72)"><use href="#Ld11" stroke="#343434" stroke-width="12.6"/><use href="#Ld11" stroke="#000080" stroke-width="5.4"/></g>
<g fill="none" stroke-linecap="round" transform="matrix(1 0 0 1.053 0 -64.72)"><use href="#Ld12" stroke="#343434" stroke-width="12.6"/><use href="#Ld12" stroke="#000080" stroke-width="7.2"/></g>
<g fill="none" stroke-linecap="round" transform="matrix(1 0 0 1.053 0 -64.72)"><use href="#Ld13" stroke="#343434" stroke-width="12.6"/><use href="#Ld13" stroke="#000080" stroke-width="6.5"/></g>
<g fill="none" stroke-linecap="round" transform="matrix(1 0 0 1.053 0 -64.72)"><use href="#Ld14" stroke="#343434" stroke-width="12.6"/><use href="#Ld14" stroke="#000080" stroke-width="5.8"/></g>
<g fill="none" stroke-linecap="round" transform="matrix(1 0 0 1.053 0 -64.72)"><use href="#Ld15" stroke="#343434" stroke-width="12.6"/><use href="#Ld15" stroke="#000080" stroke-width="5.4"/></g>
<g fill="none" stroke-linecap="round" transform="matrix(1 0 0 1.053 0 -64.72)"><use href="#Ld16" stroke="#343434" stroke-width="12.6"/><use href="#Ld16" stroke="#000080" stroke-width="7.2"/></g>
<g fill="none" stroke-linecap="round" transform="matrix(1 0 0 1.053 0 -64.72)"><use href="#Ld17" stroke="#343434" stroke-width="12.6"/><use href="#Ld17" stroke="#000080" stroke-width="6.5"/></g>
<g fill="none" stroke-linecap="round" transform="matrix(1 0 0 1.053 0 -64.72)"><use href="#Ld18" stroke="#343434" stroke-width="12.6"/><use href="#Ld18" stroke="#000080" stroke-width="5.8"/></g>
<g fill="none" stroke-linecap="round" transform="matrix(1 0 0 1.053 0 -64.72)"><use href="#Ld19" stroke="#343434" stroke-width="12.6"/><use href="#Ld19" stroke="#000080" stroke-width="5.4"/></g>
<g fill="none" stroke-linecap="round" transform="matrix(1 0 0 1.053 0 -64.72)"><use href="#Ld20" stroke="#343434" stroke-width="12.6"/><use href="#Ld20" stroke="#000080" stroke-width="7.2"/></g>
<g fill="none" stroke-linecap="round" transform="matrix(1 0 0 1.053 0 -64.72)"><use href="#Ld21" stroke="#343434" stroke-width="12.6"/><use href="#Ld21" stroke="#000080" stroke-width="6.5"/></g>
<g fill="none" stroke-linecap="round" transform="matrix(1 0 0 1.053 0 -64.72)"><use href="#Ld22" stroke="#343434" stroke-width="12.6"/><use href="#Ld22" stroke="#000080" stroke-width="5.8"/></g>
<g fill="none" stroke-linecap="round" transform="matrix(1 0 0 1.053 0 -64.72)"><use href="#Ld23" stroke="#343434" stroke-width="12.6"/><use href="#Ld23" stroke="#000080" stroke-width="5.4"/></g>
<g fill="none" stroke-linecap="round" transform="matrix(1 0 0 1.053 0 -64.72)"><use href="#Ld24" stroke="#343434" stroke-width="12.6"/><use href="#Ld24" stroke="#000080" stroke-width="7.2"/></g>
<g fill="none" stroke-linecap="round" transform="matrix(1 0 0 1.053 0 -64.72)"><use href="#Ld25" stroke="#343434" stroke-width="12.6"/><use href="#Ld25" stroke="#000080" stroke-width="6.5"/></g>
<g fill="none" stroke-linecap="round" transform="matrix(1 0 0 1.053 0 -64.72)"><use href="#Ld26" stroke="#343434" stroke-width="12.6"/><use href="#Ld26" stroke="#000080" stroke-width="5.8"/></g>
<g fill="none" stroke-linecap="round" transform="matrix(1 0 0 1.053 0 -64.72)"><use href="#Ld27" stroke="#343434" stroke-width="12.6"/><use href="#Ld27" stroke="#000080" stroke-width="5.4"/></g>
<g fill="none" stroke-linecap="round" transform="matrix(1 0 0 1.053 0 -64.72)"><use href="#Ld28" stroke="#343434" stroke-width="12.6"/><use href="#Ld28" stroke="#000080" stroke-width="7.2"/></g>
<g fill="none" stroke-linecap="round" transform="matrix(1 0 0 1.053 0 -64.72)"><use href="#Ld29" stroke="#343434" stroke-width="12.6"/><use href="#Ld29" stroke="#000080" stroke-width="6.5"/></g>
<g fill="none" stroke-linecap="round" transform="matrix(1 0 0 1.053 0 -64.72)"><use href="#Ld30" stroke="#343434" stroke-width="12.6"/><use href="#Ld30" stroke="#000080" stroke-width="5.8"/></g>
<g fill="none" stroke-linecap="round" transform="matrix(1 0 0 1.053 0 -64.72)"><use href="#Ld31" stroke="#343434" stroke-width="12.6"/><use href="#Ld31" stroke="#000080" stroke-width="5.4"/></g>
<g fill="none" stroke-linecap="round" transform="matrix(1 0 0 1.053 0 -64.72)"><use href="#Ld32" stroke="#343434" stroke-width="12.6"/><use href="#Ld32" stroke="#000080" stroke-width="7.2"/></g>
<g fill="none" stroke-linecap="round" transform="matrix(1 0 0 1.053 0 -64.72)"><use href="#Ld33" stroke="#343434" stroke-width="12.6"/><use href="#Ld33" stroke="#000080" stroke-width="6.5"/></g>
<g fill="none" stroke-linecap="round" transform="matrix(1 0 0 1.053 0 -64.72)"><use href="#Ld34" stroke="#343434" stroke-width="12.6"/><use href="#Ld34" stroke="#000080" stroke-width="5.8"/></g>
<g fill="none" stroke-linecap="round" transform="matrix(1 0 0 1.053 0 -64.72)"><use href="#Ld35" stroke="#343434" stroke-width="12.6"/><use href="#Ld35" stroke="#000080" stroke-width="5.4"/></g>
<g fill="none" stroke-linecap="round" transform="matrix(1 0 0 1.053 0 -64.72)"><use href="#Ld36" stroke="#343434" stroke-width="12.6"/><use href="#Ld36" stroke="#000080" stroke-width="7.2"/></g>
<g fill="none" stroke-linecap="round" transform="matrix(1 0 0 1.053 0 -64.72)"><use href="#Ld37" stroke="#343434" stroke-width="12.6"/><use href="#Ld37" stroke="#000080" stroke-width="6.5"/></g>
<g fill="none" stroke-linecap="round" transform="matrix(1 0 0 1.053 0 -64.72)"><use href="#Ld38" stroke="#343434" stroke-width="12.6"/><use href="#Ld38" stroke="#000080" stroke-width="5.8"/></g>
<g fill="none" stroke-linecap="round" transform="matrix(1 0 0 1.053 0 -64.72)"><use href="#Ld39" stroke="#343434" stroke-width="12.6"/><use href="#Ld39" stroke="#000080" stroke-width="5.4"/></g>
<g fill="none" stroke-linecap="round" transform="matrix(1 0 0 1.053 0 -64.72)"><use href="#Ld40" stroke="#343434" stroke-width="12.6"/><use href="#Ld40" stroke="#000080" stroke-width="7.2"/></g>
<g fill="none" stroke-linecap="round" transform="matrix(1 0 0 1.053 0 -64.72)"><use href="#Ld41" stroke="#343434" stroke-width="12.6"/><use href="#Ld41" stroke="#000080" stroke-width="6.5"/></g>
<g fill="none" stroke-linecap="round" transform="matrix(1 0 0 1.053 0 -64.72)"><use href="#Ld42" stroke="#343434" stroke-width="12.6"/><use href="#Ld42" stroke="#000080" stroke-width="5.8"/></g>
<g fill="none" stroke-linecap="round" transform="matrix(1 0 0 1.053 0 -64.72)"><use href="#Ld43" stroke="#343434" stroke-width="12.6"/><use href="#Ld43" stroke="#000080" stroke-width="5.4"/></g>
<g fill="none" stroke-linecap="round" transform="matrix(1 0 0 1.053 0 -64.72)"><use href="#Ld44" stroke="#343434" stroke-width="12.6"/><use href="#Ld44" stroke="#000080" stroke-width="7.2"/></g>
<g fill="none" stroke-linecap="round" transform="matrix(1 0 0 1.053 0 -64.72)"><use href="#Ld45" stroke="#343434" stroke-width="12.6"/><use href="#Ld45" stroke="#000080" stroke-width="6.5"/></g>
<g fill="none" stroke-linecap="round" transform="matrix(1 0 0 1.053 0 -64.72)"><use href="#Ld46" stroke="#343434" stroke-width="12.6"/><use href="#Ld46" stroke="#000080" stroke-width="5.8"/></g>
<g fill="none" stroke-linecap="round" transform="matrix(1 0 0 1.053 0 -64.72)"><use href="#Ld47" stroke="#343434" stroke-width="12.6"/><use href="#Ld47" stroke="#000080" stroke-width="5.4"/></g>
<g fill="none" stroke-linecap="round" transform="matrix(1 0 0 1.053 0 -64.72)"><use href="#Ld48" stroke="#343434" stroke-width="12.6"/><use href="#Ld48" stroke="#000080" stroke-width="8.2"/></g>
<g fill="none" stroke-linecap="round" transform="matrix(1 0 0 1.053 0 -64.72)"><use href="#Ld49" stroke="#343434" stroke-width="12.6"/><use href="#Ld49" stroke="#000080" stroke-width="8.2"/></g>
<g fill="none" stroke-linecap="round" transform="matrix(1 0 0 1.053 0 -64.72)"><use href="#Ld50" stroke="#343434" stroke-width="12.6"/><use href="#Ld50" stroke="#000080" stroke-width="10.4"/></g>
<g fill="none" stroke-linecap="round" transform="matrix(1 0 0 1.053 0 -64.72)"><use href="#Ld51" stroke="#343434" stroke-width="12.6"/><use href="#Ld51" stroke="#000080" stroke-width="10.4"/></g>
<g fill="none" stroke-linecap="round" transform="matrix(1 0 0 1.053 0 -64.72)"><use href="#Ld52" stroke="#343434" stroke-width="12.6"/><use href="#Ld52" stroke="#000080" stroke-width="10.4"/></g>
<g fill="none" stroke-linecap="round" transform="matrix(1 0 0 1.053 0 -64.72)"><use href="#Ld53" stroke="#343434" stroke-width="12.6"/><use href="#Ld53" stroke="#000080" stroke-width="10.4"/></g>
<g fill="#000080" stroke="#222" stroke-width="1">
<ellipse cx="1157.3" cy="1120.4" rx="5.7" ry="6.0"/><ellipse cx="1174.7" cy="1126.5" rx="5.7" ry="6.0"/><ellipse cx="1371.8" cy="1070.2" rx="5.7" ry="6.0"/><ellipse cx="1398.4" cy="1081.5" rx="5.7" ry="6.0"/><ellipse cx="1399.6" cy="1085.6" rx="5.7" ry="6.0"/><ellipse cx="1391.9" cy="1091.7" rx="5.7" ry="6.0"/><ellipse cx="1421.1" cy="1092.1" rx="5.7" ry="6.0"/><ellipse cx="1433.9" cy="1100.9" rx="5.7" ry="6.0"/><ellipse cx="1434.9" cy="1103.0" rx="5.7" ry="6.0"/><ellipse cx="1422.6" cy="1106.0" rx="5.7" ry="6.0"/><ellipse cx="1430.8" cy="1110.1" rx="5.7" ry="6.0"/><ellipse cx="1428.7" cy="1115.3" rx="5.7" ry="6.0"/><ellipse cx="1449.2" cy="1114.2" rx="5.7" ry="6.0"/><ellipse cx="1453.3" cy="1115.3" rx="5.7" ry="6.0"/><ellipse cx="1459.5" cy="1107.1" rx="5.7" ry="6.0"/><ellipse cx="1492.2" cy="1097.9" rx="5.7" ry="6.0"/><ellipse cx="1488.1" cy="1108.1" rx="5.7" ry="6.0"/><ellipse cx="1484.0" cy="1112.2" rx="5.7" ry="6.0"/><ellipse cx="1477.9" cy="1121.4" rx="5.7" ry="6.0"/><ellipse cx="1508.6" cy="1115.9" rx="5.7" ry="6.0"/><ellipse cx="1510.7" cy="1125.5" rx="5.7" ry="6.0"/><ellipse cx="1504.5" cy="1131.7" rx="5.7" ry="6.0"/><ellipse cx="1498.4" cy="1131.7" rx="5.7" ry="6.0"/><ellipse cx="1487.1" cy="1130.6" rx="5.7" ry="6.0"/><ellipse cx="1473.8" cy="1131.7" rx="5.7" ry="6.0"/><ellipse cx="1462.5" cy="1130.6" rx="5.7" ry="6.0"/><ellipse cx="1469.7" cy="1138.8" rx="5.7" ry="6.0"/><ellipse cx="1461.5" cy="1142.9" rx="5.7" ry="6.0"/><ellipse cx="1483.0" cy="1146.6" rx="5.7" ry="6.0"/><ellipse cx="1494.3" cy="1145.0" rx="5.7" ry="6.0"/><ellipse cx="1524.6" cy="1139.2" rx="5.7" ry="6.0"/><ellipse cx="1534.2" cy="1150.7" rx="5.7" ry="6.0"/><ellipse cx="1551.7" cy="1150.7" rx="5.7" ry="6.0"/><ellipse cx="1389.8" cy="1118.3" rx="5.7" ry="6.0"/><ellipse cx="1400.0" cy="1116.3" rx="5.7" ry="6.0"/><ellipse cx="1402.1" cy="1122.4" rx="5.7" ry="6.0"/><ellipse cx="1394.9" cy="1128.6" rx="5.7" ry="6.0"/><ellipse cx="1416.4" cy="1122.4" rx="5.7" ry="6.0"/><ellipse cx="1424.6" cy="1126.5" rx="5.7" ry="6.0"/><ellipse cx="1410.3" cy="1126.5" rx="5.7" ry="6.0"/><ellipse cx="1412.3" cy="1131.7" rx="5.7" ry="6.0"/><ellipse cx="1391.9" cy="1138.8" rx="5.7" ry="6.0"/><ellipse cx="1402.1" cy="1145.0" rx="5.7" ry="6.0"/><ellipse cx="1412.3" cy="1138.8" rx="5.7" ry="6.0"/><ellipse cx="1435.9" cy="1138.8" rx="5.7" ry="6.0"/><ellipse cx="1439.0" cy="1144.0" rx="5.7" ry="6.0"/><ellipse cx="1432.8" cy="1148.0" rx="5.7" ry="6.0"/><ellipse cx="1440.0" cy="1155.2" rx="5.7" ry="6.0"/><ellipse cx="1416.4" cy="1158.3" rx="5.7" ry="6.0"/><ellipse cx="1394.9" cy="1157.3" rx="5.7" ry="6.0"/><ellipse cx="1406.2" cy="1162.4" rx="5.7" ry="6.0"/><ellipse cx="1455.4" cy="1153.2" rx="5.7" ry="6.0"/><ellipse cx="1465.6" cy="1154.2" rx="5.7" ry="6.0"/><ellipse cx="1473.8" cy="1163.4" rx="5.7" ry="6.0"/><ellipse cx="1449.2" cy="1163.4" rx="5.7" ry="6.0"/><ellipse cx="1235.1" cy="1136.8" rx="5.7" ry="6.0"/><ellipse cx="1248.4" cy="1141.9" rx="5.7" ry="6.0"/><ellipse cx="1273.0" cy="1125.5" rx="5.7" ry="6.0"/><ellipse cx="1296.6" cy="1124.9" rx="5.7" ry="6.0"/><ellipse cx="1291.5" cy="1128.6" rx="5.7" ry="6.0"/><ellipse cx="1258.7" cy="1140.9" rx="5.7" ry="6.0"/><ellipse cx="1230.0" cy="1147.0" rx="5.7" ry="6.0"/><ellipse cx="1242.3" cy="1151.1" rx="5.7" ry="6.0"/><ellipse cx="1330.4" cy="1132.7" rx="5.7" ry="6.0"/><ellipse cx="1355.0" cy="1134.7" rx="5.7" ry="6.0"/><ellipse cx="1360.1" cy="1142.9" rx="5.7" ry="6.0"/><ellipse cx="1357.0" cy="1148.0" rx="5.7" ry="6.0"/><ellipse cx="1348.8" cy="1153.2" rx="5.7" ry="6.0"/><ellipse cx="1318.1" cy="1140.9" rx="5.7" ry="6.0"/><ellipse cx="1201.3" cy="1148.7" rx="5.7" ry="6.0"/><ellipse cx="1217.7" cy="1153.2" rx="5.7" ry="6.0"/><ellipse cx="1191.1" cy="1159.3" rx="5.7" ry="6.0"/><ellipse cx="1277.1" cy="1133.7" rx="5.7" ry="6.0"/><ellipse cx="1694.2" cy="1057.9" rx="5.7" ry="6.0"/><ellipse cx="1689.5" cy="1075.7" rx="5.7" ry="6.0"/><ellipse cx="1767.9" cy="1052.8" rx="5.7" ry="6.0"/><ellipse cx="1758.7" cy="1066.1" rx="5.7" ry="6.0"/><ellipse cx="1753.6" cy="1072.2" rx="5.7" ry="6.0"/><ellipse cx="1760.8" cy="1072.9" rx="5.7" ry="6.0"/><ellipse cx="1755.7" cy="1085.6" rx="5.7" ry="6.0"/><ellipse cx="1757.7" cy="1089.7" rx="5.7" ry="6.0"/><ellipse cx="1729.0" cy="1088.6" rx="5.7" ry="6.0"/><ellipse cx="1739.3" cy="1093.8" rx="5.7" ry="6.0"/><ellipse cx="1752.6" cy="1097.9" rx="5.7" ry="6.0"/><ellipse cx="1757.7" cy="1097.9" rx="5.7" ry="6.0"/><ellipse cx="1767.9" cy="1092.7" rx="5.7" ry="6.0"/><ellipse cx="1775.1" cy="1097.4" rx="5.7" ry="6.0"/><ellipse cx="1775.1" cy="1103.0" rx="5.7" ry="6.0"/><ellipse cx="1786.4" cy="1104.4" rx="5.7" ry="6.0"/><ellipse cx="1794.6" cy="1108.1" rx="5.7" ry="6.0"/><ellipse cx="1736.2" cy="1106.0" rx="5.7" ry="6.0"/><ellipse cx="1749.5" cy="1107.1" rx="5.7" ry="6.0"/><ellipse cx="1760.8" cy="1108.5" rx="5.7" ry="6.0"/><ellipse cx="1628.6" cy="1116.3" rx="5.7" ry="6.0"/><ellipse cx="1646.0" cy="1119.4" rx="5.7" ry="6.0"/><ellipse cx="1648.1" cy="1125.5" rx="5.7" ry="6.0"/><ellipse cx="1656.3" cy="1126.5" rx="5.7" ry="6.0"/><ellipse cx="1644.0" cy="1134.7" rx="5.7" ry="6.0"/><ellipse cx="1678.8" cy="1115.3" rx="5.7" ry="6.0"/><ellipse cx="1690.1" cy="1120.8" rx="5.7" ry="6.0"/><ellipse cx="1703.4" cy="1122.0" rx="5.7" ry="6.0"/><ellipse cx="1709.6" cy="1121.4" rx="5.7" ry="6.0"/><ellipse cx="1707.5" cy="1124.5" rx="5.7" ry="6.0"/><ellipse cx="1729.0" cy="1122.4" rx="5.7" ry="6.0"/><ellipse cx="1684.0" cy="1133.7" rx="5.7" ry="6.0"/><ellipse cx="1755.7" cy="1125.5" rx="5.7" ry="6.0"/><ellipse cx="1765.9" cy="1131.7" rx="5.7" ry="6.0"/><ellipse cx="1731.1" cy="1135.8" rx="5.7" ry="6.0"/><ellipse cx="1719.8" cy="1139.9" rx="5.7" ry="6.0"/><ellipse cx="1801.8" cy="1133.7" rx="5.7" ry="6.0"/><ellipse cx="1791.5" cy="1140.9" rx="5.7" ry="6.0"/><ellipse cx="1777.2" cy="1146.0" rx="5.7" ry="6.0"/><ellipse cx="1800.7" cy="1148.0" rx="5.7" ry="6.0"/><ellipse cx="1827.4" cy="1113.8" rx="5.7" ry="6.0"/><ellipse cx="1823.3" cy="1131.7" rx="5.7" ry="6.0"/><ellipse cx="1841.7" cy="1136.8" rx="5.7" ry="6.0"/><ellipse cx="1844.8" cy="1148.7" rx="5.7" ry="6.0"/><ellipse cx="1855.0" cy="1127.6" rx="5.7" ry="6.0"/><ellipse cx="1863.2" cy="1127.6" rx="5.7" ry="6.0"/><ellipse cx="1875.5" cy="1123.5" rx="5.7" ry="6.0"/><ellipse cx="1876.5" cy="1130.6" rx="5.7" ry="6.0"/><ellipse cx="1873.5" cy="1138.8" rx="5.7" ry="6.0"/><ellipse cx="1878.6" cy="1142.9" rx="5.7" ry="6.0"/><ellipse cx="1868.3" cy="1149.1" rx="5.7" ry="6.0"/><ellipse cx="1887.8" cy="1150.1" rx="5.7" ry="6.0"/><ellipse cx="1951.3" cy="1109.1" rx="5.7" ry="6.0"/><ellipse cx="1956.4" cy="1102.0" rx="5.7" ry="6.0"/><ellipse cx="1961.6" cy="1106.0" rx="5.7" ry="6.0"/><ellipse cx="1971.8" cy="1090.7" rx="5.7" ry="6.0"/><ellipse cx="1972.8" cy="1095.8" rx="5.7" ry="6.0"/><ellipse cx="1970.8" cy="1108.1" rx="5.7" ry="6.0"/><ellipse cx="1971.8" cy="1114.2" rx="5.7" ry="6.0"/><ellipse cx="1959.5" cy="1129.6" rx="5.7" ry="6.0"/><ellipse cx="1972.8" cy="1128.6" rx="5.7" ry="6.0"/><ellipse cx="1922.6" cy="1141.9" rx="5.7" ry="6.0"/><ellipse cx="1930.8" cy="1142.9" rx="5.7" ry="6.0"/><ellipse cx="1951.3" cy="1150.1" rx="5.7" ry="6.0"/><ellipse cx="1930.8" cy="1158.3" rx="5.7" ry="6.0"/><ellipse cx="1966.7" cy="1157.3" rx="5.7" ry="6.0"/><ellipse cx="1943.1" cy="1161.4" rx="5.7" ry="6.0"/><ellipse cx="1798.7" cy="1156.2" rx="5.7" ry="6.0"/><ellipse cx="1807.9" cy="1163.4" rx="5.7" ry="6.0"/><ellipse cx="1732.1" cy="1151.1" rx="5.7" ry="6.0"/><ellipse cx="1758.7" cy="1155.2" rx="5.7" ry="6.0"/><ellipse cx="1751.6" cy="1155.2" rx="5.7" ry="6.0"/><ellipse cx="1740.3" cy="1163.4" rx="5.7" ry="6.0"/><ellipse cx="1752.6" cy="1165.5" rx="5.7" ry="6.0"/><ellipse cx="1766.9" cy="1165.5" rx="5.7" ry="6.0"/><ellipse cx="1767.9" cy="1172.6" rx="5.7" ry="6.0"/><ellipse cx="1647.1" cy="1163.4" rx="5.7" ry="6.0"/><ellipse cx="1642.0" cy="1150.1" rx="5.7" ry="6.0"/><ellipse cx="1655.3" cy="1153.2" rx="5.7" ry="6.0"/><ellipse cx="1661.4" cy="1148.0" rx="5.7" ry="6.0"/><ellipse cx="1572.3" cy="1137.8" rx="5.7" ry="6.0"/><ellipse cx="1592.8" cy="1132.7" rx="5.7" ry="6.0"/><ellipse cx="1611.2" cy="1130.6" rx="5.7" ry="6.0"/><ellipse cx="1603.0" cy="1133.7" rx="5.7" ry="6.0"/><ellipse cx="1616.3" cy="1148.0" rx="5.7" ry="6.0"/><ellipse cx="1908.3" cy="1151.1" rx="5.7" ry="6.0"/><ellipse cx="1900.1" cy="1151.1" rx="5.7" ry="6.0"/><ellipse cx="1912.4" cy="1159.3" rx="5.7" ry="6.0"/><ellipse cx="1855.0" cy="1159.3" rx="5.7" ry="6.0"/><ellipse cx="1865.3" cy="1161.4" rx="5.7" ry="6.0"/><ellipse cx="1875.5" cy="1163.4" rx="5.7" ry="6.0"/><ellipse cx="1887.8" cy="1161.4" rx="5.7" ry="6.0"/><ellipse cx="1898.0" cy="1159.3" rx="5.7" ry="6.0"/>
</g>
<g fill="#aaaaaa" stroke="#555" stroke-width="1">
<ellipse cx="1310.9" cy="1070.2" rx="5.7" ry="6.0"/><ellipse cx="1308.3" cy="1101.3" rx="5.7" ry="6.0"/><ellipse cx="1186.6" cy="1120.4" rx="5.7" ry="6.0"/><ellipse cx="1214.6" cy="1119.4" rx="5.7" ry="6.0"/><ellipse cx="1222.2" cy="1123.5" rx="5.7" ry="6.0"/><ellipse cx="1207.5" cy="1142.9" rx="5.7" ry="6.0"/><ellipse cx="1154.2" cy="1148.0" rx="5.7" ry="6.0"/><ellipse cx="1344.3" cy="1124.5" rx="5.7" ry="6.0"/><ellipse cx="1344.7" cy="1135.8" rx="5.7" ry="6.0"/><ellipse cx="1360.1" cy="1124.5" rx="5.7" ry="6.0"/><ellipse cx="1377.5" cy="1132.7" rx="5.7" ry="6.0"/><ellipse cx="1385.7" cy="1130.6" rx="5.7" ry="6.0"/><ellipse cx="1435.9" cy="1131.7" rx="5.7" ry="6.0"/><ellipse cx="1421.6" cy="1155.2" rx="5.7" ry="6.0"/><ellipse cx="1406.2" cy="1154.2" rx="5.7" ry="6.0"/><ellipse cx="1422.6" cy="1166.5" rx="5.7" ry="6.0"/><ellipse cx="1434.9" cy="1163.4" rx="5.7" ry="6.0"/><ellipse cx="1416.4" cy="1149.1" rx="5.7" ry="6.0"/><ellipse cx="1654.2" cy="1108.1" rx="5.7" ry="6.0"/><ellipse cx="1803.8" cy="1097.9" rx="5.7" ry="6.0"/><ellipse cx="1871.4" cy="1107.7" rx="5.7" ry="6.0"/><ellipse cx="1901.1" cy="1135.8" rx="5.7" ry="6.0"/><ellipse cx="1827.4" cy="1146.0" rx="5.7" ry="6.0"/><ellipse cx="1836.6" cy="1128.0" rx="5.7" ry="6.0"/><ellipse cx="1781.3" cy="1126.1" rx="5.7" ry="6.0"/><ellipse cx="1792.5" cy="1127.6" rx="5.7" ry="6.0"/><ellipse cx="1784.3" cy="1132.3" rx="5.7" ry="6.0"/><ellipse cx="1775.1" cy="1137.8" rx="5.7" ry="6.0"/><ellipse cx="1756.7" cy="1140.9" rx="5.7" ry="6.0"/><ellipse cx="1748.5" cy="1131.7" rx="5.7" ry="6.0"/><ellipse cx="1721.9" cy="1133.7" rx="5.7" ry="6.0"/><ellipse cx="1805.9" cy="1145.0" rx="5.7" ry="6.0"/><ellipse cx="1770.0" cy="1088.6" rx="5.7" ry="6.0"/><ellipse cx="1788.4" cy="1157.3" rx="5.7" ry="6.0"/><ellipse cx="1957.5" cy="1125.5" rx="5.7" ry="6.0"/><ellipse cx="1652.2" cy="1144.0" rx="5.7" ry="6.0"/><ellipse cx="1603.0" cy="1125.5" rx="5.7" ry="6.0"/><ellipse cx="1614.3" cy="1125.5" rx="5.7" ry="6.0"/><ellipse cx="1576.4" cy="1129.6" rx="5.7" ry="6.0"/><ellipse cx="1583.6" cy="1130.6" rx="5.7" ry="6.0"/><ellipse cx="1564.1" cy="1140.9" rx="5.7" ry="6.0"/><ellipse cx="1625.6" cy="1156.2" rx="5.7" ry="6.0"/>
</g>
<g fill="#87ceeb" stroke="#222" stroke-width="1">
<ellipse cx="1525.0" cy="1148.7" rx="5.7" ry="6.0"/><ellipse cx="1469.7" cy="1182.9" rx="5.7" ry="6.0"/><ellipse cx="1468.7" cy="1194.1" rx="5.7" ry="6.0"/><ellipse cx="1559.8" cy="1170.6" rx="5.7" ry="6.0"/><ellipse cx="1558.8" cy="1178.8" rx="5.7" ry="6.0"/><ellipse cx="1650.1" cy="1059.3" rx="5.7" ry="6.0"/><ellipse cx="1573.3" cy="1148.0" rx="5.7" ry="6.0"/><ellipse cx="1594.8" cy="1149.1" rx="5.7" ry="6.0"/><ellipse cx="1609.2" cy="1153.2" rx="5.7" ry="6.0"/><ellipse cx="1615.3" cy="1139.9" rx="5.7" ry="6.0"/><ellipse cx="1632.7" cy="1139.2" rx="5.7" ry="6.0"/><ellipse cx="1627.6" cy="1141.3" rx="5.7" ry="6.0"/><ellipse cx="1634.8" cy="1153.6" rx="5.7" ry="6.0"/><ellipse cx="1571.3" cy="1156.2" rx="5.7" ry="6.0"/><ellipse cx="1563.1" cy="1169.6" rx="5.7" ry="6.0"/><ellipse cx="1600.0" cy="1167.5" rx="5.7" ry="6.0"/><ellipse cx="1595.9" cy="1173.7" rx="5.7" ry="6.0"/><ellipse cx="1618.4" cy="1176.1" rx="5.7" ry="6.0"/><ellipse cx="1614.3" cy="1194.6" rx="5.7" ry="6.0"/><ellipse cx="1671.7" cy="1149.1" rx="5.7" ry="6.0"/><ellipse cx="1679.9" cy="1150.1" rx="5.7" ry="6.0"/><ellipse cx="1667.6" cy="1150.1" rx="5.7" ry="6.0"/><ellipse cx="1705.9" cy="1149.1" rx="5.7" ry="6.0"/><ellipse cx="1716.7" cy="1150.1" rx="5.7" ry="6.0"/><ellipse cx="1671.7" cy="1161.4" rx="5.7" ry="6.0"/><ellipse cx="1685.4" cy="1178.2" rx="5.7" ry="6.0"/><ellipse cx="1707.5" cy="1171.6" rx="5.7" ry="6.0"/><ellipse cx="1723.9" cy="1166.5" rx="5.7" ry="6.0"/><ellipse cx="1717.8" cy="1176.7" rx="5.7" ry="6.0"/><ellipse cx="1722.9" cy="1198.7" rx="5.7" ry="6.0"/><ellipse cx="1741.3" cy="1187.6" rx="5.7" ry="6.0"/><ellipse cx="1756.7" cy="1185.5" rx="5.7" ry="6.0"/><ellipse cx="1755.0" cy="1192.1" rx="5.7" ry="6.0"/><ellipse cx="1781.3" cy="1175.7" rx="5.7" ry="6.0"/><ellipse cx="1827.4" cy="1164.4" rx="5.7" ry="6.0"/><ellipse cx="1562.0" cy="1179.8" rx="5.7" ry="6.0"/>
</g>
<g fill="#00ff00" stroke="#222" stroke-width="1">
<ellipse cx="1632.7" cy="1067.1" rx="5.7" ry="6.0"/>
</g>
<polygon points="1556.7,902.4 1563.9,896.0 1571.1000000000001,902.4 1563.9,908.8" fill="#8224e3" stroke="#222" stroke-width="1"/>
</g>
<text x="1563.9" y="891.5" text-anchor="middle" font-size="17" fill="#222">rs115505361</text>
<text class="pl" x="10" y="32.3" style="font-size:34px">a</text>
<rect x="114.5" y="15.5" width="841" height="14" fill="#4e4e4e" stroke="#333" stroke-width="1"/>
<rect x="114" y="54" width="842" height="465.5" fill="none" stroke="#c8c8c8" stroke-width="1.5"/>
<line x1="114" y1="75.0" x2="114" y2="498.0" stroke="#8a8a8a" stroke-width="1.5"/>
<line x1="102.5" y1="498.0" x2="114" y2="498.0" stroke="#777" stroke-width="1.3"/>
<text class="tk" x="92.5" y="504.1" text-anchor="end">0</text>
<line x1="102.5" y1="413.4" x2="114" y2="413.4" stroke="#777" stroke-width="1.3"/>
<text class="tk" x="92.5" y="419.5" text-anchor="end">2</text>
<line x1="102.5" y1="328.8" x2="114" y2="328.8" stroke="#777" stroke-width="1.3"/>
<text class="tk" x="92.5" y="334.90000000000003" text-anchor="end">4</text>
<line x1="102.5" y1="244.20000000000002" x2="114" y2="244.20000000000002" stroke="#777" stroke-width="1.3"/>
<text class="tk" x="92.5" y="250.3" text-anchor="end">6</text>
<line x1="102.5" y1="159.60000000000002" x2="114" y2="159.60000000000002" stroke="#777" stroke-width="1.3"/>
<text class="tk" x="92.5" y="165.70000000000002" text-anchor="end">8</text>
<line x1="102.5" y1="75.0" x2="114" y2="75.0" stroke="#777" stroke-width="1.3"/>
<text class="tk" x="92.5" y="81.1" text-anchor="end">10</text>
<line x1="956" y1="75.0" x2="956" y2="498.0" stroke="#8c8cf0" stroke-width="1.5"/>
<line x1="956" y1="498.0" x2="967.5" y2="498.0" stroke="#7777f0" stroke-width="1.3"/>
<text class="rt" x="978" y="504.1">0</text>
<line x1="956" y1="413.4" x2="967.5" y2="413.4" stroke="#7777f0" stroke-width="1.3"/>
<text class="rt" x="978" y="419.5">20</text>
<line x1="956" y1="328.8" x2="967.5" y2="328.8" stroke="#7777f0" stroke-width="1.3"/>
<text class="rt" x="978" y="334.90000000000003">40</text>
<line x1="956" y1="244.20000000000002" x2="967.5" y2="244.20000000000002" stroke="#7777f0" stroke-width="1.3"/>
<text class="rt" x="978" y="250.3">60</text>
<line x1="956" y1="159.60000000000002" x2="967.5" y2="159.60000000000002" stroke="#7777f0" stroke-width="1.3"/>
<text class="rt" x="978" y="165.70000000000002">80</text>
<line x1="956" y1="75.0" x2="967.5" y2="75.0" stroke="#7777f0" stroke-width="1.3"/>
<text class="rt" x="978" y="81.1">100</text>
<text class="tk" transform="translate(54,287.4) rotate(-90)" text-anchor="middle" font-size="17" textLength="119.7" lengthAdjust="spacingAndGlyphs">−log<tspan font-size="12" dy="4">10</tspan><tspan dy="-4">(p−value)</tspan></text>
<text class="rt" transform="translate(1012.5,287.2) rotate(90)" text-anchor="middle" textLength="219.5" lengthAdjust="spacingAndGlyphs">Recombination rate (cM/Mb)</text>
<rect x="114" y="541" width="842" height="99.5" fill="none" stroke="#c8c8c8" stroke-width="1.5"/>
<line x1="279.6" y1="640.5" x2="910.9" y2="640.5" stroke="#8a8a8a" stroke-width="1.5"/>
<line x1="279.6" y1="640.5" x2="279.6" y2="651.0" stroke="#777" stroke-width="1.3"/>
<text class="tk" x="279.6" y="678.0" text-anchor="middle">18.4</text>
<line x1="490.2" y1="640.5" x2="490.2" y2="651.0" stroke="#777" stroke-width="1.3"/>
<text class="tk" x="490.2" y="678.0" text-anchor="middle">18.6</text>
<line x1="700.7" y1="640.5" x2="700.7" y2="651.0" stroke="#777" stroke-width="1.3"/>
<text class="tk" x="700.7" y="678.0" text-anchor="middle">18.8</text>
<line x1="910.9" y1="640.5" x2="910.9" y2="651.0" stroke="#777" stroke-width="1.3"/>
<text class="tk" x="910.9" y="678.0" text-anchor="middle">19</text>
<text class="tk" x="535.1" y="702.8" text-anchor="middle">Position on chr2 (Mb)</text>
<rect x="121.8" y="62.5" width="70.60000000000001" height="166.3" fill="#fff" stroke="#777" stroke-width="1.3"/>
<rect x="132.3" y="91.7" width="16.899999999999977" height="25.58" fill="#ff0000"/>
<rect x="132.3" y="117.28" width="16.899999999999977" height="25.58" fill="#ffa500"/>
<rect x="132.3" y="142.86" width="16.899999999999977" height="25.58" fill="#00ff00"/>
<rect x="132.3" y="168.44" width="16.899999999999977" height="25.58" fill="#87ceeb"/>
<rect x="132.3" y="194.01999999999998" width="16.899999999999977" height="25.58" fill="#000080"/>
<rect x="132.3" y="91.7" width="16.899999999999977" height="127.89999999999999" fill="none" stroke="#222" stroke-width="1"/>
<line x1="149.2" y1="117.28" x2="157.2" y2="117.28" stroke="#444" stroke-width="1.2"/>
<text class="lg" x="162.2" y="122.58">0.8</text>
<line x1="149.2" y1="142.86" x2="157.2" y2="142.86" stroke="#444" stroke-width="1.2"/>
<text class="lg" x="162.2" y="148.16000000000003">0.6</text>
<line x1="149.2" y1="168.44" x2="157.2" y2="168.44" stroke="#444" stroke-width="1.2"/>
<text class="lg" x="162.2" y="173.74">0.4</text>
<line x1="149.2" y1="194.01999999999998" x2="157.2" y2="194.01999999999998" stroke="#444" stroke-width="1.2"/>
<text class="lg" x="162.2" y="199.32">0.2</text>
<text class="lg" x="151.25" y="83.7" font-size="16">r<tspan font-size="10.5" dy="-7" dx="0.5">2</tspan></text>
<text class="pl" x="1035.8" y="32.5">b</text>
<rect x="1150.5" y="13.7" width="630.5999999999999" height="13.400000000000002" fill="#4e4e4e" stroke="#333" stroke-width="1"/>
<rect x="1833.1" y="13.7" width="144.4000000000001" height="13.400000000000002" fill="#4e4e4e" stroke="#333" stroke-width="1"/>
<rect x="1150.2" y="50.7" width="827.3" height="478.00000000000006" fill="none" stroke="#c8c8c8" stroke-width="1.5"/>
<line x1="1150.2" y1="72.0" x2="1150.2" y2="507.5" stroke="#8a8a8a" stroke-width="1.5"/>
<line x1="1138.7" y1="507.5" x2="1150.2" y2="507.5" stroke="#777" stroke-width="1.3"/>
<text class="tk" x="1128.7" y="513.6" text-anchor="end">0</text>
<line x1="1138.7" y1="420.4" x2="1150.2" y2="420.4" stroke="#777" stroke-width="1.3"/>
<text class="tk" x="1128.7" y="426.5" text-anchor="end">2</text>
<line x1="1138.7" y1="333.3" x2="1150.2" y2="333.3" stroke="#777" stroke-width="1.3"/>
<text class="tk" x="1128.7" y="339.40000000000003" text-anchor="end">4</text>
<line x1="1138.7" y1="246.20000000000005" x2="1150.2" y2="246.20000000000005" stroke="#777" stroke-width="1.3"/>
<text class="tk" x="1128.7" y="252.30000000000004" text-anchor="end">6</text>
<line x1="1138.7" y1="159.10000000000002" x2="1150.2" y2="159.10000000000002" stroke="#777" stroke-width="1.3"/>
<text class="tk" x="1128.7" y="165.20000000000002" text-anchor="end">8</text>
<line x1="1138.7" y1="72.0" x2="1150.2" y2="72.0" stroke="#777" stroke-width="1.3"/>
<text class="tk" x="1128.7" y="78.1" text-anchor="end">10</text>
<line x1="1977.5" y1="72.0" x2="1977.5" y2="507.5" stroke="#8c8cf0" stroke-width="1.5"/>
<line x1="1977.5" y1="507.5" x2="1989.0" y2="507.5" stroke="#7777f0" stroke-width="1.3"/>
<text class="rt" x="1999.5" y="513.6">0</text>
<line x1="1977.5" y1="420.4" x2="1989.0" y2="420.4" stroke="#7777f0" stroke-width="1.3"/>
<text class="rt" x="1999.5" y="426.5">20</text>
<line x1="1977.5" y1="333.3" x2="1989.0" y2="333.3" stroke="#7777f0" stroke-width="1.3"/>
<text class="rt" x="1999.5" y="339.40000000000003">40</text>
<line x1="1977.5" y1="246.20000000000005" x2="1989.0" y2="246.20000000000005" stroke="#7777f0" stroke-width="1.3"/>
<text class="rt" x="1999.5" y="252.30000000000004">60</text>
<line x1="1977.5" y1="159.10000000000002" x2="1989.0" y2="159.10000000000002" stroke="#7777f0" stroke-width="1.3"/>
<text class="rt" x="1999.5" y="165.20000000000002">80</text>
<line x1="1977.5" y1="72.0" x2="1989.0" y2="72.0" stroke="#7777f0" stroke-width="1.3"/>
<text class="rt" x="1999.5" y="78.1">100</text>
<text class="tk" transform="translate(1090.2,290.0) rotate(-90)" text-anchor="middle" font-size="17" textLength="116.4" lengthAdjust="spacingAndGlyphs">−log<tspan font-size="12" dy="4">10</tspan><tspan dy="-4">(p−value)</tspan></text>
<text class="rt" transform="translate(2034.0,289.5) rotate(90)" text-anchor="middle" textLength="209.1" lengthAdjust="spacingAndGlyphs">Recombination rate (cM/Mb)</text>
<rect x="1150.2" y="550" width="827.3" height="62.700000000000045" fill="none" stroke="#c8c8c8" stroke-width="1.5"/>
<line x1="1285.3" y1="612.7" x2="1905.7" y2="612.7" stroke="#8a8a8a" stroke-width="1.5"/>
<line x1="1285.3" y1="612.7" x2="1285.3" y2="623.2" stroke="#777" stroke-width="1.3"/>
<text class="tk" x="1285.3" y="649.4" text-anchor="middle">15.8</text>
<line x1="1491.9" y1="612.7" x2="1491.9" y2="623.2" stroke="#777" stroke-width="1.3"/>
<text class="tk" x="1491.9" y="649.4" text-anchor="middle">16</text>
<line x1="1699" y1="612.7" x2="1699" y2="623.2" stroke="#777" stroke-width="1.3"/>
<text class="tk" x="1699" y="649.4" text-anchor="middle">16.2</text>
<line x1="1905.7" y1="612.7" x2="1905.7" y2="623.2" stroke="#777" stroke-width="1.3"/>
<text class="tk" x="1905.7" y="649.4" text-anchor="middle">16.4</text>
<text class="tk" x="1564" y="673" text-anchor="middle">Position on chr2 (Mb)</text>
<rect x="1157.9" y="58.8" width="69.89999999999986" height="159.0" fill="#fff" stroke="#777" stroke-width="1.3"/>
<rect x="1168.4" y="86.6" width="16.199999999999818" height="24.6" fill="#ff0000"/>
<rect x="1168.4" y="111.19999999999999" width="16.199999999999818" height="24.6" fill="#ffa500"/>
<rect x="1168.4" y="135.8" width="16.199999999999818" height="24.6" fill="#00ff00"/>
<rect x="1168.4" y="160.4" width="16.199999999999818" height="24.6" fill="#87ceeb"/>
<rect x="1168.4" y="185.0" width="16.199999999999818" height="24.6" fill="#000080"/>
<rect x="1168.4" y="86.6" width="16.199999999999818" height="123.0" fill="none" stroke="#222" stroke-width="1"/>
<line x1="1184.6" y1="111.19999999999999" x2="1192.6" y2="111.19999999999999" stroke="#444" stroke-width="1.2"/>
<text class="lg" x="1197.6" y="116.49999999999999">0.8</text>
<line x1="1184.6" y1="135.8" x2="1192.6" y2="135.8" stroke="#444" stroke-width="1.2"/>
<text class="lg" x="1197.6" y="141.10000000000002">0.6</text>
<line x1="1184.6" y1="160.4" x2="1192.6" y2="160.4" stroke="#444" stroke-width="1.2"/>
<text class="lg" x="1197.6" y="165.70000000000002">0.4</text>
<line x1="1184.6" y1="185.0" x2="1192.6" y2="185.0" stroke="#444" stroke-width="1.2"/>
<text class="lg" x="1197.6" y="190.3">0.2</text>
<text class="lg" x="1187.0" y="78.6" font-size="16">r<tspan font-size="10.5" dy="-7" dx="0.5">2</tspan></text>
<text class="pl" x="4" y="736.9" style="font-size:35px">c</text>
<rect x="114.7" y="726.6" width="571.6999999999999" height="12.299999999999955" fill="#4e4e4e" stroke="#333" stroke-width="1"/>
<rect x="690.4" y="726.6" width="264.6" height="12.299999999999955" fill="#4e4e4e" stroke="#333" stroke-width="1"/>
<rect x="114.2" y="760.8" width="841.3" height="436.70000000000005" fill="none" stroke="#c8c8c8" stroke-width="1.5"/>
<line x1="114.2" y1="779.8999999999999" x2="114.2" y2="1177.6" stroke="#8a8a8a" stroke-width="1.5"/>
<line x1="102.7" y1="1177.6" x2="114.2" y2="1177.6" stroke="#777" stroke-width="1.3"/>
<text class="tk" x="92.7" y="1183.6999999999998" text-anchor="end">0</text>
<line x1="102.7" y1="1098.06" x2="114.2" y2="1098.06" stroke="#777" stroke-width="1.3"/>
<text class="tk" x="92.7" y="1104.1599999999999" text-anchor="end">2</text>
<line x1="102.7" y1="1018.5199999999999" x2="114.2" y2="1018.5199999999999" stroke="#777" stroke-width="1.3"/>
<text class="tk" x="92.7" y="1024.62" text-anchor="end">4</text>
<line x1="102.7" y1="938.9799999999999" x2="114.2" y2="938.9799999999999" stroke="#777" stroke-width="1.3"/>
<text class="tk" x="92.7" y="945.0799999999999" text-anchor="end">6</text>
<line x1="102.7" y1="859.4399999999998" x2="114.2" y2="859.4399999999998" stroke="#777" stroke-width="1.3"/>
<text class="tk" x="92.7" y="865.5399999999998" text-anchor="end">8</text>
<line x1="102.7" y1="779.8999999999999" x2="114.2" y2="779.8999999999999" stroke="#777" stroke-width="1.3"/>
<text class="tk" x="92.7" y="785.9999999999999" text-anchor="end">10</text>
<line x1="955.5" y1="779.8999999999999" x2="955.5" y2="1177.6" stroke="#8c8cf0" stroke-width="1.5"/>
<line x1="955.5" y1="1177.6" x2="967.0" y2="1177.6" stroke="#7777f0" stroke-width="1.3"/>
<text class="rt" x="977.5" y="1183.6999999999998">0</text>
<line x1="955.5" y1="1098.06" x2="967.0" y2="1098.06" stroke="#7777f0" stroke-width="1.3"/>
<text class="rt" x="977.5" y="1104.1599999999999">20</text>
<line x1="955.5" y1="1018.5199999999999" x2="967.0" y2="1018.5199999999999" stroke="#7777f0" stroke-width="1.3"/>
<text class="rt" x="977.5" y="1024.62">40</text>
<line x1="955.5" y1="938.9799999999999" x2="967.0" y2="938.9799999999999" stroke="#7777f0" stroke-width="1.3"/>
<text class="rt" x="977.5" y="945.0799999999999">60</text>
<line x1="955.5" y1="859.4399999999998" x2="967.0" y2="859.4399999999998" stroke="#7777f0" stroke-width="1.3"/>
<text class="rt" x="977.5" y="865.5399999999998">80</text>
<line x1="955.5" y1="779.8999999999999" x2="967.0" y2="779.8999999999999" stroke="#7777f0" stroke-width="1.3"/>
<text class="rt" x="977.5" y="785.9999999999999">100</text>
<text class="tk" transform="translate(54.2,979.7) rotate(-90)" text-anchor="middle" font-size="17" textLength="105.5" lengthAdjust="spacingAndGlyphs">−log<tspan font-size="12" dy="4">10</tspan><tspan dy="-4">(p−value)</tspan></text>
<text class="rt" transform="translate(1012.0,978.5) rotate(90)" text-anchor="middle" textLength="190.8" lengthAdjust="spacingAndGlyphs">Recombination rate (cM/Mb)</text>
<rect x="114.2" y="1216.4" width="841.3" height="57.59999999999991" fill="none" stroke="#c8c8c8" stroke-width="1.5"/>
<line x1="278.3" y1="1274" x2="909.8" y2="1274" stroke="#8a8a8a" stroke-width="1.5"/>
<line x1="278.3" y1="1274" x2="278.3" y2="1284.5" stroke="#777" stroke-width="1.3"/>
<text class="tk" x="278.3" y="1308.2" text-anchor="middle">239.4</text>
<line x1="488.5" y1="1274" x2="488.5" y2="1284.5" stroke="#777" stroke-width="1.3"/>
<text class="tk" x="488.5" y="1308.2" text-anchor="middle">239.6</text>
<line x1="699.6" y1="1274" x2="699.6" y2="1284.5" stroke="#777" stroke-width="1.3"/>
<text class="tk" x="699.6" y="1308.2" text-anchor="middle">239.8</text>
<line x1="909.8" y1="1274" x2="909.8" y2="1284.5" stroke="#777" stroke-width="1.3"/>
<text class="tk" x="909.8" y="1308.2" text-anchor="middle">240</text>
<text class="tk" x="535" y="1329.8" text-anchor="middle">Position on chr1 (Mb)</text>
<rect x="876.5" y="767.7" width="71.39999999999998" height="145.5999999999999" fill="#fff" stroke="#777" stroke-width="1.3"/>
<rect x="887.2" y="793.3" width="16.59999999999991" height="22.44000000000001" fill="#ff0000"/>
<rect x="887.2" y="815.74" width="16.59999999999991" height="22.44000000000001" fill="#ffa500"/>
<rect x="887.2" y="838.18" width="16.59999999999991" height="22.44000000000001" fill="#00ff00"/>
<rect x="887.2" y="860.62" width="16.59999999999991" height="22.44000000000001" fill="#87ceeb"/>
<rect x="887.2" y="883.06" width="16.59999999999991" height="22.44000000000001" fill="#000080"/>
<rect x="887.2" y="793.3" width="16.59999999999991" height="112.20000000000005" fill="none" stroke="#222" stroke-width="1"/>
<line x1="903.8" y1="815.74" x2="911.8" y2="815.74" stroke="#444" stroke-width="1.2"/>
<text class="lg" x="916.8" y="821.04">0.8</text>
<line x1="903.8" y1="838.18" x2="911.8" y2="838.18" stroke="#444" stroke-width="1.2"/>
<text class="lg" x="916.8" y="843.4799999999999">0.6</text>
<line x1="903.8" y1="860.62" x2="911.8" y2="860.62" stroke="#444" stroke-width="1.2"/>
<text class="lg" x="916.8" y="865.92">0.4</text>
<line x1="903.8" y1="883.06" x2="911.8" y2="883.06" stroke="#444" stroke-width="1.2"/>
<text class="lg" x="916.8" y="888.3599999999999">0.2</text>
<text class="lg" x="906.0" y="785.3" font-size="16">r<tspan font-size="10.5" dy="-7" dx="0.5">2</tspan></text>
<text class="pl" x="1044.5" y="752.7">d</text>
<rect x="1150.5" y="726.7" width="468" height="12.699999999999932" fill="#4e4e4e" stroke="#333" stroke-width="1"/>
<rect x="1621.5" y="726.7" width="356" height="12.699999999999932" fill="#4e4e4e" stroke="#333" stroke-width="1"/>
<rect x="1150.2" y="762" width="827.0999999999999" height="489.5" fill="none" stroke="#c8c8c8" stroke-width="1.5"/>
<line x1="1150.2" y1="783.9999999999999" x2="1150.2" y2="1229.6" stroke="#8a8a8a" stroke-width="1.5"/>
<line x1="1138.7" y1="1229.6" x2="1150.2" y2="1229.6" stroke="#777" stroke-width="1.3"/>
<text class="tk" x="1128.7" y="1235.6999999999998" text-anchor="end">0</text>
<line x1="1138.7" y1="1140.48" x2="1150.2" y2="1140.48" stroke="#777" stroke-width="1.3"/>
<text class="tk" x="1128.7" y="1146.58" text-anchor="end">2</text>
<line x1="1138.7" y1="1051.36" x2="1150.2" y2="1051.36" stroke="#777" stroke-width="1.3"/>
<text class="tk" x="1128.7" y="1057.4599999999998" text-anchor="end">4</text>
<line x1="1138.7" y1="962.2399999999999" x2="1150.2" y2="962.2399999999999" stroke="#777" stroke-width="1.3"/>
<text class="tk" x="1128.7" y="968.3399999999999" text-anchor="end">6</text>
<line x1="1138.7" y1="873.1199999999999" x2="1150.2" y2="873.1199999999999" stroke="#777" stroke-width="1.3"/>
<text class="tk" x="1128.7" y="879.2199999999999" text-anchor="end">8</text>
<line x1="1138.7" y1="783.9999999999999" x2="1150.2" y2="783.9999999999999" stroke="#777" stroke-width="1.3"/>
<text class="tk" x="1128.7" y="790.0999999999999" text-anchor="end">10</text>
<line x1="1977.3" y1="783.9999999999999" x2="1977.3" y2="1229.6" stroke="#8c8cf0" stroke-width="1.5"/>
<line x1="1977.3" y1="1229.6" x2="1988.8" y2="1229.6" stroke="#7777f0" stroke-width="1.3"/>
<text class="rt" x="1999.3" y="1235.6999999999998">0</text>
<line x1="1977.3" y1="1140.48" x2="1988.8" y2="1140.48" stroke="#7777f0" stroke-width="1.3"/>
<text class="rt" x="1999.3" y="1146.58">20</text>
<line x1="1977.3" y1="1051.36" x2="1988.8" y2="1051.36" stroke="#7777f0" stroke-width="1.3"/>
<text class="rt" x="1999.3" y="1057.4599999999998">40</text>
<line x1="1977.3" y1="962.2399999999999" x2="1988.8" y2="962.2399999999999" stroke="#7777f0" stroke-width="1.3"/>
<text class="rt" x="1999.3" y="968.3399999999999">60</text>
<line x1="1977.3" y1="873.1199999999999" x2="1988.8" y2="873.1199999999999" stroke="#7777f0" stroke-width="1.3"/>
<text class="rt" x="1999.3" y="879.2199999999999">80</text>
<line x1="1977.3" y1="783.9999999999999" x2="1988.8" y2="783.9999999999999" stroke="#7777f0" stroke-width="1.3"/>
<text class="rt" x="1999.3" y="790.0999999999999">100</text>
<text class="tk" transform="translate(1090.2,1007.2) rotate(-90)" text-anchor="middle" font-size="17" textLength="111.4" lengthAdjust="spacingAndGlyphs">−log<tspan font-size="12" dy="4">10</tspan><tspan dy="-4">(p−value)</tspan></text>
<text class="rt" transform="translate(2033.8,1004.4) rotate(90)" text-anchor="middle" textLength="195.5" lengthAdjust="spacingAndGlyphs">Recombination rate (cM/Mb)</text>
<rect x="1150.2" y="1272.2" width="827.0999999999999" height="29.0" fill="none" stroke="#c8c8c8" stroke-width="1.5"/>
<line x1="1242.2" y1="1301.2" x2="1862.6" y2="1301.2" stroke="#8a8a8a" stroke-width="1.5"/>
<line x1="1242.2" y1="1301.2" x2="1242.2" y2="1311.7" stroke="#777" stroke-width="1.3"/>
<text class="tk" x="1242.2" y="1337.0" text-anchor="middle">49.2</text>
<line x1="1449" y1="1301.2" x2="1449" y2="1311.7" stroke="#777" stroke-width="1.3"/>
<text class="tk" x="1449" y="1337.0" text-anchor="middle">49.4</text>
<line x1="1655.8" y1="1301.2" x2="1655.8" y2="1311.7" stroke="#777" stroke-width="1.3"/>
<text class="tk" x="1655.8" y="1337.0" text-anchor="middle">49.6</text>
<line x1="1862.6" y1="1301.2" x2="1862.6" y2="1311.7" stroke="#777" stroke-width="1.3"/>
<text class="tk" x="1862.6" y="1337.0" text-anchor="middle">49.8</text>
<text class="tk" x="1564" y="1359.8" text-anchor="middle">Position on chr14 (Mb)</text>
<rect x="1157.9" y="769.7" width="70.29999999999995" height="153.0" fill="#fff" stroke="#777" stroke-width="1.3"/>
<rect x="1168.4" y="796.6" width="16.199999999999818" height="23.6" fill="#ff0000"/>
<rect x="1168.4" y="820.2" width="16.199999999999818" height="23.6" fill="#ffa500"/>
<rect x="1168.4" y="843.8000000000001" width="16.199999999999818" height="23.6" fill="#00ff00"/>
<rect x="1168.4" y="867.4000000000001" width="16.199999999999818" height="23.6" fill="#87ceeb"/>
<rect x="1168.4" y="891.0" width="16.199999999999818" height="23.6" fill="#000080"/>
<rect x="1168.4" y="796.6" width="16.199999999999818" height="118.0" fill="none" stroke="#222" stroke-width="1"/>
<line x1="1184.6" y1="820.2" x2="1192.6" y2="820.2" stroke="#444" stroke-width="1.2"/>
<text class="lg" x="1197.6" y="825.5">0.8</text>
<line x1="1184.6" y1="843.8000000000001" x2="1192.6" y2="843.8000000000001" stroke="#444" stroke-width="1.2"/>
<text class="lg" x="1197.6" y="849.1">0.6</text>
<line x1="1184.6" y1="867.4000000000001" x2="1192.6" y2="867.4000000000001" stroke="#444" stroke-width="1.2"/>
<text class="lg" x="1197.6" y="872.7">0.4</text>
<line x1="1184.6" y1="891.0" x2="1192.6" y2="891.0" stroke="#444" stroke-width="1.2"/>
<text class="lg" x="1197.6" y="896.3">0.2</text>
<text class="lg" x="1187.0" y="788.6" font-size="16">r<tspan font-size="10.5" dy="-7" dx="0.5">2</tspan></text>
<line x1="607.2" y1="552.6" x2="617.8000000000001" y2="552.6" stroke="#111" stroke-width="1.3"/><polygon points="608.2,549.6 602.2,552.6 608.2,555.6" fill="#111"/><text class="gn" x="621.2" y="558.4">RDH14</text>
<line x1="632.3" y1="564.6" x2="640.3" y2="564.6" stroke="#4a4ac8" stroke-width="1.2"/><rect x="632.3" y="562.1" width="2.2000000000000455" height="5" fill="#000080"/><rect x="638" y="562.1" width="2.2999999999999545" height="5" fill="#000080"/>
<line x1="590" y1="585.9" x2="600.6" y2="585.9" stroke="#111" stroke-width="1.3"/><polygon points="591,582.9 585,585.9 591,588.9" fill="#111"/><text class="gn" x="603.9" y="591.7">NT5C1B−RDH14</text>
<line x1="632.3" y1="597.8" x2="670.4" y2="597.8" stroke="#4a4ac8" stroke-width="1.2"/><rect x="632.3" y="595.3" width="2.5" height="5" fill="#000080"/><rect x="641.5" y="595.3" width="2.0" height="5" fill="#000080"/><rect x="654" y="595.3" width="2" height="5" fill="#000080"/><rect x="662" y="595.3" width="8.399999999999977" height="5" fill="#000080"/>
<line x1="622.8" y1="618.6" x2="633.4" y2="618.6" stroke="#111" stroke-width="1.3"/><polygon points="623.8,615.6 617.8,618.6 623.8,621.6" fill="#111"/><text class="gn" x="636.6" y="624.4">NT5C1B</text>
<line x1="641.4" y1="631.1" x2="670.4" y2="631.1" stroke="#4a4ac8" stroke-width="1.2"/><rect x="641.4" y="628.6" width="2.2000000000000455" height="5" fill="#000080"/><rect x="654" y="628.6" width="2" height="5" fill="#000080"/><rect x="662" y="628.6" width="8.399999999999977" height="5" fill="#000080"/>
<g style="font-size:14px">
<line x1="1156.8" y1="560.4" x2="1166.6" y2="560.4" stroke="#111" stroke-width="1.3"/><polygon points="1157.8,557.4 1151.8,560.4 1157.8,563.4" fill="#111"/><text class="gn" x="1170.2" y="565.9" style="font-size:14px">NBAS</text>
<line x1="1150.5" y1="572.4" x2="1183.3" y2="572.4" stroke="#4a4ac8" stroke-width="1.2"/><rect x="1152" y="570.15" width="3" height="4.5" fill="#000080"/><rect x="1156.5" y="570.15" width="2.5" height="4.5" fill="#000080"/><rect x="1171" y="570.15" width="3" height="4.5" fill="#000080"/><rect x="1175" y="570.15" width="2.5" height="4.5" fill="#000080"/><rect x="1179.5" y="570.15" width="3.7999999999999545" height="4.5" fill="#000080"/>
<text class="gn" x="1274.3" y="565.9" style="font-size:14px">LOC101926966</text><line x1="1376.5" y1="560.4" x2="1386.5" y2="560.4" stroke="#111" stroke-width="1.3"/><polygon points="1385.5,557.4 1391.5,560.4 1385.5,563.4" fill="#111"/>
<line x1="1315.7" y1="572.4" x2="1346.9" y2="572.4" stroke="#4a4ac8" stroke-width="1.2"/><rect x="1315.7" y="570.15" width="1.7999999999999545" height="4.5" fill="#000080"/><rect x="1323" y="570.15" width="2" height="4.5" fill="#000080"/><rect x="1343.5" y="570.15" width="3.400000000000091" height="4.5" fill="#000080"/>
<text class="gn" x="1209.6" y="597.9" style="font-size:14px">DDX1</text><line x1="1247" y1="592.4" x2="1258.4" y2="592.4" stroke="#111" stroke-width="1.3"/><polygon points="1257.4,589.4 1263.4,592.4 1257.4,595.4" fill="#111"/>
<line x1="1212.7" y1="604.1" x2="1255.6" y2="604.1" stroke="#4a4ac8" stroke-width="1.2"/><rect x="1212.7" y="601.85" width="2.2999999999999545" height="4.5" fill="#000080"/><rect x="1216.5" y="601.85" width="2.5" height="4.5" fill="#000080"/><rect x="1222" y="601.85" width="5" height="4.5" fill="#000080"/><rect x="1229" y="601.85" width="2" height="4.5" fill="#000080"/><rect x="1236" y="601.85" width="2" height="4.5" fill="#000080"/><rect x="1240" y="601.85" width="3" height="4.5" fill="#000080"/><rect x="1245" y="601.85" width="3" height="4.5" fill="#000080"/><rect x="1252" y="601.85" width="3.599999999999909" height="4.5" fill="#000080"/>
<line x1="1537.5" y1="560.8" x2="1547.3" y2="560.8" stroke="#111" stroke-width="1.3"/><polygon points="1538.5,557.8 1532.5,560.8 1538.5,563.8" fill="#111"/><text class="gn" x="1550.6" y="566.2" style="font-size:14px">MYCNOS</text>
<line x1="1570.3" y1="572.3" x2="1576.6" y2="572.3" stroke="#4a4ac8" stroke-width="1.2"/><rect x="1570.3" y="570.05" width="6.2999999999999545" height="4.5" fill="#000080"/>
<text class="gn" x="1550.6" y="598" style="font-size:14px">MYCN</text><line x1="1592.6" y1="592.5" x2="1604.8999999999999" y2="592.5" stroke="#111" stroke-width="1.3"/><polygon points="1603.8999999999999,589.5 1609.8999999999999,592.5 1603.8999999999999,595.5" fill="#111"/>
<line x1="1575" y1="603.7" x2="1583" y2="603.7" stroke="#4a4ac8" stroke-width="1.2"/><rect x="1575" y="601.45" width="2" height="4.5" fill="#000080"/><rect x="1580.5" y="601.45" width="2.5" height="4.5" fill="#000080"/>
</g>
<text class="gn" x="806.7" y="1231.8">CHRM3</text><line x1="858.8" y1="1226.2" x2="869.5999999999999" y2="1226.2" stroke="#111" stroke-width="1.3"/><polygon points="868.5999999999999,1223.2 874.5999999999999,1226.2 868.5999999999999,1229.2" fill="#111"/>
<line x1="690.2" y1="1236.7" x2="955.5" y2="1236.7" stroke="#4a4ac8" stroke-width="1.2"/><rect x="690.2" y="1234.7" width="3.7999999999999545" height="4" fill="#000080"/><rect x="741.8" y="1234.7" width="2.2000000000000455" height="4" fill="#000080"/><rect x="899" y="1234.7" width="2" height="4" fill="#000080"/>
<line x1="730.4" y1="1255.3" x2="740.9" y2="1255.3" stroke="#111" stroke-width="1.3"/><polygon points="731.4,1252.3 725.4,1255.3 731.4,1258.3" fill="#111"/><text class="gn" x="743.9" y="1260.9">CHRM3−AS2</text>
<line x1="772.8" y1="1266.3" x2="787.2" y2="1266.3" stroke="#4a4ac8" stroke-width="1.2"/><rect x="772.8" y="1264.05" width="2.0" height="4.5" fill="#000080"/><rect x="778" y="1264.05" width="2.5" height="4.5" fill="#000080"/><rect x="784.5" y="1264.05" width="2.7000000000000455" height="4.5" fill="#000080"/>
</svg></body></html>
